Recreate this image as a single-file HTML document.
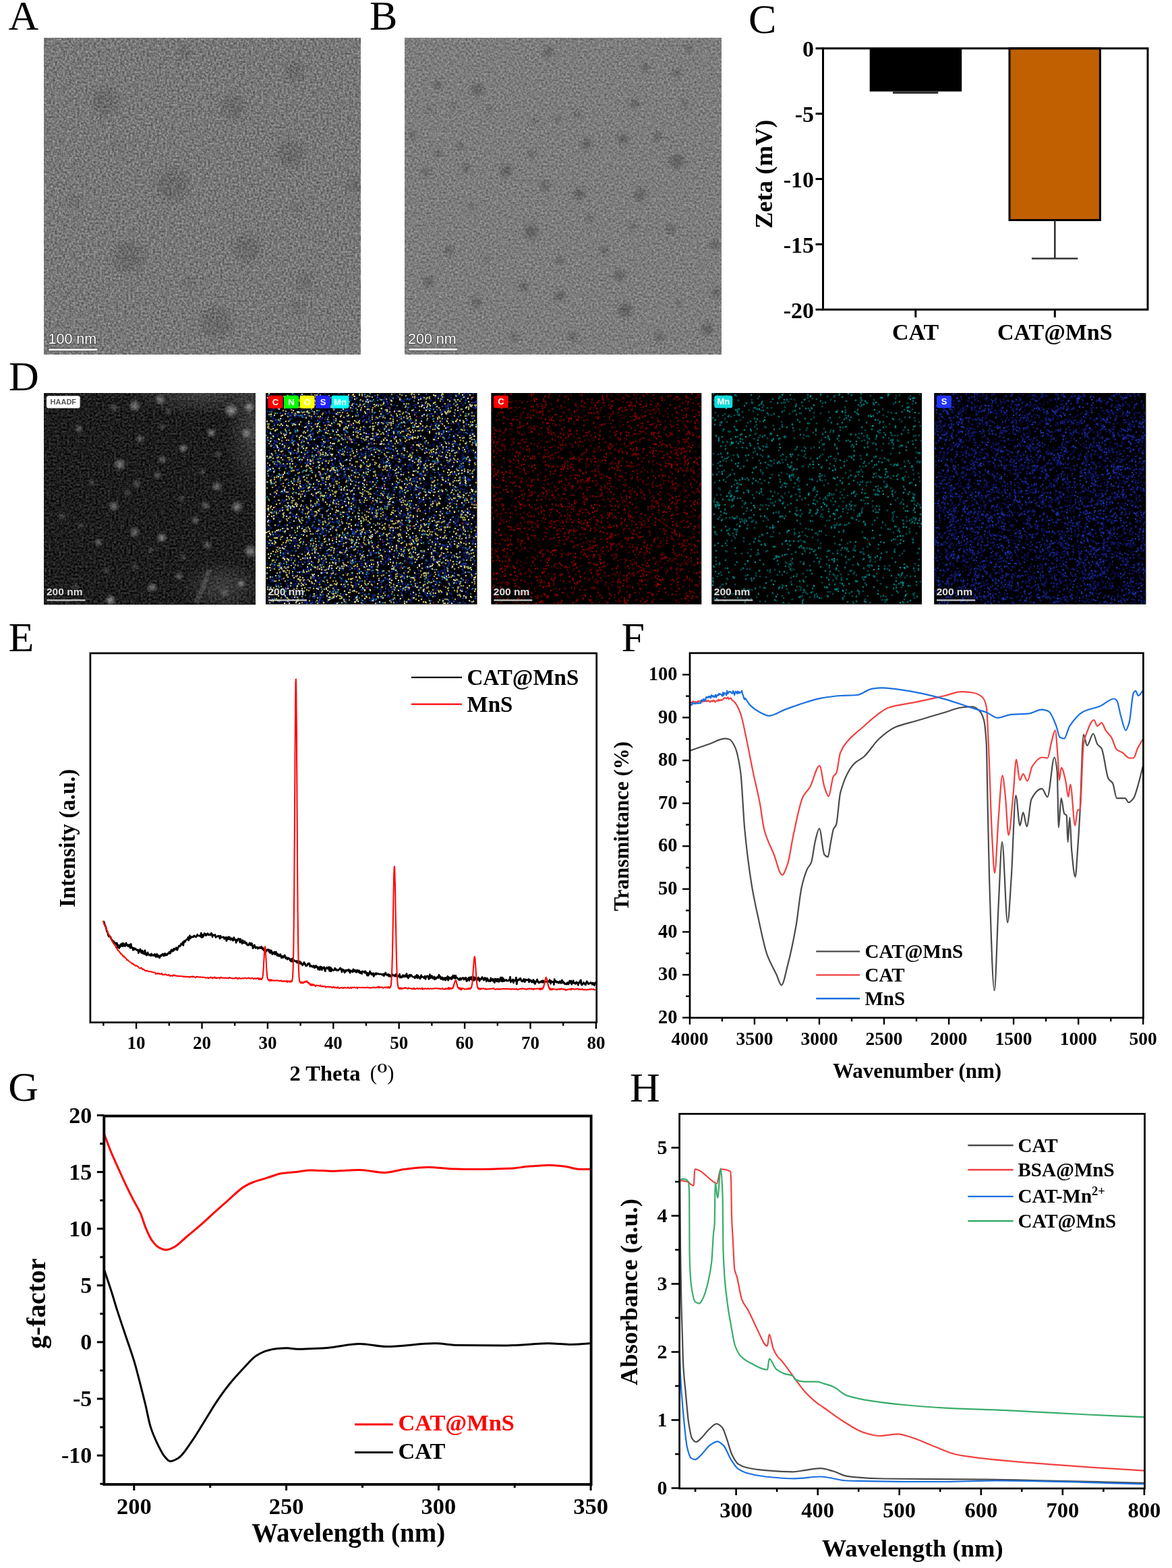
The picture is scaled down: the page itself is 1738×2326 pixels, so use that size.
<!DOCTYPE html>
<html><head><meta charset="utf-8"><title>Figure</title><style>html,body{margin:0;padding:0;background:#fff;overflow:hidden}svg{display:block}</style></head><body><svg width="1738" height="2326" viewBox="0 0 1738 2326"><defs><filter id="temA" x="0" y="0" width="1" height="1" color-interpolation-filters="sRGB"><feTurbulence type="fractalNoise" baseFrequency="0.33" numOctaves="2" seed="3"/><feColorMatrix type="matrix" values="0.5 0 0 0 0.22 0.5 0 0 0 0.22 0.5 0 0 0 0.22 0 0 0 0 1"/><feGaussianBlur stdDeviation="0.55"/></filter><filter id="temB" x="0" y="0" width="1" height="1" color-interpolation-filters="sRGB"><feTurbulence type="fractalNoise" baseFrequency="0.33" numOctaves="2" seed="7"/><feColorMatrix type="matrix" values="0.42 0 0 0 0.28 0.42 0 0 0 0.28 0.42 0 0 0 0.28 0 0 0 0 1"/><feGaussianBlur stdDeviation="0.6"/></filter><filter id="blob3" x="-1" y="-1" width="3" height="3"><feGaussianBlur stdDeviation="5"/></filter><filter id="blob2" x="-1" y="-1" width="3" height="3"><feGaussianBlur stdDeviation="3"/></filter><clipPath id="clipA"><rect x="65.5" y="56" width="469.5" height="470"/></clipPath><clipPath id="clipB"><rect x="600" y="56" width="470" height="470"/></clipPath><clipPath id="clipD0"><rect x="65.5" y="583" width="313.5" height="313.5"/></clipPath><clipPath id="clipD1"><rect x="394" y="583" width="313.5" height="313.5"/></clipPath><clipPath id="clipD2"><rect x="728.3" y="583" width="312" height="313.5"/></clipPath><clipPath id="clipD3"><rect x="1055.3" y="583" width="311.7" height="313.5"/></clipPath><clipPath id="clipD4"><rect x="1385.2" y="583" width="314.2" height="313.5"/></clipPath><filter id="haadf" x="0" y="0" width="1" height="1" color-interpolation-filters="sRGB"><feTurbulence type="fractalNoise" baseFrequency="0.33" numOctaves="2" seed="11"/><feColorMatrix type="matrix" values="0.42 0 0 0 -0.095 0.42 0 0 0 -0.095 0.42 0 0 0 -0.095 0 0 0 0 1"/><feGaussianBlur stdDeviation="0.5"/></filter><radialGradient id="spot"><stop offset="0" stop-color="#fff" stop-opacity="0.6"/><stop offset="0.45" stop-color="#fff" stop-opacity="0.36"/><stop offset="1" stop-color="#fff" stop-opacity="0"/></radialGradient><radialGradient id="glow"><stop offset="0" stop-color="#fff" stop-opacity="0.16"/><stop offset="1" stop-color="#fff" stop-opacity="0"/></radialGradient><filter id="dblur" x="-0.05" y="-0.05" width="1.1" height="1.1"><feGaussianBlur stdDeviation="0.55"/></filter></defs><rect x="0" y="0" width="1738" height="2326" fill="#fff"/><text x="12.5" y="44" font-size="62" font-family="'Liberation Serif','Times New Roman',serif" fill="#000">A</text>
<text x="548" y="44" font-size="62" font-family="'Liberation Serif','Times New Roman',serif" fill="#000">B</text>
<text x="1110" y="48.5" font-size="62" font-family="'Liberation Serif','Times New Roman',serif" fill="#000">C</text>
<text x="13" y="579" font-size="62" font-family="'Liberation Serif','Times New Roman',serif" fill="#000">D</text>
<text x="12.5" y="966.3" font-size="62" font-family="'Liberation Serif','Times New Roman',serif" fill="#000">E</text>
<text x="921.5" y="966.3" font-size="62" font-family="'Liberation Serif','Times New Roman',serif" fill="#000">F</text>
<text x="12.3" y="1633.4" font-size="62" font-family="'Liberation Serif','Times New Roman',serif" fill="#000">G</text>
<text x="934" y="1633.6" font-size="62" font-family="'Liberation Serif','Times New Roman',serif" fill="#000">H</text>
<rect x="65.5" y="56" width="469.5" height="470" fill="none" stroke="none" stroke-width="0" filter="url(#temA)"/>
<g clip-path="url(#clipA)" fill="#000" filter="url(#blob3)"><circle cx="156" cy="151" r="20" fill-opacity="0.11"/><circle cx="345.6" cy="158" r="17.6" fill-opacity="0.11"/><circle cx="436.8" cy="105" r="14.4" fill-opacity="0.11"/><circle cx="273.7" cy="77" r="9.6" fill-opacity="0.11"/><circle cx="172" cy="214" r="6.4" fill-opacity="0.11"/><circle cx="256" cy="274" r="24" fill-opacity="0.11"/><circle cx="431.6" cy="228" r="20" fill-opacity="0.11"/><circle cx="526" cy="274" r="12" fill-opacity="0.11"/><circle cx="108.8" cy="298" r="8" fill-opacity="0.11"/><circle cx="442" cy="309" r="8" fill-opacity="0.11"/><circle cx="191" cy="380.7" r="24" fill-opacity="0.11"/><circle cx="366.7" cy="368.4" r="20" fill-opacity="0.11"/><circle cx="452.6" cy="417.5" r="12" fill-opacity="0.11"/><circle cx="321" cy="479" r="24" fill-opacity="0.11"/><circle cx="442" cy="456" r="9.6" fill-opacity="0.11"/><circle cx="280.7" cy="421" r="8" fill-opacity="0.11"/></g>
<rect x="600" y="56" width="470" height="470" fill="none" stroke="none" stroke-width="0" filter="url(#temB)"/>
<g clip-path="url(#clipB)" fill="#000" filter="url(#blob2)"><circle cx="708" cy="132.8" r="9" fill-opacity="0.2"/><circle cx="649.8" cy="125.7" r="6.3" fill-opacity="0.2"/><circle cx="813.2" cy="77.3" r="7.2" fill-opacity="0.2"/><circle cx="956.8" cy="100" r="6.3" fill-opacity="0.2"/><circle cx="1003.8" cy="108.6" r="6.3" fill-opacity="0.2"/><circle cx="1020.8" cy="71.6" r="5.4" fill-opacity="0.2"/><circle cx="941.2" cy="154" r="7.2" fill-opacity="0.2"/><circle cx="1015" cy="154" r="5.4" fill-opacity="0.2"/><circle cx="855.9" cy="169.7" r="5.4" fill-opacity="0.2"/><circle cx="827.5" cy="176.8" r="4.5" fill-opacity="0.2"/><circle cx="793.3" cy="179.7" r="4.5" fill-opacity="0.2"/><circle cx="725.1" cy="162.6" r="4.5" fill-opacity="0.2"/><circle cx="672.5" cy="157" r="4.5" fill-opacity="0.2"/><circle cx="637" cy="162.6" r="4.5" fill-opacity="0.2"/><circle cx="924.1" cy="206.7" r="8.1" fill-opacity="0.2"/><circle cx="975.3" cy="202.4" r="6.3" fill-opacity="0.2"/><circle cx="870.1" cy="213.8" r="8.1" fill-opacity="0.2"/><circle cx="611.4" cy="201" r="5.4" fill-opacity="0.2"/><circle cx="649.8" cy="226.6" r="5.4" fill-opacity="0.2"/><circle cx="682.5" cy="216.6" r="5.4" fill-opacity="0.2"/><circle cx="789.1" cy="228" r="5.4" fill-opacity="0.2"/><circle cx="1003.8" cy="239.4" r="10.8" fill-opacity="0.2"/><circle cx="631.3" cy="255" r="6.3" fill-opacity="0.2"/><circle cx="691" cy="249.3" r="6.3" fill-opacity="0.2"/><circle cx="750.7" cy="253.6" r="9" fill-opacity="0.2"/><circle cx="807.6" cy="276.4" r="7.2" fill-opacity="0.2"/><circle cx="858.7" cy="287.7" r="9" fill-opacity="0.2"/><circle cx="949.7" cy="289.2" r="9" fill-opacity="0.2"/><circle cx="874.4" cy="323.3" r="5.4" fill-opacity="0.2"/><circle cx="938.4" cy="336.1" r="5.4" fill-opacity="0.2"/><circle cx="995.2" cy="340.3" r="7.2" fill-opacity="0.2"/><circle cx="787.7" cy="343.2" r="10.8" fill-opacity="0.2"/><circle cx="699.5" cy="306.2" r="4.5" fill-opacity="0.2"/><circle cx="665.4" cy="371.6" r="7.2" fill-opacity="0.2"/><circle cx="895.7" cy="370.2" r="6.3" fill-opacity="0.2"/><circle cx="1060.6" cy="363.1" r="7.2" fill-opacity="0.2"/><circle cx="830.3" cy="385.8" r="6.3" fill-opacity="0.2"/><circle cx="720.8" cy="385.8" r="4.5" fill-opacity="0.2"/><circle cx="918.5" cy="408.6" r="8.1" fill-opacity="0.2"/><circle cx="635.5" cy="417.1" r="8.1" fill-opacity="0.2"/><circle cx="776.3" cy="425.6" r="7.2" fill-opacity="0.2"/><circle cx="830.3" cy="438.4" r="8.1" fill-opacity="0.2"/><circle cx="706.6" cy="448.4" r="8.1" fill-opacity="0.2"/><circle cx="927" cy="459.8" r="10.8" fill-opacity="0.2"/><circle cx="1062" cy="434.2" r="7.2" fill-opacity="0.2"/><circle cx="1049.2" cy="488.2" r="9" fill-opacity="0.2"/><circle cx="762" cy="499.6" r="6.3" fill-opacity="0.2"/><circle cx="850.2" cy="499.6" r="7.2" fill-opacity="0.2"/><circle cx="978.2" cy="499.6" r="7.2" fill-opacity="0.2"/><circle cx="1006.6" cy="449.8" r="4.5" fill-opacity="0.2"/></g>
<text x="71.5" y="510" font-size="21.5" font-family="'Liberation Sans',Arial,sans-serif" fill="#fff" stroke="#222" stroke-width="1.6" paint-order="stroke" stroke-opacity="0.7">100 nm</text>
<line x1="73.5" y1="518.7" x2="143.5" y2="518.7" stroke="#333" stroke-opacity="0.6" stroke-width="5" stroke-linecap="round"/>
<line x1="73.5" y1="518.7" x2="143.5" y2="518.7" stroke="#eee" stroke-width="3" stroke-linecap="round"/>
<text x="605" y="510.2" font-size="21.5" font-family="'Liberation Sans',Arial,sans-serif" fill="#fff" stroke="#222" stroke-width="1.6" paint-order="stroke" stroke-opacity="0.7">200 nm</text>
<line x1="607.5" y1="518.3" x2="677" y2="518.3" stroke="#333" stroke-opacity="0.6" stroke-width="5" stroke-linecap="round"/>
<line x1="607.5" y1="518.3" x2="677" y2="518.3" stroke="#eee" stroke-width="3" stroke-linecap="round"/>
<rect x="65.5" y="583" width="313.5" height="313.5" fill="none" stroke="none" stroke-width="0" filter="url(#haadf)"/>
<g clip-path="url(#clipD0)"><ellipse cx="300" cy="583" rx="110" ry="35" fill="url(#glow)"/><ellipse cx="375" cy="640" rx="40" ry="90" fill="url(#glow)"/><ellipse cx="330" cy="870" rx="60" ry="40" fill="url(#glow)"/><path d="M310 845 C305 862 300 878 290 895" stroke="#fff" stroke-opacity="0.12" stroke-width="7" fill="none"/><circle cx="342.5" cy="609" r="11.2" fill="url(#spot)" fill-opacity="0.8"/><circle cx="369.4" cy="604" r="8.8" fill="url(#spot)" fill-opacity="0.7"/><circle cx="199.7" cy="602" r="10" fill="url(#spot)" fill-opacity="0.7"/><circle cx="237.7" cy="593" r="8.8" fill="url(#spot)" fill-opacity="0.6"/><circle cx="168.8" cy="605" r="7.5" fill="url(#spot)" fill-opacity="0.4"/><circle cx="116.9" cy="636" r="7.5" fill="url(#spot)" fill-opacity="0.5"/><circle cx="207.7" cy="651" r="7.5" fill="url(#spot)" fill-opacity="0.5"/><circle cx="313.5" cy="641.9" r="7.5" fill="url(#spot)" fill-opacity="0.7"/><circle cx="365.5" cy="642.9" r="8.8" fill="url(#spot)" fill-opacity="0.6"/><circle cx="271.6" cy="664.8" r="7.5" fill="url(#spot)" fill-opacity="0.7"/><circle cx="240.7" cy="632.9" r="6.2" fill="url(#spot)" fill-opacity="0.3"/><circle cx="177.8" cy="688.8" r="10" fill="url(#spot)" fill-opacity="0.7"/><circle cx="240.7" cy="681.8" r="7.5" fill="url(#spot)" fill-opacity="0.5"/><circle cx="233.7" cy="704.8" r="7.5" fill="url(#spot)" fill-opacity="0.4"/><circle cx="202.7" cy="717.8" r="7.5" fill="url(#spot)" fill-opacity="0.4"/><circle cx="321.5" cy="721.7" r="8.8" fill="url(#spot)" fill-opacity="0.6"/><circle cx="135.9" cy="715.8" r="6.2" fill="url(#spot)" fill-opacity="0.3"/><circle cx="168.8" cy="750.7" r="8.8" fill="url(#spot)" fill-opacity="0.6"/><circle cx="304.6" cy="749.7" r="7.5" fill="url(#spot)" fill-opacity="0.5"/><circle cx="351.5" cy="751.7" r="10" fill="url(#spot)" fill-opacity="0.7"/><circle cx="289.6" cy="771.7" r="7.5" fill="url(#spot)" fill-opacity="0.5"/><circle cx="92" cy="765.7" r="7.5" fill="url(#spot)" fill-opacity="0.3"/><circle cx="199.7" cy="789.6" r="8.8" fill="url(#spot)" fill-opacity="0.6"/><circle cx="239.7" cy="797.6" r="8.8" fill="url(#spot)" fill-opacity="0.7"/><circle cx="145.8" cy="804.6" r="7.5" fill="url(#spot)" fill-opacity="0.5"/><circle cx="307.6" cy="808.6" r="7.5" fill="url(#spot)" fill-opacity="0.5"/><circle cx="371.4" cy="817.6" r="11.2" fill="url(#spot)" fill-opacity="0.7"/><circle cx="265.6" cy="854.5" r="7.5" fill="url(#spot)" fill-opacity="0.5"/><circle cx="225.7" cy="871.5" r="8.8" fill="url(#spot)" fill-opacity="0.6"/><circle cx="357.5" cy="865.5" r="7.5" fill="url(#spot)" fill-opacity="0.6"/><circle cx="163.8" cy="890.4" r="8.8" fill="url(#spot)" fill-opacity="0.8"/><circle cx="271.6" cy="825.6" r="6.2" fill="url(#spot)" fill-opacity="0.3"/><circle cx="111.9" cy="869.5" r="6.2" fill="url(#spot)" fill-opacity="0.3"/><circle cx="333.5" cy="879.5" r="7.5" fill="url(#spot)" fill-opacity="0.3"/><circle cx="189.8" cy="731.7" r="6.2" fill="url(#spot)" fill-opacity="0.3"/><circle cx="323.5" cy="673.8" r="6.2" fill="url(#spot)" fill-opacity="0.3"/><circle cx="269.6" cy="739.7" r="6.2" fill="url(#spot)" fill-opacity="0.3"/><circle cx="223.7" cy="815.6" r="6.2" fill="url(#spot)" fill-opacity="0.3"/><circle cx="157.8" cy="845.5" r="6.2" fill="url(#spot)" fill-opacity="0.3"/><circle cx="250" cy="610" r="6.2" fill="url(#spot)" fill-opacity="0.3"/><circle cx="300" cy="700" r="6.2" fill="url(#spot)" fill-opacity="0.3"/><circle cx="120" cy="780" r="6.2" fill="url(#spot)" fill-opacity="0.3"/><circle cx="200" cy="840" r="6.2" fill="url(#spot)" fill-opacity="0.3"/></g>
<rect x="394" y="583" width="313.5" height="313.5" fill="#000" stroke="none" stroke-width="0"/>
<g clip-path="url(#clipD1)" filter="url(#dblur)"><path d="M466 723h0M510 668h0M500 818h0M682 868h0M589 705h0M485 893h0M684 800h0M672 616h0M626 875h0M395 784h0M500 766h0M428 791h0M460 740h0M649 840h0M578 595h0M585 764h0M419 754h0M481 825h0M550 755h0M447 721h0M463 760h0M423 639h0M691 816h0M562 860h0M685 679h0M702 893h0M434 844h0M406 888h0M578 666h0M478 587h0M613 834h0M595 704h0M599 739h0M521 708h0M502 795h0M591 695h0M564 742h0M585 601h0M651 673h0M576 874h0M612 631h0M485 790h0M608 866h0M682 588h0M483 696h0M594 633h0M496 871h0M478 717h0M675 769h0M572 611h0M705 606h0M425 873h0M583 647h0M436 854h0M583 728h0M571 752h0M626 701h0M398 868h0M439 635h0M550 696h0M480 832h0M652 788h0M541 604h0M414 670h0M666 593h0M586 606h0M424 764h0M601 867h0M548 644h0M550 861h0M565 686h0M458 851h0M678 852h0M473 864h0M515 792h0M462 856h0M514 893h0M543 675h0M462 591h0M471 749h0M445 710h0M518 722h0M504 817h0M458 713h0M654 825h0M614 726h0M409 778h0M594 669h0M626 876h0M500 826h0M497 638h0M415 685h0M658 700h0M452 723h0M661 823h0M699 839h0M432 835h0M549 603h0M672 735h0M496 804h0M604 725h0M542 696h0M460 872h0M398 822h0M609 738h0M675 658h0M619 763h0M547 790h0M635 766h0M555 670h0M595 811h0M625 795h0M423 791h0M695 589h0M535 715h0M594 846h0M667 886h0M431 781h0M452 735h0M450 793h0M406 862h0M601 628h0M641 822h0M440 630h0M571 716h0M549 750h0M609 768h0M602 865h0M706 779h0M501 829h0M400 757h0M564 668h0M673 784h0M562 639h0M697 613h0M648 820h0M631 608h0M599 893h0M642 805h0M642 883h0M462 751h0M698 613h0M674 601h0M408 810h0M512 749h0M437 591h0M613 827h0M673 669h0M700 746h0M600 751h0M611 660h0M604 695h0M466 807h0M606 766h0M513 690h0M593 723h0M682 716h0M635 660h0M579 802h0M692 774h0M599 585h0M445 661h0M626 696h0M604 860h0M399 870h0M623 643h0M602 718h0M457 628h0M643 882h0M616 769h0M587 791h0M614 728h0M464 688h0M455 893h0M586 816h0M633 702h0M670 837h0M453 846h0M418 692h0M578 820h0M469 878h0M455 629h0M588 591h0M499 868h0M679 836h0M613 749h0M468 869h0M398 593h0M630 779h0M405 595h0M576 717h0M666 738h0M516 763h0M706 711h0M695 873h0M665 607h0M625 706h0M649 653h0M601 611h0M447 841h0M529 610h0M519 598h0M688 768h0M611 774h0M470 722h0M512 743h0M580 861h0M473 803h0M576 604h0M694 829h0M546 872h0M458 726h0M543 788h0M580 805h0M664 841h0M459 661h0M499 613h0M473 678h0M506 680h0M665 734h0M594 659h0M524 824h0M647 681h0M652 707h0M685 686h0M610 800h0M515 714h0M515 675h0M568 616h0M584 865h0M701 738h0M641 882h0M686 646h0M610 623h0M670 670h0M415 851h0M476 657h0M702 869h0M617 783h0M693 860h0M612 710h0M604 640h0M460 684h0M496 887h0M641 752h0M706 696h0M501 759h0M536 833h0M564 636h0M628 722h0M629 820h0M686 677h0M674 741h0M572 745h0M589 875h0M552 664h0M543 839h0M423 657h0M657 709h0M448 772h0M466 751h0M566 721h0M609 802h0M694 639h0M700 711h0M651 643h0M475 895h0M605 868h0M582 661h0M419 748h0M511 611h0M528 677h0M595 750h0M654 847h0M694 758h0M591 694h0M654 709h0M642 708h0M619 727h0M408 662h0M497 686h0M429 762h0M637 794h0M514 625h0M472 782h0M637 617h0M606 693h0M609 755h0M519 774h0M451 730h0M593 871h0M500 610h0M705 781h0M648 613h0M605 652h0M437 892h0M450 757h0M569 749h0M400 785h0M513 892h0M592 694h0M629 890h0M455 588h0M477 622h0M684 764h0M454 766h0M473 872h0M424 827h0M628 750h0M522 893h0M529 590h0M411 597h0M439 831h0M543 617h0M586 681h0M551 682h0M605 828h0M496 876h0M507 777h0M644 614h0M623 612h0M639 844h0M624 743h0M521 587h0M614 847h0M684 646h0M419 840h0M669 881h0M612 695h0M706 725h0M496 774h0M634 871h0M456 843h0M581 777h0M452 611h0M438 868h0M500 700h0M526 874h0M555 651h0M436 637h0M666 608h0M699 667h0M646 741h0M612 877h0M569 821h0M415 592h0M662 846h0M698 855h0M462 834h0M595 767h0M479 663h0M405 795h0M530 855h0M657 608h0M624 778h0M601 855h0M644 756h0M613 869h0M560 769h0M411 623h0M545 612h0M427 606h0M527 728h0M395 837h0M615 712h0M635 860h0M592 851h0M553 886h0M659 672h0M532 865h0M483 675h0M451 607h0M630 711h0M642 757h0M671 716h0M599 858h0M585 693h0M563 882h0M549 819h0M469 868h0M641 844h0M551 864h0M552 753h0M522 766h0M575 679h0M647 641h0M550 892h0M430 621h0M696 605h0M459 806h0M476 833h0M617 832h0M491 770h0M511 702h0M434 751h0M485 635h0M611 830h0M654 657h0M506 776h0M522 844h0M404 705h0M595 771h0M528 749h0M598 715h0M508 861h0M540 841h0M401 895h0M604 695h0M530 623h0M472 612h0M467 820h0M606 798h0M579 698h0M631 866h0M455 786h0M523 853h0M472 668h0M455 808h0M682 733h0M574 771h0M670 683h0M604 892h0M624 837h0M450 616h0M655 618h0M419 827h0M613 816h0M574 799h0M605 591h0M676 650h0M399 695h0M525 718h0M685 598h0M461 865h0M472 623h0M555 882h0M519 831h0M592 647h0M649 616h0M606 696h0M480 753h0M634 701h0M486 850h0M421 832h0M434 866h0M632 691h0M436 780h0M643 659h0M428 776h0M597 624h0M449 881h0M410 654h0M674 851h0M610 591h0M406 710h0M444 718h0M434 807h0M486 719h0M628 636h0M696 714h0M437 585h0M596 853h0M641 686h0M541 713h0M421 660h0M620 696h0M480 713h0M485 700h0M611 692h0M550 824h0M493 613h0M552 654h0M618 682h0M455 616h0M402 699h0M652 704h0M429 658h0M629 614h0M524 786h0M547 587h0M406 840h0M693 864h0M559 766h0M545 650h0M675 585h0M469 703h0M693 721h0M433 650h0M566 722h0M652 685h0M596 651h0M692 662h0M618 819h0M662 780h0M557 709h0M475 827h0M449 706h0M401 822h0M547 600h0M415 627h0M474 587h0M398 588h0M504 742h0M558 648h0M452 680h0M466 860h0M644 875h0M430 812h0M700 614h0M638 695h0M397 850h0M596 856h0M491 785h0M438 803h0M682 685h0M623 732h0M590 702h0M602 842h0M584 662h0M464 814h0M608 828h0M453 732h0M678 585h0M455 893h0M519 665h0M655 622h0M474 885h0M448 849h0M557 642h0M506 660h0M499 851h0M574 627h0M607 657h0M421 769h0M705 748h0M544 837h0M428 624h0M438 818h0M396 768h0M599 739h0M435 797h0M625 740h0M627 633h0M429 612h0M489 605h0M586 717h0M692 798h0M602 841h0M528 866h0M488 653h0M561 846h0M659 600h0M649 608h0M545 827h0M478 596h0M686 697h0M495 588h0M402 860h0M511 649h0M469 619h0M435 793h0M426 892h0M517 746h0M668 639h0M660 744h0M555 769h0M543 627h0M691 799h0M441 588h0M539 651h0M688 639h0M561 734h0M638 636h0M484 722h0M583 723h0M486 837h0M644 832h0M432 752h0M685 761h0M483 812h0M448 876h0M652 764h0M651 586h0M665 613h0M526 653h0M665 604h0M511 591h0M653 756h0M659 589h0M528 599h0M563 674h0M581 642h0M525 868h0M691 836h0M504 737h0M642 773h0M650 641h0M649 643h0M618 736h0M664 657h0M476 754h0M477 814h0M557 647h0M442 671h0M446 589h0M665 824h0M602 588h0M491 744h0M621 743h0M578 637h0M582 802h0M509 832h0M440 802h0M632 781h0M457 813h0M436 734h0M500 652h0M539 594h0M462 847h0M613 644h0M484 765h0M589 742h0M607 720h0M695 776h0M420 621h0M405 678h0M682 661h0M629 593h0M693 728h0M431 694h0M529 806h0M566 618h0M503 652h0M608 768h0M700 820h0M444 646h0M511 828h0M489 769h0M664 614h0M590 826h0M500 742h0M623 812h0M617 802h0M633 696h0M519 634h0M402 590h0M648 681h0M487 675h0M551 843h0M472 692h0M558 622h0M429 633h0M638 866h0M484 763h0M486 656h0M419 640h0M564 664h0M469 861h0M614 589h0M559 855h0M622 685h0M459 686h0M585 746h0M494 606h0M695 861h0M705 675h0M430 819h0M433 868h0M459 659h0M633 633h0M691 628h0M522 593h0M649 823h0M443 683h0M588 820h0M679 599h0M596 773h0M521 860h0M475 730h0M704 694h0M459 676h0M464 758h0M516 779h0M667 633h0M544 725h0M479 886h0M672 801h0M582 795h0M655 758h0M606 690h0M596 802h0M503 779h0M679 606h0M688 634h0M626 783h0M535 677h0M652 772h0M453 601h0M563 659h0M418 893h0M705 802h0M636 778h0M494 872h0M396 626h0M702 633h0M459 594h0M624 701h0M579 611h0M577 590h0M686 588h0M455 850h0M696 821h0M407 624h0M673 722h0M583 846h0M662 634h0M615 676h0M462 711h0M638 661h0M395 803h0M590 644h0M534 812h0M609 878h0M424 879h0M650 806h0M514 712h0M687 892h0M507 697h0M473 648h0M506 785h0M590 826h0M446 686h0M416 781h0M467 625h0M557 790h0M635 655h0M657 664h0M520 738h0M672 690h0M478 851h0M694 743h0M653 640h0M670 700h0M596 791h0M511 627h0M598 691h0M433 586h0M614 855h0M458 644h0M494 814h0M534 649h0M410 829h0M507 803h0M581 648h0M578 848h0M667 692h0M647 833h0M591 840h0M690 782h0M423 888h0M701 647h0M519 675h0M672 592h0M483 654h0M446 601h0M487 799h0M499 758h0M462 866h0M573 648h0M628 843h0M433 708h0M521 839h0M443 586h0M636 841h0M660 827h0M489 603h0M633 718h0M629 619h0M438 754h0M503 723h0M621 655h0M396 844h0M610 828h0M477 791h0M478 754h0M484 686h0M424 892h0M473 795h0M514 890h0M509 840h0M566 863h0M605 626h0M590 610h0M513 740h0M415 714h0M691 871h0M595 838h0M440 798h0M525 835h0M505 844h0M575 858h0M705 729h0M521 589h0M432 650h0M504 850h0M518 609h0M464 759h0M418 796h0M421 809h0M605 604h0M652 592h0M458 843h0M604 591h0M583 892h0M670 895h0M529 712h0M672 741h0M406 680h0M468 731h0M596 639h0M406 722h0M441 626h0M510 840h0M654 714h0M407 603h0M437 840h0M566 854h0M671 863h0M592 623h0M412 734h0M642 807h0M585 811h0M573 596h0M522 767h0M485 842h0M409 692h0M503 710h0M422 822h0M586 730h0M640 669h0M618 759h0M543 799h0M641 818h0M657 676h0M475 807h0M437 812h0M659 663h0M409 754h0M527 870h0M453 628h0M581 602h0M676 609h0M565 692h0M664 871h0M544 801h0M606 769h0M659 785h0M640 631h0M509 837h0M395 689h0M613 883h0M571 589h0M589 893h0M600 661h0M701 796h0M688 895h0M461 602h0M405 863h0M432 810h0M670 772h0M457 756h0M623 805h0M439 812h0M705 753h0M654 865h0M460 793h0M598 620h0M524 714h0M423 611h0M563 850h0M493 788h0M493 630h0M437 854h0M658 644h0M501 807h0M562 626h0M504 682h0M611 886h0M516 716h0M664 711h0M492 643h0M606 774h0M619 702h0M616 779h0M540 830h0M640 594h0M485 849h0M506 818h0M509 868h0M634 682h0M576 725h0M618 711h0M517 794h0M530 765h0M557 712h0M419 707h0M640 852h0M617 633h0M475 857h0M575 744h0M686 726h0M537 673h0M404 760h0M638 820h0M429 702h0M470 661h0M508 743h0M628 807h0M629 720h0M620 845h0M641 698h0M661 853h0M506 860h0M508 625h0M698 617h0M476 792h0M643 819h0M459 842h0M435 870h0M665 686h0M410 857h0M627 844h0M463 750h0M452 754h0M695 757h0M644 870h0M515 666h0M627 626h0M499 667h0M435 628h0M650 772h0M402 804h0M519 833h0M569 779h0M695 715h0M656 647h0M657 758h0M489 682h0M631 728h0M490 868h0M468 847h0M535 817h0M575 625h0M552 696h0M444 695h0M685 625h0M613 797h0M696 649h0M409 676h0M427 831h0M434 684h0M697 767h0M503 820h0M566 742h0M611 814h0M594 794h0M455 850h0M666 746h0M668 617h0M430 822h0M640 711h0M417 848h0M453 673h0M550 671h0M415 890h0M506 652h0M686 863h0M682 871h0M640 745h0M649 683h0M412 884h0M459 650h0M438 627h0M451 861h0M591 756h0M617 625h0M634 601h0M672 678h0M624 713h0M610 734h0M403 735h0M413 774h0M419 591h0M447 609h0M575 645h0M703 722h0M457 638h0M516 839h0M702 705h0M408 689h0M423 728h0M614 839h0M626 698h0M602 878h0M527 770h0M441 837h0M666 847h0M591 853h0M609 819h0M437 672h0M399 776h0M523 698h0M583 892h0M648 754h0M521 886h0M562 791h0M703 673h0M596 595h0M512 643h0M704 873h0M580 662h0M462 843h0M682 880h0M455 692h0M602 621h0M526 793h0M572 832h0M569 735h0M628 825h0M612 662h0M600 730h0M704 633h0M460 619h0M549 862h0M492 736h0M456 669h0M401 658h0M577 692h0M523 757h0M528 734h0M682 689h0M436 803h0M656 733h0M559 643h0M592 852h0M420 823h0M682 637h0M498 847h0M650 847h0M510 820h0M695 672h0M687 696h0M433 649h0M537 656h0M543 850h0M665 835h0M499 872h0M541 766h0M670 848h0M680 701h0M520 675h0M631 833h0M542 883h0M633 849h0M559 652h0M418 841h0M436 628h0M441 865h0M601 831h0M410 889h0M666 682h0M650 870h0M662 738h0M679 893h0M496 716h0M663 769h0M431 788h0M598 857h0M653 879h0M591 805h0M668 724h0M577 781h0M570 885h0M407 605h0M495 679h0M433 617h0M634 803h0M558 814h0M495 602h0M505 678h0M587 789h0M552 618h0M426 665h0M620 649h0M623 819h0M515 682h0M617 680h0M706 787h0M685 851h0M627 760h0M427 816h0M435 673h0M557 733h0M421 820h0M555 766h0M594 631h0M667 745h0M681 671h0M496 880h0M424 676h0M626 696h0M459 612h0M605 782h0M638 796h0M448 706h0M404 809h0M551 762h0M511 597h0M426 736h0M430 728h0M445 814h0M508 737h0M426 772h0M468 631h0M631 836h0M545 756h0M670 761h0M492 604h0M694 831h0M474 748h0M465 783h0M645 651h0M548 823h0M634 679h0M666 600h0M608 891h0M424 613h0M500 824h0M588 718h0M530 843h0M493 785h0M584 584h0M664 633h0M704 696h0M484 620h0M532 752h0M601 847h0M415 651h0M457 804h0M671 648h0M457 590h0M570 608h0M647 807h0M655 795h0M637 592h0M583 626h0M535 695h0M499 615h0M473 690h0M666 823h0M664 861h0M582 601h0M700 734h0M557 827h0M652 732h0M686 763h0M528 701h0M662 814h0M606 722h0M536 654h0M399 815h0M568 683h0M419 879h0M448 812h0M397 604h0M397 892h0M574 712h0M676 890h0M588 609h0M675 593h0M617 585h0M468 737h0M593 884h0M649 804h0M538 732h0M695 798h0M656 611h0M673 628h0M509 734h0M420 655h0M634 864h0M439 881h0M591 667h0M584 887h0M477 710h0M438 847h0M622 585h0M460 826h0M623 704h0M442 779h0M583 685h0M433 828h0M454 851h0M487 624h0M415 682h0M583 745h0M693 819h0M614 611h0M657 888h0M601 790h0M407 713h0M427 819h0M611 747h0M596 750h0M687 847h0M666 688h0M477 811h0M702 760h0M426 702h0M483 737h0M546 658h0M572 870h0M549 723h0M408 600h0M466 784h0M401 796h0M685 664h0M546 602h0M514 662h0M574 816h0M652 626h0M445 591h0M568 586h0M446 664h0M544 738h0M413 755h0M656 625h0M594 732h0M676 736h0M608 689h0M586 875h0M406 895h0M591 812h0M636 855h0M554 794h0M693 585h0M705 612h0M631 668h0M466 666h0M499 767h0M454 814h0M498 745h0M645 862h0M554 611h0M690 824h0M688 701h0M527 792h0M630 597h0M577 824h0M437 712h0M702 826h0M396 660h0M578 598h0M557 821h0M603 741h0M520 784h0M676 858h0M601 724h0M417 757h0M448 725h0M485 696h0M585 857h0M435 584h0M670 676h0M470 649h0M519 802h0M564 821h0M544 882h0M456 860h0M501 794h0M665 761h0M478 891h0M478 836h0M660 850h0M671 622h0M644 695h0M430 863h0M497 836h0M588 832h0M593 673h0M416 705h0M508 603h0M702 658h0M579 587h0M425 658h0M460 871h0M480 661h0M557 596h0M672 733h0M535 807h0M663 605h0M594 612h0M411 793h0M687 585h0M434 879h0M503 591h0M702 847h0M645 885h0M537 743h0M451 661h0M508 747h0M484 677h0M585 888h0M523 610h0M446 882h0M423 603h0M453 778h0M690 590h0M688 777h0M459 830h0M694 677h0M586 676h0M396 894h0M475 817h0M494 691h0M469 788h0M539 675h0M661 670h0M483 629h0M684 607h0M401 678h0M469 619h0M423 799h0M562 834h0M519 853h0M540 802h0M595 647h0M566 660h0M577 680h0M650 820h0M701 783h0M417 765h0M410 627h0M542 739h0M487 718h0M636 767h0M552 634h0M697 825h0M403 608h0M553 863h0M638 893h0M674 796h0M688 700h0M475 668h0M484 855h0M588 893h0M598 893h0M445 895h0M531 691h0M632 840h0M448 867h0M495 689h0M506 695h0M553 763h0M632 789h0M561 837h0M581 875h0M574 662h0M405 746h0M429 851h0M404 676h0M627 792h0M599 762h0M453 641h0M666 836h0M436 891h0M606 758h0M697 780h0M705 743h0M600 819h0M408 629h0M397 588h0M570 803h0M562 620h0M635 607h0M696 692h0M472 673h0M444 750h0M448 876h0M512 880h0M563 585h0M689 883h0M463 749h0M449 837h0M598 744h0M705 733h0M679 837h0M680 642h0M664 744h0M486 654h0M598 733h0M439 641h0M521 718h0M600 713h0M522 699h0M601 679h0M532 793h0M409 759h0M687 712h0M430 643h0M419 762h0M641 802h0M625 687h0M647 627h0M416 837h0M641 603h0M601 726h0M604 679h0M580 784h0M639 719h0M698 850h0M573 832h0M554 764h0M649 604h0M437 687h0M396 836h0M544 661h0M580 856h0M662 812h0M619 646h0M550 628h0M624 800h0M428 684h0M597 604h0M581 733h0M701 604h0M399 668h0M424 820h0M424 693h0M408 841h0M656 846h0M586 876h0M680 767h0M403 626h0M427 710h0M638 694h0M450 828h0M703 690h0M463 775h0M546 592h0M615 601h0M637 614h0M593 892h0M627 712h0M478 716h0M661 611h0M616 871h0M643 782h0M693 881h0M554 637h0M583 786h0M473 838h0M476 870h0M465 658h0M690 683h0M610 806h0M418 642h0M622 718h0M530 797h0M401 661h0M693 783h0M409 790h0M491 753h0M655 764h0M504 784h0M596 852h0M611 722h0M617 826h0M665 659h0M546 639h0M594 773h0M430 867h0M665 832h0M530 709h0M480 742h0M605 827h0M453 766h0M408 810h0M544 622h0M535 747h0M486 654h0M478 659h0M589 757h0M698 735h0M603 772h0M611 755h0M518 620h0M539 662h0M684 786h0M581 769h0M410 645h0M517 841h0M409 714h0M431 859h0M634 842h0M618 777h0M519 693h0M678 627h0M463 764h0M645 649h0M512 599h0M648 739h0M529 833h0M534 622h0M450 744h0M521 634h0M653 762h0M502 834h0M502 613h0M445 840h0M615 855h0M518 589h0M466 809h0M477 789h0M462 859h0M579 810h0M424 820h0M597 625h0M409 602h0M679 635h0M454 691h0M539 852h0M595 622h0M425 818h0M594 676h0M567 612h0M472 770h0M588 639h0M503 703h0M700 682h0M689 789h0M636 847h0M414 778h0M553 600h0M687 692h0M652 730h0M697 780h0M693 805h0M664 667h0M576 706h0M459 828h0M706 672h0M573 614h0M508 870h0M648 798h0M632 819h0M689 726h0M504 669h0M704 874h0M520 862h0M586 783h0M568 721h0M452 619h0M443 665h0M684 684h0M637 850h0M549 589h0M466 824h0M438 751h0M595 622h0M706 848h0M568 732h0M427 603h0M645 587h0M486 661h0M626 871h0M508 884h0M615 884h0M463 762h0M573 594h0M458 717h0M446 624h0M542 706h0M661 709h0M470 604h0M694 799h0M645 686h0M660 773h0M555 875h0M626 778h0M412 767h0M675 844h0M457 657h0M646 628h0M532 891h0M552 636h0M429 647h0M703 619h0M630 716h0M474 685h0M640 714h0M612 681h0M438 829h0M403 886h0M647 875h0M607 602h0M451 740h0M665 753h0M646 868h0M684 733h0M425 684h0M700 777h0M682 812h0M691 808h0M605 690h0M432 771h0M672 712h0M641 794h0M615 592h0M702 864h0M409 734h0M483 681h0M524 714h0M463 779h0M425 781h0M399 764h0M458 834h0M401 586h0M444 791h0M603 833h0M550 598h0M424 842h0M596 752h0M700 641h0M438 749h0M504 763h0M459 592h0M626 788h0M435 824h0M527 700h0M428 742h0M450 801h0M513 850h0M689 759h0M450 650h0M480 790h0M483 718h0M606 760h0M510 820h0M423 893h0M695 584h0M461 802h0M476 780h0M600 852h0M683 763h0M675 592h0M414 860h0M597 679h0M540 586h0M482 867h0M610 860h0M460 836h0M581 873h0M458 759h0M472 892h0M538 811h0M532 785h0M534 728h0M524 600h0M680 888h0M537 595h0M417 665h0M455 856h0M590 820h0M554 710h0M578 706h0M685 607h0M434 648h0M454 650h0M408 590h0M402 873h0M647 585h0M619 611h0M539 772h0M431 828h0M468 883h0M456 676h0M559 841h0M434 655h0M686 780h0M416 651h0M413 771h0M427 749h0M528 650h0M444 795h0M657 679h0M523 803h0M652 717h0M672 640h0M591 809h0M475 623h0M460 653h0M639 608h0M403 694h0M655 703h0M402 863h0M426 595h0M669 586h0M644 779h0M657 834h0M561 704h0M436 861h0M610 893h0M694 820h0M644 756h0M611 889h0M634 666h0M585 728h0M395 668h0M586 677h0M449 613h0M555 749h0M677 670h0M569 792h0M657 847h0M694 830h0M573 607h0M560 691h0M553 813h0M560 745h0M397 678h0M693 886h0M559 764h0M622 800h0M668 893h0M502 669h0M459 640h0M598 813h0M522 752h0M676 772h0M489 710h0M564 820h0M442 587h0M547 670h0M401 674h0M432 614h0M618 757h0M421 743h0M484 596h0M409 837h0M643 676h0M601 847h0M536 676h0M518 680h0M490 888h0M591 732h0M695 700h0M436 646h0M477 733h0M631 882h0M691 775h0M591 629h0M670 624h0M443 712h0M579 783h0M456 829h0M674 650h0M552 689h0M654 734h0M519 648h0M428 639h0M408 634h0M502 771h0M703 745h0M593 813h0M578 809h0M449 641h0M694 822h0M403 837h0M691 590h0M526 860h0M397 610h0M440 595h0M520 729h0M431 655h0M482 585h0M656 810h0M673 866h0M436 713h0M517 608h0M494 689h0M523 830h0M639 882h0M622 871h0M677 775h0M498 614h0M529 657h0M419 588h0M476 775h0M531 671h0M593 822h0M483 793h0M679 660h0M550 866h0M701 771h0M602 588h0M473 750h0M490 730h0M536 828h0M470 599h0M639 833h0M687 753h0M442 875h0M507 807h0M607 762h0M672 680h0M527 864h0M666 804h0M490 683h0M625 590h0M511 608h0M554 768h0M685 726h0M525 889h0M534 597h0M685 837h0M576 860h0M524 651h0M449 755h0M548 612h0M623 620h0M681 820h0M473 864h0M446 725h0M683 610h0M690 588h0M485 632h0M701 736h0M682 622h0M613 601h0M615 717h0M433 695h0M456 615h0M667 585h0M666 648h0M630 730h0M525 698h0M584 669h0M413 674h0M581 720h0M567 861h0M397 599h0M684 753h0M470 895h0M531 846h0M412 726h0M695 712h0M463 588h0M615 639h0M430 606h0M582 878h0M419 682h0M554 752h0M523 690h0M483 691h0M579 788h0M644 767h0M520 682h0M499 663h0M651 675h0M517 766h0M460 771h0M577 730h0M664 651h0M491 878h0M396 640h0M449 640h0M653 848h0M620 590h0M404 893h0M556 755h0M662 878h0M683 607h0M508 858h0M510 620h0M459 844h0M460 720h0M631 703h0M574 859h0M406 860h0M559 734h0M608 604h0M434 652h0M444 757h0M668 849h0M552 595h0M636 727h0M563 745h0M526 652h0M446 723h0M466 595h0M651 705h0M673 649h0M653 789h0M480 836h0M504 676h0M485 634h0M669 728h0M487 778h0M639 705h0M677 765h0M397 885h0M587 721h0M608 687h0M513 763h0M614 859h0M453 813h0M568 634h0M542 666h0M481 603h0M593 867h0M648 678h0M565 681h0M546 872h0M610 752h0M689 824h0M520 747h0M435 763h0M521 669h0M604 674h0M399 615h0M656 643h0M500 771h0M684 638h0M672 691h0M622 730h0M471 610h0M563 742h0M537 786h0M580 818h0M455 774h0M419 610h0M543 882h0M500 603h0M547 697h0M633 654h0M556 807h0M427 661h0M439 616h0M440 732h0M657 596h0M412 822h0M515 722h0M574 604h0M608 747h0M667 848h0M509 639h0M444 617h0M456 653h0M653 720h0M524 629h0M565 878h0M639 789h0M552 868h0M678 735h0M447 743h0M508 661h0M524 726h0M686 675h0M594 656h0M567 729h0M618 590h0M506 862h0M473 678h0M655 802h0M626 684h0M528 746h0M703 802h0M489 763h0M667 745h0M554 767h0M495 586h0M672 721h0M536 697h0M650 678h0M530 627h0M492 782h0M397 751h0M664 873h0M638 667h0M484 868h0M410 767h0M617 605h0M439 726h0M470 821h0M479 883h0M444 665h0M594 706h0M701 765h0M565 875h0M613 750h0M640 727h0M660 794h0M595 742h0M429 882h0M689 761h0M604 873h0M662 726h0M694 839h0M588 766h0M585 638h0M395 786h0M614 732h0M477 734h0M666 740h0M634 633h0M668 772h0M635 840h0M395 615h0M687 842h0M664 890h0M639 745h0M471 686h0M610 664h0M548 784h0M532 702h0M570 814h0M489 888h0M465 766h0M602 778h0M665 710h0M653 587h0M690 594h0M698 803h0M526 808h0M521 619h0M528 605h0M460 606h0M633 624h0M668 809h0M476 870h0M519 657h0M457 591h0M680 741h0M645 722h0M661 645h0M638 594h0M588 895h0M550 890h0M419 726h0M622 728h0M449 759h0M429 703h0M597 743h0M545 600h0M491 822h0M672 724h0M667 774h0M427 668h0M605 745h0M629 855h0M416 772h0M654 760h0M677 660h0M467 885h0M405 618h0M438 714h0M617 851h0M426 816h0M574 679h0M543 735h0M483 690h0M510 657h0M597 666h0M434 697h0M650 588h0M420 756h0M561 804h0M643 661h0M616 715h0M466 816h0M628 689h0M464 677h0M703 863h0M415 773h0M704 652h0M691 848h0M479 845h0M472 842h0M420 732h0M550 762h0M625 731h0M411 626h0M551 717h0M547 677h0M409 728h0M477 648h0M624 741h0M467 634h0M662 781h0M544 628h0M553 883h0M427 784h0M466 716h0M460 794h0M624 664h0M579 663h0M577 671h0M408 645h0M690 664h0M463 891h0M398 805h0M580 841h0M434 756h0M517 758h0M405 837h0M658 704h0M646 594h0M619 671h0M651 747h0M412 623h0M412 709h0M397 596h0M631 703h0M574 748h0M444 800h0M686 681h0M531 720h0M410 883h0M491 683h0M515 874h0M411 679h0M654 776h0M511 863h0M514 815h0M587 718h0M628 827h0M572 635h0M574 796h0M459 633h0M636 837h0M586 636h0M440 773h0M412 675h0M479 811h0M667 868h0M406 860h0M558 730h0M631 634h0M659 684h0M599 596h0M528 856h0M478 596h0M519 756h0M471 829h0M493 661h0M687 719h0M590 841h0M617 698h0M458 772h0M703 835h0M605 828h0M551 716h0M630 824h0M545 856h0M642 689h0M684 840h0M574 586h0M482 821h0M573 808h0M585 640h0M577 816h0M555 833h0M689 886h0M550 651h0M450 666h0M673 705h0M656 639h0M408 779h0M462 643h0M477 634h0M406 859h0M671 797h0M466 701h0M517 818h0M666 588h0M693 823h0M519 753h0M587 667h0M588 675h0M583 891h0M693 793h0M427 816h0M550 759h0M631 759h0M516 869h0M476 841h0M644 873h0M592 609h0M410 726h0" stroke="#0c1652" stroke-width="3.2" stroke-linecap="round" stroke-opacity="1" fill="none"/><path d="M431 745h0M411 682h0M435 889h0M638 814h0M487 823h0M692 813h0M556 622h0M620 822h0M538 879h0M594 874h0M582 590h0M461 746h0M645 713h0M633 842h0M657 771h0M576 697h0M556 871h0M637 759h0M526 844h0M511 707h0M417 621h0M638 770h0M481 647h0M691 777h0M703 740h0M573 684h0M516 840h0M435 802h0M639 830h0M456 635h0M430 686h0M666 736h0M548 594h0M699 857h0M556 664h0M634 640h0M693 637h0M683 874h0M687 812h0M500 792h0M503 667h0M577 877h0M659 841h0M568 853h0M468 770h0M646 773h0M583 823h0M657 588h0M615 625h0M466 630h0M537 665h0M468 828h0M593 777h0M474 878h0M455 673h0M599 735h0M433 621h0M693 822h0M419 844h0M566 887h0M417 836h0M554 884h0M470 681h0M611 834h0M541 835h0M608 592h0M623 690h0M458 598h0M642 829h0M548 740h0M458 760h0M396 652h0M648 800h0M434 648h0M688 670h0M402 793h0M699 816h0M698 762h0M489 871h0M473 774h0M578 655h0M563 648h0M503 781h0M461 627h0M598 647h0M509 835h0M621 851h0M545 603h0M568 769h0M549 841h0M657 728h0M641 807h0M596 727h0M648 865h0M440 862h0M512 694h0M440 870h0M576 643h0M452 671h0M520 684h0M544 592h0M526 843h0M513 889h0M701 702h0M706 793h0M420 731h0M656 808h0M642 746h0M690 742h0M552 589h0M625 802h0M625 744h0M423 779h0M548 808h0M449 655h0M616 709h0M536 672h0M523 789h0M671 744h0M650 589h0M519 675h0M510 585h0M573 627h0M503 697h0M670 881h0M438 618h0M698 719h0M559 871h0M611 647h0M448 733h0M482 671h0M432 827h0M682 613h0M637 756h0M490 700h0M398 889h0M577 666h0M575 734h0M556 883h0M496 836h0M536 781h0M479 849h0M500 703h0M580 704h0M527 885h0M432 679h0M547 618h0M585 764h0M591 824h0M560 628h0M576 612h0M476 838h0M682 633h0M490 818h0M402 843h0M535 810h0M587 690h0M626 886h0M611 671h0M448 700h0M649 663h0M404 651h0M425 786h0M424 753h0M415 698h0M462 598h0M482 611h0M589 670h0M564 894h0M666 837h0M686 719h0M405 604h0M665 864h0M687 601h0M533 846h0M577 701h0M496 797h0M698 652h0M478 791h0M469 808h0M610 672h0M560 894h0M449 860h0M590 685h0M500 636h0M503 670h0M702 816h0M409 792h0M621 869h0M452 819h0M662 607h0M613 608h0M504 749h0M401 772h0M510 705h0M490 744h0M549 797h0M423 742h0M464 682h0M404 661h0M414 893h0M535 741h0M494 639h0M465 763h0M519 756h0M649 666h0M576 831h0M631 669h0M491 754h0M461 718h0M473 858h0M555 664h0M503 705h0M493 710h0M650 683h0M621 677h0M590 691h0M660 809h0M600 668h0M511 798h0M571 659h0M682 720h0M638 854h0M417 841h0M415 689h0M401 733h0M526 599h0M691 827h0M571 664h0M565 654h0M680 628h0M433 817h0M593 765h0M617 612h0M677 696h0M436 713h0M407 700h0M627 826h0M506 807h0M524 645h0M413 796h0M581 848h0M662 794h0M572 678h0M679 735h0M520 841h0M690 684h0M510 609h0M510 822h0M547 815h0M625 772h0M632 590h0M588 846h0M617 681h0M458 837h0M550 804h0M472 681h0M434 731h0M472 826h0M472 717h0M528 869h0M648 688h0M580 798h0M526 788h0M446 848h0M566 702h0M678 779h0M578 858h0M632 882h0M693 763h0M706 792h0M433 762h0M425 866h0M528 796h0M663 759h0M517 709h0M624 872h0M413 644h0M527 593h0M705 839h0M621 869h0M603 639h0M552 888h0M671 655h0M417 772h0M422 644h0M623 679h0M511 699h0M632 771h0M636 589h0M665 709h0M613 667h0M611 649h0M680 586h0M622 659h0M697 602h0M556 760h0M645 635h0M570 668h0M482 831h0M545 664h0M548 609h0M640 630h0M462 686h0M670 768h0M650 849h0M595 860h0M519 628h0M627 705h0M608 723h0M581 735h0M533 833h0M414 622h0M522 745h0M662 695h0M688 709h0M478 892h0M426 634h0M582 617h0M459 609h0M536 786h0M669 812h0M652 662h0M553 794h0M629 877h0M632 735h0M577 629h0M568 757h0M576 818h0M554 695h0M683 784h0M665 811h0M568 667h0M590 866h0M463 698h0M542 893h0M628 666h0M459 682h0M618 650h0M695 684h0M460 827h0M537 707h0M628 589h0M705 817h0M472 809h0M425 810h0M432 628h0M571 601h0M653 669h0M545 779h0M596 657h0M485 860h0M495 782h0M480 712h0M526 889h0M578 707h0M457 678h0M668 693h0M593 728h0M546 844h0M601 639h0M520 728h0M682 807h0M538 619h0M421 744h0M395 693h0M534 824h0M686 813h0M471 666h0M497 598h0M405 595h0M598 765h0M456 812h0M430 687h0M516 641h0M673 854h0M587 631h0M598 872h0M575 642h0M500 879h0M542 647h0M584 874h0M673 788h0M499 748h0M482 794h0M698 643h0M588 634h0M488 773h0M476 807h0M530 841h0M574 867h0M478 677h0M647 645h0M518 652h0M537 674h0M459 652h0M570 636h0M678 723h0M662 668h0M685 688h0M690 839h0M557 667h0M681 683h0M569 706h0M458 769h0M685 831h0M611 684h0M704 658h0M630 601h0M434 681h0M466 857h0M553 808h0M690 720h0M508 709h0M619 810h0M512 868h0M676 865h0M424 689h0M652 671h0M517 778h0M443 757h0M418 884h0M484 882h0M662 635h0M500 589h0M531 602h0M688 650h0M693 709h0M454 861h0M636 727h0M604 761h0M500 741h0M506 595h0M536 747h0M530 800h0M575 801h0M686 692h0M569 628h0M444 727h0M595 779h0M654 720h0M551 822h0M457 717h0M610 691h0M680 861h0M546 832h0M604 717h0M527 640h0M690 895h0M537 769h0M659 835h0M616 856h0M516 872h0M600 894h0M406 607h0M662 674h0M605 875h0M622 791h0M576 657h0M536 836h0M437 813h0M532 848h0M597 882h0M435 836h0M571 827h0M628 648h0M636 882h0M617 798h0M705 735h0M613 684h0M653 643h0M679 895h0M548 666h0M468 820h0M638 743h0M577 885h0M432 669h0M690 679h0M634 861h0M401 698h0M634 615h0M404 694h0M636 888h0M577 827h0M577 863h0M445 719h0M671 887h0M479 828h0M455 611h0M706 653h0M512 741h0M450 863h0M693 699h0M490 743h0M419 706h0M663 844h0M414 723h0M605 829h0M699 645h0M402 783h0M544 689h0M505 687h0M466 887h0M492 769h0M417 813h0M538 874h0M612 870h0M529 866h0M421 689h0M665 839h0M569 815h0M426 718h0M481 874h0M657 642h0M428 832h0M702 670h0M615 880h0M468 783h0M609 624h0M400 672h0M599 701h0M474 799h0M608 783h0M507 727h0M532 775h0M629 745h0M415 794h0M489 868h0M499 884h0M648 625h0M569 685h0M692 593h0M525 829h0M575 748h0M516 694h0M628 694h0M441 647h0M445 821h0M583 790h0M548 874h0M649 724h0M649 633h0M639 740h0M453 718h0M691 594h0M686 790h0M649 804h0M636 803h0M520 693h0M531 725h0M470 639h0M679 669h0M568 707h0M702 830h0M604 635h0M643 608h0M632 851h0M597 691h0M457 616h0M649 742h0M468 660h0M546 731h0M511 820h0M479 788h0M438 875h0M400 774h0M399 773h0M485 700h0M547 618h0M440 671h0M475 774h0M561 796h0M621 735h0M592 764h0M549 675h0M652 657h0M562 600h0M423 815h0M502 584h0M660 716h0M657 827h0M535 795h0M697 782h0M417 690h0M442 886h0M662 623h0M579 593h0M466 724h0M443 639h0M601 717h0M514 750h0M469 604h0M490 774h0M402 707h0M672 663h0M440 732h0M569 837h0M432 829h0M596 800h0M476 704h0M525 815h0M491 853h0M480 845h0M534 698h0M574 767h0M421 627h0M497 682h0M695 753h0M570 598h0M688 677h0M449 672h0M512 650h0M591 759h0M653 661h0M688 706h0M554 740h0M441 807h0M465 870h0M514 800h0M446 799h0M667 834h0M485 625h0M687 829h0M430 605h0M578 697h0M448 853h0M509 685h0M528 698h0M586 765h0M531 844h0M562 629h0M553 646h0M703 643h0M604 612h0M404 588h0M688 642h0M635 865h0M494 700h0M593 657h0M516 695h0M628 699h0M516 759h0M438 876h0M670 871h0M482 641h0M465 666h0M581 807h0M546 644h0M488 611h0M683 725h0M624 828h0M491 680h0M646 604h0M489 843h0M476 785h0M663 808h0M645 804h0M609 760h0M543 791h0M458 686h0M684 695h0M535 777h0M404 843h0M552 714h0M475 684h0M618 714h0M650 831h0M660 621h0M446 868h0M622 746h0M624 635h0M485 758h0M611 769h0M676 803h0M408 655h0M433 628h0M405 768h0M434 671h0M569 808h0M497 895h0M410 757h0M632 683h0M634 734h0M530 779h0M429 733h0M458 669h0M535 668h0M549 824h0M469 723h0M637 752h0M427 766h0M459 704h0M552 842h0M624 591h0M565 705h0M457 637h0M548 707h0M430 720h0M542 846h0M636 837h0M517 739h0M408 743h0M682 739h0M525 713h0M411 850h0M489 738h0M499 783h0M578 653h0M544 666h0M487 654h0M598 690h0M396 651h0M537 839h0M582 874h0M468 612h0M687 750h0M693 864h0M673 774h0M475 888h0M428 700h0M417 745h0M629 689h0M403 588h0M449 762h0M512 598h0M702 745h0M699 668h0M645 685h0M508 802h0M678 743h0M500 813h0M495 763h0M679 770h0M438 866h0M509 594h0M470 863h0M559 590h0M654 613h0M683 719h0M525 793h0M432 697h0M543 670h0M627 770h0M635 855h0M703 597h0M395 851h0M414 735h0M619 758h0M638 727h0M695 669h0M630 879h0M661 753h0M522 745h0M452 893h0M616 815h0M659 692h0M538 625h0M683 819h0M432 665h0M425 786h0M474 704h0M688 850h0M507 763h0M400 858h0M609 626h0M668 819h0M673 758h0M459 659h0M504 841h0M503 840h0M579 688h0M598 639h0M589 587h0M516 592h0M649 848h0M567 611h0M446 713h0M577 751h0M671 754h0M498 731h0M440 802h0M687 861h0M674 827h0M428 712h0M594 594h0M631 879h0M619 754h0M461 758h0M650 696h0M462 617h0M705 851h0M428 614h0M668 798h0M533 863h0M597 885h0M440 690h0M488 823h0M406 591h0M493 774h0M638 841h0M622 857h0M464 751h0M461 644h0M583 870h0M704 679h0M601 847h0M515 804h0M439 714h0M578 607h0M417 634h0M462 763h0M642 673h0M438 807h0M528 615h0M568 765h0M426 617h0M516 732h0M520 833h0M492 632h0M421 842h0M553 884h0M622 687h0M551 595h0M490 855h0M443 878h0M524 744h0M525 598h0M604 647h0M447 683h0M678 751h0M474 886h0M593 736h0M396 809h0M606 700h0M645 628h0M564 878h0M634 832h0M486 889h0M455 656h0M510 593h0M563 626h0M572 859h0M677 860h0M449 758h0M526 739h0M607 690h0M422 691h0M561 804h0M641 601h0M437 617h0M704 673h0M485 725h0M634 797h0M546 660h0M537 791h0M576 737h0M474 677h0M605 648h0M612 688h0M518 752h0M564 667h0M592 714h0M580 647h0M682 798h0M459 597h0M646 590h0M497 834h0M608 649h0M661 603h0M515 795h0M433 794h0M565 867h0M676 644h0M409 623h0M585 705h0M602 789h0M410 638h0M576 860h0M580 672h0M401 593h0M608 803h0M702 643h0M565 791h0M513 600h0M476 861h0M426 586h0M471 714h0M653 815h0M416 755h0M516 696h0M701 802h0M668 680h0M397 804h0M581 749h0M597 874h0M578 622h0M618 738h0M496 652h0M468 651h0M677 597h0M461 593h0M570 592h0M594 659h0M578 660h0M496 829h0M518 665h0M447 724h0M645 809h0M563 628h0M526 679h0M646 674h0M474 677h0M505 703h0M635 859h0M478 788h0M434 646h0M647 833h0M704 605h0M673 824h0M448 632h0M457 631h0M502 808h0M407 697h0M584 822h0M681 786h0M508 747h0M601 764h0M456 679h0M525 739h0M489 876h0M472 839h0M644 788h0M696 596h0M571 763h0M457 833h0M401 591h0M652 863h0M675 657h0M645 862h0M584 676h0M672 823h0M568 593h0M677 683h0M564 874h0M634 679h0M484 613h0M412 780h0M618 735h0M472 726h0M661 850h0M624 679h0M590 674h0M665 599h0M652 826h0M464 734h0M423 666h0M621 846h0M411 686h0M704 774h0M600 593h0M521 631h0M626 742h0M411 647h0M584 784h0M595 727h0M638 618h0M528 720h0M616 753h0M667 761h0M470 883h0M543 699h0M510 668h0M648 873h0M437 630h0M674 668h0M525 631h0M562 814h0M673 690h0M422 876h0M404 633h0M398 695h0M683 763h0M622 722h0M660 849h0M706 597h0M597 690h0M478 620h0M683 623h0M440 657h0M568 816h0M686 747h0M463 813h0M566 775h0M521 801h0M458 832h0M685 858h0M599 812h0M689 584h0M406 628h0M659 845h0M616 656h0M462 648h0M574 796h0M515 608h0M561 848h0M412 788h0M572 769h0M397 692h0M555 820h0M474 758h0M401 855h0M497 708h0M514 624h0M645 588h0M528 742h0M545 788h0M688 697h0M478 808h0M535 610h0M545 848h0M479 657h0M547 676h0M654 610h0M553 667h0M523 699h0M489 613h0M669 628h0M681 716h0M434 657h0M691 630h0M571 620h0M537 820h0M415 851h0M624 589h0M621 597h0M578 849h0M487 650h0M439 885h0M519 813h0M631 658h0M692 796h0M611 586h0M510 893h0M668 601h0M427 873h0M493 714h0M534 880h0M600 827h0M447 658h0M667 684h0M482 622h0M582 798h0M694 815h0M575 599h0M577 829h0M686 874h0M486 824h0M617 765h0M650 701h0M517 602h0M487 787h0M542 888h0M494 651h0M468 885h0M455 827h0M565 757h0M581 657h0M450 720h0M515 784h0M471 631h0M524 652h0M548 626h0M667 880h0M660 826h0M551 834h0M588 680h0M424 833h0M486 892h0M583 873h0M657 729h0M568 712h0M638 812h0M447 834h0M419 675h0M439 766h0M641 710h0M678 672h0M632 740h0M520 877h0M596 862h0M567 849h0M586 828h0M544 835h0M693 701h0M541 882h0M695 826h0M537 685h0M449 781h0M426 882h0M574 645h0M680 603h0M450 677h0M631 841h0M578 591h0M570 625h0M468 735h0M488 808h0M497 895h0M599 788h0M545 855h0M530 640h0M428 669h0M548 714h0M564 784h0M586 840h0M438 829h0M620 775h0M495 775h0M473 648h0M705 686h0M619 830h0M544 859h0M435 800h0M510 871h0M483 589h0M460 631h0M553 840h0M509 816h0M487 630h0M451 792h0M686 682h0M569 680h0M456 627h0M571 589h0M514 733h0M527 657h0M670 825h0M499 699h0M476 604h0M515 682h0M512 866h0M508 652h0M673 661h0M476 886h0M555 888h0M515 618h0M543 676h0M593 843h0M459 887h0M411 690h0M625 597h0M508 800h0M593 763h0M489 721h0M690 819h0M706 595h0M547 851h0M634 843h0M678 645h0M586 702h0M688 821h0M645 833h0M501 640h0M526 753h0M551 759h0M677 780h0M486 732h0M419 742h0M514 696h0M690 764h0M594 685h0M532 722h0M492 845h0M698 796h0M453 734h0M423 872h0M524 693h0M576 792h0M511 642h0M405 686h0M533 792h0M495 712h0M436 659h0M578 627h0M695 776h0M552 659h0M627 651h0M504 668h0M689 719h0M625 704h0M661 821h0M595 853h0M617 600h0M407 697h0M642 879h0M629 691h0M630 695h0M417 650h0M561 761h0M669 590h0M664 740h0M657 839h0M474 773h0M646 792h0M681 796h0M562 692h0M646 765h0M639 827h0M683 809h0M551 819h0M405 718h0M514 709h0M405 621h0M527 792h0M408 779h0M534 848h0M607 767h0M513 760h0M583 619h0M657 594h0M609 726h0M443 881h0M561 693h0M703 851h0M553 849h0M593 889h0M462 651h0M680 630h0M475 772h0M612 738h0M596 676h0M541 757h0M573 824h0M484 639h0M682 641h0M595 879h0M551 822h0M572 834h0M618 680h0M537 585h0M410 664h0M673 600h0M597 595h0M594 782h0M536 839h0M559 840h0M523 734h0M592 644h0M433 628h0M522 787h0M674 702h0M575 772h0M488 595h0M435 672h0M511 876h0M598 666h0M464 645h0M483 692h0M561 723h0M610 830h0M509 882h0M681 821h0M675 808h0M682 827h0M449 653h0M616 638h0M691 803h0M461 726h0M687 793h0M429 892h0M647 653h0M646 819h0M410 867h0M428 838h0M478 684h0M586 889h0M544 614h0M577 636h0M686 737h0M512 706h0M497 613h0M640 722h0M608 834h0M458 819h0M605 891h0M615 727h0M492 703h0M520 594h0M536 674h0M564 724h0M582 769h0M683 839h0M474 844h0M480 744h0M528 806h0M452 677h0M473 886h0M421 682h0M512 863h0M515 667h0" stroke="#16247a" stroke-width="3" stroke-linecap="round" stroke-opacity="1" fill="none"/><path d="M549 715h0M483 794h0M668 746h0M608 890h0M623 712h0M702 764h0M547 795h0M604 768h0M463 894h0M543 694h0M686 845h0M450 751h0M579 787h0M473 871h0M664 780h0M557 788h0M558 642h0M507 595h0M480 627h0M449 888h0M645 884h0M466 881h0M435 766h0M421 826h0M623 864h0M633 777h0M445 805h0M583 833h0M439 747h0M412 676h0M585 840h0M471 624h0M492 727h0M430 775h0M529 785h0M600 821h0M572 873h0M462 800h0M480 682h0M541 588h0M699 592h0M540 710h0M456 687h0M666 649h0M584 649h0M549 753h0M611 808h0M633 884h0M412 679h0M527 833h0M518 602h0M440 673h0M591 754h0M523 812h0M400 828h0M531 817h0M464 857h0M691 746h0M679 773h0M664 716h0M474 890h0M674 850h0M686 709h0M613 796h0M522 669h0M681 863h0M518 727h0M519 754h0M538 726h0M597 854h0M635 637h0M642 825h0M525 758h0M624 884h0M485 821h0M499 675h0M588 838h0M658 809h0M468 791h0M561 649h0M580 890h0M664 857h0M536 875h0M677 753h0M655 781h0M688 635h0M693 731h0M501 703h0M521 823h0M631 730h0M691 680h0M401 650h0M670 666h0M607 593h0M507 800h0M413 761h0M583 640h0M471 686h0M664 686h0M575 665h0M616 725h0M516 633h0M480 717h0M418 882h0M563 592h0M601 872h0M484 591h0M415 693h0M461 689h0M597 876h0M644 764h0M513 629h0M416 866h0M533 640h0M404 889h0M515 763h0M453 827h0M477 639h0M640 674h0M686 668h0M406 731h0M611 714h0M664 634h0M452 865h0M426 841h0M442 616h0M680 618h0M630 757h0M473 786h0M598 874h0M590 640h0M516 791h0M530 820h0M414 892h0M538 895h0M533 715h0M479 882h0M656 592h0M538 647h0M506 731h0M521 654h0M579 771h0M415 841h0M700 874h0M478 601h0M651 811h0M556 587h0M489 749h0M620 781h0M591 700h0M495 806h0M692 629h0M568 710h0M435 837h0M611 648h0M702 805h0M566 887h0M461 640h0M556 647h0M458 817h0M554 889h0M454 611h0M515 799h0M415 674h0M457 820h0M514 815h0M513 744h0M550 657h0M464 664h0M640 878h0M565 864h0M600 600h0M541 856h0M522 590h0M464 643h0M595 618h0M552 756h0M486 739h0M551 891h0M497 743h0M601 627h0M402 683h0M528 696h0M513 744h0M566 836h0M607 821h0M513 609h0M659 854h0M645 785h0M468 750h0M515 600h0M593 628h0M678 829h0M666 893h0M627 828h0M484 735h0M401 624h0M547 778h0M618 772h0M694 712h0M555 767h0M597 778h0M473 893h0M418 859h0M422 591h0M520 719h0M597 866h0M524 603h0M471 598h0M677 695h0M594 704h0M453 687h0M479 704h0M500 875h0M497 764h0M646 648h0M659 609h0M560 778h0M437 844h0M671 692h0M474 864h0M635 872h0M555 613h0M618 708h0M470 747h0M466 855h0M583 618h0M444 783h0M400 696h0M599 815h0M655 677h0M488 597h0M628 792h0M503 684h0M546 654h0M542 842h0M606 682h0M412 592h0M689 785h0M472 584h0M519 845h0M557 890h0M595 695h0M551 847h0M479 835h0M524 738h0M664 640h0M495 623h0M682 708h0M443 834h0M468 731h0M504 673h0M648 629h0M692 624h0M484 638h0M683 794h0M418 660h0M575 638h0M642 815h0M471 792h0M623 635h0M651 854h0M468 817h0M656 603h0M674 747h0M486 626h0M503 692h0M687 839h0M575 614h0M431 616h0M434 851h0M564 735h0M508 831h0M560 589h0M622 724h0M655 855h0M648 608h0M604 608h0M406 761h0M537 602h0M608 760h0M579 690h0M620 751h0M692 777h0M564 658h0M705 888h0M454 749h0M679 794h0M544 608h0M698 892h0M641 836h0M666 664h0M449 619h0M647 863h0M589 719h0M624 684h0M591 589h0M576 704h0M450 845h0M640 794h0M603 620h0M508 670h0M463 781h0M459 892h0M509 807h0M404 791h0M643 828h0M470 614h0M538 625h0M693 665h0M699 745h0M543 594h0M494 806h0M456 815h0M574 725h0M463 671h0M555 732h0M411 656h0M475 763h0M450 724h0M555 748h0M427 861h0M690 758h0M491 692h0M423 730h0M687 836h0M397 653h0M400 594h0M642 869h0M675 614h0M457 845h0M406 658h0M648 686h0M503 726h0M452 834h0M443 707h0M568 629h0M417 718h0M500 774h0M542 681h0M694 849h0M502 894h0M437 654h0M461 895h0M472 719h0M470 739h0M472 670h0M595 818h0M461 651h0M471 785h0M675 776h0M566 794h0M477 662h0M509 735h0M409 623h0M592 803h0M677 752h0M502 808h0M448 616h0M470 760h0M473 748h0M552 616h0M421 849h0M549 820h0M406 664h0M696 686h0M404 861h0M429 597h0M642 622h0M576 664h0M525 811h0M662 889h0M427 869h0M648 748h0M488 610h0M496 607h0M688 772h0M576 829h0M589 848h0M549 790h0M468 618h0M678 713h0M616 723h0M401 753h0M482 725h0M481 650h0M570 739h0M695 711h0M659 649h0M670 804h0M664 762h0M665 776h0M430 725h0M638 776h0M524 740h0M421 664h0M569 861h0M524 790h0M539 617h0M599 856h0M467 767h0M579 655h0M691 878h0M477 754h0M701 621h0M456 684h0M436 614h0M407 654h0M473 784h0M457 755h0M640 614h0M663 612h0M524 705h0M426 597h0M544 852h0M515 771h0M693 815h0M417 704h0M656 859h0M616 604h0M704 656h0M516 650h0M602 637h0M462 628h0M691 836h0M512 732h0M592 772h0M575 750h0M609 881h0M427 703h0M460 884h0M609 649h0M496 711h0M488 668h0M415 788h0M427 752h0M470 820h0M628 601h0M403 644h0M569 596h0M414 842h0M550 803h0M472 787h0M444 676h0M438 765h0M400 780h0M468 893h0M568 830h0M607 771h0M677 637h0M661 753h0M507 725h0M517 713h0M495 626h0M499 622h0M549 624h0M676 683h0M498 831h0M463 753h0M484 780h0M519 710h0M646 799h0M687 691h0M528 778h0M416 835h0M437 876h0M535 777h0M671 703h0M432 657h0M527 829h0M420 827h0M574 596h0M607 874h0M654 628h0M513 662h0M547 621h0M614 804h0M540 623h0M645 701h0M494 887h0M702 584h0M523 727h0M554 650h0M666 640h0M417 601h0M696 759h0M539 638h0M624 724h0M480 658h0M396 590h0M455 721h0M527 637h0M621 733h0M595 593h0M653 647h0M500 593h0M705 859h0M593 682h0M425 643h0M686 877h0M502 752h0M442 697h0M697 712h0M623 638h0M525 742h0M430 617h0M512 638h0M471 661h0M579 853h0M471 671h0M400 611h0M469 587h0M534 640h0M665 656h0M561 674h0M508 798h0M534 862h0M573 652h0M655 879h0M687 887h0M554 721h0M483 784h0M642 730h0M434 658h0M418 878h0M413 874h0M706 604h0M706 792h0M503 711h0M527 692h0M442 767h0M420 788h0M599 678h0M565 617h0M428 752h0M469 873h0M489 672h0M693 643h0M656 694h0M571 710h0M553 754h0M688 730h0M575 884h0M614 863h0M595 634h0M503 720h0M699 629h0M595 699h0M489 736h0M481 702h0M677 865h0M482 849h0M496 747h0M481 784h0M607 649h0M642 859h0M662 825h0M622 703h0M705 795h0M421 784h0M684 858h0M550 668h0M664 602h0M659 775h0M605 745h0M663 830h0M684 761h0M494 830h0M490 661h0M654 612h0M684 693h0M597 742h0M414 857h0M490 666h0M513 639h0M419 812h0M673 658h0M645 779h0M639 891h0M576 883h0M500 741h0M414 666h0M464 835h0M581 793h0M640 767h0M700 597h0M543 750h0M462 621h0M700 738h0M655 589h0M665 641h0M403 598h0M440 697h0M493 682h0M444 617h0M457 872h0M509 845h0M571 878h0M663 668h0M592 795h0M473 893h0M491 720h0M577 829h0M526 791h0M632 585h0M448 602h0M506 742h0M453 829h0M433 886h0M420 728h0M669 700h0M674 855h0M542 635h0M675 777h0M412 606h0M472 663h0M555 863h0M567 801h0M659 799h0M623 688h0M419 603h0M613 805h0M480 832h0M613 710h0M578 710h0M619 865h0M494 878h0M592 619h0M603 869h0M410 689h0M514 617h0M594 683h0M569 687h0M648 672h0M540 738h0M542 652h0M690 836h0M493 824h0M476 707h0M459 769h0M409 868h0M562 778h0M631 685h0M427 613h0M669 809h0M515 826h0M481 769h0M416 613h0M627 616h0M466 676h0M580 666h0M438 604h0M504 856h0M455 895h0M561 757h0M621 659h0M401 809h0M582 811h0M443 708h0M590 801h0M427 752h0M704 832h0M608 712h0M416 730h0M593 743h0M692 662h0M493 688h0M676 703h0M434 743h0M523 606h0M448 653h0M530 884h0M670 842h0M473 786h0M531 615h0M687 590h0M427 871h0M542 792h0M588 738h0M621 838h0M634 607h0M560 600h0M491 851h0M521 666h0M693 623h0M573 689h0M651 852h0M455 775h0M626 819h0M536 890h0M673 892h0M536 793h0M622 875h0M501 615h0M540 827h0M484 759h0M519 671h0M543 595h0M570 732h0M534 682h0" stroke="#2040b8" stroke-width="2.6" stroke-linecap="round" stroke-opacity="1" fill="none"/><path d="M463 599h0M607 855h0M497 852h0M583 667h0M513 894h0M526 809h0M603 599h0M537 705h0M528 606h0M433 653h0M475 792h0M398 772h0M692 617h0M439 817h0M498 852h0M531 811h0M467 816h0M547 881h0M443 669h0M431 760h0M701 873h0M514 722h0M692 656h0M636 667h0M531 617h0M554 890h0M518 766h0M474 729h0M429 638h0M479 776h0M506 609h0M705 678h0M514 640h0M407 759h0M585 883h0M703 733h0M539 773h0M507 692h0M645 684h0M459 722h0M559 745h0M706 630h0M645 743h0M446 880h0M612 648h0M479 646h0M600 816h0M426 702h0M416 641h0M496 597h0M552 632h0M663 728h0M638 606h0M444 732h0M576 671h0M684 688h0M488 751h0M400 677h0M646 723h0M539 823h0M498 878h0M533 762h0M425 837h0M617 698h0M605 815h0M516 634h0M437 787h0M472 692h0M634 798h0M423 676h0M509 853h0M415 705h0M524 803h0M437 587h0M569 729h0M397 703h0M495 697h0M488 626h0M536 848h0M443 867h0M543 703h0M658 856h0M473 803h0M647 633h0M668 739h0M398 680h0M554 777h0M448 618h0M464 809h0M438 705h0M549 797h0M407 631h0M650 694h0M632 608h0M672 872h0M530 885h0M485 817h0M515 738h0M487 756h0M699 785h0M527 752h0M501 655h0M684 592h0M481 676h0M635 851h0M704 740h0M462 652h0M583 697h0M496 693h0M549 584h0M590 773h0M495 814h0M521 832h0M571 751h0M672 767h0M573 653h0M668 800h0M568 793h0M688 771h0M409 672h0M461 719h0M452 592h0M523 850h0M698 881h0M494 877h0M638 864h0M447 611h0M600 675h0M460 810h0M450 804h0M453 883h0M638 769h0M560 728h0M464 681h0M675 594h0M667 752h0M463 610h0M540 688h0M465 881h0M677 833h0M640 728h0M604 592h0M694 788h0M503 773h0M543 808h0M403 836h0M636 683h0M620 723h0M636 777h0M597 823h0M492 880h0M398 632h0M631 792h0M683 865h0M589 602h0M449 700h0M678 743h0M402 618h0M563 740h0M572 686h0M509 594h0M544 868h0M430 691h0M630 859h0M537 862h0M642 696h0M626 817h0M560 713h0M396 851h0M478 712h0M577 691h0M600 872h0M481 737h0M515 863h0M551 802h0M487 619h0M614 595h0M530 612h0M512 683h0M543 626h0M565 658h0M658 641h0M544 849h0M506 858h0M494 885h0M679 727h0M542 673h0M457 647h0M452 649h0M454 783h0M510 635h0M550 804h0M566 593h0M492 888h0M560 872h0M527 768h0M681 738h0M606 772h0M397 715h0M548 634h0M698 631h0M446 681h0M605 764h0M428 803h0M496 875h0M603 729h0M598 665h0M466 842h0M415 624h0M434 629h0M481 863h0M451 587h0M652 704h0M473 743h0M681 694h0M629 793h0M424 874h0M459 612h0M449 807h0M681 854h0M490 868h0M664 734h0M671 625h0M605 613h0M496 645h0M567 847h0M455 729h0M614 714h0M606 708h0M600 648h0M706 680h0M687 767h0M402 718h0M578 786h0M528 715h0M476 731h0M513 861h0M474 824h0M570 714h0M550 823h0M535 790h0M452 828h0M415 686h0M408 685h0M645 830h0M478 764h0M659 651h0M489 699h0M694 820h0M623 682h0M610 867h0M541 599h0M462 585h0M556 612h0M595 627h0M615 806h0M585 726h0M492 600h0M560 850h0M413 869h0M616 816h0M633 623h0M630 656h0M575 736h0M399 697h0M599 647h0M603 750h0M541 882h0M695 841h0M687 860h0M407 802h0M503 723h0M466 774h0M528 702h0M541 585h0M591 630h0M413 854h0M689 741h0M485 664h0M681 709h0M653 830h0M424 886h0M436 712h0M615 632h0M558 889h0M695 606h0M603 767h0M521 806h0M539 874h0M472 603h0M479 696h0M597 836h0M558 716h0M610 822h0M406 648h0M677 821h0M597 729h0M688 831h0M529 591h0M690 707h0M533 678h0M512 796h0M502 589h0M430 751h0M434 584h0M681 702h0M450 698h0M464 802h0M404 717h0M594 775h0M600 675h0M663 842h0M507 645h0M612 633h0M429 671h0M667 645h0M523 792h0M505 668h0M650 685h0M455 605h0M460 699h0M501 782h0M533 584h0M674 864h0M494 638h0M672 854h0M473 772h0M552 675h0M600 803h0M496 857h0M624 703h0M491 830h0M435 655h0M644 845h0M683 715h0M633 590h0M425 641h0M697 703h0M436 730h0M504 687h0M486 778h0M574 627h0M696 681h0M637 841h0M589 817h0M489 644h0M473 593h0M559 789h0M674 672h0M643 607h0M622 787h0M617 734h0M540 702h0M608 749h0M474 626h0M409 660h0M430 806h0M415 835h0M539 722h0M636 683h0M609 857h0M680 758h0M653 807h0M447 771h0M641 716h0M486 816h0M657 666h0M630 693h0M478 674h0M476 883h0M415 855h0M463 610h0M416 712h0M622 880h0M501 878h0M432 831h0M643 621h0M508 666h0M396 737h0M662 761h0M634 615h0M524 834h0M522 610h0M402 654h0M576 733h0M567 884h0M609 682h0M410 831h0M616 784h0M682 894h0M502 776h0M432 695h0M628 870h0M569 617h0M578 798h0M701 807h0M692 679h0M456 671h0M662 858h0M503 832h0M438 639h0M604 713h0M517 767h0M584 870h0M549 698h0M676 723h0M468 749h0M415 838h0M472 681h0M463 816h0M440 794h0M599 841h0M506 767h0M532 754h0M591 864h0M662 754h0M658 639h0M411 706h0M568 642h0M613 826h0M556 701h0M428 716h0M498 650h0M522 666h0M640 724h0M436 714h0M490 706h0M448 760h0M697 843h0M481 857h0M522 836h0M457 837h0M475 737h0M696 813h0M558 820h0M589 616h0M454 619h0M589 701h0M536 796h0M600 627h0M439 615h0M683 738h0M447 793h0M533 887h0M530 674h0M400 615h0M538 891h0M601 604h0M395 646h0M463 675h0M571 857h0M578 738h0M665 606h0M463 799h0M678 833h0M573 850h0M632 831h0M407 888h0M501 823h0M561 756h0M505 803h0M590 633h0M630 726h0M512 740h0M402 871h0M611 836h0M478 806h0M565 732h0M420 821h0M517 755h0M605 779h0M523 833h0M433 716h0M636 806h0M504 779h0M561 887h0M691 642h0M421 836h0M594 762h0M553 846h0M700 638h0M484 829h0M401 641h0M403 806h0M507 843h0M581 881h0M691 720h0M592 640h0M561 819h0M571 635h0M545 696h0M576 659h0M565 606h0M667 789h0M571 754h0M657 893h0M429 739h0M553 722h0M446 587h0M639 882h0M639 709h0M567 642h0M466 678h0M537 761h0M590 642h0M413 815h0M554 593h0M652 727h0M452 698h0M560 594h0M705 655h0M617 681h0M457 768h0M516 791h0M677 588h0M655 690h0M661 678h0M407 823h0M538 730h0M663 778h0M529 600h0M490 768h0M501 699h0M566 885h0M698 828h0M598 664h0M696 849h0M630 855h0M650 853h0M516 790h0M512 652h0M582 745h0M467 668h0M493 638h0M596 798h0M602 602h0M600 858h0M482 856h0M557 761h0M494 847h0M529 804h0M540 633h0M636 779h0M608 747h0M629 695h0M688 680h0M705 885h0M631 705h0M416 824h0M690 598h0M698 817h0M418 878h0M484 787h0M577 687h0M611 675h0M508 792h0M568 894h0M627 786h0M667 868h0M690 813h0M591 824h0M581 861h0M515 641h0M547 730h0M440 748h0M640 748h0M424 695h0M427 755h0M505 881h0M674 612h0M500 793h0M403 611h0M703 646h0M608 796h0M469 694h0M456 822h0M488 776h0M493 827h0M414 871h0M478 838h0M586 723h0M474 797h0M546 588h0M549 688h0M682 691h0M657 834h0M673 789h0M626 818h0M478 661h0M543 852h0M527 814h0M621 876h0M450 661h0M563 770h0M412 839h0M482 825h0M491 662h0M398 653h0M565 753h0M649 718h0M454 705h0M491 780h0M446 616h0M681 882h0M416 687h0M566 671h0M691 739h0M518 710h0M540 831h0M677 753h0M621 693h0M438 641h0M398 586h0M700 768h0M511 700h0M511 793h0M623 665h0M404 856h0M650 632h0M652 864h0M600 832h0M464 885h0M510 794h0M496 627h0M407 698h0M592 836h0M628 805h0M407 838h0M423 599h0M539 818h0M691 614h0M517 596h0M441 640h0M642 684h0M455 721h0M477 874h0M562 826h0M612 634h0M398 758h0M405 793h0M660 655h0M552 595h0M629 729h0M398 740h0M568 862h0M694 701h0M688 749h0M577 806h0M550 665h0M512 704h0M607 623h0M520 795h0M593 730h0M464 779h0M505 760h0M530 639h0M464 840h0M665 890h0M531 701h0M441 849h0M488 802h0M515 816h0M698 741h0M534 594h0M583 591h0M463 683h0M449 849h0M425 751h0M670 827h0M652 782h0M424 877h0M497 731h0M630 863h0M605 605h0M484 673h0M551 841h0M473 609h0M515 671h0M585 845h0M660 858h0M605 867h0M430 623h0M476 841h0M674 726h0M455 697h0M685 638h0M411 613h0M602 772h0M475 639h0M422 593h0M673 599h0M434 743h0M592 716h0M531 779h0M499 694h0M462 638h0M559 666h0M443 678h0M646 600h0M528 892h0" stroke="#1a8090" stroke-width="2.6" stroke-linecap="round" stroke-opacity="1" fill="none"/><path d="M653 625h0M494 605h0M679 698h0M666 866h0M606 793h0M451 655h0M403 760h0M569 853h0M647 845h0M423 862h0M467 600h0M524 634h0M583 628h0M459 596h0M629 818h0M491 816h0M633 671h0M677 798h0M637 792h0M578 678h0M504 591h0M664 844h0M546 773h0M666 611h0M581 739h0M682 866h0M527 692h0M618 722h0M699 603h0M703 765h0M652 890h0M598 818h0M424 610h0M604 670h0M490 590h0M576 646h0M512 645h0M557 706h0M616 834h0M437 832h0M470 761h0M444 701h0M544 742h0M563 783h0M425 854h0M462 833h0M607 717h0M423 723h0M545 824h0M521 705h0M596 855h0M682 595h0M413 623h0M593 781h0M510 889h0M443 740h0M651 786h0M685 799h0M704 866h0M487 770h0M491 649h0M622 710h0M544 759h0M523 877h0M427 801h0M420 721h0M650 747h0M402 662h0M577 779h0M552 805h0M521 652h0M511 786h0M651 774h0M402 712h0M576 683h0M432 681h0M533 624h0M522 843h0M620 827h0M605 849h0M455 788h0M421 761h0M558 619h0M490 665h0M675 655h0M498 731h0M468 842h0M479 740h0M571 620h0M458 728h0M460 682h0M491 603h0M609 863h0M571 883h0M658 828h0M515 602h0M417 797h0M426 756h0M681 584h0M405 685h0M556 686h0M519 879h0M563 610h0M580 865h0M678 811h0M486 876h0M700 854h0M612 704h0M590 710h0M482 799h0M635 657h0M412 630h0M544 840h0M472 685h0M436 710h0M557 895h0M468 803h0M533 742h0M603 653h0M503 716h0M593 741h0M408 590h0M699 739h0M563 693h0M423 750h0M699 777h0M697 763h0M443 866h0M555 667h0M703 857h0M647 775h0M695 735h0M679 736h0M517 740h0M458 759h0M573 633h0M701 699h0M411 728h0M685 607h0M547 760h0M504 779h0M683 767h0M430 693h0M608 676h0M585 777h0M543 589h0M493 799h0M592 821h0M483 684h0M498 752h0M507 774h0M412 826h0M630 705h0M578 605h0M704 687h0M507 753h0M433 743h0M608 780h0M668 610h0M411 850h0M467 594h0M588 714h0M663 625h0M581 679h0M421 644h0M602 710h0M631 688h0M602 603h0M656 589h0M503 629h0M450 861h0M548 787h0M532 660h0M464 735h0M583 757h0M482 774h0M546 696h0M635 850h0M510 727h0M510 725h0M561 668h0M583 783h0M477 735h0M656 728h0M443 826h0M566 627h0M419 753h0M539 786h0M595 861h0M578 868h0M678 876h0M692 831h0M418 808h0M645 687h0M422 841h0M605 620h0M699 852h0M468 589h0M594 786h0M449 837h0M409 638h0M509 760h0M667 775h0M442 702h0M637 891h0M518 707h0M415 747h0M415 891h0M492 697h0M677 624h0M563 777h0M684 869h0M467 747h0M625 853h0M562 679h0M637 672h0M706 729h0M513 817h0M546 845h0M539 769h0M467 765h0M687 654h0M633 697h0M450 804h0M536 605h0M481 663h0M474 633h0M640 671h0M455 709h0M475 725h0M559 766h0M693 841h0M544 685h0M571 650h0M459 891h0M698 753h0M418 844h0M447 646h0M496 866h0M632 654h0M446 751h0M614 634h0M500 601h0M447 729h0M483 703h0M645 587h0M662 658h0M660 599h0M592 773h0M480 841h0M603 754h0M585 817h0M622 609h0M512 870h0M450 648h0M540 679h0M478 696h0M412 812h0M512 819h0M607 652h0M700 864h0M478 652h0M672 715h0M589 709h0M703 617h0M407 807h0M580 600h0M529 667h0M453 668h0M665 712h0M489 631h0M509 810h0M620 684h0M500 718h0M507 894h0M527 707h0M539 633h0M436 824h0M509 673h0M699 821h0M486 864h0M678 812h0M646 867h0M610 650h0M422 663h0M439 855h0M502 744h0M549 776h0M604 719h0M478 735h0M617 726h0M479 785h0M509 843h0M479 671h0M518 625h0M677 837h0M420 609h0M691 807h0M503 829h0M639 693h0M536 780h0M691 808h0M408 779h0M562 692h0M558 757h0M500 714h0M667 704h0M431 865h0M667 747h0M537 767h0M615 812h0M477 879h0M527 708h0M537 786h0M435 835h0M439 731h0M589 851h0M488 727h0M424 843h0M445 717h0M552 810h0M670 700h0M511 892h0M695 604h0M553 633h0M654 592h0M516 867h0M457 715h0M626 793h0M664 750h0M501 841h0M673 865h0M448 733h0M515 613h0M593 761h0M639 749h0M432 737h0M490 886h0M593 615h0M573 677h0M657 774h0M617 889h0M602 749h0M654 823h0M584 894h0M473 830h0M631 634h0M484 684h0M502 748h0M668 831h0M469 808h0M621 884h0M702 820h0M547 607h0M593 712h0M536 894h0M475 680h0M704 863h0M541 796h0M558 845h0M606 768h0M409 819h0M677 713h0M513 882h0M656 614h0M645 849h0M426 853h0M478 615h0M543 771h0M650 893h0M631 730h0M683 653h0M397 755h0M695 615h0M446 860h0M642 637h0M455 875h0M614 585h0M567 710h0M454 699h0M557 742h0M556 699h0M656 708h0M557 765h0M421 765h0M587 776h0M527 676h0M674 844h0M665 705h0M596 640h0M677 791h0M472 834h0M615 590h0M571 785h0M417 887h0M447 869h0M656 629h0M544 719h0M587 665h0M444 755h0M407 711h0M506 726h0M543 767h0M600 727h0M564 745h0M463 821h0M693 755h0M425 852h0M524 796h0M407 717h0M554 854h0M590 716h0M612 705h0M583 662h0M484 872h0M651 605h0M567 871h0M441 782h0M402 650h0M593 792h0M704 601h0M565 644h0M674 825h0M552 619h0M508 776h0M682 819h0M464 792h0M487 765h0M696 797h0M572 691h0M472 618h0M441 602h0M509 652h0M479 774h0M510 675h0M530 837h0M428 831h0M606 701h0M655 814h0M677 822h0M501 629h0M504 647h0M703 798h0M461 750h0M690 849h0M591 693h0M431 674h0M677 671h0M658 895h0M408 789h0M402 678h0M553 628h0M493 887h0M438 613h0M568 600h0M706 658h0M569 659h0M463 701h0M452 712h0M690 658h0M540 713h0M706 753h0M401 753h0M516 617h0M650 876h0M490 721h0M407 737h0M581 782h0M420 805h0M569 693h0M396 858h0M568 764h0M434 698h0M479 695h0M425 741h0M535 773h0M618 738h0M425 730h0M576 792h0M663 815h0M401 846h0M557 791h0M425 803h0M638 840h0M429 877h0M461 756h0M532 867h0M493 812h0M612 812h0M623 864h0M679 786h0M568 760h0M565 766h0M620 695h0M516 625h0M461 856h0M493 694h0M632 778h0M516 834h0M674 654h0M592 681h0M611 825h0M437 616h0M703 697h0M424 639h0M578 859h0M607 775h0M680 698h0M619 774h0M687 734h0M644 713h0M622 603h0M644 697h0M445 774h0M560 854h0M549 595h0M621 826h0M575 681h0M483 675h0M637 754h0M457 760h0M544 663h0M427 842h0M471 841h0M660 787h0M648 750h0M412 684h0M430 794h0M498 624h0M529 811h0M532 725h0M543 768h0M651 837h0M597 843h0M635 871h0M441 788h0M619 758h0M473 640h0M437 668h0M436 842h0M662 675h0M534 787h0M651 745h0M530 861h0M569 853h0M623 731h0M509 853h0M629 874h0M404 625h0M399 658h0M472 821h0M673 680h0M587 649h0M644 772h0M620 689h0M671 659h0M444 652h0M626 827h0M480 696h0M700 612h0M499 747h0M399 886h0M615 861h0M664 819h0M662 860h0M672 720h0M467 759h0M571 696h0M653 608h0M414 839h0M548 887h0M555 786h0M427 730h0M427 632h0M544 626h0M476 674h0M658 767h0M680 842h0M607 821h0M446 734h0M588 653h0M530 685h0M686 768h0M434 732h0M411 679h0M633 872h0M594 696h0M649 622h0M667 782h0M499 786h0M495 720h0M584 798h0M569 644h0M565 885h0M598 612h0M477 809h0M480 894h0M632 852h0M539 665h0M679 883h0M531 708h0M669 637h0M501 590h0M575 806h0M540 826h0M542 677h0M500 865h0M454 767h0M415 774h0M591 610h0M667 611h0M400 801h0M414 703h0M560 586h0M646 791h0M416 843h0M539 651h0M549 732h0M573 592h0M556 719h0M660 783h0M429 596h0M626 667h0M529 648h0M528 887h0M620 598h0M414 695h0M476 719h0M704 624h0M427 821h0M646 792h0M482 826h0M409 862h0M587 852h0M402 714h0M541 862h0M599 599h0M684 764h0M670 741h0M399 806h0M548 863h0M492 676h0M673 686h0M524 749h0M414 742h0M599 675h0M665 609h0M470 891h0M645 813h0M675 739h0M623 784h0M603 809h0M700 590h0M410 888h0M632 596h0M619 715h0M625 781h0M483 715h0M590 657h0M398 779h0M462 709h0M446 799h0M574 800h0M664 895h0M642 744h0M492 868h0M468 799h0M629 854h0M493 728h0M647 793h0M697 731h0M556 689h0M594 835h0M704 787h0M438 692h0M639 668h0M400 679h0M638 895h0M451 860h0M693 819h0M587 702h0M700 748h0M659 773h0M430 801h0M474 755h0M568 697h0M558 723h0M485 808h0M426 772h0M699 649h0M468 707h0M649 665h0M628 851h0M504 612h0M396 813h0M544 886h0M695 614h0M682 712h0M678 878h0M443 593h0M449 772h0M647 671h0M405 875h0M632 850h0M633 691h0M628 787h0M506 885h0M670 730h0M615 588h0M683 804h0M444 629h0M687 781h0M431 752h0M659 790h0M663 683h0M426 887h0M687 869h0M433 694h0M441 886h0M674 759h0M619 650h0M584 843h0M663 880h0M605 636h0M642 885h0M574 737h0M514 598h0M428 653h0M609 621h0M690 670h0M407 882h0M622 639h0M601 875h0M436 719h0M402 614h0M481 637h0M426 784h0M527 839h0M675 608h0M481 804h0M447 776h0M491 794h0M649 712h0M682 659h0M491 602h0M683 885h0M476 850h0M554 855h0M508 790h0M447 749h0M468 596h0M520 835h0M568 642h0M456 762h0M479 613h0M592 685h0M596 673h0M463 677h0M498 862h0M668 751h0M549 876h0M434 890h0M569 880h0M521 802h0M434 743h0M473 670h0M615 630h0M425 802h0M408 669h0M563 618h0M656 711h0M643 817h0M566 655h0M644 855h0M449 743h0M646 807h0M630 867h0M558 767h0M447 692h0M566 854h0M519 651h0M662 753h0M563 669h0M468 705h0M690 764h0M580 893h0M591 795h0M589 855h0M596 714h0M599 817h0M407 798h0M663 612h0M399 742h0M608 645h0M521 680h0M565 762h0M576 745h0M439 746h0M671 753h0M632 592h0M618 803h0M408 730h0M488 663h0M512 645h0M539 805h0M621 822h0M624 659h0M613 608h0M424 849h0M654 877h0M602 587h0M693 742h0M683 876h0M455 752h0M448 682h0M565 659h0M560 630h0M483 829h0M425 603h0M396 724h0M495 697h0M554 813h0M462 863h0M554 837h0M436 742h0M580 616h0M476 735h0M481 874h0M535 593h0M429 664h0M552 643h0M474 604h0M684 637h0M427 679h0M457 754h0M640 671h0M620 639h0M648 662h0M420 717h0M505 591h0M560 752h0M499 717h0M673 774h0M679 605h0M518 596h0M483 803h0M664 621h0M471 844h0M438 838h0M596 883h0M431 869h0M560 788h0M432 714h0M523 669h0M462 590h0M430 642h0M541 790h0M535 667h0M652 833h0M637 600h0M457 612h0M494 733h0M464 723h0M430 761h0M455 714h0M478 764h0M585 651h0M550 733h0M521 630h0M600 748h0M517 706h0M516 738h0M643 689h0M616 649h0M583 777h0M619 690h0M448 768h0M664 593h0M561 886h0M676 596h0M410 816h0M440 750h0M496 828h0M638 880h0M624 782h0M652 764h0M569 692h0M701 707h0M493 783h0M432 608h0M428 720h0M682 709h0M605 728h0M530 851h0M429 850h0M601 689h0M437 679h0M692 681h0M608 845h0M495 618h0M548 691h0M659 797h0M477 709h0M430 643h0M401 760h0M488 824h0M674 682h0M537 812h0M560 739h0M455 664h0M503 794h0M619 798h0M614 780h0M582 840h0M596 772h0M696 794h0M561 644h0M621 755h0M578 748h0M464 636h0M655 719h0M678 622h0M529 635h0M553 647h0M533 628h0M619 700h0M434 750h0M571 675h0M471 595h0M510 837h0M516 851h0M557 779h0M478 767h0M531 649h0M426 846h0M461 858h0M566 871h0M678 600h0M474 867h0M704 743h0M660 795h0M409 715h0M598 704h0M421 858h0M645 708h0M470 744h0M695 630h0M471 642h0M645 637h0M470 746h0M609 764h0M413 742h0M617 799h0M555 653h0M407 708h0M486 596h0M459 784h0M434 724h0M627 725h0M638 633h0M580 629h0M415 658h0M430 767h0M425 834h0M697 811h0M616 814h0M452 674h0M664 832h0M520 675h0M414 606h0M459 617h0M615 860h0M445 805h0M661 726h0M609 710h0M691 885h0M634 691h0M500 697h0M435 726h0M667 673h0M682 708h0M631 762h0M523 586h0M588 706h0M482 631h0M468 629h0M641 789h0M578 791h0M696 843h0M404 756h0M512 664h0M399 629h0M503 796h0M517 859h0M475 882h0M505 763h0M532 724h0M640 720h0M506 694h0M493 658h0M416 817h0M700 652h0M703 749h0M607 751h0M624 779h0M483 775h0M569 652h0M688 806h0M628 738h0M687 624h0M649 682h0M453 824h0M643 880h0M568 619h0M651 736h0M608 785h0M617 624h0M442 889h0M475 838h0M640 864h0M534 858h0M662 614h0M582 839h0M675 709h0M664 671h0M444 612h0M564 824h0M415 631h0M547 817h0M492 851h0M552 589h0M469 764h0M641 715h0M448 885h0M521 864h0M477 667h0M680 853h0M610 628h0M652 839h0M507 820h0M629 590h0M706 601h0M593 722h0M706 782h0M398 796h0M559 761h0M450 679h0M518 885h0M404 831h0M414 836h0M652 739h0M502 671h0M510 867h0M590 802h0M466 814h0M522 714h0M664 873h0M508 612h0M684 858h0M651 642h0M674 803h0M621 585h0M682 730h0M687 738h0M572 608h0M652 890h0M616 866h0M457 860h0M623 679h0M419 649h0M527 766h0M560 812h0M475 732h0M405 892h0M634 621h0M469 811h0M541 728h0M603 768h0M512 838h0M561 602h0M552 622h0M693 766h0M484 845h0M517 777h0M433 612h0M534 644h0M411 661h0M428 625h0M467 586h0M410 762h0M669 731h0M551 867h0M637 770h0M498 714h0M531 761h0M549 595h0M459 785h0M703 652h0M534 692h0M658 699h0M566 745h0M702 668h0M588 811h0M581 635h0M665 872h0M657 649h0M536 650h0M616 639h0M608 618h0M537 585h0M596 822h0M545 587h0M673 837h0M643 829h0M522 802h0M536 691h0M679 646h0M501 883h0M639 688h0M687 792h0M434 657h0M605 871h0M661 871h0M465 687h0M678 809h0M632 894h0M630 788h0M637 589h0M593 652h0M548 588h0M541 653h0M469 665h0M612 589h0M600 632h0M407 844h0M682 826h0M411 595h0M674 876h0M397 649h0M410 760h0M667 719h0M499 729h0M564 800h0M528 685h0M420 688h0M674 593h0M686 638h0M476 871h0M482 846h0M563 689h0M694 697h0M661 836h0M628 700h0M656 762h0M675 889h0M572 770h0M656 621h0M697 720h0M683 840h0M548 775h0M694 778h0M482 773h0M525 677h0M407 688h0M530 627h0M567 785h0M574 795h0M645 817h0M404 675h0M545 704h0M449 612h0M454 692h0M408 834h0M402 802h0M696 689h0M612 801h0M441 854h0M459 646h0M489 878h0M540 771h0M643 715h0M523 599h0M451 849h0M495 820h0M673 789h0M419 682h0M471 887h0M511 670h0M626 602h0M410 870h0M691 732h0M699 886h0M466 866h0M432 824h0M595 621h0M610 585h0M484 710h0M679 873h0M518 759h0M691 605h0M654 689h0M615 829h0M429 682h0M466 884h0M598 640h0M484 834h0M496 730h0M653 876h0M590 673h0M682 834h0M620 801h0M416 800h0M483 731h0M635 794h0M509 835h0M414 861h0M572 665h0M611 678h0M487 871h0M501 612h0M691 621h0M608 765h0M497 701h0M493 755h0M667 676h0M586 658h0M655 775h0M655 727h0M552 811h0M486 622h0M399 635h0M696 683h0M692 742h0M632 854h0M512 605h0M402 624h0M475 702h0M517 747h0M573 592h0M534 822h0M447 656h0M695 745h0M615 699h0M467 813h0M485 758h0M525 840h0M688 786h0M460 872h0M475 672h0M487 711h0M536 773h0M425 711h0M590 793h0M634 865h0M451 728h0M655 644h0M537 884h0M621 875h0M697 633h0M696 822h0M591 701h0M556 603h0M597 805h0M446 804h0M416 786h0M441 748h0M454 620h0M448 663h0M453 762h0M617 801h0M505 888h0M453 786h0M533 844h0M684 607h0M491 824h0M462 607h0M677 860h0M609 676h0M526 808h0M426 688h0M423 637h0M577 847h0M457 691h0M607 743h0M700 660h0M444 604h0M520 826h0M555 658h0M675 672h0M449 756h0M552 805h0M641 751h0M599 619h0M643 625h0M485 850h0M488 708h0M542 867h0M536 732h0M636 786h0M568 628h0M541 865h0M485 861h0M701 630h0M473 758h0M664 610h0M553 643h0M532 806h0M657 850h0M605 762h0M486 643h0M608 674h0M610 734h0M611 807h0M578 678h0M683 616h0M698 831h0M704 753h0M688 649h0M604 621h0M601 812h0M544 685h0M530 646h0M498 729h0M664 611h0M689 768h0M656 584h0M540 801h0M486 864h0M554 700h0M398 632h0M500 645h0M583 753h0M550 831h0M440 719h0M525 588h0M642 617h0M553 638h0M475 675h0M519 688h0M535 829h0M498 867h0M688 589h0M585 875h0M432 839h0M582 679h0M499 797h0M609 827h0M575 630h0M667 807h0M494 873h0M458 876h0M643 831h0M606 599h0M506 616h0M594 724h0M559 644h0M444 810h0M652 807h0M665 804h0M624 872h0M609 753h0M661 782h0M549 690h0M397 634h0M649 794h0M606 889h0M674 713h0M540 745h0M494 862h0M604 784h0M594 856h0M538 595h0M438 790h0M426 779h0M557 704h0M689 743h0M642 837h0M612 672h0M552 868h0M632 857h0M552 611h0M486 696h0M442 813h0M680 871h0M567 779h0M397 687h0M448 894h0M593 591h0M402 637h0M522 850h0M534 731h0M564 755h0M427 618h0M483 590h0M659 782h0M628 699h0M456 639h0M590 773h0M641 667h0M622 662h0M443 661h0M561 809h0M607 826h0M419 707h0M607 807h0M450 597h0M502 653h0M442 825h0M515 853h0M570 637h0M652 620h0M570 673h0M515 656h0M398 706h0M601 743h0M550 770h0M649 774h0M454 867h0M642 692h0M565 601h0M553 682h0M611 827h0M677 826h0M706 716h0M441 679h0M601 650h0M503 604h0M596 739h0M415 849h0M607 815h0M533 770h0M687 771h0M442 712h0M603 617h0M462 633h0M651 868h0M562 821h0M633 793h0M461 807h0M441 638h0M397 789h0M436 874h0M574 671h0M517 696h0M706 851h0M636 773h0M543 701h0M655 878h0M684 767h0M489 835h0M639 669h0M624 772h0M477 602h0M651 618h0M650 833h0M504 632h0M587 855h0M624 856h0M450 729h0M596 586h0M447 865h0M403 604h0M410 708h0M539 600h0M636 863h0M400 894h0M420 767h0M521 868h0M404 723h0M561 881h0M609 808h0M559 845h0M539 686h0M506 722h0M580 871h0M431 642h0M699 789h0M669 820h0M535 690h0M623 710h0M666 856h0M643 768h0M478 877h0M428 889h0M626 788h0M602 611h0M559 811h0M690 771h0M679 681h0M442 839h0M679 853h0M651 786h0M407 862h0M459 823h0M464 594h0M526 877h0M601 655h0M620 700h0M415 758h0M682 796h0M518 800h0M636 877h0M559 761h0M546 801h0M642 875h0M643 826h0M495 817h0M701 729h0M590 775h0M405 680h0M581 585h0M475 704h0M425 599h0M484 711h0M472 787h0M560 620h0M680 664h0M690 713h0M612 627h0M418 844h0M629 817h0M634 599h0M401 733h0M559 789h0M537 587h0M442 670h0M548 755h0M455 697h0M467 813h0M412 787h0M404 832h0M634 602h0M590 883h0M406 872h0M473 832h0M461 749h0M690 793h0M607 635h0M559 763h0M665 628h0M433 746h0M689 638h0M498 786h0M533 757h0M665 876h0M703 753h0M672 668h0M547 733h0M597 614h0M484 635h0M420 762h0M706 661h0M567 829h0M529 878h0M690 864h0M397 629h0M614 754h0M576 748h0M432 699h0M485 748h0M692 841h0M675 722h0M574 752h0M513 595h0M477 842h0M510 890h0M618 668h0M492 683h0M532 880h0M498 837h0M569 847h0M669 856h0M607 842h0M397 842h0M419 796h0M419 873h0M668 682h0M405 647h0M502 758h0M458 613h0M584 842h0M548 845h0M527 720h0M510 840h0M567 755h0M451 611h0M673 733h0M429 740h0M679 871h0M408 613h0M435 660h0M586 758h0M661 657h0M512 635h0M412 818h0M434 631h0M503 654h0M419 669h0M470 588h0M579 621h0M608 820h0M610 857h0M487 724h0M518 890h0M533 800h0M534 601h0M593 585h0M633 632h0M606 872h0M523 801h0M588 614h0M446 830h0M660 889h0M611 719h0M429 679h0M585 887h0M578 611h0M479 742h0M475 680h0M425 770h0M557 627h0M498 880h0M462 618h0M428 737h0M594 794h0M663 889h0M590 828h0M610 717h0M449 772h0M549 633h0M492 695h0M530 608h0M406 770h0M704 647h0M656 856h0M655 835h0M494 781h0M700 702h0M587 783h0M454 808h0M518 648h0M554 706h0M605 755h0M526 807h0M470 609h0M570 782h0M527 815h0M457 782h0M654 677h0M519 777h0M690 617h0M607 639h0M466 614h0M452 872h0M533 704h0M677 748h0M651 676h0M546 682h0M681 799h0M626 843h0M676 587h0M442 667h0M624 817h0M426 597h0M417 870h0M450 594h0M465 873h0M527 825h0M428 604h0M455 753h0M444 860h0M534 871h0M487 630h0M423 712h0M448 822h0M627 632h0M426 752h0M493 593h0M507 840h0M544 729h0M624 847h0M468 862h0M572 693h0M467 818h0M419 708h0M469 815h0M678 743h0M442 809h0M700 728h0M397 699h0M563 640h0M488 684h0M666 658h0M507 627h0M423 811h0M654 785h0M411 596h0M546 730h0M666 741h0M465 806h0M671 841h0M553 743h0M700 827h0M647 643h0M646 852h0M627 662h0M570 719h0M598 873h0M442 877h0M611 584h0M639 811h0M676 602h0M567 826h0M535 634h0M700 893h0M440 647h0M706 749h0M624 717h0M421 588h0M521 747h0M685 763h0M644 730h0M521 800h0M471 632h0M429 847h0M604 856h0M588 813h0M401 838h0M502 875h0M471 895h0M689 696h0M523 761h0M546 648h0M412 839h0M460 684h0M668 719h0M493 834h0M505 820h0M621 685h0M657 585h0M488 789h0M661 814h0M545 845h0M603 599h0M646 631h0M537 826h0M462 698h0M650 591h0M532 716h0M411 637h0M623 758h0M640 822h0M584 734h0M418 654h0M520 729h0M649 683h0M643 862h0M523 858h0M553 605h0M691 764h0M565 732h0M701 657h0M688 632h0M528 617h0M509 607h0M687 664h0M534 600h0M599 850h0M463 852h0M615 784h0M539 708h0M443 710h0M442 715h0M619 842h0M417 643h0M510 806h0M598 825h0M633 617h0M694 843h0M499 787h0M547 658h0M562 858h0M640 793h0M526 808h0M459 694h0M445 862h0M437 883h0M582 878h0M461 792h0M397 871h0M584 738h0M525 816h0M443 770h0M569 791h0M588 835h0M579 834h0M440 873h0M530 840h0M698 626h0M530 787h0M619 807h0M436 698h0M580 631h0M479 862h0M675 676h0M455 611h0M544 691h0M645 730h0M567 733h0M498 621h0M634 590h0M615 649h0M615 686h0M495 608h0M686 650h0M600 892h0M606 848h0M605 843h0M589 624h0M637 739h0M577 627h0M594 870h0M504 888h0M592 803h0M452 615h0M611 814h0M479 593h0M491 812h0M596 627h0M547 666h0M528 626h0M444 595h0M687 687h0M448 662h0M487 639h0M678 860h0M490 857h0M528 789h0M514 733h0M424 805h0M649 778h0M571 818h0M510 619h0M409 720h0M473 604h0M498 760h0M638 677h0M555 677h0M667 758h0M541 807h0M625 806h0M683 737h0M451 640h0M592 792h0M535 828h0M692 820h0M484 642h0M572 632h0M446 626h0M422 847h0M543 652h0M508 760h0M413 678h0M486 697h0M428 841h0M427 755h0M653 595h0M631 598h0M554 636h0M501 705h0M553 831h0M427 892h0M617 623h0M555 632h0M655 820h0M427 618h0M398 750h0M422 789h0M406 831h0M558 687h0M458 847h0M682 833h0M480 795h0M638 789h0M519 875h0M482 656h0M562 691h0M596 714h0M515 791h0M541 764h0M574 698h0M450 708h0M396 850h0M488 776h0M617 882h0M560 776h0M434 854h0M416 876h0M574 794h0M548 726h0M541 742h0M604 757h0M646 672h0M427 757h0M428 769h0M583 622h0M513 715h0M404 789h0M464 810h0M632 853h0M494 747h0M676 728h0M459 718h0M594 654h0M436 798h0M621 632h0M514 721h0M596 749h0M514 713h0M580 773h0M523 871h0M574 755h0M666 684h0M571 894h0M603 807h0M522 698h0M586 872h0M677 705h0M399 615h0M705 730h0M705 602h0M580 763h0M697 698h0M457 705h0M638 801h0M430 642h0M598 742h0M445 714h0M532 603h0M470 731h0M475 586h0M475 813h0M700 740h0M530 889h0M414 845h0M442 665h0M534 745h0M496 884h0M687 627h0M450 642h0M518 741h0M613 660h0M441 870h0M653 759h0M514 776h0M683 863h0M403 761h0M402 661h0M613 765h0M558 758h0M656 621h0M598 745h0M635 599h0M578 891h0M565 593h0M669 605h0M603 711h0M414 591h0M596 725h0M398 698h0M601 604h0M637 591h0M543 649h0M705 689h0M455 651h0M680 810h0M595 797h0M588 814h0M422 700h0M682 795h0M663 860h0M626 639h0M700 617h0M626 836h0M584 867h0M592 793h0M627 638h0M561 638h0M614 858h0M644 721h0M478 783h0M678 697h0M417 887h0M422 661h0M583 889h0M414 685h0M560 841h0M603 782h0M528 641h0M460 645h0" stroke="#a8a050" stroke-width="2.6" stroke-linecap="round" stroke-opacity="1" fill="none"/><path d="M557 671h0M470 873h0M461 802h0M489 807h0M610 679h0M642 747h0M583 835h0M615 649h0M436 629h0M620 598h0M682 649h0M480 894h0M515 727h0M425 736h0M569 783h0M489 718h0M412 595h0M506 659h0M456 822h0M619 871h0M415 813h0M591 861h0M417 679h0M617 795h0M405 636h0M450 794h0M427 856h0M612 651h0M684 840h0M514 813h0M624 685h0M524 585h0M553 636h0M665 697h0M608 618h0M541 723h0M488 841h0M676 625h0M687 611h0M409 805h0M442 592h0M643 735h0M503 803h0M547 804h0M513 798h0M640 826h0M449 597h0M641 678h0M408 804h0M511 723h0M469 759h0M672 833h0M510 637h0M689 667h0M599 626h0M663 882h0M496 658h0M521 811h0M527 893h0M431 876h0M629 690h0M689 842h0M595 824h0M583 844h0M664 755h0M591 773h0M483 745h0M634 788h0M566 606h0M490 649h0M454 650h0M535 773h0M626 617h0M637 640h0M417 842h0M485 708h0M603 893h0M457 657h0M673 739h0M426 887h0M622 787h0M648 858h0M551 837h0M706 660h0M422 726h0M445 856h0M663 815h0M608 773h0M612 638h0M648 748h0M440 751h0M410 748h0M437 810h0M604 855h0M495 742h0M582 676h0M693 760h0M402 716h0M421 814h0M400 791h0M541 888h0M504 630h0M700 631h0M531 892h0M657 712h0M672 626h0M434 688h0M699 845h0M447 671h0M396 842h0M578 691h0M690 788h0M524 672h0M579 783h0M524 628h0M574 608h0M494 640h0M537 736h0M449 594h0M450 847h0M625 797h0M701 815h0M499 885h0M541 875h0M688 884h0M487 881h0M578 859h0M655 615h0M406 753h0M699 726h0M558 601h0M514 863h0M561 838h0M397 874h0M490 868h0M539 701h0M542 679h0M420 763h0M546 692h0M694 700h0M472 741h0M621 682h0M585 797h0M552 793h0M638 731h0M608 712h0M513 805h0M701 626h0M631 735h0M701 644h0M526 592h0M428 665h0M541 611h0M493 770h0M687 783h0M657 891h0M603 796h0M660 611h0M408 639h0M488 706h0M470 586h0M491 604h0M635 782h0M520 712h0M432 802h0M691 605h0M428 830h0M507 887h0M474 637h0M577 638h0M443 733h0M460 688h0M643 670h0M637 642h0M537 789h0M680 806h0M439 768h0M632 609h0M551 674h0M396 715h0M679 827h0M595 806h0M560 885h0M691 798h0M595 815h0M457 820h0M653 769h0M660 895h0M465 718h0M411 798h0M640 820h0M630 650h0M420 847h0M547 806h0M501 638h0M399 584h0M648 680h0M706 633h0M603 791h0M705 856h0M542 837h0M453 642h0M401 825h0M575 739h0M404 890h0M455 848h0M628 893h0M479 736h0M398 754h0M664 847h0M583 761h0M505 618h0M625 889h0M499 614h0M526 893h0M535 792h0M591 876h0M540 798h0M564 659h0M479 778h0M705 671h0M427 785h0M405 647h0M475 590h0M646 808h0M684 805h0M478 687h0M613 803h0M581 861h0M686 586h0M691 714h0M405 593h0M396 625h0M617 749h0M416 709h0M399 788h0M532 626h0M645 611h0M399 763h0M641 773h0M594 642h0M657 798h0M569 598h0M612 649h0M703 825h0M659 632h0M425 631h0M616 820h0M630 779h0M512 797h0M650 650h0M441 869h0M648 784h0M467 841h0M495 881h0M517 879h0M409 798h0M472 854h0M538 726h0M543 885h0M444 630h0M554 817h0M573 793h0M487 890h0M650 729h0M629 850h0M485 850h0M440 763h0M622 838h0M578 812h0M549 737h0M429 880h0M527 779h0M587 846h0M664 701h0M546 700h0M693 872h0M442 604h0M615 850h0M632 665h0M687 760h0M682 624h0M403 876h0M410 732h0M509 766h0M574 653h0M451 877h0M702 892h0M704 857h0M536 776h0M538 733h0M600 895h0M629 711h0M493 674h0M517 782h0M568 887h0M483 719h0M454 665h0M666 668h0M690 712h0M549 875h0M455 690h0M679 593h0M472 757h0M459 723h0M685 698h0M510 760h0M628 877h0M436 773h0M410 787h0M423 788h0M613 705h0M533 586h0M523 618h0M652 747h0M674 760h0M481 800h0M506 727h0M679 609h0M422 646h0M621 661h0M400 690h0M397 590h0M402 891h0M651 838h0M634 841h0M685 758h0M502 645h0M561 627h0M692 604h0M644 652h0M563 795h0M613 641h0M618 633h0M653 740h0M467 820h0M621 733h0M592 799h0M612 791h0M648 603h0M531 642h0M417 670h0M637 609h0M466 652h0M553 715h0M565 614h0M628 824h0M496 814h0M655 586h0M700 816h0M479 603h0M528 856h0M485 884h0M504 631h0M648 779h0M574 610h0M459 862h0M474 690h0M628 875h0M511 877h0M578 741h0M671 841h0M671 854h0M703 647h0M470 633h0M608 798h0M589 869h0M535 608h0M697 586h0M698 842h0M689 699h0M605 644h0M657 754h0M436 857h0M602 723h0M569 653h0M450 868h0M583 625h0M515 635h0M466 881h0M500 769h0M541 603h0M507 840h0M695 596h0M643 598h0M424 625h0M434 751h0M546 766h0M522 601h0M649 620h0M628 709h0M550 795h0M617 778h0M461 845h0M432 865h0M671 692h0M621 694h0M631 694h0M495 886h0M643 666h0M697 683h0M438 748h0M460 828h0M517 745h0M494 835h0M565 833h0M490 734h0M487 687h0M443 859h0M412 881h0M481 735h0M653 765h0M607 614h0M490 631h0M618 660h0M550 789h0M666 697h0M545 607h0M657 663h0M685 702h0M661 635h0M499 843h0M678 685h0M471 629h0M521 751h0M681 736h0M521 859h0M413 651h0M651 636h0M507 650h0M493 802h0M581 815h0M420 828h0M426 829h0M620 660h0M539 784h0M509 691h0M588 809h0M473 694h0M704 877h0M546 866h0M461 695h0M400 842h0M399 828h0M442 659h0M619 808h0M705 874h0M621 891h0M467 827h0M449 857h0M614 887h0M401 678h0M440 892h0M455 795h0M656 671h0M420 704h0M688 735h0M406 769h0M536 869h0M505 688h0M413 668h0M517 586h0M449 867h0M417 617h0M697 646h0M679 733h0M490 762h0M552 608h0M589 617h0M515 733h0M647 759h0M458 628h0M448 873h0M469 675h0M506 867h0M673 860h0M694 678h0M603 646h0M582 773h0M488 587h0M492 628h0M513 633h0M691 658h0M685 877h0M680 703h0M551 782h0M691 854h0M472 730h0M593 593h0M571 725h0M422 829h0M675 861h0M663 625h0M472 628h0M406 765h0M456 828h0M682 717h0M526 624h0M655 812h0M681 666h0M696 869h0M427 746h0M675 784h0M413 707h0M462 733h0M531 797h0M606 817h0M504 794h0M540 841h0M584 641h0M477 829h0M685 746h0M546 597h0M522 728h0M514 839h0M617 720h0M674 700h0M405 695h0M580 594h0M552 651h0M705 811h0M645 597h0M524 641h0M580 654h0M576 837h0M647 667h0M661 831h0M456 841h0M594 888h0M473 686h0M402 821h0M517 631h0M593 610h0M564 816h0M488 708h0M522 656h0M550 725h0M620 633h0M588 723h0M674 617h0M571 777h0M541 712h0M441 784h0M643 586h0M523 831h0M532 770h0M457 724h0M534 637h0M618 830h0M638 602h0M701 837h0M579 694h0M555 600h0M706 796h0M552 761h0M700 601h0M520 605h0M433 684h0M401 856h0M590 783h0M422 702h0M468 861h0M423 614h0M401 713h0M422 830h0M695 607h0M676 792h0M525 724h0M671 727h0M490 698h0M624 647h0M635 815h0M521 780h0M701 708h0M609 641h0M489 839h0M432 797h0M402 751h0M613 879h0M601 731h0M412 891h0M464 854h0M489 889h0M483 672h0M423 649h0M438 798h0M500 895h0M499 867h0M442 600h0M499 757h0M526 701h0M671 840h0M458 723h0M559 743h0M667 595h0M396 677h0M395 790h0M493 666h0M450 788h0M499 804h0M691 887h0M533 856h0M508 752h0M630 850h0M595 723h0M682 779h0M617 628h0M581 760h0M401 793h0M668 701h0M542 739h0M419 813h0M449 828h0M445 721h0M697 650h0M522 690h0M403 673h0M403 766h0M438 630h0M682 883h0M404 806h0M464 665h0M532 766h0M459 836h0M503 846h0M656 729h0M529 890h0M662 855h0M566 824h0M444 801h0M504 884h0M695 771h0M641 804h0M620 648h0M469 732h0M535 644h0M451 786h0M475 618h0M613 887h0M458 625h0M652 825h0M548 797h0M535 693h0M470 788h0M628 868h0M538 850h0M658 821h0M419 757h0M520 718h0M600 668h0M623 628h0M492 839h0M641 844h0M662 798h0M422 605h0M461 743h0M422 895h0M579 740h0M604 748h0M696 806h0M406 700h0M471 662h0M489 749h0M541 876h0M618 871h0M701 768h0M500 704h0M620 807h0M651 878h0M397 766h0M674 807h0M651 644h0M693 741h0M497 736h0M645 720h0M506 625h0M664 782h0M662 640h0M442 612h0M416 621h0M460 827h0M494 881h0M462 838h0M654 786h0M504 625h0M605 787h0M414 652h0M584 826h0M419 784h0M523 740h0M573 808h0M586 698h0M473 714h0M613 857h0M442 891h0M405 818h0M613 767h0M703 860h0M434 717h0M521 771h0M470 712h0M646 587h0M474 844h0M578 864h0M464 751h0M688 626h0M580 763h0M418 729h0M680 713h0M690 709h0M446 737h0M477 845h0M456 682h0M698 885h0M694 591h0M631 749h0M446 722h0M398 822h0M397 774h0M697 655h0M588 869h0M690 716h0M452 634h0M466 611h0M427 587h0M501 758h0M526 588h0M402 615h0M495 696h0M631 893h0M624 629h0M413 884h0M639 693h0M495 723h0M696 891h0M444 781h0M691 717h0M646 880h0M456 610h0M649 835h0M444 649h0M584 643h0M568 735h0M442 859h0M473 778h0M401 655h0M522 805h0M523 869h0M581 595h0M643 652h0M417 629h0M610 743h0M494 745h0M479 824h0M588 766h0M519 683h0M607 872h0M512 784h0M689 840h0M520 859h0M517 616h0M461 684h0M607 682h0M588 655h0M542 836h0M486 675h0M619 766h0M610 806h0M490 657h0M697 600h0M641 839h0M651 631h0M696 806h0M479 674h0M582 811h0M457 821h0M433 783h0M542 613h0M588 696h0M550 798h0M671 796h0M650 696h0M654 814h0M559 645h0M589 669h0M439 894h0M621 593h0M398 756h0M430 688h0M463 865h0M632 734h0M522 601h0M606 677h0M494 694h0M413 605h0M434 848h0M483 642h0M443 724h0M560 866h0M653 797h0" stroke="#d8d080" stroke-width="2.4" stroke-linecap="round" stroke-opacity="1" fill="none"/><path d="M424 645h0M460 788h0M602 871h0M499 800h0M649 635h0M628 741h0M543 596h0M524 645h0M548 839h0M616 869h0M580 627h0M461 648h0M497 698h0M583 745h0M492 843h0M546 596h0M494 658h0M573 640h0M615 615h0M419 659h0M579 830h0M661 714h0M444 895h0M574 691h0M629 605h0M497 680h0M472 874h0M476 668h0M663 679h0M498 835h0M467 726h0M480 655h0M444 682h0M510 696h0M521 785h0M488 815h0M473 700h0M574 685h0M644 726h0M672 662h0M540 719h0M409 854h0M425 766h0M613 699h0M529 670h0M511 744h0M578 744h0M538 872h0M448 585h0M560 846h0M662 663h0M514 882h0M435 609h0M562 861h0M458 766h0M496 588h0M446 647h0M624 592h0M553 891h0M477 850h0M622 739h0M600 737h0M629 615h0M612 857h0M577 854h0M543 643h0M504 819h0M629 777h0M587 648h0M515 823h0M412 664h0M638 689h0M544 648h0M407 616h0M444 772h0M401 643h0M582 718h0M595 745h0M487 844h0M491 674h0M452 736h0M567 724h0M434 739h0M596 863h0M441 611h0M681 835h0M464 853h0M448 784h0M560 835h0M424 589h0M507 797h0M581 844h0M612 684h0M532 766h0M454 633h0M436 752h0M649 799h0M613 819h0M698 602h0M595 758h0M705 807h0M414 607h0M647 780h0M450 665h0M528 805h0M419 631h0M525 733h0M563 893h0M595 704h0M540 642h0M655 660h0M488 886h0M630 672h0M694 761h0M529 801h0M411 662h0M634 880h0M536 683h0M452 789h0M428 750h0M670 895h0M443 611h0M668 771h0M619 823h0M419 616h0M422 882h0M416 820h0M611 609h0M559 709h0M665 853h0M667 717h0M673 647h0M401 696h0M587 858h0M401 872h0M560 834h0M516 768h0M648 834h0M566 658h0M661 613h0M583 787h0M413 786h0M529 886h0M585 610h0M552 796h0M625 625h0M661 678h0M507 674h0M499 641h0M425 653h0M622 840h0M701 727h0M437 886h0M422 728h0M431 672h0M466 852h0M600 665h0M550 651h0M509 607h0M525 876h0M633 604h0M429 895h0M533 850h0M513 750h0M664 811h0M487 599h0M600 718h0M431 754h0M553 739h0M626 601h0M437 602h0M451 707h0M490 785h0M545 593h0M398 772h0M625 603h0M432 597h0M484 874h0M444 849h0M670 669h0M504 843h0M431 597h0M636 730h0M488 800h0M506 690h0M521 755h0M514 682h0M479 709h0M426 798h0M423 884h0M659 857h0M537 824h0M700 729h0M494 850h0M639 840h0M538 717h0M628 770h0M578 818h0M427 873h0M572 709h0" stroke="#c0c8e0" stroke-width="2.4" stroke-linecap="round" stroke-opacity="1" fill="none"/><path d="M665 754h0M474 620h0M658 870h0M420 674h0M448 591h0M486 631h0M436 877h0M568 804h0M493 799h0M520 654h0M473 671h0M498 851h0M544 872h0M578 605h0M693 740h0M665 778h0M588 772h0M526 678h0M610 664h0M612 781h0M570 722h0M464 692h0M576 706h0M424 872h0M600 833h0M577 782h0M536 810h0M691 861h0M544 715h0M426 652h0M506 771h0M647 745h0M673 628h0M520 630h0M551 746h0M518 813h0M558 658h0M470 844h0M705 748h0M515 648h0M410 812h0M686 776h0M408 752h0M660 691h0M615 614h0M595 841h0M451 829h0M464 684h0M619 756h0M585 612h0M507 598h0M411 890h0M447 733h0M675 613h0M643 894h0M596 776h0M475 700h0M520 834h0M618 618h0M702 589h0" stroke="#902050" stroke-width="2.4" stroke-linecap="round" stroke-opacity="1" fill="none"/></g>
<rect x="728.3" y="583" width="312" height="313.5" fill="#000" stroke="none" stroke-width="0"/>
<g clip-path="url(#clipD2)" filter="url(#dblur)"><path d="M753 823h0M803 883h0M933 843h0M1006 873h0M904 783h0M1005 667h0M840 840h0M788 813h0M912 634h0M821 868h0M905 649h0M896 618h0M917 695h0M1009 730h0M848 674h0M967 755h0M953 694h0M933 758h0M904 600h0M1014 845h0M991 682h0M811 730h0M740 623h0M754 596h0M958 848h0M939 808h0M1018 588h0M766 706h0M818 663h0M913 592h0M1016 736h0M897 855h0M1021 626h0M888 645h0M800 864h0M794 591h0M809 648h0M834 825h0M877 752h0M735 790h0M919 625h0M983 809h0M1024 743h0M766 834h0M892 704h0M741 637h0M899 715h0M970 889h0M774 815h0M1002 696h0M821 875h0M861 807h0M921 616h0M1037 588h0M936 624h0M802 750h0M775 652h0M834 638h0M974 602h0M755 606h0M1011 823h0M830 631h0M901 774h0M814 671h0M932 820h0M886 755h0M968 673h0M778 774h0M839 724h0M808 822h0M748 686h0M731 720h0M898 868h0M811 673h0M1031 679h0M821 691h0M856 717h0M867 653h0M1010 694h0M900 585h0M796 888h0M743 877h0M799 778h0M796 592h0M807 664h0M932 596h0M963 782h0M905 796h0M888 650h0M1021 767h0M1006 863h0M807 725h0M953 671h0M810 829h0M941 586h0M790 795h0M761 666h0M875 817h0M990 606h0M863 777h0M756 636h0M1007 806h0M767 670h0M1027 643h0M754 755h0M906 797h0M997 791h0M971 867h0M958 816h0M948 775h0M918 858h0M840 771h0M889 704h0M983 765h0M951 728h0M883 859h0M1018 616h0M939 692h0M891 608h0M756 702h0M832 787h0M810 736h0M1021 658h0M937 597h0M1014 818h0M911 806h0M733 699h0M1015 677h0M737 659h0M911 740h0M957 777h0M958 719h0M818 693h0M750 793h0M974 881h0M750 865h0M996 670h0M964 732h0M799 657h0M734 801h0M951 770h0M926 650h0M931 890h0M959 836h0M746 864h0M937 778h0M804 736h0M851 794h0M948 689h0M978 811h0M888 683h0M1034 726h0M985 750h0M954 717h0M840 619h0M793 635h0M838 604h0M851 648h0M886 717h0M777 760h0M979 669h0M968 716h0M757 768h0M960 636h0M1014 625h0M813 640h0M752 729h0M743 881h0M908 796h0M968 685h0M971 648h0M868 816h0M749 832h0M764 782h0M804 731h0M988 850h0M767 778h0M952 632h0M850 689h0M971 635h0M956 697h0M966 697h0M927 829h0M777 631h0M905 713h0M788 839h0M1030 765h0M1014 637h0M920 633h0M922 803h0M965 631h0M935 704h0M1035 803h0M1005 696h0M888 691h0M866 716h0M873 830h0M750 853h0M787 609h0M819 716h0M877 769h0M834 660h0M986 713h0M827 893h0M747 660h0M904 717h0M785 709h0M994 861h0M800 733h0M840 587h0M794 885h0M976 674h0M1001 747h0M873 781h0M997 615h0M1007 808h0M986 872h0M857 725h0M783 818h0M765 618h0M809 739h0M1022 830h0M863 870h0M883 603h0M919 892h0M906 628h0M1018 885h0M901 718h0M790 754h0M913 852h0M772 620h0M941 834h0M1003 756h0M828 797h0M910 614h0M809 833h0M912 853h0M1022 884h0M817 599h0M1039 849h0M806 757h0M755 829h0M926 750h0M761 654h0M875 811h0M974 811h0M999 790h0M755 866h0M981 842h0M819 674h0M823 884h0M1008 656h0M756 826h0M877 597h0M803 885h0M891 883h0M797 883h0M857 715h0M783 662h0M877 613h0M817 675h0M987 828h0M748 596h0M943 676h0M740 787h0M802 832h0M788 804h0M749 851h0M1012 836h0M927 784h0M1017 810h0M788 595h0M842 801h0M1033 648h0M938 606h0M902 614h0M802 664h0M914 659h0M866 784h0M882 804h0M901 837h0M1029 879h0M906 614h0M782 596h0M776 801h0M788 794h0M742 593h0M939 603h0M1029 731h0M798 883h0M975 620h0M906 717h0M810 839h0M981 680h0M784 844h0M1017 645h0M804 612h0M772 808h0M766 763h0M876 604h0M987 705h0M805 894h0M773 768h0M874 775h0M774 780h0M948 879h0M953 819h0M995 691h0M1020 698h0M978 735h0M783 700h0M961 861h0M738 665h0M954 855h0M888 846h0M1032 615h0M917 881h0M738 865h0M751 714h0M926 761h0M882 642h0M959 782h0M963 729h0M847 879h0M838 684h0M1036 748h0M1037 703h0M851 837h0M770 887h0M837 691h0M1018 774h0M894 593h0M959 599h0M983 829h0M983 799h0M771 673h0M801 810h0M966 881h0M932 761h0M919 875h0M955 781h0M913 756h0M978 613h0M884 863h0M935 618h0M915 725h0M761 703h0M991 619h0M916 870h0M993 642h0M882 873h0M866 792h0M979 811h0M984 717h0M821 852h0M866 851h0M1005 752h0M969 659h0M909 765h0M992 783h0M879 857h0M993 688h0M863 620h0M905 749h0M928 662h0M944 827h0M1028 755h0M939 791h0M790 733h0M912 883h0M887 667h0M743 843h0M990 732h0M834 690h0M946 723h0M747 771h0M1030 850h0M842 846h0M999 632h0M772 809h0M822 721h0M918 707h0M954 668h0M873 712h0M887 736h0M983 858h0M756 875h0M741 775h0M1022 712h0M887 614h0M778 749h0M867 617h0M799 620h0M738 877h0M954 895h0M928 670h0M954 680h0M788 658h0M1039 866h0M910 830h0M779 863h0M995 735h0M793 838h0M886 854h0M831 843h0M986 691h0M946 808h0M828 785h0M781 651h0M917 612h0M754 755h0M744 594h0M825 615h0M771 817h0M951 617h0M1004 674h0M830 624h0M756 698h0M973 650h0M950 842h0M793 873h0M881 598h0M818 663h0M920 849h0M892 723h0M970 665h0M813 678h0M967 699h0M807 766h0M759 750h0M871 740h0M997 664h0M857 659h0M851 627h0M854 728h0M974 853h0M802 702h0M758 806h0M767 707h0M1019 683h0M807 595h0M1006 854h0M845 842h0M852 875h0M815 776h0M918 852h0M801 855h0M735 662h0M943 618h0M904 741h0M871 742h0M832 700h0M973 611h0M890 647h0M776 665h0M938 676h0M926 893h0M950 651h0M749 639h0M1021 848h0M829 805h0M960 700h0M930 597h0M778 656h0M875 681h0M886 748h0M914 644h0M839 710h0M922 812h0M761 860h0M949 655h0M764 715h0M1020 590h0M847 760h0M1037 696h0M798 886h0M851 772h0M870 724h0M869 766h0M976 606h0M1001 688h0M1004 721h0M762 876h0M734 806h0M861 861h0M730 822h0M743 701h0M866 608h0M771 695h0M831 743h0M1005 680h0M742 720h0M995 799h0M849 693h0M900 591h0M858 678h0M893 629h0M819 735h0M752 820h0M842 800h0M854 787h0M995 645h0M1014 616h0M927 834h0M1013 845h0M849 752h0M831 775h0M870 805h0M966 595h0M813 830h0M825 748h0M927 799h0M1000 673h0M770 845h0M910 863h0M872 622h0M803 654h0M1031 867h0M747 749h0M816 681h0M754 837h0M939 666h0M768 780h0M975 745h0M928 691h0M921 683h0M938 646h0M750 636h0M809 883h0M968 893h0M1015 744h0M906 596h0M863 725h0M869 688h0M968 894h0M937 657h0M1002 748h0M933 723h0M874 824h0M803 620h0M1039 879h0M862 799h0M846 710h0M976 837h0M909 859h0M1027 766h0M927 842h0M924 630h0M1008 894h0M974 687h0M748 619h0M1002 741h0M996 784h0M872 592h0M942 813h0M949 767h0M939 843h0M837 719h0M864 755h0M901 740h0M781 630h0M767 893h0M745 658h0M833 781h0M985 675h0M934 868h0M913 708h0M980 626h0M891 735h0M837 780h0M889 893h0M827 809h0M980 774h0M805 891h0M911 642h0M1028 693h0M945 585h0M742 794h0M858 620h0M793 877h0M780 783h0M971 827h0M808 775h0M938 725h0M916 815h0M1035 589h0M794 794h0M817 777h0M734 883h0M886 743h0M928 861h0M741 676h0M772 777h0M874 890h0M810 711h0M951 608h0M801 818h0M768 744h0M809 854h0M1019 837h0M889 883h0M769 693h0M848 615h0M854 893h0M952 650h0M1017 698h0M943 836h0M1005 635h0M1024 695h0M871 779h0M862 839h0M913 687h0M784 766h0M933 858h0M815 730h0M943 740h0M991 772h0M865 662h0M955 824h0M927 728h0M758 611h0M794 777h0M865 805h0M975 598h0M897 784h0M961 718h0M874 736h0M942 823h0M820 675h0M737 766h0M937 727h0M798 801h0M775 750h0M1007 796h0M952 635h0M1004 719h0M816 678h0M854 868h0M1019 833h0M767 855h0M966 850h0M865 731h0M1004 892h0M971 613h0M730 761h0M793 749h0M914 592h0M887 865h0M857 787h0M765 679h0M922 659h0M928 856h0M938 851h0M867 736h0M1004 668h0M937 767h0M891 816h0M978 740h0M870 781h0M857 604h0M1038 766h0M944 732h0M768 640h0M982 748h0M858 781h0M1002 890h0M923 672h0M976 721h0M831 665h0M940 792h0M979 873h0M788 865h0M760 762h0M858 650h0M838 720h0M741 887h0M888 651h0M812 828h0M889 823h0M979 784h0M909 823h0M918 749h0M768 804h0M815 782h0M777 770h0M783 777h0M779 806h0M793 815h0M1011 668h0M1021 734h0M936 836h0M772 614h0M836 802h0M1015 756h0M1034 811h0M924 596h0M922 780h0M947 714h0M964 794h0M814 642h0M776 886h0M913 640h0M922 886h0M950 711h0M1016 729h0M955 828h0M743 865h0M962 609h0M917 753h0M793 609h0M939 591h0M775 843h0M925 866h0M944 839h0M733 668h0M746 654h0M807 790h0M951 640h0M1039 747h0M884 809h0M803 599h0M1019 652h0M765 672h0M907 587h0M912 822h0M842 764h0M984 775h0M890 783h0M875 892h0M807 763h0M1014 726h0M831 623h0M850 826h0M1017 595h0M756 840h0M837 724h0M996 789h0M884 864h0M770 635h0M983 617h0M779 751h0M748 702h0M1030 732h0M958 643h0M799 709h0M763 870h0M1019 699h0M738 705h0M772 833h0M998 832h0M742 873h0M862 699h0M842 761h0M813 817h0M888 846h0M764 604h0M925 790h0M1008 681h0M1029 619h0M980 867h0M1039 746h0M903 592h0M907 868h0M883 845h0M769 687h0M851 752h0M882 863h0M1027 729h0M957 741h0M810 857h0M971 677h0M777 696h0M1003 829h0M793 730h0M735 886h0M828 671h0M817 643h0M889 657h0M981 691h0M891 721h0M738 814h0M885 837h0M817 621h0M851 755h0M882 697h0M1006 649h0M730 608h0M1007 720h0M887 611h0M740 669h0M868 671h0M823 723h0M968 846h0M1021 885h0M764 752h0M907 823h0M869 740h0M786 731h0M824 646h0M989 663h0M931 751h0M920 733h0M856 656h0M754 859h0M878 650h0M743 605h0M994 646h0M967 777h0M780 835h0M958 617h0M880 626h0M976 745h0M762 716h0M953 838h0M958 820h0M746 642h0M995 693h0M758 597h0M927 891h0M819 729h0M736 831h0M872 716h0M784 586h0M986 873h0M995 724h0M864 673h0M778 644h0M886 847h0M752 868h0M781 880h0M967 719h0M896 833h0M985 788h0M908 601h0M791 635h0M973 863h0M1003 680h0M963 686h0M739 667h0M732 644h0M952 684h0M1010 666h0M1018 596h0M951 595h0M1030 868h0M1004 837h0M818 799h0M894 736h0M889 882h0M928 617h0M949 653h0M771 786h0M870 670h0M942 622h0M756 700h0M772 763h0M884 619h0M869 693h0M1000 668h0M787 617h0M853 789h0M909 661h0M792 659h0M762 687h0M953 730h0M820 652h0M979 833h0M982 710h0M904 622h0M756 667h0M874 808h0M930 800h0M878 682h0M979 806h0M737 672h0M736 748h0M948 619h0M813 852h0M893 861h0M947 822h0M1032 670h0M758 785h0M738 825h0M1034 803h0M1031 635h0M862 756h0M854 867h0M828 679h0M850 858h0M948 599h0M792 591h0M798 856h0M1033 730h0M909 792h0M784 691h0M860 586h0M1016 716h0M817 639h0M906 616h0M863 885h0M825 727h0M746 757h0M1005 836h0M749 664h0M865 638h0M744 772h0M904 640h0M1002 589h0M1035 586h0M742 731h0M967 748h0M825 741h0M1019 895h0M761 892h0M824 873h0M929 805h0M743 864h0M982 654h0M997 691h0M1006 857h0M996 874h0M857 808h0M955 679h0M996 833h0M950 726h0M737 617h0M1034 725h0M969 683h0M873 889h0M783 866h0M951 604h0M806 680h0M914 809h0M829 713h0M917 792h0M884 703h0M1016 652h0M785 873h0M977 662h0M792 632h0M1014 679h0M1026 707h0M852 872h0M979 720h0M763 609h0M1025 716h0M817 760h0M900 811h0M811 627h0M1027 657h0M929 652h0M850 881h0M944 850h0M1003 793h0M867 821h0M860 685h0M1008 881h0M850 846h0M826 603h0M942 754h0M957 832h0M940 767h0M1001 728h0M1005 858h0M986 593h0M965 610h0M915 863h0M742 838h0M807 676h0M1005 594h0M977 748h0M771 594h0M780 882h0M899 672h0M951 776h0M829 715h0M884 696h0M970 607h0M1023 641h0M776 728h0M969 714h0M949 591h0M893 764h0M809 783h0M755 772h0M840 823h0M835 774h0M903 601h0M834 772h0M1023 668h0M978 601h0M897 823h0M1036 769h0M740 778h0M982 659h0M1006 742h0M985 836h0M777 852h0M901 760h0M801 611h0M936 789h0M906 864h0M999 862h0M922 666h0M887 823h0M1039 763h0M927 894h0M947 848h0M896 602h0M733 850h0M961 886h0M871 814h0M840 699h0M862 773h0M910 722h0M763 787h0M994 700h0M923 745h0M860 854h0M1032 885h0M838 752h0M876 847h0M851 832h0M957 860h0M817 642h0M982 768h0M930 748h0M752 809h0M752 841h0M778 862h0M736 683h0M881 605h0M935 807h0M814 726h0M1036 741h0M1026 723h0M760 731h0M1035 707h0M881 788h0M849 724h0M987 633h0M787 766h0M1025 759h0M1006 658h0M962 726h0M813 711h0M734 735h0M1003 851h0M885 778h0M897 751h0M797 633h0M936 852h0M822 865h0M1025 625h0M894 598h0M777 890h0M1022 861h0M842 786h0M805 815h0M890 737h0M980 824h0M916 832h0M921 830h0M843 850h0M1005 843h0M1022 735h0M855 644h0M1011 888h0M752 863h0M984 676h0M772 775h0M848 780h0M898 724h0M928 702h0M800 859h0M1032 608h0M803 891h0M866 672h0M1028 644h0M909 768h0M1018 751h0M784 586h0M974 630h0M893 821h0M882 666h0M786 760h0M1015 831h0M919 807h0M964 879h0M834 656h0M936 693h0M941 729h0M887 696h0M969 666h0M880 653h0M842 742h0M841 882h0M935 732h0M1018 888h0M750 833h0M881 690h0M1003 859h0M957 854h0M994 759h0M843 820h0M794 730h0M830 706h0M747 889h0M920 878h0M923 743h0M759 596h0M889 619h0M829 792h0M758 651h0M770 604h0M903 713h0M845 658h0M996 716h0M766 605h0M854 852h0M748 662h0M845 671h0M808 587h0M781 620h0M940 616h0M832 826h0M915 816h0M813 869h0M950 628h0M918 888h0M909 851h0M867 850h0M858 863h0M1037 862h0M819 755h0M852 630h0M902 871h0M783 667h0M786 720h0M864 816h0M990 613h0M917 879h0M959 608h0M872 780h0M1015 824h0M772 851h0M841 751h0M1017 805h0M731 652h0M759 637h0M848 775h0M874 713h0M973 604h0M758 698h0M936 733h0M864 703h0M928 816h0M1028 710h0M919 871h0M773 839h0M984 822h0M925 620h0M802 865h0M986 684h0M864 675h0M833 816h0M1034 624h0M774 789h0M879 856h0M898 687h0M743 769h0M739 851h0M932 661h0M984 785h0M786 642h0M1036 627h0M938 708h0M818 841h0M757 806h0M987 752h0M946 711h0M1011 825h0M965 751h0M845 769h0M841 768h0M807 719h0M1032 615h0M802 610h0M730 696h0M787 657h0M1029 792h0M911 828h0M828 772h0M907 791h0M989 846h0M772 664h0M788 720h0M1026 837h0M838 726h0M757 628h0M843 886h0M850 879h0M993 733h0M969 690h0M1003 882h0M987 787h0M815 655h0M887 874h0M972 856h0M841 756h0M914 769h0M888 773h0M932 764h0M989 797h0M847 586h0M923 709h0M1019 663h0M996 797h0M997 632h0M735 806h0M867 604h0M980 889h0M934 812h0M900 730h0M804 773h0M842 643h0M1028 697h0M736 876h0M947 644h0M866 786h0M858 662h0M1036 722h0M831 861h0M847 693h0M977 761h0M940 585h0M768 831h0M1012 671h0M770 709h0M851 844h0M767 835h0M796 612h0M940 774h0M908 757h0M743 855h0M833 605h0M1001 685h0M772 850h0M1025 809h0M929 894h0M950 643h0M1030 749h0M888 827h0M765 894h0M939 819h0M861 720h0M771 700h0M820 629h0M816 704h0M1030 626h0M876 661h0M903 874h0M943 591h0M945 698h0M904 605h0M933 811h0M857 866h0M914 826h0M873 690h0M1004 673h0M832 679h0M779 812h0M738 750h0M745 589h0M977 626h0M953 850h0M804 723h0M1032 780h0M907 660h0M748 818h0M780 714h0M984 713h0M1031 782h0M964 790h0M813 865h0M756 708h0M974 833h0M883 873h0M831 861h0M1036 783h0M817 860h0M805 685h0M918 877h0M744 794h0M991 882h0M759 736h0M905 806h0M779 702h0M853 836h0M838 733h0M841 842h0M900 724h0M765 595h0M977 607h0M734 883h0M861 755h0M748 642h0M1024 821h0M934 746h0M1022 869h0M870 756h0M861 712h0M834 722h0M797 825h0M804 644h0M747 825h0M862 674h0M879 752h0M921 620h0M920 667h0M982 704h0M1018 609h0M977 609h0M866 882h0M812 635h0M914 827h0M891 764h0M923 589h0M806 871h0M791 775h0M998 724h0M824 780h0M1004 757h0M939 830h0M1016 632h0M734 821h0M757 644h0M848 660h0M901 740h0M810 697h0M1017 814h0M947 867h0M896 707h0M788 584h0M924 742h0M1001 667h0M886 692h0M944 616h0M951 685h0M740 743h0M814 619h0M753 798h0M988 693h0M755 707h0M966 858h0M872 780h0M1020 600h0M740 655h0M822 662h0M842 720h0M957 778h0M985 778h0M980 830h0M1006 800h0M988 788h0M830 587h0M930 855h0M870 700h0M971 745h0M981 697h0M886 809h0M1009 688h0M750 843h0M917 585h0M1017 655h0M791 832h0M1015 690h0M952 738h0M751 867h0M949 774h0M803 621h0M916 668h0M782 764h0M821 862h0M987 660h0M1024 880h0M1024 815h0M939 674h0M830 768h0M824 824h0M953 632h0M872 802h0M824 653h0M754 832h0M896 667h0M986 625h0M787 633h0M856 763h0M947 796h0M829 656h0M891 685h0M830 785h0M999 801h0M925 811h0M749 832h0M748 702h0M826 843h0M911 886h0M745 661h0M940 643h0M791 650h0M916 744h0M859 764h0M953 868h0M852 609h0M945 690h0M880 669h0M1010 811h0M823 645h0M995 795h0M815 774h0M893 887h0M968 762h0M822 866h0M894 704h0M1037 662h0M851 757h0M789 778h0M773 617h0M994 630h0M920 605h0M1020 599h0M854 710h0M783 761h0M753 781h0M957 822h0M870 684h0M892 861h0M822 895h0M959 634h0M898 892h0M918 593h0M742 646h0M985 659h0M734 759h0M791 720h0M837 596h0M1002 664h0M913 891h0M740 723h0M907 672h0M798 754h0M975 770h0M832 625h0M888 635h0M873 862h0M960 886h0M1004 849h0M853 618h0M987 610h0M788 734h0M855 745h0M998 720h0M957 611h0M828 750h0M1019 738h0M820 777h0M981 828h0M950 634h0M772 634h0M793 798h0M775 633h0M772 882h0M747 775h0M1008 741h0M956 802h0M1021 891h0M1038 730h0M885 885h0M1018 883h0M1014 722h0M796 609h0M938 768h0M986 706h0M782 828h0M934 758h0M736 624h0M784 634h0M824 630h0M934 655h0M730 822h0M1018 880h0M900 792h0M946 865h0M930 878h0M904 672h0M1033 715h0M892 765h0M803 613h0M812 667h0" stroke="#480000" stroke-width="3" stroke-linecap="round" stroke-opacity="1" fill="none"/><path d="M747 628h0M1016 888h0M907 751h0M747 816h0M838 791h0M762 657h0M812 636h0M995 867h0M1020 782h0M1017 762h0M773 690h0M964 664h0M774 645h0M746 712h0M774 803h0M888 700h0M1014 772h0M788 766h0M891 788h0M956 805h0M925 728h0M1019 802h0M831 854h0M872 760h0M803 892h0M770 871h0M944 835h0M842 691h0M1017 619h0M973 870h0M944 596h0M1006 654h0M1018 590h0M927 744h0M738 763h0M742 871h0M859 758h0M901 894h0M900 588h0M977 757h0M1031 628h0M762 786h0M880 803h0M806 800h0M820 692h0M903 696h0M968 883h0M998 774h0M825 817h0M804 603h0M820 734h0M1013 620h0M816 664h0M848 755h0M959 853h0M806 724h0M746 750h0M769 684h0M807 864h0M972 709h0M742 640h0M998 815h0M784 876h0M1003 611h0M1003 746h0M934 884h0M922 706h0M980 696h0M922 775h0M920 651h0M819 748h0M773 806h0M930 673h0M788 587h0M1038 679h0M742 794h0M885 758h0M773 728h0M757 767h0M933 850h0M792 593h0M906 793h0M854 599h0M1022 662h0M1028 598h0M840 800h0M783 615h0M901 791h0M927 770h0M872 642h0M938 748h0M844 622h0M991 754h0M811 785h0M729 662h0M1024 719h0M878 818h0M824 615h0M824 631h0M834 852h0M809 690h0M732 882h0M954 666h0M754 606h0M1003 671h0M979 730h0M775 895h0M797 886h0M899 800h0M1016 677h0M783 797h0M773 716h0M766 670h0M897 721h0M778 677h0M934 729h0M969 646h0M855 842h0M753 881h0M893 768h0M778 698h0M1002 725h0M789 715h0M915 743h0M892 734h0M843 625h0M994 601h0M894 592h0M731 872h0M998 860h0M903 665h0M945 665h0M835 776h0M768 800h0M779 683h0M806 769h0M963 849h0M912 646h0M823 852h0M1021 640h0M786 855h0M815 756h0M916 840h0M823 857h0M756 830h0M929 736h0M831 643h0M883 699h0M955 805h0M1033 681h0M737 639h0M1018 634h0M739 828h0M985 828h0M899 864h0M890 826h0M810 601h0M816 799h0M892 605h0M788 603h0M784 727h0M926 888h0M745 750h0M805 627h0M865 603h0M766 813h0M830 802h0M858 618h0M923 670h0M1005 743h0M953 796h0M977 810h0M770 722h0M932 646h0M815 623h0M980 741h0M1030 712h0M762 651h0M851 678h0M882 783h0M814 870h0M988 827h0M899 679h0M893 590h0M1014 666h0M994 625h0M765 752h0M904 797h0M876 646h0M1031 743h0M908 634h0M824 837h0M886 838h0M882 758h0M941 730h0M774 597h0M797 843h0M904 881h0M828 734h0M871 713h0M880 677h0M906 807h0M951 700h0M887 879h0M1029 748h0M732 670h0M1001 788h0M1009 846h0M1005 675h0M863 586h0M815 828h0M868 756h0M744 661h0M1026 887h0M854 681h0M744 843h0M833 839h0M763 842h0M971 642h0M989 806h0M905 658h0M733 643h0M905 688h0M935 832h0M1017 588h0M794 844h0M791 712h0M914 843h0M902 764h0M1025 833h0M986 826h0M1030 838h0M991 648h0M934 737h0M938 838h0M1019 884h0M812 886h0M799 762h0M1003 877h0M867 598h0M953 619h0M737 723h0M919 872h0M853 710h0M896 597h0M914 779h0M736 596h0M847 787h0M927 894h0M980 648h0M1038 719h0M904 726h0M933 632h0M961 709h0M814 692h0M1031 810h0M871 778h0M782 662h0M1000 786h0M843 823h0M852 746h0M874 712h0M917 607h0M891 845h0M838 873h0M1007 823h0M810 870h0M732 736h0M944 667h0M761 717h0M811 656h0M1003 777h0M950 797h0M1007 736h0M854 836h0M949 873h0M853 747h0M1008 592h0M829 797h0M783 774h0M736 790h0M944 890h0M1007 665h0M973 743h0M1012 795h0M809 770h0M828 678h0M871 727h0M809 678h0M837 796h0M888 595h0M733 869h0M884 720h0M799 644h0M878 593h0M917 861h0M873 814h0M881 871h0M973 721h0M1020 682h0M755 683h0M810 844h0M808 589h0M902 662h0M935 659h0M806 595h0M940 854h0M931 891h0M982 670h0M824 672h0M1007 873h0M791 603h0M913 750h0M952 863h0M909 611h0M828 664h0M859 650h0M743 669h0M788 886h0M748 814h0M962 684h0M818 756h0M1001 606h0M771 633h0M1002 710h0M771 672h0M793 637h0M916 693h0M929 646h0M789 775h0M993 742h0M1013 810h0M832 618h0M858 770h0M996 633h0M760 623h0M995 671h0M905 666h0M893 587h0M815 765h0M841 842h0M1004 825h0M847 620h0M824 615h0M849 775h0M904 888h0M773 714h0M981 589h0M864 712h0M806 592h0M997 644h0M776 740h0M854 602h0M953 628h0M830 716h0M774 710h0M759 631h0M924 869h0M917 684h0M874 723h0M821 680h0M964 614h0M902 854h0M830 761h0M879 714h0M843 797h0M821 624h0M758 795h0M778 814h0M805 850h0M734 742h0M955 773h0M915 640h0M936 686h0M1011 774h0M863 596h0M741 807h0M747 597h0M845 787h0M884 838h0M761 840h0M789 693h0M990 847h0M932 798h0M1034 886h0M807 881h0M976 798h0M776 612h0M874 653h0M874 710h0M836 645h0M996 769h0M906 815h0M887 619h0M970 753h0M771 723h0M900 811h0M968 736h0M936 601h0M806 678h0M1013 652h0M756 786h0M862 602h0M777 880h0M836 612h0M831 852h0M966 642h0M891 800h0M932 801h0M783 800h0M763 861h0M765 757h0M933 886h0M868 772h0M805 610h0M937 687h0M917 688h0M985 771h0M894 818h0M843 648h0M873 613h0M911 695h0M915 691h0M918 686h0M874 640h0M884 786h0M1027 884h0M1029 702h0M822 840h0M762 622h0M937 773h0M1015 680h0M837 634h0M964 671h0M904 761h0M880 827h0M823 699h0M992 708h0M1015 861h0M1015 705h0M844 791h0M1016 631h0M824 698h0M816 700h0M857 713h0M972 856h0M852 865h0M931 840h0M905 744h0M874 709h0M1008 795h0M1005 589h0M742 777h0M771 784h0M954 844h0M858 848h0M785 736h0M803 817h0M933 642h0M805 615h0M928 720h0M859 683h0M730 815h0M972 775h0M1020 606h0M944 664h0M961 752h0M957 764h0M896 678h0M783 677h0M818 858h0M863 594h0M1018 615h0M954 714h0M931 691h0M836 644h0M869 701h0M980 696h0M803 760h0M996 747h0M810 600h0M889 842h0M976 845h0M958 636h0M889 750h0M832 705h0M798 603h0M1036 599h0M859 697h0M918 712h0M827 725h0M848 834h0M904 666h0M793 677h0M1002 605h0M773 802h0M921 777h0M945 734h0M812 690h0M750 761h0M978 860h0M734 595h0M997 799h0M822 798h0M1026 816h0M1021 596h0M731 689h0M906 710h0M1035 834h0M798 705h0M805 606h0M805 822h0M944 621h0M730 753h0M949 640h0M918 807h0M803 753h0M778 784h0M838 765h0M737 850h0M736 757h0M848 734h0M871 681h0M1004 620h0M1026 862h0M745 748h0M833 822h0M991 714h0M988 760h0M895 790h0M869 798h0M1025 698h0M997 714h0M881 628h0M984 785h0M808 668h0M844 789h0M783 895h0M893 683h0M849 724h0M821 703h0M907 663h0M794 829h0M791 609h0M1005 613h0M1001 791h0M875 835h0M753 814h0M839 650h0M752 588h0M812 817h0M972 799h0M730 827h0M906 606h0M884 778h0M836 623h0M877 685h0M902 817h0M1004 690h0M757 716h0M883 634h0M783 878h0M999 819h0M979 656h0M845 638h0M803 861h0M810 791h0M839 660h0M977 877h0M993 660h0M813 718h0M755 873h0M904 619h0M745 816h0M807 758h0M955 811h0M847 771h0M738 701h0M986 873h0M906 812h0M894 841h0M822 738h0M729 649h0M807 848h0M847 644h0M1037 790h0M970 739h0M992 752h0M963 653h0M1014 803h0M860 759h0M744 693h0M828 593h0M1030 781h0M757 816h0M788 712h0M877 850h0M881 767h0M745 833h0M923 610h0M732 635h0M748 652h0M822 816h0M995 663h0M988 645h0M997 703h0M1036 729h0M1015 670h0M938 871h0M782 879h0M906 883h0M892 727h0M855 623h0M791 827h0M875 607h0M732 852h0M907 795h0M744 893h0M972 836h0M875 803h0M871 680h0M942 644h0M747 755h0M795 755h0M955 734h0M934 601h0M1038 585h0M840 712h0M746 612h0M865 702h0M898 656h0M812 835h0M981 724h0M729 690h0M849 663h0M1010 666h0M882 670h0M1016 606h0M834 660h0M847 803h0M757 801h0M926 658h0M1035 869h0M870 739h0M803 758h0M975 868h0M981 660h0M1033 623h0M994 829h0M891 709h0M843 592h0M938 872h0M797 662h0M789 691h0M1036 780h0M797 861h0M922 810h0M937 710h0M749 846h0M959 584h0M755 808h0M832 894h0M989 661h0M975 859h0M743 762h0M766 693h0M1008 792h0M901 804h0M751 774h0M926 773h0M736 732h0M844 608h0M928 798h0M806 732h0M880 810h0M1017 728h0M959 813h0M977 751h0M761 821h0M844 639h0M917 650h0M945 783h0M929 740h0M879 813h0M762 682h0M860 776h0M890 834h0M869 823h0M793 680h0M822 859h0M977 641h0M798 782h0M955 847h0M995 643h0M743 793h0M817 781h0M910 733h0M946 703h0M743 612h0M969 828h0M867 858h0M809 685h0M976 599h0M955 587h0M997 882h0M922 769h0M883 601h0M807 713h0M1004 689h0M1030 684h0M814 831h0M982 828h0M973 669h0M939 817h0M785 666h0M770 737h0M1014 809h0M850 804h0M771 657h0M753 888h0M891 857h0M974 651h0M982 591h0M757 852h0M906 782h0M1012 698h0M950 783h0M753 622h0M940 623h0M1032 590h0M1015 656h0M882 685h0M745 800h0M953 838h0M1026 888h0M749 802h0M932 766h0M819 735h0M769 658h0M876 613h0M881 837h0M770 672h0M851 788h0M852 743h0M798 736h0M811 750h0M1017 888h0M788 735h0M840 774h0M808 604h0M1003 753h0M833 667h0M814 870h0M954 852h0M1003 793h0M937 608h0M842 685h0M860 681h0M972 769h0M1026 878h0M944 674h0M976 624h0M744 740h0M897 840h0M962 773h0M860 862h0M742 845h0M862 715h0M886 773h0M853 827h0M805 825h0M921 691h0M912 767h0M810 728h0M768 635h0M758 782h0M921 642h0M850 697h0M1011 844h0M1023 670h0M1037 766h0M811 628h0M925 854h0M856 609h0M934 691h0M1039 850h0M988 692h0M846 706h0M927 712h0M758 585h0M1037 616h0M805 731h0M750 637h0M967 743h0M1022 807h0M856 889h0M1023 644h0M815 633h0M867 748h0M967 892h0M811 733h0M853 709h0M994 587h0M850 861h0M837 792h0M857 809h0M1036 802h0M914 823h0M759 728h0M833 740h0M882 706h0M947 848h0M944 752h0M1027 661h0M785 785h0M750 826h0M851 697h0M734 703h0M944 816h0M783 619h0M777 695h0M929 685h0M849 680h0M1020 689h0M835 653h0M865 733h0M772 852h0M791 616h0M1035 726h0M996 689h0M959 840h0M1039 718h0M876 885h0M850 812h0M978 772h0M1030 808h0M908 686h0M1021 642h0M987 634h0M989 802h0M739 613h0M1036 611h0M1017 836h0M797 780h0M734 638h0M824 728h0M733 723h0M755 781h0M930 863h0M737 825h0M844 717h0M789 880h0M955 650h0M885 851h0M988 687h0M1008 603h0M863 656h0M814 589h0M774 653h0M800 894h0M1015 815h0M751 721h0M920 707h0M960 818h0M757 761h0M866 776h0M930 859h0M977 647h0M844 747h0M961 756h0M939 668h0M959 891h0M990 674h0M1009 839h0M833 636h0M859 848h0M1006 699h0M825 773h0M860 655h0M1003 589h0M773 748h0M1025 751h0M769 676h0M1019 643h0M764 677h0M1015 782h0M1000 592h0M850 722h0M820 861h0M833 891h0M733 695h0M1005 700h0M983 760h0M782 793h0M1017 687h0M886 774h0M1024 592h0M929 895h0M888 852h0M907 762h0M753 801h0M856 705h0M912 667h0M1035 689h0M969 706h0M764 708h0M793 795h0M1032 636h0M901 799h0M801 869h0M1015 801h0M996 690h0M884 685h0M1037 766h0M884 706h0M813 677h0M883 810h0M832 765h0M1016 816h0M854 827h0M891 668h0M799 673h0M935 597h0M791 585h0M904 763h0M915 849h0M749 585h0M831 837h0M771 629h0M960 835h0M1019 858h0M980 861h0M1029 700h0M920 698h0M785 846h0M875 787h0M797 773h0M789 730h0M1010 673h0M941 618h0M827 595h0M1023 859h0M733 655h0M1002 717h0M863 681h0M741 832h0M873 780h0M875 771h0M864 761h0M853 705h0M818 644h0M968 882h0M934 745h0M861 828h0M770 746h0M739 698h0M1025 798h0M1030 820h0M756 692h0M833 750h0M788 849h0M998 739h0M838 589h0M955 666h0M765 854h0M897 629h0M1034 746h0M954 587h0M866 624h0M845 765h0M970 591h0M854 798h0M1018 669h0M842 695h0M987 879h0M808 882h0M929 641h0M1021 650h0M980 720h0M977 855h0M966 644h0M929 586h0M1031 757h0M1005 864h0M850 894h0M834 680h0M846 639h0M954 604h0M976 733h0M949 790h0M905 659h0M925 861h0M788 640h0M732 657h0M899 674h0M767 859h0M842 696h0M895 741h0M745 701h0M950 855h0M1010 672h0M819 734h0M960 809h0M741 740h0M943 655h0M954 640h0M851 735h0M1024 777h0M948 621h0M1003 845h0M768 683h0M897 850h0M939 792h0M747 727h0M747 597h0M819 607h0M918 761h0M919 653h0M792 766h0M796 600h0M915 743h0M821 642h0M858 763h0M815 585h0M859 706h0M788 752h0M804 602h0M908 740h0M982 594h0M995 844h0M1038 848h0M831 660h0M933 770h0M962 839h0M913 794h0M868 741h0M908 844h0M865 738h0M882 749h0M778 733h0M916 698h0M961 626h0M1013 598h0M930 672h0M886 847h0M930 853h0M983 860h0M997 764h0M993 678h0M922 605h0M775 768h0M731 832h0M1005 630h0M925 591h0M836 862h0M1005 868h0M922 738h0M819 823h0M927 605h0M874 859h0M963 831h0M753 809h0M1029 745h0M942 673h0M890 631h0M884 818h0M1034 819h0M756 832h0M879 736h0M860 793h0M780 850h0M747 704h0M809 596h0M825 750h0M933 785h0M876 784h0M1000 829h0M901 769h0M765 721h0M895 593h0M910 781h0M1019 695h0M876 845h0M942 617h0M749 840h0M869 642h0M968 629h0M970 804h0M981 823h0M749 667h0M815 868h0M740 785h0M961 770h0M759 660h0M848 872h0M966 809h0M904 779h0M1020 774h0M985 637h0M890 726h0M885 606h0M942 879h0M789 680h0M753 865h0M944 793h0M950 874h0M869 714h0M991 832h0M1001 724h0M826 787h0M894 782h0M803 863h0M862 819h0M787 722h0M771 881h0M940 850h0M930 608h0M920 864h0M885 611h0M1035 636h0M893 731h0M967 620h0M926 755h0M977 706h0M819 619h0M912 680h0M830 835h0M844 752h0M873 835h0M838 841h0M839 650h0M890 646h0M1033 868h0M813 642h0M870 646h0M839 727h0M757 702h0M790 698h0M963 814h0M771 626h0M839 740h0M956 739h0M785 670h0M1001 822h0M865 815h0M860 875h0M888 652h0M878 699h0M979 689h0M740 594h0M893 887h0M886 621h0M830 874h0M790 677h0M958 868h0M794 695h0M917 864h0M1037 612h0M765 739h0M786 774h0M909 624h0M819 651h0M947 674h0M917 752h0M764 866h0M995 842h0M884 737h0M860 723h0M888 663h0M963 788h0M1024 680h0M813 637h0M925 719h0M791 827h0M881 613h0M845 863h0M882 799h0M828 895h0M1009 695h0M1018 655h0M947 797h0M877 750h0M997 745h0M818 773h0M779 882h0M732 859h0M844 645h0M900 707h0M976 643h0M851 785h0M932 588h0M847 689h0M1011 609h0M1039 835h0M906 798h0M876 813h0M927 609h0M944 618h0M774 875h0M779 656h0M736 742h0M834 693h0M835 696h0M890 639h0M953 888h0M1013 665h0M1019 625h0M997 738h0M813 839h0M913 704h0M902 782h0M1025 828h0M759 808h0M866 647h0M738 886h0M852 810h0M942 638h0M968 722h0M848 749h0M945 813h0M906 722h0M963 820h0M964 767h0M767 623h0M788 636h0M865 823h0M986 792h0M969 608h0M884 714h0M815 741h0M827 883h0M991 588h0M809 796h0M828 648h0M907 809h0M926 891h0M850 839h0M918 892h0M951 731h0M878 894h0M771 878h0M1037 648h0M995 679h0M827 692h0M1031 633h0M737 818h0M925 786h0M938 811h0M780 703h0M950 892h0M807 844h0M873 711h0M936 635h0M975 848h0M969 677h0M737 656h0M734 648h0M944 760h0M736 704h0M740 651h0M814 610h0M784 800h0M980 803h0M736 598h0M778 606h0M909 807h0M886 862h0M1027 609h0M1013 870h0M895 835h0M863 783h0M781 667h0M999 810h0M952 778h0M903 766h0M908 694h0M961 879h0M770 643h0M885 771h0M809 707h0M923 680h0M783 720h0M890 789h0M929 831h0M772 754h0M968 763h0M789 782h0M846 694h0M930 870h0M853 821h0M959 676h0M952 779h0M838 688h0M894 651h0M1011 807h0M969 586h0M920 644h0M735 817h0M1034 687h0M871 710h0" stroke="#780000" stroke-width="2.8" stroke-linecap="round" stroke-opacity="1" fill="none"/><path d="M848 721h0M996 689h0M1025 664h0M870 667h0M747 708h0M942 602h0M787 620h0M825 882h0M879 760h0M747 680h0M736 851h0M772 749h0M1023 877h0M736 859h0M1004 780h0M818 623h0M846 681h0M1038 603h0M853 656h0M814 865h0M935 666h0M998 718h0M943 778h0M832 696h0M1029 686h0M758 628h0M747 713h0M853 838h0M892 775h0M1029 797h0M1033 850h0M951 762h0M751 726h0M834 879h0M822 783h0M998 779h0M774 734h0M970 801h0M785 749h0M732 706h0M886 597h0M800 611h0M890 830h0M935 766h0M832 602h0M834 752h0M866 631h0M939 699h0M968 672h0M836 733h0M942 613h0M973 633h0M737 711h0M957 893h0M803 741h0M973 659h0M844 621h0M846 821h0M996 693h0M798 712h0M951 846h0M1021 781h0M1035 836h0M929 780h0M983 706h0M745 848h0M850 680h0M787 680h0M768 784h0M795 856h0M946 680h0M883 648h0M871 826h0M805 871h0M1005 763h0M891 836h0M858 774h0M744 606h0M1019 762h0M861 856h0M826 758h0M989 780h0M765 869h0M837 807h0M1016 684h0M992 751h0M951 814h0M1029 785h0M1015 760h0M949 861h0M994 755h0M950 600h0M736 895h0M958 602h0M835 784h0M868 884h0M849 858h0M801 820h0M1018 826h0M822 774h0M906 730h0M860 698h0M881 823h0M817 819h0M878 872h0M1003 737h0M868 785h0M918 607h0M866 745h0M969 669h0M882 680h0M863 811h0M918 670h0M776 681h0M937 798h0M856 864h0M823 816h0M992 688h0M946 631h0M857 623h0M985 759h0M804 849h0M749 855h0M968 882h0M936 657h0M975 866h0M803 635h0M852 611h0M777 689h0M826 793h0M757 685h0M833 714h0M904 709h0M931 626h0M796 592h0M758 853h0M1019 855h0M1006 624h0M813 628h0M865 888h0M820 817h0M939 656h0M782 628h0M753 730h0M894 812h0M926 756h0M789 641h0M1030 618h0M975 746h0M1026 584h0M845 855h0M876 890h0M956 617h0M933 602h0M971 779h0M947 840h0M971 659h0M758 605h0M802 893h0M1037 648h0M752 840h0M847 621h0M979 630h0M856 891h0M971 846h0M898 683h0M1035 829h0M763 849h0M880 754h0M791 787h0M983 679h0M965 600h0M783 742h0M732 769h0M747 619h0M856 639h0M940 787h0M908 595h0M764 843h0M768 888h0M1038 856h0M871 775h0M965 630h0M817 876h0M977 867h0M832 649h0M793 690h0M837 693h0M934 882h0M811 886h0M945 708h0M1016 743h0M907 603h0M751 700h0M795 895h0M934 738h0M1028 646h0M1021 687h0M952 861h0M968 751h0M832 748h0M874 762h0M813 884h0M1007 639h0M868 875h0M790 834h0M940 674h0M969 643h0M733 678h0M881 825h0M796 742h0M996 765h0M793 595h0M893 630h0M915 781h0M740 786h0M939 798h0M949 819h0M773 861h0M809 622h0" stroke="#a80404" stroke-width="2.6" stroke-linecap="round" stroke-opacity="1" fill="none"/></g>
<rect x="1055.3" y="583" width="311.7" height="313.5" fill="#000" stroke="none" stroke-width="0"/>
<g clip-path="url(#clipD3)" filter="url(#dblur)"><path d="M1064 695h0M1090 786h0M1201 756h0M1237 680h0M1132 773h0M1159 701h0M1229 678h0M1231 641h0M1329 587h0M1349 788h0M1331 653h0M1325 691h0M1116 598h0M1174 735h0M1357 624h0M1256 813h0M1129 609h0M1178 790h0M1181 753h0M1229 611h0M1127 646h0M1154 837h0M1308 668h0M1230 852h0M1265 893h0M1329 781h0M1299 702h0M1100 770h0M1226 772h0M1303 706h0M1194 674h0M1354 637h0M1244 586h0M1311 715h0M1093 778h0M1328 800h0M1116 679h0M1191 803h0M1364 769h0M1179 667h0M1227 588h0M1207 612h0M1088 675h0M1258 756h0M1287 715h0M1167 822h0M1246 808h0M1179 791h0M1365 863h0M1255 835h0M1250 709h0M1354 799h0M1354 801h0M1184 675h0M1159 736h0M1189 762h0M1301 613h0M1102 619h0M1323 771h0M1237 589h0M1227 735h0M1145 704h0M1134 713h0M1173 832h0M1262 645h0M1249 734h0M1160 747h0M1187 833h0M1124 615h0M1278 654h0M1324 652h0M1101 773h0M1088 881h0M1118 651h0M1104 748h0M1190 813h0M1345 881h0M1092 713h0M1286 853h0M1296 593h0M1143 746h0M1059 599h0M1244 847h0M1059 887h0M1134 765h0M1344 792h0M1266 757h0M1162 597h0M1322 645h0M1126 683h0M1250 759h0M1068 870h0M1229 650h0M1190 692h0M1225 794h0M1191 650h0M1337 625h0M1100 821h0M1092 587h0M1148 782h0M1331 646h0M1066 649h0M1128 697h0M1291 715h0M1071 867h0M1260 830h0M1360 686h0M1234 734h0M1143 740h0M1229 755h0M1124 820h0M1242 830h0M1276 715h0M1203 665h0M1228 735h0M1139 678h0M1325 660h0M1273 700h0M1254 616h0M1291 827h0M1219 705h0M1144 605h0M1300 667h0M1250 744h0M1279 700h0M1077 684h0M1106 854h0M1331 739h0M1279 857h0M1337 745h0M1279 714h0M1237 834h0M1149 730h0M1220 659h0M1294 743h0M1178 650h0M1201 711h0M1299 651h0M1353 607h0M1213 801h0M1306 885h0M1200 628h0M1259 707h0M1154 732h0M1141 690h0M1167 874h0M1320 785h0M1209 816h0M1270 863h0M1312 890h0M1276 603h0M1218 653h0M1081 616h0M1366 654h0M1197 813h0M1157 743h0M1073 683h0M1296 657h0M1219 713h0M1255 875h0M1155 759h0M1151 891h0M1340 894h0M1277 681h0M1237 733h0M1169 692h0M1232 743h0M1203 605h0M1220 660h0M1208 886h0M1290 833h0M1101 743h0M1259 677h0M1180 602h0M1334 586h0M1342 707h0M1180 876h0M1215 656h0M1134 619h0M1237 589h0M1321 673h0M1217 706h0M1300 667h0M1199 647h0M1075 588h0M1108 665h0M1274 643h0M1170 730h0M1060 716h0M1146 796h0M1325 790h0M1325 765h0M1188 613h0M1063 793h0M1262 744h0M1150 825h0M1246 730h0M1299 707h0M1232 638h0M1087 791h0M1064 855h0M1334 824h0M1117 610h0M1121 850h0M1115 875h0M1206 725h0M1178 785h0M1355 703h0M1093 729h0M1124 591h0M1302 721h0M1253 604h0M1083 728h0M1220 767h0M1096 614h0M1229 831h0M1148 687h0M1151 760h0M1209 791h0M1274 773h0M1201 839h0M1273 763h0M1078 802h0M1192 834h0M1222 636h0M1082 784h0M1130 598h0M1277 697h0M1279 715h0M1363 626h0M1291 826h0M1330 767h0M1343 877h0M1287 847h0M1164 597h0M1281 742h0M1175 629h0M1195 784h0M1280 814h0M1350 869h0M1095 594h0M1354 697h0M1165 834h0M1117 772h0M1161 585h0M1257 761h0M1109 820h0M1167 703h0M1283 865h0M1252 884h0M1291 616h0M1166 678h0M1273 704h0M1109 833h0M1195 679h0M1086 743h0M1325 599h0M1298 833h0M1064 880h0M1268 708h0M1109 627h0M1165 682h0M1258 852h0M1364 781h0M1341 608h0M1117 671h0M1252 738h0M1186 637h0M1332 879h0M1221 741h0M1094 728h0M1194 818h0M1361 684h0M1235 881h0M1217 829h0M1223 706h0M1142 849h0M1127 755h0M1076 817h0M1193 663h0M1148 682h0M1144 616h0M1318 682h0M1186 870h0M1321 724h0M1079 656h0M1228 878h0M1224 780h0M1131 750h0M1224 739h0M1298 678h0M1359 791h0M1125 649h0M1147 789h0M1310 857h0M1237 796h0M1186 730h0M1313 779h0M1206 642h0M1108 709h0M1349 784h0M1074 698h0M1149 845h0M1303 734h0M1076 661h0M1129 727h0M1126 796h0M1105 894h0M1304 628h0M1217 813h0M1132 601h0M1328 591h0M1218 887h0M1252 726h0M1142 683h0M1265 838h0M1296 678h0M1279 754h0M1314 885h0M1062 751h0M1339 741h0M1353 654h0M1219 864h0M1114 815h0M1285 716h0M1338 602h0M1075 614h0M1290 838h0M1136 856h0M1358 719h0M1338 611h0M1364 749h0M1356 620h0M1295 632h0M1198 590h0M1359 868h0M1200 732h0M1063 734h0M1119 783h0M1114 888h0M1173 863h0M1111 608h0M1314 885h0M1306 724h0M1342 619h0M1312 722h0M1244 779h0M1354 732h0M1170 880h0M1324 727h0M1222 667h0M1260 880h0M1171 694h0M1204 765h0M1180 733h0M1135 872h0M1068 627h0M1160 884h0M1072 867h0M1162 745h0M1337 611h0M1269 750h0M1284 596h0M1194 804h0M1227 872h0M1177 723h0M1156 636h0M1362 702h0M1291 827h0M1254 701h0M1341 817h0M1174 822h0M1138 650h0M1173 691h0M1358 664h0M1317 611h0M1355 711h0M1247 852h0M1307 783h0M1131 677h0M1271 700h0M1190 602h0M1341 685h0M1170 837h0M1308 890h0M1239 695h0M1126 846h0M1338 863h0M1139 689h0M1189 741h0M1108 727h0M1090 838h0M1206 694h0M1348 590h0M1120 644h0M1161 738h0M1313 893h0M1334 663h0M1310 658h0M1078 708h0M1294 751h0M1072 616h0M1309 728h0M1287 884h0M1336 695h0M1060 740h0M1092 655h0M1093 789h0M1078 708h0M1338 821h0M1258 653h0M1134 633h0M1365 632h0M1127 803h0M1328 742h0M1230 772h0M1201 846h0M1201 886h0M1163 609h0M1195 665h0M1156 588h0M1082 640h0M1205 878h0M1158 589h0M1069 764h0M1149 862h0M1181 855h0M1342 885h0M1101 752h0M1101 652h0M1353 800h0M1171 614h0M1248 823h0M1058 839h0M1197 869h0M1240 779h0M1355 882h0M1168 749h0M1241 859h0M1331 688h0M1356 880h0M1279 789h0M1076 715h0M1090 712h0M1308 590h0M1216 739h0M1083 732h0M1058 673h0M1060 623h0M1315 708h0M1309 607h0M1237 779h0M1274 623h0M1102 877h0M1324 768h0M1267 750h0M1240 681h0M1202 587h0M1302 876h0M1236 641h0M1327 815h0M1283 638h0M1238 661h0M1086 767h0M1358 679h0M1207 818h0M1265 816h0M1122 730h0M1191 851h0M1351 776h0M1206 728h0M1064 586h0M1213 793h0M1316 700h0M1314 633h0M1076 843h0M1066 700h0M1099 887h0M1122 630h0M1127 855h0M1310 616h0M1078 626h0M1217 766h0M1255 834h0M1238 806h0M1356 748h0M1357 772h0M1301 861h0M1247 816h0M1092 664h0M1155 761h0M1307 708h0M1289 841h0M1362 846h0M1131 794h0M1061 612h0M1359 671h0M1080 640h0M1357 836h0M1353 743h0M1125 663h0M1323 828h0M1167 790h0M1212 714h0M1361 820h0M1167 850h0M1327 689h0M1193 816h0M1318 658h0M1094 881h0M1067 835h0M1316 889h0M1094 648h0M1350 716h0M1258 830h0M1138 605h0M1248 857h0M1286 658h0M1195 856h0M1266 851h0M1105 892h0M1121 774h0M1306 866h0M1224 712h0M1217 586h0M1328 730h0M1078 655h0M1165 765h0M1173 592h0M1301 768h0M1202 680h0M1305 680h0M1263 846h0M1268 811h0M1061 792h0M1165 717h0M1196 638h0M1164 732h0M1249 612h0M1175 889h0M1338 710h0M1137 659h0M1211 791h0M1094 607h0M1140 615h0M1063 750h0M1342 857h0M1066 724h0M1270 853h0M1178 696h0M1191 691h0M1090 867h0M1119 633h0M1150 744h0M1084 618h0M1073 600h0M1173 857h0M1177 707h0M1302 623h0M1196 647h0M1169 879h0M1139 676h0M1318 684h0M1088 795h0M1191 879h0M1066 653h0M1175 835h0M1091 729h0M1244 779h0M1138 663h0M1116 734h0M1237 587h0M1078 809h0M1114 768h0M1304 751h0M1091 636h0M1062 750h0M1156 791h0M1232 593h0M1364 714h0M1238 781h0M1231 688h0M1143 796h0M1230 817h0M1203 622h0M1173 839h0M1092 789h0M1178 793h0M1201 820h0M1311 642h0M1065 687h0M1345 773h0M1118 605h0M1246 739h0M1335 856h0M1311 714h0M1350 855h0M1315 718h0M1355 647h0M1093 768h0M1062 832h0M1199 749h0M1177 639h0M1265 769h0M1235 861h0M1280 692h0M1139 740h0M1218 763h0M1281 797h0M1277 592h0M1344 767h0M1155 741h0M1226 741h0M1207 869h0M1089 719h0M1109 779h0M1345 605h0M1251 789h0M1205 773h0M1093 609h0M1081 793h0M1068 726h0M1217 806h0M1338 851h0M1197 796h0M1289 806h0M1147 631h0M1183 764h0M1280 830h0M1103 803h0M1174 691h0M1120 669h0M1363 613h0M1250 634h0M1094 722h0M1065 617h0M1104 773h0M1326 817h0M1255 753h0M1257 735h0M1176 610h0M1160 853h0M1207 833h0M1192 645h0M1107 632h0M1299 732h0M1243 873h0M1093 766h0M1305 830h0M1195 879h0M1294 658h0M1107 664h0M1352 693h0M1175 698h0M1106 746h0M1170 841h0M1181 666h0M1321 709h0M1121 643h0M1144 691h0M1332 690h0M1347 610h0M1220 756h0M1361 821h0M1211 592h0M1216 710h0M1264 884h0M1219 692h0M1138 817h0M1261 698h0M1079 859h0M1312 840h0M1267 849h0M1312 709h0M1329 868h0M1191 836h0M1081 741h0M1112 844h0M1302 725h0M1146 746h0M1122 886h0M1276 590h0M1344 840h0M1137 694h0M1192 677h0M1185 790h0M1241 664h0M1303 600h0M1332 704h0M1121 854h0M1327 646h0M1331 808h0M1255 633h0M1341 889h0M1125 822h0M1239 684h0M1321 689h0M1112 807h0M1058 864h0M1280 877h0M1279 819h0M1165 647h0M1167 718h0M1142 741h0M1278 757h0M1205 591h0M1182 852h0M1244 654h0M1185 714h0M1169 596h0M1183 710h0M1205 797h0M1194 592h0M1075 680h0M1160 630h0M1266 895h0M1199 692h0M1211 881h0M1122 823h0M1340 754h0M1217 613h0M1281 647h0M1190 884h0M1246 865h0M1325 773h0M1084 596h0M1157 687h0M1065 674h0M1155 668h0M1364 686h0M1319 629h0M1128 749h0M1279 856h0M1197 635h0M1159 626h0M1062 837h0M1105 770h0M1267 676h0M1296 856h0M1148 750h0M1347 708h0M1186 613h0M1291 587h0M1160 682h0M1131 604h0M1326 759h0M1159 598h0M1143 596h0M1363 830h0M1316 844h0M1361 747h0M1103 798h0M1333 784h0M1316 682h0M1063 879h0M1069 734h0M1240 727h0M1158 676h0M1059 743h0M1322 612h0M1125 664h0M1092 638h0M1231 878h0M1334 622h0M1138 884h0M1137 768h0M1275 692h0M1220 674h0M1135 892h0M1108 844h0M1236 749h0M1363 646h0M1256 778h0M1101 611h0M1210 645h0M1171 709h0M1085 802h0M1212 744h0M1327 646h0M1081 786h0M1233 733h0M1090 798h0M1266 814h0M1286 649h0M1136 818h0M1349 687h0M1295 854h0M1276 676h0M1337 871h0M1240 857h0M1126 588h0M1131 701h0M1070 627h0M1286 811h0M1354 881h0M1075 621h0M1153 853h0M1272 716h0M1262 662h0M1127 625h0M1344 700h0M1262 677h0M1296 855h0M1082 794h0M1335 747h0M1157 711h0M1238 854h0M1115 593h0M1250 889h0M1318 650h0M1242 609h0M1285 720h0M1315 721h0M1207 619h0M1241 719h0M1184 721h0M1187 777h0M1123 636h0M1187 875h0M1363 708h0M1205 712h0M1182 757h0M1323 883h0M1274 650h0M1215 835h0M1228 648h0M1161 686h0M1099 845h0M1161 869h0M1122 776h0M1340 864h0M1108 876h0M1293 798h0M1228 624h0M1061 790h0M1177 845h0M1353 599h0M1128 699h0M1244 768h0M1277 590h0M1337 625h0M1057 689h0M1114 746h0M1272 649h0M1250 877h0M1355 591h0M1070 853h0M1131 703h0M1332 654h0M1131 734h0M1170 895h0M1187 766h0M1085 751h0M1207 663h0M1193 877h0M1364 585h0M1300 851h0M1059 745h0M1071 691h0M1199 606h0M1356 847h0M1062 646h0M1077 768h0M1072 602h0M1347 642h0M1098 695h0M1226 837h0M1082 768h0M1097 770h0M1187 811h0M1289 687h0M1178 593h0M1298 755h0M1081 706h0M1091 821h0M1356 743h0M1107 758h0M1230 842h0M1349 790h0M1270 733h0M1211 628h0M1129 717h0M1189 669h0M1086 697h0M1189 668h0M1268 810h0M1239 757h0M1295 693h0M1329 857h0M1350 587h0M1315 618h0M1230 735h0M1222 720h0M1217 676h0M1139 771h0M1356 887h0M1182 681h0M1136 634h0M1160 720h0M1355 883h0M1187 765h0M1190 789h0M1300 666h0M1305 642h0M1188 872h0M1162 887h0M1181 758h0M1294 778h0M1157 650h0M1187 801h0M1274 881h0M1078 858h0M1235 821h0M1238 587h0M1104 874h0M1153 882h0M1137 781h0M1235 739h0M1340 638h0M1254 608h0M1290 894h0M1332 852h0M1215 678h0M1220 598h0M1291 831h0M1200 595h0M1160 868h0M1197 881h0M1105 711h0M1346 598h0M1080 678h0M1146 783h0M1345 854h0M1323 646h0M1219 603h0M1136 749h0M1352 716h0M1127 892h0M1094 615h0M1352 691h0M1072 639h0M1283 747h0M1089 616h0M1242 854h0M1069 876h0M1067 599h0M1283 889h0M1209 737h0M1304 642h0M1142 644h0M1072 683h0M1244 751h0M1096 718h0M1083 640h0M1098 623h0M1067 600h0M1302 814h0M1227 818h0M1352 770h0M1325 658h0M1127 871h0M1245 619h0M1138 846h0M1282 653h0M1140 750h0M1164 604h0M1199 785h0M1194 794h0M1128 675h0M1358 646h0M1319 839h0M1241 777h0M1173 846h0M1242 817h0M1261 751h0M1168 807h0M1067 767h0M1160 766h0M1286 800h0M1085 881h0M1177 695h0M1061 881h0M1200 761h0M1228 717h0M1069 849h0M1182 870h0M1078 818h0M1257 806h0M1258 709h0M1124 715h0M1074 593h0M1083 660h0M1316 757h0M1246 638h0M1068 871h0M1197 846h0M1256 683h0M1065 891h0M1085 752h0M1166 835h0" stroke="#004a4a" stroke-width="3" stroke-linecap="round" stroke-opacity="1" fill="none"/><path d="M1279 707h0M1143 643h0M1079 843h0M1089 857h0M1103 692h0M1105 837h0M1181 600h0M1194 621h0M1202 846h0M1363 772h0M1127 666h0M1350 891h0M1186 736h0M1110 712h0M1279 726h0M1146 592h0M1084 651h0M1340 782h0M1075 756h0M1172 844h0M1212 756h0M1365 763h0M1347 638h0M1113 625h0M1315 819h0M1302 640h0M1304 756h0M1067 837h0M1288 617h0M1340 803h0M1337 853h0M1236 709h0M1282 664h0M1191 890h0M1238 874h0M1253 842h0M1155 685h0M1269 645h0M1082 742h0M1355 757h0M1285 627h0M1155 873h0M1299 677h0M1263 732h0M1339 772h0M1212 885h0M1230 867h0M1255 595h0M1349 717h0M1108 784h0M1263 878h0M1261 847h0M1349 619h0M1243 673h0M1313 704h0M1071 700h0M1328 597h0M1160 766h0M1158 723h0M1306 804h0M1340 712h0M1079 672h0M1140 677h0M1210 823h0M1270 885h0M1162 894h0M1246 713h0M1172 809h0M1276 597h0M1127 711h0M1132 662h0M1173 712h0M1346 893h0M1262 619h0M1192 813h0M1096 616h0M1057 858h0M1066 754h0M1342 726h0M1209 748h0M1263 679h0M1328 632h0M1190 895h0M1177 696h0M1337 644h0M1231 848h0M1075 891h0M1359 863h0M1184 803h0M1272 608h0M1060 630h0M1272 836h0M1115 774h0M1144 684h0M1262 644h0M1324 665h0M1193 804h0M1175 829h0M1266 682h0M1295 617h0M1312 680h0M1198 628h0M1124 653h0M1283 595h0M1091 608h0M1102 843h0M1250 887h0M1119 753h0M1198 586h0M1264 660h0M1106 859h0M1126 732h0M1296 703h0M1300 689h0M1165 803h0M1181 615h0M1070 626h0M1316 721h0M1270 892h0M1179 717h0M1277 742h0M1228 885h0M1175 829h0M1344 663h0M1192 863h0M1281 600h0M1305 794h0M1354 659h0M1323 733h0M1289 853h0M1258 617h0M1192 875h0M1270 659h0M1253 779h0M1126 847h0M1095 687h0M1334 596h0M1145 654h0M1095 678h0M1364 672h0M1113 637h0M1132 625h0M1067 749h0M1249 589h0M1347 684h0M1132 837h0M1124 816h0M1080 791h0M1357 855h0M1144 861h0M1233 627h0M1302 760h0M1241 756h0M1278 594h0M1172 837h0M1354 805h0M1224 597h0M1238 867h0M1247 694h0M1173 737h0M1092 793h0M1330 877h0M1120 799h0M1340 748h0M1323 656h0M1284 738h0M1251 787h0M1174 867h0M1085 722h0M1325 622h0M1252 691h0M1099 719h0M1347 869h0M1305 626h0M1130 596h0M1336 801h0M1169 815h0M1281 829h0M1218 856h0M1303 840h0M1332 787h0M1065 770h0M1224 649h0M1084 737h0M1310 626h0M1168 788h0M1062 817h0M1182 696h0M1115 597h0M1298 734h0M1301 734h0M1242 839h0M1254 826h0M1321 653h0M1156 848h0M1201 609h0M1362 844h0M1271 613h0M1078 680h0M1325 706h0M1268 736h0M1192 837h0M1345 751h0M1163 717h0M1300 648h0M1071 648h0M1322 802h0M1346 604h0M1324 736h0M1230 732h0M1338 850h0M1233 783h0M1123 622h0M1190 822h0M1262 755h0M1314 700h0M1072 656h0M1255 750h0M1298 827h0M1068 631h0M1059 763h0M1071 678h0M1215 887h0M1075 886h0M1201 814h0M1335 806h0M1068 685h0M1260 623h0M1142 783h0M1230 839h0M1281 687h0M1238 763h0M1098 739h0M1218 788h0M1098 774h0M1255 654h0M1249 813h0M1157 767h0M1254 633h0M1267 669h0M1228 647h0M1305 638h0M1127 831h0M1187 757h0M1078 787h0M1293 839h0M1130 793h0M1297 690h0M1275 719h0M1163 593h0M1253 813h0M1238 783h0M1088 740h0M1333 853h0M1215 833h0M1120 605h0M1270 655h0M1325 800h0M1173 677h0M1182 712h0M1340 777h0M1167 593h0M1282 892h0M1263 750h0M1321 642h0M1312 844h0M1105 746h0M1242 708h0M1329 613h0M1334 672h0M1311 805h0M1184 726h0M1160 824h0M1090 586h0M1315 890h0M1186 795h0M1160 807h0M1286 646h0M1163 648h0M1266 676h0M1211 734h0M1190 892h0M1128 766h0M1296 798h0M1102 657h0M1233 782h0M1193 593h0M1256 815h0M1240 875h0M1189 597h0M1064 890h0M1344 668h0M1341 837h0M1220 644h0M1275 765h0M1212 760h0M1063 704h0M1238 595h0M1356 776h0M1246 778h0M1306 827h0M1183 623h0M1212 828h0M1266 713h0M1348 604h0M1328 834h0M1071 771h0M1256 859h0M1358 653h0M1202 588h0M1334 789h0M1263 586h0M1079 673h0M1057 620h0M1273 601h0M1212 729h0M1226 750h0M1094 675h0M1062 647h0M1129 808h0M1148 829h0M1207 818h0M1077 589h0M1177 803h0M1153 832h0M1123 674h0M1297 608h0M1247 766h0M1305 708h0M1179 609h0M1164 753h0M1110 730h0M1281 822h0M1362 839h0M1241 666h0M1115 861h0M1295 598h0M1324 621h0M1359 750h0M1066 651h0M1064 749h0M1313 645h0M1118 695h0M1242 821h0M1124 658h0M1060 809h0M1110 883h0M1366 777h0M1244 646h0M1293 637h0M1094 887h0M1185 812h0M1103 731h0M1074 761h0M1283 732h0M1329 862h0M1365 753h0M1142 846h0M1355 843h0M1271 862h0M1214 813h0M1157 766h0M1216 703h0M1116 701h0M1272 876h0M1353 774h0M1081 731h0M1100 644h0M1194 739h0M1347 656h0M1279 707h0M1299 760h0M1306 590h0M1215 788h0M1354 595h0M1314 723h0M1112 658h0M1127 756h0M1331 711h0M1330 706h0M1268 817h0M1236 852h0M1112 646h0M1203 879h0M1107 876h0M1071 810h0M1076 831h0M1094 691h0M1116 717h0M1075 749h0M1069 759h0M1114 757h0M1272 766h0M1070 787h0M1097 712h0M1186 626h0M1249 717h0M1230 695h0M1092 625h0M1195 606h0M1167 634h0M1111 875h0M1363 814h0M1098 655h0M1135 686h0M1226 751h0M1357 760h0M1155 651h0M1318 585h0M1104 776h0M1160 611h0M1107 773h0M1136 663h0M1101 711h0M1089 737h0M1331 796h0M1184 796h0M1282 685h0M1244 789h0M1114 586h0M1317 737h0M1355 738h0M1119 665h0M1184 709h0M1252 685h0M1061 623h0M1317 707h0M1101 709h0M1308 686h0M1106 676h0M1081 849h0M1197 719h0M1269 706h0M1282 856h0M1273 615h0M1147 761h0M1148 614h0M1267 729h0M1129 725h0M1284 691h0M1217 841h0M1176 635h0M1207 742h0M1186 606h0M1358 598h0M1284 893h0M1258 818h0M1155 705h0M1340 722h0M1108 889h0M1091 688h0M1296 871h0M1248 860h0M1230 652h0M1276 819h0M1094 611h0M1313 696h0M1302 728h0M1163 769h0M1077 587h0M1101 664h0M1226 683h0M1160 872h0M1090 769h0M1165 722h0M1328 634h0M1327 781h0M1259 776h0M1103 762h0M1185 886h0M1186 726h0M1118 739h0M1057 704h0M1217 595h0M1097 780h0M1307 821h0M1138 791h0M1355 740h0M1132 609h0M1277 584h0M1172 586h0M1286 598h0M1182 742h0M1349 730h0M1077 762h0M1061 752h0M1221 746h0M1300 646h0M1121 713h0M1204 606h0M1073 712h0M1286 674h0M1362 672h0M1131 668h0M1147 811h0M1245 585h0M1204 786h0M1290 808h0M1173 747h0M1281 860h0M1237 691h0M1240 843h0M1201 760h0M1299 659h0M1260 748h0M1108 754h0M1111 882h0M1293 839h0M1151 827h0M1114 639h0M1204 711h0M1248 801h0M1216 712h0M1336 864h0M1217 585h0M1296 600h0M1131 648h0M1095 658h0M1266 826h0M1093 717h0M1065 806h0M1304 697h0M1215 707h0M1278 760h0M1165 840h0M1323 729h0M1069 662h0M1148 637h0M1288 824h0M1094 739h0M1146 780h0M1250 755h0M1344 782h0M1057 862h0M1310 884h0M1231 766h0M1327 819h0M1103 874h0M1303 685h0M1289 651h0M1358 770h0M1261 655h0M1093 786h0M1283 779h0M1133 872h0M1126 601h0M1342 634h0M1204 851h0M1238 659h0M1274 878h0M1186 862h0M1300 751h0M1283 777h0M1087 856h0M1164 649h0M1123 607h0M1338 661h0M1077 866h0M1093 834h0M1270 771h0M1088 857h0M1104 602h0M1155 618h0M1110 675h0M1325 873h0M1231 620h0M1273 838h0M1339 893h0M1229 860h0M1171 803h0M1120 873h0M1234 830h0M1161 674h0M1083 736h0M1297 772h0M1090 813h0M1118 804h0M1258 584h0M1259 718h0M1353 692h0M1065 746h0M1188 810h0M1226 826h0M1259 866h0M1227 884h0M1201 689h0M1113 825h0M1218 694h0M1155 591h0M1245 808h0M1304 729h0M1243 877h0M1129 730h0M1059 782h0M1059 594h0M1324 761h0M1232 677h0M1249 716h0M1246 634h0M1278 601h0M1275 762h0M1083 704h0M1095 687h0M1093 728h0M1153 687h0M1182 772h0M1146 880h0M1319 846h0M1326 867h0M1215 664h0M1089 785h0M1208 723h0M1297 855h0M1098 645h0M1063 745h0M1080 618h0M1067 713h0M1240 845h0M1106 882h0M1336 661h0M1269 594h0M1261 804h0M1086 742h0M1314 696h0M1119 621h0M1164 717h0M1094 692h0M1289 852h0M1136 865h0M1303 808h0M1148 750h0M1140 716h0M1239 744h0M1066 654h0M1161 747h0M1298 623h0M1069 673h0M1174 686h0M1088 769h0M1118 858h0M1110 728h0M1156 871h0M1191 861h0M1121 626h0M1224 738h0M1180 819h0M1327 689h0M1315 871h0M1296 727h0M1061 848h0M1208 726h0M1268 611h0M1089 633h0M1280 871h0M1242 651h0M1144 644h0M1156 659h0M1085 735h0M1343 758h0M1171 759h0M1193 669h0M1134 766h0M1317 785h0M1117 710h0M1356 590h0M1262 705h0M1278 731h0M1285 675h0M1339 795h0M1109 853h0M1089 703h0M1161 747h0M1199 732h0M1317 585h0M1299 722h0M1157 742h0M1143 729h0M1072 741h0M1107 598h0M1246 683h0M1360 885h0M1249 627h0M1134 807h0M1329 872h0M1135 809h0M1180 603h0M1304 611h0M1269 862h0M1238 770h0M1355 633h0M1160 586h0M1113 661h0M1310 634h0M1347 733h0M1254 880h0M1204 815h0M1266 663h0M1244 647h0M1287 663h0M1274 700h0M1254 612h0M1146 736h0M1222 659h0M1149 811h0M1175 630h0M1357 632h0M1210 637h0M1088 750h0M1104 638h0M1285 868h0M1076 806h0M1210 639h0M1333 866h0M1349 772h0M1160 633h0M1134 646h0M1070 772h0M1187 645h0M1240 611h0M1284 856h0M1073 637h0M1349 611h0M1060 789h0M1236 639h0M1062 827h0M1157 715h0M1317 587h0M1177 855h0M1309 775h0M1358 769h0M1180 876h0M1229 817h0M1287 747h0M1153 598h0M1059 841h0M1149 890h0M1310 649h0M1287 839h0M1096 607h0M1138 613h0M1213 757h0M1355 768h0M1202 773h0M1289 827h0M1239 697h0M1118 764h0M1281 843h0M1066 851h0M1278 634h0M1224 641h0M1226 857h0M1171 705h0M1175 674h0M1295 708h0M1086 741h0M1168 689h0M1242 757h0M1085 683h0M1182 663h0M1176 704h0M1068 691h0M1187 885h0M1342 843h0M1229 759h0M1111 768h0M1076 781h0M1208 883h0M1138 755h0M1263 768h0M1205 873h0M1224 847h0M1125 802h0M1251 869h0M1098 651h0M1324 653h0M1129 599h0M1295 758h0M1255 620h0M1322 854h0M1242 629h0M1364 685h0M1352 743h0M1084 590h0M1257 893h0M1278 643h0M1287 656h0M1108 683h0M1206 685h0M1076 666h0M1202 757h0M1058 584h0M1128 687h0M1125 881h0M1114 858h0M1346 841h0M1356 734h0M1252 622h0M1179 762h0M1223 871h0M1174 705h0" stroke="#007070" stroke-width="2.8" stroke-linecap="round" stroke-opacity="1" fill="none"/><path d="M1357 612h0M1335 795h0M1296 845h0M1301 825h0M1097 781h0M1134 623h0M1241 874h0M1218 752h0M1171 707h0M1321 748h0M1152 825h0M1087 657h0M1330 690h0M1109 832h0M1293 684h0M1206 747h0M1339 709h0M1342 692h0M1283 798h0M1120 834h0M1236 762h0M1294 632h0M1151 885h0M1126 607h0M1361 776h0M1235 698h0M1241 611h0M1341 842h0M1237 829h0M1166 869h0M1299 597h0M1214 689h0M1294 787h0M1339 865h0M1164 823h0M1207 869h0M1061 749h0M1354 738h0M1358 720h0M1212 680h0M1071 703h0M1153 646h0M1269 804h0M1093 724h0M1147 651h0M1166 802h0M1250 876h0M1199 734h0M1281 774h0M1142 709h0M1147 867h0M1335 894h0M1339 868h0M1155 826h0M1238 710h0M1163 848h0M1350 592h0M1223 748h0M1249 610h0M1266 731h0M1206 689h0M1170 787h0M1302 881h0M1308 590h0M1057 868h0M1085 658h0M1077 606h0M1121 693h0M1346 609h0M1172 674h0M1181 764h0M1078 736h0M1249 866h0M1226 871h0M1354 591h0M1207 601h0M1145 653h0M1303 844h0M1091 648h0M1287 738h0M1292 618h0M1335 842h0M1093 638h0M1085 656h0M1210 762h0M1172 693h0M1310 733h0M1202 588h0M1063 888h0M1106 648h0M1346 758h0M1118 750h0M1343 883h0M1157 664h0M1154 774h0M1356 754h0M1237 832h0M1146 783h0M1340 731h0M1066 750h0" stroke="#009c9c" stroke-width="2.6" stroke-linecap="round" stroke-opacity="1" fill="none"/></g>
<rect x="1385.2" y="583" width="314.2" height="313.5" fill="#000" stroke="none" stroke-width="0"/>
<g clip-path="url(#clipD4)" filter="url(#dblur)"><path d="M1500 726h0M1621 729h0M1496 668h0M1540 779h0M1387 821h0M1602 673h0M1501 824h0M1601 627h0M1514 789h0M1405 878h0M1533 816h0M1410 594h0M1642 619h0M1428 826h0M1518 715h0M1415 799h0M1689 872h0M1592 882h0M1461 751h0M1465 746h0M1401 630h0M1557 627h0M1424 677h0M1640 654h0M1601 817h0M1413 585h0M1392 589h0M1491 778h0M1412 686h0M1636 864h0M1538 827h0M1671 822h0M1614 616h0M1450 821h0M1614 708h0M1507 871h0M1655 624h0M1447 775h0M1602 830h0M1620 872h0M1414 839h0M1415 877h0M1401 717h0M1402 724h0M1525 631h0M1432 768h0M1603 860h0M1507 809h0M1666 682h0M1669 696h0M1544 892h0M1577 664h0M1387 788h0M1668 858h0M1631 874h0M1628 847h0M1562 649h0M1580 709h0M1441 828h0M1500 653h0M1590 619h0M1679 681h0M1445 849h0M1559 807h0M1660 609h0M1393 712h0M1388 667h0M1488 610h0M1657 875h0M1499 735h0M1571 803h0M1529 884h0M1638 711h0M1414 876h0M1673 628h0M1561 824h0M1612 852h0M1561 622h0M1426 873h0M1500 600h0M1484 684h0M1472 705h0M1625 689h0M1623 685h0M1658 885h0M1582 590h0M1491 763h0M1567 596h0M1579 742h0M1610 868h0M1479 763h0M1631 873h0M1460 865h0M1401 704h0M1488 864h0M1574 730h0M1504 747h0M1622 889h0M1663 795h0M1698 718h0M1528 674h0M1599 818h0M1390 586h0M1426 592h0M1475 807h0M1566 713h0M1576 647h0M1483 593h0M1626 855h0M1688 712h0M1505 730h0M1644 703h0M1697 613h0M1411 772h0M1543 744h0M1508 696h0M1693 597h0M1432 711h0M1673 650h0M1445 608h0M1515 682h0M1491 627h0M1623 623h0M1573 645h0M1609 787h0M1552 643h0M1686 726h0M1630 836h0M1533 859h0M1650 865h0M1640 866h0M1461 833h0M1521 777h0M1661 768h0M1466 703h0M1506 711h0M1443 623h0M1567 685h0M1544 747h0M1592 669h0M1488 740h0M1507 702h0M1569 820h0M1680 807h0M1611 620h0M1454 597h0M1591 663h0M1669 623h0M1590 645h0M1413 839h0M1659 723h0M1505 623h0M1398 887h0M1535 600h0M1401 630h0M1667 834h0M1673 712h0M1432 685h0M1468 805h0M1479 612h0M1526 624h0M1626 808h0M1408 731h0M1445 866h0M1397 698h0M1510 658h0M1421 612h0M1628 713h0M1590 706h0M1652 651h0M1432 730h0M1680 790h0M1520 652h0M1433 693h0M1479 793h0M1618 675h0M1570 793h0M1617 622h0M1422 709h0M1627 867h0M1639 683h0M1622 853h0M1475 763h0M1688 873h0M1603 742h0M1466 764h0M1478 615h0M1653 665h0M1468 608h0M1668 682h0M1540 804h0M1632 648h0M1396 597h0M1604 781h0M1691 651h0M1459 585h0M1600 788h0M1689 630h0M1627 709h0M1400 756h0M1417 753h0M1664 603h0M1470 611h0M1417 737h0M1676 783h0M1529 769h0M1421 717h0M1406 760h0M1641 787h0M1428 648h0M1404 682h0M1514 879h0M1442 881h0M1410 770h0M1444 656h0M1424 889h0M1650 847h0M1443 778h0M1605 587h0M1482 752h0M1394 797h0M1604 613h0M1633 674h0M1428 866h0M1500 778h0M1642 771h0M1636 809h0M1423 735h0M1451 882h0M1412 733h0M1633 677h0M1387 666h0M1392 692h0M1437 720h0M1642 863h0M1584 719h0M1508 796h0M1665 868h0M1469 607h0M1522 747h0M1459 641h0M1673 806h0M1526 646h0M1617 859h0M1627 706h0M1518 776h0M1509 634h0M1459 685h0M1562 680h0M1478 708h0M1583 723h0M1507 645h0M1688 759h0M1627 881h0M1392 889h0M1455 670h0M1660 825h0M1398 707h0M1397 639h0M1414 793h0M1534 720h0M1637 800h0M1476 652h0M1609 679h0M1590 854h0M1610 704h0M1592 589h0M1678 819h0M1468 876h0M1676 793h0M1586 656h0M1530 727h0M1459 868h0M1611 798h0M1584 656h0M1480 849h0M1541 710h0M1574 852h0M1546 773h0M1562 682h0M1414 826h0M1520 743h0M1672 634h0M1548 877h0M1619 707h0M1598 754h0M1428 757h0M1454 702h0M1534 792h0M1586 724h0M1391 839h0M1671 798h0M1431 685h0M1459 751h0M1573 724h0M1576 678h0M1488 695h0M1600 813h0M1397 879h0M1490 598h0M1538 602h0M1681 880h0M1412 711h0M1516 586h0M1448 744h0M1546 798h0M1669 759h0M1633 827h0M1587 624h0M1465 678h0M1684 808h0M1593 749h0M1611 888h0M1497 843h0M1685 742h0M1692 628h0M1534 589h0M1511 601h0M1410 621h0M1552 639h0M1572 744h0M1619 854h0M1595 743h0M1411 706h0M1677 868h0M1550 620h0M1636 838h0M1576 856h0M1569 737h0M1393 765h0M1552 588h0M1443 816h0M1395 629h0M1639 692h0M1610 789h0M1645 618h0M1482 715h0M1539 609h0M1489 591h0M1698 663h0M1438 619h0M1398 794h0M1661 617h0M1482 833h0M1655 733h0M1484 795h0M1472 611h0M1505 760h0M1592 811h0M1444 804h0M1583 738h0M1410 683h0M1648 871h0M1682 620h0M1538 648h0M1472 844h0M1556 720h0M1410 632h0M1611 706h0M1680 801h0M1402 815h0M1556 818h0M1475 724h0M1490 766h0M1682 823h0M1634 609h0M1536 819h0M1695 829h0M1500 801h0M1465 879h0M1675 846h0M1409 607h0M1477 590h0M1416 759h0M1392 679h0M1420 676h0M1532 603h0M1465 661h0M1512 694h0M1595 747h0M1415 852h0M1620 637h0M1422 722h0M1647 852h0M1451 850h0M1549 691h0M1609 687h0M1447 685h0M1448 611h0M1548 702h0M1587 866h0M1653 634h0M1522 795h0M1442 621h0M1387 684h0M1571 681h0M1505 688h0M1636 696h0M1624 663h0M1565 722h0M1698 821h0M1461 656h0M1421 750h0M1416 694h0M1463 722h0M1408 711h0M1527 753h0M1414 630h0M1527 865h0M1688 744h0M1411 805h0M1568 684h0M1440 694h0M1617 794h0M1389 789h0M1477 724h0M1510 675h0M1537 784h0M1407 732h0M1437 672h0M1404 821h0M1524 589h0M1455 722h0M1694 867h0M1417 774h0M1544 842h0M1579 709h0M1396 625h0M1603 675h0M1696 707h0M1600 809h0M1625 824h0M1501 821h0M1643 608h0M1526 662h0M1483 809h0M1398 679h0M1480 727h0M1399 610h0M1494 697h0M1668 790h0M1643 798h0M1439 820h0M1472 657h0M1650 745h0M1392 791h0M1485 833h0M1649 794h0M1624 625h0M1438 734h0M1501 687h0M1490 795h0M1525 820h0M1620 862h0M1641 846h0M1529 810h0M1629 762h0M1419 852h0M1467 893h0M1598 837h0M1590 888h0M1609 724h0M1629 867h0M1452 675h0M1590 588h0M1581 650h0M1441 743h0M1611 599h0M1546 698h0M1551 705h0M1493 732h0M1526 785h0M1584 727h0M1639 869h0M1460 710h0M1598 616h0M1576 646h0M1437 841h0M1475 808h0M1449 770h0M1683 881h0M1465 590h0M1477 613h0M1398 584h0M1414 836h0M1518 863h0M1637 625h0M1529 601h0M1669 714h0M1565 679h0M1572 685h0M1485 763h0M1529 681h0M1629 869h0M1645 826h0M1452 729h0M1506 792h0M1528 758h0M1461 621h0M1642 627h0M1564 792h0M1559 858h0M1622 731h0M1585 878h0M1455 742h0M1567 690h0M1458 769h0M1477 863h0M1566 739h0M1404 806h0M1575 852h0M1436 887h0M1642 728h0M1400 739h0M1457 679h0M1504 792h0M1534 856h0M1395 632h0M1614 650h0M1575 895h0M1633 879h0M1459 640h0M1552 688h0M1645 614h0M1492 851h0M1423 784h0M1550 884h0M1424 596h0M1691 760h0M1599 732h0M1634 737h0M1437 828h0M1536 831h0M1573 599h0M1647 668h0M1409 836h0M1423 790h0M1680 894h0M1661 740h0M1567 853h0M1537 828h0M1664 717h0M1499 795h0M1611 714h0M1494 825h0M1460 722h0M1561 623h0M1675 600h0M1596 594h0M1426 857h0M1680 729h0M1636 733h0M1681 749h0M1629 704h0M1664 877h0M1394 772h0M1661 751h0M1503 692h0M1465 797h0M1496 822h0M1488 691h0M1660 871h0M1476 758h0M1691 785h0M1397 730h0M1610 635h0M1454 628h0M1495 801h0M1451 761h0M1657 692h0M1460 719h0M1420 658h0M1558 767h0M1432 759h0M1692 714h0M1530 815h0M1632 747h0M1512 750h0M1613 828h0M1518 763h0M1440 838h0M1639 665h0M1556 841h0M1413 612h0M1692 660h0M1695 828h0M1510 639h0M1447 851h0M1399 835h0M1473 752h0M1541 741h0M1461 755h0M1480 829h0M1569 704h0M1392 647h0M1421 862h0M1436 596h0M1607 686h0M1458 679h0M1557 717h0M1514 620h0M1550 881h0M1670 880h0M1672 584h0M1501 681h0M1451 806h0M1636 824h0M1596 720h0M1473 882h0M1507 791h0M1627 736h0M1670 874h0M1633 704h0M1438 648h0M1614 893h0M1687 586h0M1676 776h0M1507 785h0M1545 788h0M1474 671h0M1626 834h0M1416 594h0M1528 886h0M1448 609h0M1592 671h0M1487 895h0M1657 886h0M1459 723h0M1528 781h0M1441 805h0M1474 730h0M1681 857h0M1671 832h0M1604 811h0M1404 789h0M1595 618h0M1591 734h0M1642 767h0M1467 814h0M1608 640h0M1695 867h0M1426 616h0M1579 812h0M1608 587h0M1607 838h0M1647 637h0M1567 868h0M1464 590h0M1658 708h0M1605 834h0M1404 759h0M1567 729h0M1596 775h0M1446 812h0M1463 768h0M1665 730h0M1683 682h0M1578 733h0M1680 857h0M1487 827h0M1421 614h0M1695 649h0M1474 730h0M1605 769h0M1684 894h0M1416 606h0M1515 627h0M1432 707h0M1638 717h0M1414 770h0M1493 828h0M1599 872h0M1516 870h0M1560 790h0M1520 793h0M1418 850h0M1616 690h0M1406 639h0M1642 831h0M1432 820h0M1579 825h0M1470 813h0M1429 693h0M1437 760h0M1406 593h0M1623 651h0M1646 748h0M1445 778h0M1691 634h0M1613 630h0M1558 820h0M1563 870h0M1658 595h0M1672 651h0M1638 847h0M1552 610h0M1522 648h0M1603 620h0M1437 593h0M1637 832h0M1395 874h0M1620 793h0M1447 660h0M1468 703h0M1497 698h0M1698 854h0M1665 618h0M1628 837h0M1696 816h0M1416 761h0M1469 732h0M1523 831h0M1496 755h0M1503 690h0M1441 774h0M1693 885h0M1675 775h0M1503 634h0M1413 782h0M1529 841h0M1412 745h0M1660 811h0M1662 885h0M1463 631h0M1410 734h0M1544 624h0M1435 853h0M1579 659h0M1410 645h0M1626 629h0M1681 715h0M1445 690h0M1613 612h0M1694 669h0M1529 600h0M1577 853h0M1432 885h0M1425 611h0M1429 890h0M1527 880h0M1669 738h0M1663 782h0M1697 814h0M1475 846h0M1527 695h0M1415 786h0M1639 756h0M1410 622h0M1605 744h0M1628 742h0M1562 664h0M1544 700h0M1461 735h0M1509 761h0M1435 823h0M1655 594h0M1507 677h0M1388 629h0M1461 753h0M1537 873h0M1455 751h0M1437 841h0M1404 671h0M1412 592h0M1635 778h0M1577 607h0M1657 842h0M1397 822h0M1604 627h0M1610 779h0M1657 843h0M1677 895h0M1395 596h0M1660 757h0M1636 792h0M1441 703h0M1534 760h0M1569 628h0M1513 797h0M1388 727h0M1523 643h0M1622 689h0M1528 860h0M1465 866h0M1598 794h0M1573 796h0M1656 601h0M1510 791h0M1677 707h0M1600 589h0M1667 869h0M1403 730h0M1421 695h0M1630 733h0M1415 854h0M1400 760h0M1523 732h0M1690 612h0M1453 692h0M1647 784h0M1634 795h0M1430 808h0M1558 748h0M1599 818h0M1634 651h0M1552 707h0M1450 615h0M1550 730h0M1396 714h0M1437 771h0M1398 758h0M1633 785h0M1693 814h0M1519 825h0M1601 876h0M1600 768h0M1648 806h0M1576 794h0M1650 613h0M1404 828h0M1622 721h0M1650 670h0M1462 840h0M1442 674h0M1435 605h0M1594 861h0M1537 779h0M1651 850h0M1463 718h0M1615 750h0M1661 756h0M1639 756h0M1627 876h0M1410 603h0M1408 787h0M1598 754h0M1588 629h0M1517 611h0M1437 654h0M1417 848h0M1651 689h0M1528 643h0M1451 748h0M1670 737h0M1657 671h0M1506 636h0M1693 702h0M1634 852h0M1553 708h0M1579 630h0M1523 676h0M1455 756h0M1555 629h0M1695 648h0M1619 587h0M1567 838h0M1643 679h0M1551 838h0M1568 682h0M1677 620h0M1389 640h0M1403 848h0M1627 857h0M1537 783h0M1457 688h0M1567 802h0M1582 870h0M1578 855h0M1458 886h0M1411 721h0M1587 794h0M1613 874h0M1679 793h0M1654 740h0M1540 680h0M1411 612h0M1588 886h0M1494 707h0M1396 891h0M1468 761h0M1525 621h0M1393 685h0M1658 814h0M1692 842h0M1448 799h0M1391 626h0M1528 613h0M1603 858h0M1612 891h0M1431 895h0M1555 606h0M1589 650h0M1457 738h0M1431 872h0M1532 755h0M1479 666h0M1694 660h0M1503 631h0M1452 852h0M1652 785h0M1398 724h0M1486 754h0M1528 625h0M1491 820h0M1542 815h0M1393 631h0M1490 831h0M1399 723h0M1549 788h0M1411 629h0M1467 881h0M1577 813h0M1412 820h0M1668 806h0M1670 867h0M1581 821h0M1540 870h0M1604 799h0M1514 891h0M1456 648h0M1669 801h0M1502 781h0M1468 689h0M1659 681h0M1424 789h0M1563 682h0M1525 746h0M1425 717h0M1609 619h0M1408 801h0M1429 833h0M1485 666h0M1698 624h0M1400 746h0M1392 808h0M1488 664h0M1389 755h0M1657 663h0M1649 798h0M1549 795h0M1557 716h0M1536 628h0M1456 739h0M1596 623h0M1610 711h0M1404 863h0M1691 877h0M1464 868h0M1545 656h0M1622 822h0M1395 681h0M1592 759h0M1541 709h0M1637 728h0M1573 807h0M1507 681h0M1490 883h0M1495 871h0M1663 722h0M1682 632h0M1634 621h0M1643 703h0M1527 722h0M1646 642h0M1606 628h0M1643 803h0M1489 726h0M1649 731h0M1421 661h0M1412 662h0M1606 857h0M1524 765h0M1437 829h0M1596 637h0M1415 864h0M1669 873h0M1625 840h0M1577 876h0M1636 704h0M1621 876h0M1456 825h0M1639 658h0M1658 680h0M1549 587h0M1647 794h0M1497 659h0M1501 865h0M1609 851h0M1688 687h0M1514 677h0M1577 765h0M1438 782h0M1563 682h0M1569 762h0M1644 883h0M1568 812h0M1645 616h0M1570 677h0M1518 642h0M1498 671h0M1604 799h0M1410 822h0M1479 850h0M1477 801h0M1515 819h0M1451 871h0M1662 682h0M1666 646h0M1391 588h0M1455 833h0M1404 874h0M1462 619h0M1532 696h0M1541 844h0M1399 711h0M1408 820h0M1693 688h0M1429 723h0M1548 760h0M1464 772h0M1696 893h0M1427 863h0M1577 809h0M1563 719h0M1521 693h0M1553 879h0M1505 600h0M1442 645h0M1682 604h0M1495 760h0M1560 806h0M1654 762h0M1669 616h0M1588 742h0M1675 656h0M1527 811h0M1545 730h0M1391 779h0M1432 608h0M1608 817h0M1688 793h0M1633 642h0M1615 635h0M1630 842h0M1567 740h0M1578 674h0M1530 609h0M1590 643h0M1440 797h0M1425 889h0M1480 668h0M1692 817h0M1485 622h0M1662 755h0M1441 789h0M1454 588h0M1577 862h0M1421 617h0M1664 638h0M1442 599h0M1645 792h0M1654 819h0M1567 871h0M1552 773h0M1685 783h0M1528 653h0M1407 831h0M1413 736h0M1477 851h0M1606 891h0M1671 827h0M1552 821h0M1461 831h0M1659 853h0M1412 699h0M1437 640h0M1576 882h0M1638 665h0M1480 770h0M1537 676h0M1589 698h0M1427 890h0M1447 701h0M1475 730h0M1473 626h0M1466 839h0M1406 672h0M1583 751h0M1677 669h0M1599 596h0M1539 874h0M1467 835h0M1454 828h0M1446 696h0M1567 628h0M1412 806h0M1432 830h0M1454 876h0M1626 620h0M1426 670h0M1562 886h0M1508 603h0M1475 644h0M1542 889h0M1661 647h0M1571 860h0M1568 627h0M1528 848h0M1471 606h0M1685 720h0M1400 880h0M1582 622h0M1573 608h0M1642 712h0M1386 830h0M1446 835h0M1510 749h0M1593 862h0M1594 807h0M1422 881h0M1633 749h0M1597 630h0M1644 626h0M1682 632h0M1697 707h0M1486 853h0M1629 614h0M1430 827h0M1678 842h0M1617 867h0M1513 590h0M1471 764h0M1669 868h0M1698 728h0M1458 727h0M1671 827h0M1650 587h0M1563 836h0M1537 605h0M1474 829h0M1431 705h0M1417 796h0M1570 806h0M1426 809h0M1461 696h0M1418 775h0M1638 833h0M1637 612h0M1490 862h0M1391 876h0M1494 799h0M1478 614h0M1679 870h0M1428 758h0M1453 604h0M1577 655h0M1438 652h0M1681 882h0M1656 785h0M1669 586h0M1552 619h0M1416 791h0M1453 737h0M1535 738h0M1668 765h0M1543 676h0M1470 742h0M1493 871h0M1449 680h0M1549 747h0M1636 774h0M1600 756h0M1412 635h0M1672 647h0M1526 659h0M1429 743h0M1643 703h0M1565 640h0M1445 642h0M1482 850h0M1521 865h0M1524 821h0M1533 722h0M1695 698h0M1526 881h0M1468 885h0M1478 632h0M1671 828h0M1400 674h0M1682 712h0M1614 833h0M1658 850h0M1536 694h0M1624 813h0M1526 793h0M1526 667h0M1516 616h0M1526 601h0M1695 684h0M1587 861h0M1663 768h0M1485 866h0M1388 713h0M1552 769h0M1423 777h0M1561 679h0M1466 722h0M1484 600h0M1421 880h0M1408 829h0M1575 669h0M1546 844h0M1618 638h0M1649 838h0M1635 669h0M1613 677h0M1451 857h0M1596 834h0M1494 818h0M1468 772h0M1634 842h0M1393 756h0M1654 687h0M1602 614h0M1487 789h0M1548 830h0M1685 734h0M1621 718h0M1417 767h0M1620 593h0M1625 703h0M1437 774h0M1546 762h0M1675 634h0M1403 718h0M1455 889h0M1562 669h0M1678 743h0M1402 628h0M1397 870h0M1489 641h0M1621 661h0M1647 870h0M1658 733h0M1458 863h0M1419 791h0M1422 610h0M1552 877h0M1424 788h0M1405 748h0M1484 716h0M1619 703h0M1502 893h0M1521 733h0M1694 845h0M1395 598h0M1626 657h0M1601 787h0M1585 714h0M1643 665h0M1632 629h0M1692 761h0M1469 738h0M1474 638h0M1586 655h0M1627 706h0M1600 819h0M1418 786h0M1484 638h0M1544 753h0M1690 699h0M1689 884h0M1482 710h0M1483 755h0M1435 770h0M1561 877h0M1583 625h0M1464 790h0M1630 864h0M1434 794h0M1572 663h0M1693 727h0M1569 847h0M1666 707h0M1446 593h0M1410 619h0M1466 782h0M1424 721h0M1645 761h0M1438 739h0M1610 757h0M1415 723h0M1673 637h0M1419 861h0M1520 716h0M1403 819h0M1636 609h0M1395 717h0M1554 837h0M1485 689h0M1395 702h0M1611 817h0M1428 848h0M1447 737h0M1603 781h0M1677 777h0M1387 853h0M1504 876h0M1472 795h0M1627 660h0M1470 753h0M1448 744h0M1676 754h0M1624 779h0M1615 805h0M1496 852h0M1439 650h0M1649 895h0M1683 677h0M1543 857h0M1593 770h0M1391 802h0M1390 745h0M1611 687h0M1558 852h0M1657 628h0M1410 724h0M1575 775h0M1535 797h0M1449 771h0M1674 585h0M1402 753h0M1686 836h0M1677 725h0M1429 789h0M1425 618h0M1500 874h0M1478 768h0M1569 845h0M1679 874h0M1537 824h0M1692 834h0M1487 869h0M1393 775h0M1497 767h0M1696 605h0M1665 808h0M1445 667h0M1569 631h0M1582 830h0M1553 808h0M1634 717h0M1397 609h0M1409 668h0M1504 677h0M1410 771h0M1615 651h0M1552 624h0M1623 819h0M1659 720h0M1646 860h0M1659 730h0M1500 686h0M1687 599h0M1583 715h0M1561 617h0M1565 861h0M1683 612h0M1550 695h0M1461 765h0M1693 649h0M1683 618h0M1545 837h0M1537 724h0M1647 816h0M1541 616h0M1436 711h0M1611 882h0M1546 856h0M1568 789h0M1696 668h0M1400 679h0M1469 684h0M1658 854h0M1522 663h0M1462 626h0M1628 745h0M1506 732h0M1481 884h0M1572 866h0M1477 620h0M1663 794h0M1588 674h0M1592 677h0M1394 650h0M1486 760h0M1566 755h0M1434 636h0M1487 615h0M1666 837h0M1476 861h0M1474 875h0M1552 628h0M1572 836h0M1485 687h0M1483 834h0M1656 705h0M1649 636h0M1525 852h0M1402 687h0M1573 805h0M1547 868h0M1615 699h0M1545 753h0M1670 626h0M1510 682h0M1468 782h0M1485 612h0M1400 851h0M1677 667h0M1516 624h0M1534 849h0M1679 697h0M1688 846h0M1401 640h0M1568 589h0M1455 672h0M1453 671h0M1500 766h0M1389 676h0M1655 754h0M1458 869h0M1498 670h0M1399 741h0M1670 774h0M1471 668h0M1579 674h0M1532 870h0M1685 750h0M1423 714h0M1429 746h0M1615 792h0M1574 626h0M1617 811h0M1536 876h0M1545 734h0M1428 876h0M1393 726h0M1515 761h0M1697 877h0M1671 726h0M1421 848h0M1494 633h0M1511 833h0M1479 701h0M1523 790h0M1622 865h0M1523 886h0M1539 660h0M1437 714h0M1390 601h0M1676 631h0M1489 785h0M1610 762h0M1457 891h0M1482 666h0M1464 780h0M1653 887h0M1484 732h0M1628 747h0M1437 675h0M1452 714h0M1530 652h0M1549 824h0M1434 868h0M1566 654h0M1586 642h0M1552 613h0M1671 843h0M1513 594h0M1682 840h0M1481 795h0M1547 588h0M1415 795h0M1666 658h0M1525 634h0M1675 587h0M1521 732h0M1433 816h0M1640 598h0M1497 823h0M1548 752h0M1610 683h0M1587 875h0M1418 584h0M1672 786h0M1517 585h0M1392 868h0M1438 818h0M1635 797h0M1582 609h0M1682 647h0M1551 627h0M1588 785h0M1689 627h0M1386 663h0M1412 645h0M1624 813h0M1531 663h0M1634 743h0M1660 685h0M1632 619h0M1664 838h0M1621 786h0M1632 880h0M1571 590h0M1428 604h0M1393 671h0M1413 726h0M1672 830h0M1633 599h0M1441 891h0M1619 731h0M1591 823h0M1395 869h0M1481 893h0M1675 726h0M1676 668h0M1423 628h0M1479 681h0M1638 669h0M1682 848h0M1411 848h0M1471 604h0M1456 785h0M1551 835h0M1453 755h0M1482 783h0M1409 728h0M1555 721h0M1513 729h0M1560 688h0M1449 587h0M1645 865h0M1509 856h0M1525 658h0M1570 640h0M1426 885h0M1397 707h0M1545 605h0M1544 642h0M1518 643h0M1582 604h0M1412 887h0M1400 718h0M1643 812h0M1479 602h0M1444 717h0M1553 804h0M1587 591h0M1564 615h0M1566 820h0M1564 854h0M1542 817h0M1510 721h0M1464 616h0M1640 730h0M1387 808h0M1676 632h0M1644 670h0M1490 612h0M1433 638h0M1598 718h0M1388 591h0M1485 638h0M1626 596h0M1608 663h0M1446 830h0M1586 622h0M1547 700h0M1483 806h0M1664 754h0M1538 589h0M1449 798h0M1578 590h0M1404 674h0M1543 590h0M1637 779h0M1619 889h0M1417 758h0M1458 587h0M1558 674h0M1590 647h0M1656 679h0M1433 673h0M1663 733h0M1526 857h0M1604 669h0M1438 793h0M1517 672h0M1478 873h0M1579 624h0M1583 868h0M1571 678h0M1626 749h0M1577 812h0M1462 889h0M1603 843h0M1684 625h0M1672 835h0M1508 886h0M1675 603h0M1525 824h0M1475 585h0M1454 606h0M1550 820h0M1564 605h0M1673 809h0M1652 824h0M1498 684h0M1584 807h0M1676 864h0M1535 731h0M1476 690h0M1632 738h0M1467 775h0M1442 863h0M1430 712h0M1639 846h0M1449 857h0M1591 876h0M1647 873h0M1500 872h0M1698 881h0M1669 707h0M1663 701h0M1640 782h0M1697 768h0M1401 888h0M1503 696h0M1550 743h0M1661 818h0M1676 811h0M1427 662h0M1545 825h0M1504 802h0M1566 602h0M1563 825h0M1657 767h0M1676 637h0M1542 826h0M1580 884h0M1690 722h0M1401 704h0M1503 779h0M1594 854h0M1653 855h0M1571 690h0M1447 782h0M1429 793h0M1446 585h0M1606 885h0M1691 589h0M1492 739h0M1611 752h0M1519 655h0M1541 679h0M1463 765h0M1626 876h0M1544 843h0M1452 585h0M1635 850h0M1450 873h0M1469 889h0M1572 859h0M1611 644h0M1575 730h0M1393 820h0M1558 646h0M1640 680h0M1492 824h0M1427 696h0M1476 752h0M1411 762h0M1504 753h0M1395 635h0M1447 758h0M1499 698h0M1490 678h0M1449 766h0M1411 731h0M1539 594h0M1487 887h0M1431 750h0M1633 859h0M1531 699h0M1622 765h0M1588 694h0M1389 634h0M1435 691h0M1478 825h0M1395 595h0M1622 764h0M1666 775h0M1406 672h0M1453 738h0M1524 636h0M1522 637h0M1576 594h0M1438 667h0M1471 730h0M1666 707h0M1486 887h0M1462 593h0M1658 698h0M1485 859h0M1477 712h0M1619 769h0M1642 620h0M1401 604h0M1465 769h0M1589 863h0M1407 633h0M1558 768h0M1495 722h0M1635 831h0M1587 783h0M1606 881h0M1432 744h0M1391 731h0M1689 671h0M1406 884h0M1411 770h0M1498 871h0M1522 749h0M1428 874h0M1641 765h0M1680 623h0M1612 750h0M1538 686h0M1457 765h0M1412 765h0M1681 810h0M1466 605h0M1680 789h0M1490 683h0M1554 669h0M1583 728h0M1421 594h0M1435 753h0M1638 614h0M1463 763h0M1415 750h0M1633 892h0M1539 843h0M1675 630h0M1394 883h0M1468 644h0M1523 623h0M1617 751h0M1564 780h0M1610 660h0M1628 631h0M1501 608h0M1468 742h0M1583 743h0M1511 766h0M1509 856h0M1535 759h0M1508 612h0M1390 591h0M1621 858h0M1416 851h0M1519 759h0M1516 604h0M1568 759h0M1519 708h0M1516 763h0M1618 588h0M1398 682h0M1413 822h0M1448 844h0M1513 592h0M1471 640h0M1573 892h0M1449 681h0M1629 743h0M1504 634h0M1494 825h0M1639 720h0M1603 761h0M1462 778h0M1673 709h0M1698 883h0M1540 875h0M1681 614h0M1651 850h0M1662 781h0M1433 821h0M1683 649h0M1611 637h0M1483 617h0M1488 596h0M1492 753h0M1487 650h0M1607 751h0M1403 781h0M1694 739h0M1569 706h0M1667 750h0M1644 873h0M1575 661h0M1398 597h0M1412 626h0M1631 852h0M1518 691h0M1685 717h0M1484 809h0M1410 834h0M1392 636h0M1534 855h0M1667 783h0M1484 670h0M1646 662h0M1401 770h0M1638 810h0M1610 726h0M1532 654h0M1425 706h0M1490 726h0M1572 738h0M1678 647h0M1401 749h0M1419 719h0M1454 759h0M1535 668h0M1696 801h0M1492 749h0M1451 714h0M1466 716h0M1484 882h0M1566 631h0M1615 661h0M1510 728h0M1626 705h0M1595 887h0M1573 595h0M1693 616h0M1581 811h0M1438 802h0M1473 661h0M1656 703h0M1517 737h0M1461 841h0M1635 596h0M1568 886h0M1560 616h0M1468 624h0M1416 783h0M1397 636h0M1588 735h0M1675 691h0M1445 647h0M1503 745h0M1410 707h0M1618 892h0M1696 872h0M1554 885h0M1504 716h0M1582 803h0M1429 671h0M1529 592h0M1403 755h0M1580 834h0M1428 866h0M1567 616h0M1451 801h0M1542 824h0M1499 832h0M1571 765h0M1395 862h0M1487 654h0M1449 704h0M1470 800h0M1620 663h0M1421 626h0M1486 607h0M1683 708h0M1497 874h0M1552 879h0M1437 647h0M1432 613h0M1511 873h0M1394 846h0M1681 725h0M1424 743h0M1510 731h0M1635 632h0M1675 677h0M1444 867h0M1629 594h0M1422 600h0M1562 893h0M1643 771h0M1649 893h0M1657 674h0M1410 659h0M1640 753h0M1607 663h0M1498 828h0M1479 834h0M1543 837h0M1677 810h0M1587 798h0M1690 797h0M1496 632h0M1563 866h0M1617 636h0M1657 808h0M1521 756h0M1555 817h0M1670 837h0M1554 597h0M1393 836h0M1415 778h0M1388 803h0M1487 746h0M1577 886h0M1437 729h0M1522 847h0M1531 760h0M1614 728h0M1410 887h0M1425 607h0M1448 641h0M1464 832h0M1660 661h0M1513 857h0M1533 851h0M1414 691h0M1600 841h0M1463 684h0M1440 635h0M1430 802h0M1555 686h0M1658 881h0M1470 854h0M1546 840h0M1503 642h0M1509 831h0M1653 742h0M1694 799h0M1681 880h0M1479 821h0M1470 754h0M1596 843h0M1490 615h0M1602 660h0M1404 701h0M1631 783h0M1390 765h0M1577 646h0M1518 718h0M1673 881h0M1534 893h0M1529 630h0M1520 875h0M1664 696h0M1449 822h0M1596 892h0M1518 695h0M1612 771h0M1491 741h0M1610 599h0M1401 622h0M1690 848h0M1422 875h0M1516 691h0M1388 677h0M1583 736h0M1475 665h0M1573 612h0M1687 792h0M1694 634h0M1507 629h0M1555 713h0M1416 880h0M1506 692h0M1657 613h0M1618 745h0M1698 890h0M1546 840h0M1418 891h0M1661 713h0M1693 859h0M1612 685h0M1505 664h0M1629 774h0M1433 767h0M1416 876h0M1547 696h0M1648 822h0M1511 615h0M1468 791h0M1618 709h0M1428 656h0M1593 606h0M1680 851h0M1393 625h0M1573 849h0M1534 725h0M1405 648h0M1454 604h0M1391 718h0M1646 836h0M1698 815h0M1529 817h0M1606 835h0M1410 684h0M1482 790h0M1554 666h0M1564 851h0M1456 818h0M1651 642h0M1469 825h0M1679 757h0M1595 623h0M1584 844h0M1524 728h0M1645 837h0M1400 735h0M1478 801h0M1453 770h0M1488 604h0M1445 660h0M1534 869h0M1511 668h0M1613 683h0M1605 892h0M1394 615h0M1494 619h0M1499 895h0M1654 589h0M1565 734h0M1679 607h0M1487 763h0M1563 693h0M1660 796h0M1446 758h0M1635 671h0M1684 672h0M1510 702h0M1501 749h0M1409 809h0M1475 628h0M1624 662h0M1650 733h0M1669 730h0M1423 610h0M1640 842h0M1682 615h0M1481 609h0M1533 634h0M1510 641h0M1421 638h0M1611 816h0M1562 722h0M1469 781h0M1568 776h0M1619 705h0M1671 680h0M1435 594h0M1388 858h0M1420 670h0M1582 821h0M1411 848h0M1443 880h0M1523 710h0M1647 798h0M1625 765h0M1553 765h0M1454 661h0M1442 644h0M1486 814h0M1506 806h0M1636 736h0M1469 853h0M1552 884h0M1617 634h0M1637 758h0M1581 669h0M1488 890h0M1461 796h0M1398 845h0M1486 846h0M1394 852h0M1457 737h0M1470 825h0M1440 604h0M1432 711h0M1634 815h0M1529 794h0M1514 592h0M1559 594h0M1648 588h0M1485 607h0M1415 681h0M1651 648h0M1478 714h0M1522 885h0M1613 666h0M1556 751h0M1571 664h0M1673 838h0M1646 765h0M1637 733h0M1465 595h0M1605 887h0M1682 818h0M1660 830h0M1637 682h0M1522 892h0M1417 749h0M1434 719h0M1558 847h0M1576 600h0M1394 791h0M1422 729h0M1600 643h0M1547 713h0M1614 769h0M1417 718h0M1459 630h0M1548 741h0M1513 594h0M1569 593h0M1575 599h0M1527 815h0M1537 874h0M1557 892h0M1418 809h0M1654 703h0M1410 754h0M1573 861h0M1691 619h0M1498 702h0M1601 677h0M1667 709h0M1689 841h0M1593 644h0M1440 782h0M1503 653h0M1573 809h0M1584 813h0M1414 809h0M1565 715h0M1508 619h0M1609 784h0M1582 725h0M1474 721h0M1668 740h0M1569 607h0M1658 820h0M1501 585h0M1439 777h0M1679 630h0M1624 804h0M1529 829h0M1680 624h0M1432 603h0M1462 713h0M1538 697h0M1696 674h0M1575 818h0M1544 585h0M1622 654h0M1573 736h0M1553 797h0M1540 630h0M1581 661h0M1681 878h0M1573 731h0M1539 604h0M1655 805h0M1595 697h0M1429 814h0M1653 586h0M1568 609h0M1622 771h0M1444 854h0M1676 841h0M1389 635h0M1519 690h0M1689 844h0M1444 760h0M1690 795h0M1595 710h0M1390 826h0M1468 734h0M1479 670h0M1483 704h0M1476 633h0M1395 758h0M1641 694h0M1662 761h0M1443 685h0M1543 609h0M1472 805h0M1588 654h0M1437 758h0M1681 649h0M1417 698h0M1446 855h0M1392 816h0M1647 745h0M1547 830h0M1443 630h0M1518 680h0M1421 890h0M1518 661h0M1532 758h0M1636 637h0M1388 604h0M1638 594h0M1635 872h0M1669 763h0M1636 683h0M1548 785h0M1560 796h0M1675 790h0M1615 894h0M1536 717h0M1457 858h0M1624 649h0M1652 739h0M1578 790h0M1641 821h0M1659 709h0M1553 674h0M1439 875h0M1681 633h0M1409 854h0M1477 678h0M1458 818h0M1475 659h0M1513 741h0M1386 604h0M1540 786h0M1535 706h0M1638 800h0M1631 650h0M1444 679h0M1650 772h0M1691 627h0M1594 786h0M1453 835h0M1399 806h0M1445 794h0M1680 646h0M1696 708h0M1577 832h0M1409 873h0M1440 721h0M1659 605h0M1527 841h0M1536 587h0M1689 647h0M1442 687h0M1480 668h0M1624 787h0M1547 608h0M1489 669h0M1543 838h0M1606 597h0M1550 869h0M1441 696h0M1533 665h0M1638 870h0M1567 866h0M1575 821h0M1441 629h0M1556 593h0M1584 762h0M1395 809h0M1395 706h0M1402 807h0M1542 627h0M1506 637h0M1420 833h0M1696 684h0M1685 625h0M1580 854h0M1469 598h0M1589 697h0M1580 669h0M1654 612h0M1479 668h0M1510 670h0M1642 844h0M1553 790h0M1435 763h0M1538 731h0M1399 676h0M1610 751h0M1466 685h0M1660 844h0M1408 844h0M1612 792h0M1578 671h0M1545 656h0M1569 805h0M1482 769h0M1408 708h0M1518 652h0M1694 720h0M1674 869h0M1521 853h0M1410 800h0M1504 787h0M1472 657h0M1619 749h0M1436 594h0M1585 731h0M1608 804h0M1696 618h0M1445 801h0M1419 828h0M1598 665h0M1657 883h0M1626 772h0M1495 653h0M1683 629h0M1403 594h0M1622 641h0M1502 620h0M1505 796h0M1679 852h0M1391 707h0M1645 814h0M1658 809h0M1580 817h0M1516 749h0M1388 627h0M1659 855h0M1421 641h0M1662 775h0M1537 675h0M1525 783h0M1412 667h0M1550 624h0M1619 662h0M1443 668h0M1691 883h0M1664 747h0M1622 836h0M1438 764h0M1625 622h0M1498 678h0M1410 788h0M1624 689h0M1564 683h0M1482 846h0M1670 882h0M1688 726h0M1400 730h0M1508 606h0M1548 869h0M1520 776h0M1565 683h0M1503 731h0M1658 595h0M1499 723h0M1510 875h0M1507 707h0M1392 653h0M1694 603h0M1590 818h0M1478 633h0M1672 611h0M1551 814h0M1570 804h0M1652 681h0M1690 788h0M1424 613h0M1546 625h0M1544 746h0M1415 769h0M1527 765h0M1579 838h0M1513 807h0M1580 751h0M1509 825h0M1653 644h0M1477 811h0M1452 728h0M1617 697h0M1512 718h0M1552 864h0M1449 591h0M1646 671h0M1410 808h0M1510 595h0M1674 817h0M1612 727h0M1697 805h0M1405 705h0M1697 636h0M1477 841h0M1448 760h0M1453 841h0M1587 737h0M1502 859h0M1510 814h0M1510 884h0M1469 892h0M1646 612h0M1541 828h0M1425 744h0M1672 742h0M1511 753h0M1433 653h0M1528 779h0M1653 644h0M1504 853h0M1455 611h0M1421 604h0M1508 801h0M1575 807h0M1637 893h0M1423 734h0M1620 813h0M1386 653h0M1451 796h0M1606 740h0M1477 656h0M1438 646h0M1460 873h0M1533 679h0M1654 734h0M1458 648h0M1493 615h0M1414 693h0M1573 688h0M1616 760h0M1396 829h0M1475 680h0M1423 810h0M1551 705h0M1531 666h0M1632 761h0M1406 787h0M1697 734h0M1470 632h0M1484 653h0M1623 707h0M1637 631h0M1480 812h0M1406 871h0M1440 874h0M1513 623h0M1457 800h0M1474 706h0M1490 747h0M1577 827h0M1631 727h0M1555 731h0M1671 648h0M1415 707h0M1465 764h0M1415 595h0M1546 780h0M1598 880h0M1504 632h0M1447 725h0M1578 822h0M1533 667h0M1390 658h0M1463 717h0M1666 828h0M1573 640h0M1538 745h0M1488 644h0M1478 696h0M1550 585h0M1503 626h0M1552 674h0M1525 663h0M1510 723h0M1529 746h0M1474 659h0M1407 711h0M1422 881h0M1445 651h0M1587 779h0M1615 760h0M1417 670h0M1537 805h0M1397 636h0M1508 678h0M1583 694h0M1490 880h0M1402 632h0M1434 783h0M1623 868h0M1440 816h0M1557 670h0M1595 795h0M1387 850h0M1650 688h0M1618 815h0M1615 751h0M1641 726h0M1526 862h0M1689 850h0M1527 639h0M1609 737h0M1455 730h0M1445 600h0M1642 804h0M1390 751h0M1564 612h0M1416 723h0M1593 720h0M1571 663h0M1430 838h0M1512 730h0M1536 665h0M1503 703h0M1564 758h0M1618 846h0M1464 866h0M1663 874h0M1614 792h0M1513 691h0M1417 701h0M1691 857h0M1491 597h0M1400 888h0M1625 772h0M1664 593h0M1555 783h0M1544 765h0M1543 694h0M1568 818h0M1657 826h0M1683 746h0M1630 686h0M1560 607h0M1682 872h0M1689 775h0M1583 608h0M1666 800h0M1535 620h0M1419 737h0M1650 613h0M1434 643h0M1431 661h0M1476 830h0M1679 693h0M1411 890h0M1611 620h0M1616 774h0M1629 735h0M1652 878h0M1388 855h0M1449 797h0M1628 674h0M1483 724h0M1654 852h0M1668 706h0M1581 788h0M1648 677h0M1526 740h0M1491 748h0M1451 612h0M1543 891h0M1534 697h0M1530 799h0M1583 657h0M1615 874h0M1641 843h0M1456 816h0M1428 600h0M1560 744h0M1615 745h0M1568 717h0M1697 653h0M1641 852h0M1628 833h0M1588 663h0M1400 651h0M1510 789h0M1414 599h0M1676 696h0M1674 585h0M1605 588h0M1689 889h0M1510 697h0M1473 665h0M1528 779h0M1457 627h0M1473 792h0M1538 744h0M1674 886h0M1457 584h0M1692 750h0M1608 835h0M1525 856h0M1587 890h0M1656 607h0M1479 669h0M1467 653h0M1663 772h0M1475 720h0M1432 731h0M1440 722h0M1421 823h0M1684 653h0M1434 754h0M1572 858h0M1444 763h0M1508 709h0M1682 681h0M1672 646h0M1494 835h0M1511 870h0M1538 635h0M1693 694h0M1587 590h0M1441 843h0M1591 584h0M1624 820h0M1396 617h0M1586 859h0M1531 697h0M1659 639h0M1434 697h0M1492 802h0M1637 835h0M1586 687h0M1678 812h0M1444 651h0M1559 853h0M1615 870h0M1453 799h0M1443 731h0M1649 865h0M1631 813h0M1592 756h0M1658 783h0M1474 719h0M1564 593h0M1495 690h0M1641 640h0M1635 863h0M1470 857h0M1446 884h0M1555 661h0M1498 817h0M1596 855h0M1521 862h0M1648 804h0M1429 754h0M1692 781h0M1433 830h0M1481 887h0M1418 671h0M1559 744h0M1560 608h0M1594 786h0M1605 638h0M1400 791h0M1544 588h0M1601 850h0M1677 587h0M1686 861h0M1512 669h0M1504 854h0M1550 810h0M1640 805h0M1570 638h0M1394 641h0M1496 624h0M1462 712h0M1482 679h0M1394 663h0M1697 688h0M1496 774h0M1693 891h0M1425 610h0M1637 707h0M1672 600h0M1552 861h0M1555 745h0M1411 759h0M1570 823h0M1491 856h0M1533 686h0M1641 809h0M1483 663h0M1520 822h0M1486 846h0M1523 778h0M1652 641h0M1677 747h0M1390 806h0M1650 613h0M1494 813h0M1575 889h0M1393 753h0M1422 748h0M1387 736h0M1575 805h0M1605 592h0M1449 627h0M1442 789h0M1547 600h0M1529 837h0M1519 829h0M1630 643h0M1600 657h0M1462 590h0M1639 695h0M1419 884h0M1435 817h0M1587 695h0M1655 850h0M1575 676h0M1472 859h0M1501 587h0M1657 604h0M1631 617h0M1654 619h0M1676 759h0M1404 609h0M1461 868h0M1448 621h0M1667 648h0M1681 877h0M1627 823h0M1572 737h0M1509 716h0M1609 823h0M1617 640h0M1556 788h0M1643 800h0M1443 788h0M1666 787h0M1516 617h0M1536 782h0M1513 763h0M1507 663h0M1688 873h0M1421 629h0M1454 865h0M1457 740h0M1594 792h0M1512 793h0M1607 658h0M1578 868h0M1661 686h0M1435 874h0M1628 864h0M1392 654h0M1672 616h0M1652 807h0M1453 843h0M1405 590h0M1404 647h0M1660 669h0M1392 740h0M1545 865h0M1652 633h0M1619 716h0M1679 596h0M1577 791h0M1566 710h0M1484 840h0M1593 663h0M1533 720h0M1506 850h0M1632 767h0M1686 612h0M1388 843h0M1698 643h0M1500 619h0M1396 796h0M1586 646h0M1635 855h0M1542 696h0M1421 643h0M1680 804h0M1514 889h0M1511 814h0M1497 810h0M1436 884h0M1625 880h0M1511 744h0M1564 841h0M1650 884h0M1691 757h0M1617 766h0M1523 796h0M1547 738h0M1662 859h0M1617 706h0M1587 745h0M1496 622h0M1568 755h0M1693 877h0M1554 688h0M1468 738h0M1657 773h0M1453 713h0M1589 852h0M1486 730h0M1491 727h0M1541 592h0M1547 877h0M1671 755h0M1447 854h0M1638 636h0M1624 622h0M1678 620h0M1664 656h0M1403 653h0M1531 692h0M1553 637h0M1530 623h0M1533 615h0M1407 781h0M1622 764h0M1511 846h0M1611 691h0M1421 853h0M1667 627h0M1693 728h0M1682 847h0M1493 611h0M1551 853h0M1405 643h0M1611 760h0M1574 789h0M1510 736h0M1649 743h0M1524 863h0M1672 614h0M1578 724h0M1474 756h0M1566 638h0M1490 697h0M1447 712h0M1471 767h0M1608 690h0M1534 725h0M1406 671h0M1613 676h0M1641 748h0M1444 685h0M1613 738h0M1506 742h0M1484 609h0M1639 733h0M1669 665h0M1493 823h0M1428 629h0M1432 840h0M1458 705h0M1629 687h0M1486 661h0M1600 822h0M1419 628h0M1619 681h0M1449 603h0M1542 599h0M1645 796h0M1591 855h0M1502 780h0M1527 743h0M1474 858h0M1547 692h0M1482 727h0M1515 656h0M1615 750h0M1674 627h0M1590 730h0M1413 855h0M1498 736h0M1611 637h0M1506 600h0M1601 635h0M1673 694h0M1655 671h0M1621 696h0M1422 712h0M1498 739h0M1537 884h0M1501 598h0M1434 679h0M1588 769h0M1551 801h0M1474 613h0M1437 627h0M1447 864h0M1412 763h0M1513 796h0M1521 717h0M1686 625h0M1462 649h0M1400 895h0M1410 785h0M1485 605h0M1489 680h0M1473 700h0M1640 694h0M1668 697h0M1600 777h0M1619 762h0M1465 773h0M1652 826h0M1646 868h0M1614 760h0M1416 600h0M1604 738h0M1676 629h0M1475 863h0M1653 805h0M1549 761h0M1668 706h0M1413 694h0M1627 796h0M1447 842h0M1677 870h0M1407 882h0M1510 682h0M1414 836h0M1499 861h0M1580 694h0M1682 699h0M1585 715h0M1437 751h0M1495 862h0M1527 666h0M1593 727h0M1623 847h0M1625 634h0M1486 784h0M1641 627h0M1602 857h0M1614 788h0M1614 696h0M1484 671h0M1452 765h0M1675 685h0M1510 590h0M1410 635h0M1584 669h0M1682 645h0M1658 711h0M1595 860h0M1568 667h0M1641 652h0M1477 858h0M1534 601h0M1592 750h0M1585 809h0M1501 812h0M1525 732h0M1411 728h0M1389 847h0M1630 824h0M1549 863h0M1434 635h0M1555 646h0M1425 613h0M1609 853h0M1412 683h0M1412 795h0M1493 594h0M1399 644h0M1544 704h0M1583 625h0M1452 815h0M1520 830h0M1551 611h0M1603 833h0M1410 813h0M1521 806h0M1446 637h0M1413 798h0M1618 606h0M1650 871h0M1556 825h0M1690 854h0M1407 614h0M1610 823h0M1689 696h0M1566 686h0M1440 730h0M1521 727h0M1679 706h0M1543 670h0M1539 780h0M1600 675h0M1488 592h0M1542 708h0M1569 871h0M1529 704h0M1613 701h0M1421 658h0M1566 674h0M1406 724h0M1658 601h0M1387 719h0M1518 596h0M1650 692h0M1405 667h0M1555 731h0M1496 637h0M1472 825h0M1671 587h0M1653 789h0M1520 608h0M1513 641h0M1426 833h0M1389 824h0M1577 827h0M1588 608h0M1649 808h0M1694 743h0M1412 737h0M1388 685h0M1674 655h0M1495 842h0M1528 855h0M1554 845h0M1584 602h0M1423 649h0M1526 625h0M1408 882h0M1646 894h0M1552 615h0M1620 850h0M1624 736h0M1456 623h0M1583 704h0M1449 877h0M1461 659h0M1531 726h0M1437 884h0M1415 662h0M1475 891h0M1388 694h0M1689 737h0M1555 818h0M1499 715h0M1424 640h0M1579 759h0M1597 811h0M1433 811h0M1645 840h0M1677 634h0M1440 761h0M1392 614h0M1402 644h0M1694 803h0M1440 675h0M1639 770h0M1429 818h0M1547 769h0M1561 695h0M1542 667h0M1631 838h0M1572 831h0M1605 799h0M1460 704h0M1476 683h0M1548 752h0M1474 710h0M1534 797h0M1524 799h0M1644 740h0M1407 738h0M1492 634h0M1610 761h0M1593 638h0M1514 732h0M1692 653h0M1392 731h0M1437 622h0M1510 735h0M1449 612h0M1432 846h0M1621 717h0M1608 827h0M1693 770h0M1448 886h0M1528 702h0M1579 797h0M1412 747h0M1394 675h0M1559 593h0M1400 676h0M1519 714h0M1650 889h0M1446 605h0M1601 681h0M1685 713h0M1462 656h0M1481 746h0M1610 844h0M1442 824h0M1388 847h0M1396 639h0M1391 706h0M1624 749h0M1491 587h0M1429 832h0M1527 683h0M1442 861h0M1688 826h0M1388 608h0M1619 811h0M1441 751h0M1427 693h0M1691 828h0M1529 663h0M1459 610h0M1608 728h0M1567 699h0M1523 800h0M1680 667h0M1412 778h0M1433 775h0M1545 754h0M1597 691h0M1470 805h0M1453 820h0M1420 759h0M1621 872h0M1425 861h0M1583 806h0M1453 692h0M1695 606h0M1541 773h0M1670 613h0M1473 880h0M1634 727h0M1682 837h0M1575 599h0M1581 670h0M1569 618h0M1489 634h0M1434 891h0M1400 876h0M1472 719h0M1430 804h0M1439 816h0M1600 630h0M1417 774h0M1545 856h0M1690 768h0M1485 757h0M1444 811h0M1477 719h0M1549 596h0M1586 595h0M1437 585h0M1609 739h0M1442 732h0M1398 632h0M1659 884h0M1600 766h0M1484 772h0M1675 777h0M1490 655h0M1570 704h0M1571 734h0M1444 685h0M1653 790h0M1638 676h0M1485 629h0M1496 624h0M1527 586h0M1647 656h0M1698 856h0M1561 820h0M1574 601h0M1395 796h0M1532 708h0M1698 659h0M1521 824h0M1668 775h0M1387 801h0M1406 805h0M1548 857h0M1405 830h0M1568 688h0M1617 878h0M1419 861h0M1567 876h0M1460 665h0M1626 747h0M1407 694h0M1525 723h0M1697 716h0M1555 831h0M1664 732h0M1669 893h0M1576 712h0M1440 642h0M1596 592h0M1634 657h0M1535 696h0M1431 885h0M1460 591h0M1523 699h0M1676 665h0M1603 835h0M1592 719h0M1630 740h0M1586 828h0M1644 665h0M1561 817h0M1497 643h0M1590 780h0M1561 826h0M1462 618h0M1622 866h0M1696 729h0M1471 705h0M1396 634h0M1674 614h0M1409 876h0M1512 835h0M1394 769h0M1495 602h0M1617 850h0M1525 719h0M1679 846h0M1660 717h0M1396 652h0M1389 847h0M1640 674h0M1392 782h0M1438 715h0M1438 686h0M1465 591h0M1541 876h0M1510 708h0M1420 860h0M1563 885h0M1597 885h0M1616 879h0M1429 747h0M1390 746h0M1692 639h0M1472 793h0M1463 715h0M1627 736h0M1571 862h0M1614 889h0M1662 734h0M1437 778h0M1645 683h0M1536 826h0M1636 758h0M1568 621h0M1454 890h0M1662 640h0M1566 743h0M1501 750h0M1468 786h0M1639 831h0M1622 623h0M1579 623h0M1565 887h0M1480 820h0M1407 869h0M1602 755h0M1443 636h0M1685 764h0M1524 628h0M1495 744h0M1532 702h0M1636 781h0M1693 709h0M1460 672h0M1447 667h0M1569 759h0M1504 644h0M1568 689h0M1683 658h0M1648 690h0M1685 781h0M1591 607h0M1577 650h0M1624 812h0M1598 609h0M1482 664h0M1608 845h0M1530 658h0M1645 789h0M1544 850h0M1531 795h0M1447 774h0M1653 721h0M1606 806h0M1523 615h0M1468 792h0M1637 852h0M1509 704h0M1531 656h0M1671 834h0M1413 665h0M1575 694h0M1505 770h0M1548 607h0M1505 841h0M1689 613h0M1562 847h0M1624 770h0M1420 597h0M1547 695h0M1560 616h0M1553 587h0M1417 685h0M1451 854h0M1674 710h0M1576 753h0M1617 870h0M1622 589h0M1547 791h0M1565 830h0M1602 731h0M1467 759h0M1585 714h0M1423 660h0M1387 629h0M1692 619h0M1428 792h0M1621 668h0M1497 774h0M1580 614h0M1432 841h0M1657 607h0M1513 638h0M1414 724h0M1402 814h0M1652 737h0M1579 890h0M1523 827h0M1434 772h0M1432 671h0M1423 594h0M1634 850h0M1563 720h0M1427 778h0M1581 655h0M1543 647h0M1404 699h0M1650 872h0M1493 620h0M1681 650h0M1502 640h0M1625 837h0M1485 838h0M1506 697h0M1455 872h0M1570 761h0M1473 810h0M1638 747h0M1680 878h0M1470 765h0M1656 812h0M1590 587h0M1690 784h0M1420 664h0M1613 647h0M1412 723h0M1492 864h0M1413 648h0M1560 645h0M1446 891h0M1421 586h0M1486 756h0M1425 722h0M1455 839h0M1684 592h0M1645 651h0M1673 623h0M1408 756h0M1654 697h0M1552 859h0M1589 844h0M1406 823h0M1561 756h0M1616 639h0M1677 808h0M1578 614h0M1600 586h0M1451 660h0M1457 634h0M1636 862h0M1415 814h0M1659 844h0M1618 873h0M1555 776h0M1567 823h0M1468 827h0M1697 881h0M1510 705h0M1429 605h0M1498 786h0M1641 600h0M1488 796h0M1594 788h0M1622 699h0M1688 764h0M1575 660h0M1637 817h0M1494 885h0M1438 887h0M1600 875h0M1479 724h0M1455 798h0M1462 838h0M1423 848h0M1594 667h0M1576 834h0M1455 823h0M1541 655h0M1423 655h0M1536 682h0M1522 678h0M1503 806h0M1411 733h0M1508 823h0M1644 842h0M1579 738h0M1694 653h0M1481 887h0M1493 813h0M1526 602h0M1682 870h0M1427 621h0M1657 670h0M1682 601h0M1653 708h0M1577 605h0M1651 633h0M1487 847h0M1600 680h0M1469 685h0M1554 816h0M1651 698h0M1452 682h0M1417 788h0M1516 696h0M1516 624h0M1410 741h0M1454 871h0M1663 828h0M1564 742h0M1633 689h0M1419 872h0M1553 627h0M1619 862h0M1552 674h0M1462 666h0M1635 621h0M1469 851h0M1666 736h0M1586 878h0M1580 782h0M1642 754h0M1580 687h0M1556 639h0M1434 601h0M1401 594h0M1565 667h0M1410 750h0M1529 885h0M1518 894h0M1535 663h0M1444 726h0M1544 605h0M1544 739h0M1633 845h0M1484 595h0M1618 801h0M1664 609h0M1696 678h0M1480 601h0M1561 758h0M1598 865h0M1441 731h0M1587 758h0M1570 664h0M1504 855h0" stroke="#081044" stroke-width="3.2" stroke-linecap="round" stroke-opacity="1" fill="none"/><path d="M1698 893h0M1667 785h0M1524 760h0M1656 824h0M1534 758h0M1489 870h0M1642 809h0M1643 847h0M1587 830h0M1535 594h0M1676 806h0M1652 807h0M1611 610h0M1685 702h0M1693 595h0M1685 677h0M1448 672h0M1394 624h0M1662 838h0M1581 599h0M1692 724h0M1632 668h0M1422 641h0M1634 847h0M1546 885h0M1644 668h0M1683 601h0M1545 699h0M1502 841h0M1590 703h0M1694 628h0M1671 890h0M1416 782h0M1477 778h0M1632 638h0M1520 635h0M1445 584h0M1587 638h0M1418 659h0M1642 691h0M1619 750h0M1690 685h0M1690 735h0M1538 664h0M1614 819h0M1551 699h0M1594 830h0M1625 870h0M1526 758h0M1654 658h0M1479 673h0M1647 640h0M1573 685h0M1633 794h0M1416 695h0M1504 727h0M1549 634h0M1628 629h0M1437 675h0M1628 886h0M1563 759h0M1689 706h0M1405 859h0M1546 734h0M1600 592h0M1553 731h0M1433 807h0M1590 681h0M1499 827h0M1618 822h0M1494 718h0M1515 795h0M1434 884h0M1398 745h0M1637 763h0M1615 699h0M1643 611h0M1397 645h0M1515 854h0M1451 691h0M1691 742h0M1677 647h0M1651 637h0M1524 695h0M1487 721h0M1464 849h0M1638 842h0M1695 672h0M1473 686h0M1492 588h0M1662 673h0M1624 816h0M1607 585h0M1437 853h0M1505 703h0M1616 791h0M1591 662h0M1418 853h0M1499 604h0M1623 760h0M1403 610h0M1589 882h0M1513 837h0M1404 613h0M1409 776h0M1464 626h0M1450 633h0M1466 883h0M1433 771h0M1659 728h0M1508 601h0M1573 637h0M1394 649h0M1661 606h0M1424 654h0M1589 884h0M1619 785h0M1583 892h0M1656 694h0M1693 891h0M1436 625h0M1547 748h0M1680 707h0M1624 853h0M1452 610h0M1551 709h0M1526 844h0M1588 775h0M1668 849h0M1485 810h0M1455 796h0M1651 648h0M1656 701h0M1685 691h0M1693 809h0M1485 828h0M1423 871h0M1637 809h0M1433 704h0M1512 684h0M1625 791h0M1463 783h0M1389 721h0M1498 732h0M1569 741h0M1656 765h0M1619 717h0M1569 592h0M1658 643h0M1491 695h0M1422 737h0M1637 887h0M1450 763h0M1675 762h0M1445 887h0M1453 885h0M1426 702h0M1525 723h0M1624 847h0M1469 887h0M1524 759h0M1513 662h0M1625 695h0M1689 586h0M1610 758h0M1461 885h0M1621 743h0M1643 885h0M1398 863h0M1509 672h0M1404 799h0M1626 748h0M1451 839h0M1567 609h0M1657 736h0M1481 738h0M1613 631h0M1408 653h0M1505 817h0M1678 707h0M1678 784h0M1665 876h0M1641 651h0M1559 820h0M1657 659h0M1450 808h0M1618 818h0M1449 789h0M1482 801h0M1489 692h0M1399 725h0M1402 609h0M1407 716h0M1580 794h0M1582 842h0M1538 616h0M1613 648h0M1695 767h0M1696 727h0M1522 624h0M1416 861h0M1451 759h0M1573 807h0M1431 796h0M1539 659h0M1443 642h0M1430 801h0M1612 826h0M1520 877h0M1408 812h0M1527 793h0M1608 866h0M1524 724h0M1557 808h0M1472 598h0M1633 748h0M1446 736h0M1540 828h0M1676 647h0M1395 586h0M1413 650h0M1485 844h0M1682 729h0M1437 620h0M1542 766h0M1446 882h0M1419 702h0M1593 696h0M1495 818h0M1527 772h0M1544 808h0M1626 834h0M1670 590h0M1651 755h0M1487 857h0M1601 749h0M1472 884h0M1531 701h0M1606 794h0M1698 624h0M1512 803h0M1459 689h0M1622 657h0M1645 817h0M1409 712h0M1609 893h0M1621 704h0M1507 607h0M1573 605h0M1638 805h0M1525 740h0M1592 867h0M1642 704h0M1696 843h0M1623 674h0M1597 839h0M1527 769h0M1667 852h0M1445 677h0M1672 645h0M1413 768h0M1557 772h0M1602 589h0M1452 785h0M1615 851h0M1517 854h0M1570 747h0M1539 867h0M1480 776h0M1416 756h0M1633 624h0M1650 805h0M1603 830h0M1554 644h0M1473 781h0M1522 683h0M1485 610h0M1593 679h0M1557 697h0M1466 774h0M1695 686h0M1585 634h0M1680 823h0M1427 795h0M1622 589h0M1487 785h0M1446 872h0M1637 822h0M1512 855h0M1624 728h0M1678 734h0M1673 823h0M1441 666h0M1452 629h0M1463 885h0M1567 764h0M1491 721h0M1663 894h0M1411 681h0M1489 714h0M1450 844h0M1525 648h0M1628 768h0M1689 823h0M1535 778h0M1503 895h0M1457 855h0M1637 751h0M1469 744h0M1580 694h0M1663 662h0M1551 751h0M1410 742h0M1441 608h0M1544 819h0M1466 602h0M1470 593h0M1643 787h0M1448 682h0M1415 585h0M1642 623h0M1394 866h0M1523 870h0M1400 607h0M1603 869h0M1624 669h0M1390 832h0M1483 825h0M1499 690h0M1475 706h0M1642 895h0M1562 775h0M1595 745h0M1648 721h0M1689 866h0M1666 736h0M1412 643h0M1677 638h0M1407 886h0M1666 845h0M1532 758h0M1399 745h0M1430 758h0M1696 851h0M1630 657h0M1624 863h0M1588 784h0M1515 872h0M1625 715h0M1405 692h0M1469 814h0M1630 881h0M1578 711h0M1601 891h0M1602 694h0M1641 749h0M1682 838h0M1574 586h0M1402 741h0M1392 654h0M1535 731h0M1571 730h0M1634 790h0M1569 883h0M1632 854h0M1394 826h0M1665 723h0M1450 854h0M1496 802h0M1601 825h0M1411 867h0M1500 587h0M1479 749h0M1656 585h0M1538 750h0M1398 854h0M1555 621h0M1660 692h0M1425 771h0M1407 764h0M1551 886h0M1551 741h0M1431 686h0M1421 772h0M1595 859h0M1671 715h0M1646 709h0M1580 669h0M1557 641h0M1416 856h0M1465 878h0M1485 864h0M1580 669h0M1564 791h0M1681 806h0M1584 823h0M1457 841h0M1448 623h0M1515 762h0M1444 690h0M1475 693h0M1534 742h0M1477 795h0M1559 722h0M1487 761h0M1543 819h0M1485 762h0M1557 842h0M1676 864h0M1664 590h0M1679 889h0M1395 625h0M1472 726h0M1583 756h0M1526 777h0M1637 791h0M1590 681h0M1402 866h0M1501 584h0M1417 660h0M1675 695h0M1631 595h0M1666 637h0M1402 708h0M1440 803h0M1696 696h0M1604 818h0M1650 776h0M1619 686h0M1432 743h0M1584 822h0M1470 663h0M1515 648h0M1564 805h0M1656 754h0M1612 799h0M1640 626h0M1598 803h0M1558 632h0M1688 796h0M1623 854h0M1512 743h0M1456 667h0M1387 718h0M1665 854h0M1567 832h0M1477 779h0M1654 604h0M1386 799h0M1682 890h0M1667 755h0M1646 813h0M1563 893h0M1688 846h0M1445 821h0M1463 849h0M1684 792h0M1618 869h0M1611 680h0M1486 775h0M1576 606h0M1474 585h0M1674 630h0M1685 866h0M1448 746h0M1516 749h0M1606 789h0M1460 601h0M1666 601h0M1573 626h0M1621 816h0M1465 893h0M1683 731h0M1604 723h0M1670 736h0M1638 814h0M1391 645h0M1621 718h0M1412 604h0M1657 734h0M1413 737h0M1588 599h0M1665 831h0M1674 743h0M1508 773h0M1459 640h0M1698 809h0M1441 828h0M1424 890h0M1648 757h0M1483 710h0M1542 804h0M1684 716h0M1577 681h0M1662 892h0M1673 833h0M1505 735h0M1388 828h0M1520 788h0M1435 860h0M1685 691h0M1465 651h0M1672 857h0M1477 840h0M1495 787h0M1400 632h0M1609 648h0M1608 841h0M1524 808h0M1476 850h0M1672 865h0M1428 675h0M1442 818h0M1644 885h0M1514 755h0M1611 673h0M1682 584h0M1429 702h0M1501 857h0M1557 752h0M1428 700h0M1505 662h0M1670 873h0M1662 891h0M1680 723h0M1555 811h0M1667 623h0M1626 605h0M1632 852h0M1685 600h0M1668 821h0M1535 817h0M1569 684h0M1441 606h0M1487 735h0M1636 631h0M1543 722h0M1641 826h0M1666 612h0M1582 886h0M1559 648h0M1388 774h0M1578 886h0M1434 799h0M1425 861h0M1479 703h0M1623 718h0M1460 713h0M1403 595h0M1638 623h0M1448 865h0M1602 625h0M1546 801h0M1468 624h0M1631 895h0M1628 721h0M1398 598h0M1477 645h0M1668 756h0M1431 760h0M1395 753h0M1431 728h0M1624 872h0M1401 659h0M1484 857h0M1557 811h0M1583 708h0M1474 887h0M1508 633h0M1655 621h0M1620 851h0M1397 746h0M1632 664h0M1646 745h0M1523 771h0M1427 626h0M1621 803h0M1513 745h0M1639 684h0M1611 768h0M1492 876h0M1697 775h0M1499 587h0M1650 833h0M1599 775h0M1593 715h0M1646 771h0M1519 645h0M1463 852h0M1391 640h0M1568 893h0M1617 793h0M1442 767h0M1436 643h0M1506 820h0M1689 891h0M1681 667h0M1691 702h0M1477 821h0M1477 881h0M1607 835h0M1460 809h0M1428 824h0M1407 858h0M1672 612h0M1695 794h0M1406 893h0M1586 750h0M1590 810h0M1667 638h0M1681 863h0M1652 629h0M1536 727h0M1483 643h0M1409 837h0M1411 629h0M1490 728h0M1601 774h0M1458 844h0M1446 859h0M1632 830h0M1514 676h0M1617 769h0M1481 862h0M1567 828h0M1642 728h0M1591 780h0M1408 757h0M1449 888h0M1492 833h0M1448 832h0M1425 622h0M1519 759h0M1395 671h0M1451 621h0M1456 777h0M1553 789h0M1689 585h0M1490 694h0M1688 716h0M1486 642h0M1622 854h0M1640 892h0M1481 691h0M1414 824h0M1619 742h0M1685 774h0M1473 805h0M1543 853h0M1560 835h0M1426 628h0M1442 605h0M1582 807h0M1588 643h0M1598 594h0M1464 729h0M1564 823h0M1677 862h0M1543 736h0M1574 840h0M1414 630h0M1550 691h0M1663 704h0M1460 847h0M1419 832h0M1696 798h0M1579 627h0M1549 660h0M1472 704h0M1464 799h0M1446 604h0M1412 609h0M1664 823h0M1570 676h0M1409 721h0M1453 606h0M1426 788h0M1506 698h0M1512 624h0M1538 674h0M1671 807h0M1616 664h0M1581 637h0M1574 753h0M1446 704h0M1696 763h0M1525 768h0M1393 793h0M1648 603h0M1602 821h0M1658 747h0M1651 671h0M1560 857h0M1468 779h0M1647 895h0M1589 785h0M1593 624h0M1499 718h0M1591 628h0M1409 826h0M1600 837h0M1679 744h0M1560 652h0M1611 664h0M1636 634h0M1438 697h0M1616 842h0M1490 786h0M1434 815h0M1470 795h0M1496 810h0M1570 607h0M1669 830h0M1507 624h0M1389 612h0M1598 627h0M1432 620h0M1392 620h0M1406 747h0M1531 684h0M1528 669h0M1441 784h0M1582 718h0M1474 708h0M1507 692h0M1670 650h0M1433 672h0M1454 846h0M1572 771h0M1416 758h0M1697 808h0M1637 814h0M1587 715h0M1460 842h0M1664 682h0M1457 833h0M1687 656h0M1618 674h0M1435 696h0M1541 738h0M1662 856h0M1651 858h0M1599 588h0M1449 782h0M1577 710h0M1499 759h0M1418 700h0M1609 588h0M1672 889h0M1459 759h0M1491 889h0M1530 618h0M1401 747h0M1516 863h0M1546 867h0M1390 805h0M1408 607h0M1497 868h0M1483 829h0M1487 854h0M1441 683h0M1537 719h0M1558 888h0M1627 594h0M1449 584h0M1607 797h0M1579 768h0M1556 750h0M1536 868h0M1655 772h0M1674 707h0M1559 696h0M1682 633h0M1498 836h0M1394 717h0M1407 810h0M1495 594h0M1672 640h0M1388 690h0M1676 828h0M1617 620h0M1510 868h0M1665 727h0M1412 792h0M1622 687h0M1661 674h0M1612 771h0M1487 817h0M1553 767h0M1411 667h0M1511 797h0M1543 861h0M1581 834h0M1453 700h0M1406 846h0M1478 865h0M1524 808h0M1548 682h0M1675 719h0M1599 784h0M1523 662h0M1631 679h0M1546 647h0M1477 860h0M1421 690h0M1677 660h0M1654 796h0M1545 785h0M1426 891h0M1659 805h0M1440 694h0M1414 771h0M1492 640h0M1552 723h0M1570 892h0M1666 714h0M1461 841h0M1532 627h0M1694 650h0M1447 875h0M1434 697h0M1568 888h0M1646 627h0M1556 683h0M1443 787h0M1505 720h0M1562 806h0M1665 646h0M1435 762h0M1549 866h0M1465 675h0M1526 870h0M1549 807h0M1649 665h0M1567 764h0M1494 727h0M1685 739h0M1445 755h0M1687 772h0M1475 739h0M1668 791h0M1614 766h0M1472 679h0M1441 868h0M1412 866h0M1652 763h0M1419 830h0M1535 863h0M1632 790h0M1410 624h0M1432 872h0M1595 852h0M1572 888h0M1435 834h0M1481 658h0M1622 726h0M1443 821h0M1512 891h0M1554 613h0M1538 693h0M1630 666h0M1395 717h0M1485 796h0M1677 587h0M1688 668h0M1626 692h0M1621 796h0M1424 781h0M1632 834h0M1620 709h0M1446 884h0M1548 732h0M1465 803h0M1482 879h0M1457 624h0M1522 892h0M1553 887h0M1618 678h0M1639 884h0M1614 642h0M1427 798h0M1536 691h0M1404 828h0M1448 865h0M1449 747h0M1695 634h0M1672 676h0M1409 780h0M1684 781h0M1429 870h0M1650 611h0M1572 676h0M1494 820h0M1396 718h0M1388 657h0M1530 857h0M1487 776h0M1461 606h0M1409 787h0M1416 860h0M1476 866h0M1541 669h0M1457 804h0M1671 689h0M1621 771h0M1679 652h0M1528 893h0M1618 659h0M1417 767h0M1602 650h0M1559 865h0M1605 729h0M1539 886h0M1604 818h0M1548 678h0M1628 645h0M1414 620h0M1471 586h0M1514 753h0M1650 645h0M1410 858h0M1531 830h0M1547 608h0M1620 668h0M1651 702h0M1501 888h0M1602 718h0M1403 827h0M1494 852h0M1495 852h0M1588 875h0M1389 732h0M1575 658h0M1634 632h0M1490 654h0M1633 769h0M1597 690h0M1450 807h0M1441 647h0M1575 788h0M1590 752h0M1534 840h0M1406 699h0M1536 811h0M1499 682h0M1555 622h0M1488 639h0M1467 643h0M1474 892h0M1610 681h0M1458 763h0M1495 674h0M1551 711h0M1689 666h0M1604 623h0M1444 868h0M1535 640h0M1593 691h0M1650 667h0M1446 760h0M1552 671h0M1675 851h0M1696 850h0M1466 609h0M1594 723h0M1463 719h0M1619 712h0M1439 846h0M1456 735h0M1676 878h0M1691 696h0M1675 664h0M1518 637h0M1568 603h0M1455 885h0M1503 685h0M1577 588h0M1517 651h0M1503 610h0M1648 774h0M1459 838h0M1452 718h0M1604 698h0M1634 636h0M1471 768h0M1397 798h0M1517 696h0M1469 871h0M1694 656h0M1567 714h0M1669 597h0M1592 819h0M1553 789h0M1422 828h0M1629 758h0M1494 737h0M1412 667h0M1562 870h0M1556 886h0M1514 620h0M1546 663h0M1694 837h0M1647 737h0M1548 679h0M1501 627h0M1453 707h0M1471 602h0M1693 895h0M1491 822h0M1524 774h0M1470 887h0M1596 753h0M1489 795h0M1390 632h0M1641 652h0M1628 776h0M1533 650h0M1515 689h0M1450 806h0M1656 617h0M1579 777h0M1577 733h0M1574 707h0M1495 802h0M1632 721h0M1690 790h0M1402 804h0M1574 667h0M1453 865h0M1444 887h0M1609 783h0M1394 867h0M1411 650h0M1461 749h0M1516 827h0M1660 585h0M1593 651h0M1618 811h0M1608 751h0M1495 751h0M1418 646h0M1665 677h0M1576 647h0M1625 670h0M1462 738h0M1621 882h0M1605 643h0M1392 701h0M1523 679h0M1440 869h0M1644 790h0M1505 741h0M1527 887h0M1603 821h0M1501 831h0M1692 865h0M1492 851h0M1446 799h0M1640 666h0M1578 818h0M1479 875h0M1536 747h0M1490 777h0M1615 884h0M1557 807h0M1598 754h0M1690 628h0M1645 591h0M1484 669h0M1410 727h0M1453 623h0M1673 869h0M1602 700h0M1567 822h0M1610 859h0M1394 877h0M1660 737h0M1420 773h0M1664 645h0M1501 863h0M1469 611h0M1442 738h0M1615 701h0M1435 664h0M1607 729h0M1576 719h0M1568 772h0M1629 806h0M1479 757h0M1691 751h0M1543 811h0M1425 876h0M1635 736h0M1497 864h0M1452 700h0M1559 752h0M1673 802h0M1696 762h0M1618 839h0M1642 651h0M1558 673h0M1572 753h0M1515 798h0M1619 740h0M1611 632h0M1425 805h0M1601 755h0M1470 726h0M1436 725h0M1633 743h0M1663 661h0M1652 708h0M1583 767h0M1465 734h0M1512 724h0M1581 814h0M1581 839h0M1609 812h0M1629 709h0M1542 875h0M1441 589h0M1698 613h0M1620 857h0M1398 619h0M1522 848h0M1597 597h0M1417 879h0M1550 709h0M1672 665h0M1560 757h0M1695 860h0M1523 703h0M1428 623h0M1612 644h0M1620 826h0M1432 834h0M1513 711h0M1567 841h0M1389 759h0M1580 890h0M1556 622h0M1574 810h0M1548 612h0M1428 755h0M1655 716h0M1656 684h0M1641 609h0M1600 834h0M1526 652h0M1592 605h0M1657 737h0M1605 723h0M1573 864h0M1622 707h0M1434 723h0M1472 644h0M1694 647h0M1468 855h0M1387 807h0M1532 609h0M1449 854h0M1610 615h0M1482 648h0M1401 791h0M1548 879h0M1414 765h0M1506 739h0M1484 800h0M1583 711h0M1548 828h0M1444 669h0M1497 734h0M1417 692h0M1436 639h0M1563 842h0M1432 677h0M1460 678h0M1649 600h0M1583 873h0M1456 803h0M1625 734h0M1415 828h0M1683 588h0M1469 833h0M1502 625h0M1448 736h0M1462 849h0M1451 768h0M1481 731h0M1484 641h0M1389 880h0M1404 690h0M1426 737h0M1444 688h0M1527 745h0M1480 632h0M1505 729h0M1508 876h0M1403 603h0M1696 785h0M1495 595h0M1446 790h0M1610 874h0M1392 654h0M1584 606h0M1640 733h0M1504 692h0M1527 613h0M1682 882h0M1539 781h0M1577 613h0M1634 822h0M1424 740h0M1427 682h0M1610 845h0M1552 724h0M1659 600h0M1589 626h0M1583 789h0M1508 607h0M1585 775h0M1665 833h0M1560 641h0M1568 739h0M1558 688h0M1545 589h0M1689 656h0M1666 727h0M1634 732h0M1621 598h0M1653 623h0M1555 706h0M1572 687h0M1428 610h0M1446 706h0M1601 603h0M1437 761h0M1444 700h0M1576 628h0M1414 754h0M1610 847h0M1642 719h0M1489 785h0M1618 744h0M1497 758h0M1399 698h0M1657 692h0M1492 854h0M1475 764h0M1425 652h0M1405 844h0M1388 877h0M1625 827h0M1594 716h0M1616 702h0M1577 689h0M1594 781h0M1435 738h0M1562 815h0M1665 707h0M1696 693h0M1405 783h0M1622 874h0M1633 595h0M1648 889h0M1569 687h0M1442 859h0M1631 692h0M1401 712h0M1390 591h0M1668 717h0M1625 701h0M1643 702h0M1661 828h0M1540 729h0M1467 742h0M1604 805h0M1642 723h0M1676 734h0M1553 705h0M1617 729h0M1528 780h0M1600 793h0M1650 869h0M1525 665h0M1388 637h0M1619 609h0M1634 667h0M1597 642h0M1609 709h0M1589 588h0M1618 856h0M1695 642h0M1670 838h0M1528 597h0M1453 772h0M1555 639h0M1506 731h0M1434 620h0M1428 607h0M1573 672h0M1477 850h0M1417 678h0M1537 793h0M1611 777h0M1670 809h0M1435 804h0M1685 848h0M1630 661h0M1433 783h0M1530 782h0M1472 643h0M1390 594h0M1606 706h0M1569 586h0M1580 806h0M1620 880h0M1391 810h0M1547 744h0M1587 754h0M1577 846h0M1613 857h0M1489 649h0M1402 654h0M1471 769h0M1574 737h0M1548 884h0M1424 814h0M1606 862h0M1631 678h0M1609 645h0M1518 784h0M1609 615h0M1495 868h0M1541 657h0M1546 848h0M1509 652h0M1578 704h0M1459 744h0M1481 893h0M1497 758h0M1666 592h0M1445 653h0M1478 729h0M1430 694h0M1493 682h0M1646 737h0M1685 625h0M1677 860h0M1559 718h0M1447 861h0M1524 718h0M1585 787h0M1694 697h0M1447 657h0M1391 843h0M1400 740h0M1570 683h0M1501 761h0M1466 639h0M1650 822h0M1641 674h0M1444 695h0M1608 638h0M1520 617h0M1612 647h0M1413 774h0M1479 738h0M1465 808h0M1678 683h0M1592 628h0M1513 701h0M1497 764h0M1403 644h0M1552 829h0M1463 828h0M1539 840h0M1557 697h0M1500 846h0M1409 774h0M1570 591h0M1462 766h0M1485 760h0M1654 738h0M1539 791h0M1468 632h0M1651 765h0M1563 865h0M1476 667h0M1632 663h0M1463 587h0M1668 891h0M1695 622h0M1589 795h0M1537 606h0M1647 791h0M1584 626h0M1466 613h0M1665 652h0M1502 764h0M1403 596h0M1563 682h0M1503 596h0M1488 832h0M1443 691h0M1429 831h0M1621 651h0M1659 693h0M1477 823h0M1399 610h0M1472 869h0M1502 632h0M1696 778h0M1481 773h0M1509 706h0M1631 786h0M1567 611h0M1569 711h0M1485 597h0M1565 592h0M1488 771h0M1430 869h0M1566 860h0M1666 734h0M1570 788h0M1406 862h0M1649 827h0M1480 869h0M1498 819h0M1529 804h0M1499 780h0M1685 641h0M1524 619h0M1613 751h0M1523 649h0M1493 840h0M1506 812h0M1539 691h0M1473 727h0M1458 764h0M1696 650h0M1626 818h0M1580 861h0M1538 653h0M1446 685h0M1685 599h0M1492 691h0M1654 652h0M1484 768h0M1393 765h0M1607 760h0M1490 841h0M1607 761h0M1647 620h0M1428 887h0M1669 791h0M1400 671h0M1407 866h0M1402 590h0M1442 816h0M1576 628h0M1690 626h0M1398 879h0M1463 673h0M1461 606h0M1519 848h0M1446 673h0M1652 697h0M1663 636h0M1552 789h0M1518 635h0M1604 628h0M1500 855h0M1639 660h0M1565 610h0M1521 710h0M1628 854h0M1455 813h0M1564 856h0M1451 735h0M1577 585h0M1590 607h0M1453 681h0M1629 664h0M1575 759h0M1562 871h0M1546 658h0M1612 758h0M1523 634h0M1451 595h0M1631 762h0M1635 656h0M1429 725h0M1422 659h0M1665 615h0M1640 637h0M1692 665h0M1494 828h0M1603 804h0M1626 692h0M1687 817h0M1512 659h0M1688 815h0M1463 861h0M1586 722h0M1598 847h0M1609 857h0M1669 648h0M1494 881h0M1557 622h0M1420 704h0M1679 880h0M1598 796h0M1580 715h0M1651 614h0M1491 624h0M1403 643h0M1663 763h0M1562 621h0M1610 703h0M1696 601h0M1531 587h0M1507 627h0M1466 607h0M1422 614h0M1508 601h0M1534 586h0M1405 598h0M1406 797h0M1635 777h0M1579 664h0M1626 806h0M1667 733h0M1687 753h0M1438 814h0M1580 889h0M1488 812h0M1526 860h0M1451 820h0M1422 652h0M1635 784h0M1434 893h0M1408 763h0M1500 627h0M1403 738h0M1442 820h0M1693 887h0M1422 852h0M1669 627h0M1488 764h0M1533 691h0M1609 831h0M1647 710h0M1480 668h0M1566 762h0M1632 776h0M1441 597h0M1633 679h0M1425 640h0M1577 852h0M1648 887h0M1578 874h0M1607 686h0M1610 696h0M1528 730h0M1558 847h0M1618 675h0M1464 629h0M1599 681h0M1613 782h0M1438 712h0M1674 646h0M1633 834h0M1595 741h0M1396 666h0M1594 587h0M1541 678h0M1404 642h0M1499 715h0M1599 780h0M1458 609h0M1440 689h0M1447 848h0M1445 761h0M1628 748h0M1490 716h0M1439 850h0M1466 772h0M1502 633h0M1430 685h0M1582 598h0M1405 830h0M1474 741h0M1637 742h0M1556 848h0M1572 792h0M1502 852h0M1617 660h0M1602 760h0M1684 690h0M1664 888h0M1578 813h0M1611 830h0M1686 725h0M1576 625h0M1436 718h0M1516 598h0M1460 646h0M1568 831h0M1532 731h0M1576 663h0M1417 855h0M1619 855h0M1597 776h0M1483 647h0M1514 606h0M1399 846h0M1521 602h0M1562 789h0M1643 596h0M1634 851h0M1493 886h0M1538 784h0M1539 683h0M1604 878h0M1468 636h0M1434 743h0M1417 733h0M1416 799h0M1479 808h0M1598 598h0M1691 773h0M1476 609h0M1606 594h0M1695 817h0M1556 738h0M1566 585h0M1644 651h0M1446 622h0M1450 718h0M1531 793h0M1486 678h0M1542 857h0M1615 773h0M1426 872h0M1694 838h0M1404 817h0M1398 713h0M1445 641h0M1450 856h0M1525 692h0M1402 838h0M1439 785h0M1453 880h0M1557 876h0M1417 617h0M1523 777h0M1605 848h0M1393 763h0M1638 850h0M1431 779h0M1525 687h0M1659 646h0M1686 761h0M1390 797h0M1485 872h0M1639 822h0M1547 726h0M1589 789h0M1642 680h0M1458 638h0M1422 826h0M1555 778h0M1439 636h0M1611 690h0M1547 854h0M1590 829h0M1393 768h0M1611 655h0M1655 695h0M1585 814h0M1684 881h0M1447 769h0M1447 773h0M1582 671h0M1498 685h0M1571 878h0M1540 849h0M1669 747h0M1433 585h0M1640 824h0M1491 639h0M1422 748h0M1526 683h0M1529 879h0M1546 743h0M1397 893h0M1518 675h0M1587 885h0M1454 623h0M1615 853h0M1569 771h0M1445 773h0M1482 683h0M1497 821h0M1608 802h0M1624 669h0M1403 736h0M1540 605h0M1602 713h0M1423 816h0M1402 765h0M1614 724h0M1529 677h0M1477 597h0M1685 662h0M1531 698h0M1419 733h0M1568 866h0M1461 698h0M1404 866h0M1667 889h0M1579 854h0M1662 588h0M1433 731h0M1608 637h0M1388 783h0M1560 771h0M1605 746h0M1543 677h0M1652 782h0M1636 770h0M1554 687h0M1425 589h0M1610 838h0M1592 815h0M1687 878h0M1497 867h0M1665 600h0M1392 857h0M1460 887h0M1448 615h0M1648 776h0M1504 683h0M1401 753h0M1625 733h0M1510 865h0M1450 792h0M1692 680h0M1534 709h0M1602 739h0M1601 749h0M1636 746h0M1595 640h0M1642 817h0M1452 782h0M1582 656h0M1474 688h0M1430 819h0M1516 842h0M1651 698h0M1498 887h0M1665 730h0M1581 666h0M1641 624h0M1566 728h0M1447 670h0M1419 626h0M1393 600h0M1618 881h0M1405 691h0M1423 626h0M1682 697h0M1437 769h0M1623 719h0M1672 617h0M1506 876h0M1582 855h0M1602 700h0M1642 597h0M1690 680h0M1531 808h0M1682 605h0M1455 602h0M1640 872h0M1571 849h0M1510 816h0M1401 893h0M1629 815h0M1450 818h0M1499 820h0M1525 615h0M1647 787h0M1591 844h0M1681 828h0M1446 694h0M1599 745h0M1530 872h0M1398 808h0M1677 858h0M1446 852h0M1690 653h0M1583 689h0M1414 758h0M1400 847h0M1573 617h0M1455 687h0M1613 762h0M1502 607h0M1545 694h0M1407 630h0M1627 641h0M1470 772h0M1472 818h0M1685 691h0M1667 776h0M1456 610h0M1507 614h0M1646 740h0M1473 750h0M1435 866h0M1446 593h0M1545 642h0M1684 885h0M1581 642h0M1590 723h0M1583 778h0M1477 837h0M1465 699h0M1669 650h0M1406 665h0M1461 680h0M1650 642h0M1449 686h0M1463 591h0M1692 760h0M1494 765h0M1686 765h0M1534 650h0M1410 885h0M1490 704h0M1481 635h0M1476 873h0M1652 648h0M1604 702h0M1460 793h0M1641 739h0M1695 789h0M1616 867h0M1561 788h0M1478 659h0M1393 784h0M1533 764h0M1396 807h0M1663 685h0M1620 605h0M1411 853h0M1572 799h0M1628 647h0M1674 880h0M1435 785h0M1414 585h0M1527 665h0M1584 681h0M1396 618h0M1522 716h0M1643 741h0M1687 813h0M1654 761h0M1419 800h0M1659 695h0M1679 863h0M1425 893h0M1520 881h0M1425 656h0M1633 843h0M1441 811h0M1689 844h0M1565 859h0M1428 656h0M1572 731h0M1416 859h0M1468 793h0M1656 799h0M1581 600h0M1563 712h0M1466 685h0M1688 838h0M1657 696h0M1531 692h0M1493 668h0M1484 685h0M1480 762h0M1516 654h0M1693 891h0M1607 858h0M1585 799h0M1427 732h0M1631 852h0M1489 888h0M1643 773h0M1455 809h0M1613 803h0M1455 870h0M1576 676h0M1393 722h0M1578 603h0M1593 845h0M1665 738h0M1573 628h0M1698 847h0M1390 861h0M1403 825h0M1430 746h0M1580 776h0M1387 643h0M1427 663h0M1490 860h0M1394 626h0M1647 685h0M1657 792h0M1488 781h0M1408 792h0M1532 592h0M1606 851h0M1467 789h0M1443 749h0M1445 823h0M1460 816h0M1566 892h0M1486 848h0M1429 863h0M1530 720h0M1644 818h0M1617 790h0M1670 762h0M1652 690h0M1397 808h0M1551 881h0M1552 724h0M1596 638h0M1667 669h0M1521 620h0M1561 843h0M1433 669h0M1537 858h0M1636 806h0M1430 817h0M1457 620h0M1593 767h0M1560 741h0M1548 794h0M1659 783h0M1585 594h0M1462 628h0M1511 854h0M1625 720h0M1509 855h0M1662 806h0M1399 738h0M1513 593h0M1588 850h0M1552 613h0M1649 594h0M1551 622h0M1456 643h0M1546 585h0M1411 633h0M1477 592h0M1555 673h0M1514 730h0M1541 619h0M1676 656h0M1566 679h0M1473 723h0M1477 675h0M1597 870h0M1637 802h0M1493 640h0M1411 794h0M1420 590h0M1475 594h0M1692 810h0M1570 745h0M1429 783h0M1486 889h0M1547 817h0M1538 636h0M1572 638h0M1679 799h0M1471 626h0M1558 655h0M1505 644h0M1420 843h0M1605 748h0M1574 797h0M1451 790h0M1505 711h0M1633 605h0M1558 697h0" stroke="#121e76" stroke-width="2.8" stroke-linecap="round" stroke-opacity="1" fill="none"/><path d="M1662 692h0M1422 595h0M1672 610h0M1578 647h0M1689 633h0M1554 629h0M1467 874h0M1456 763h0M1647 759h0M1605 688h0M1636 812h0M1645 790h0M1392 861h0M1675 612h0M1661 769h0M1596 654h0M1489 635h0M1619 593h0M1516 737h0M1661 821h0M1658 722h0M1539 848h0M1644 858h0M1571 679h0M1418 884h0M1537 595h0M1419 674h0M1396 650h0M1521 745h0M1539 670h0M1418 753h0M1528 661h0M1406 614h0M1637 849h0M1679 701h0M1623 712h0M1415 696h0M1464 763h0M1603 805h0M1399 738h0M1510 808h0M1614 792h0M1459 832h0M1657 608h0M1466 699h0M1673 637h0M1601 764h0M1414 604h0M1687 723h0M1616 810h0M1437 723h0M1697 646h0M1638 893h0M1512 787h0M1606 604h0M1429 861h0M1569 638h0M1406 760h0M1414 657h0M1635 735h0M1488 889h0M1440 734h0M1465 701h0M1614 766h0M1469 612h0M1512 846h0M1463 809h0M1420 619h0M1435 602h0M1563 651h0M1393 750h0M1469 767h0M1649 827h0M1454 713h0M1572 616h0M1627 661h0M1636 745h0M1550 837h0M1449 886h0M1459 680h0M1580 641h0M1561 610h0M1697 684h0M1685 696h0M1563 675h0M1611 715h0M1564 894h0M1491 731h0M1395 614h0M1574 618h0M1457 656h0M1405 895h0M1613 801h0M1584 679h0M1467 769h0M1616 858h0M1660 703h0M1591 871h0M1512 764h0M1689 800h0M1482 767h0M1605 795h0M1536 729h0M1630 593h0M1652 693h0M1531 797h0M1390 890h0M1651 721h0M1388 803h0M1563 820h0M1472 774h0M1547 642h0M1457 667h0M1669 695h0M1440 735h0M1631 830h0M1593 862h0M1498 749h0M1595 730h0M1471 639h0M1696 632h0M1386 747h0M1647 592h0M1681 704h0M1615 835h0M1439 816h0M1612 781h0M1546 815h0M1504 742h0M1696 788h0M1481 861h0M1632 743h0M1625 714h0M1441 784h0M1629 839h0M1540 871h0M1622 813h0M1674 721h0M1636 769h0M1542 661h0M1427 641h0M1553 802h0M1522 888h0M1437 774h0M1487 605h0M1558 731h0M1500 869h0M1391 805h0M1579 669h0M1501 595h0M1520 763h0M1391 817h0M1563 611h0M1569 763h0M1668 590h0M1430 755h0M1601 604h0M1432 645h0M1565 613h0M1398 597h0M1446 874h0M1488 887h0M1546 771h0M1653 890h0M1404 838h0M1667 651h0M1653 701h0M1622 890h0M1426 633h0M1619 847h0M1386 845h0M1508 639h0M1387 665h0M1548 763h0M1485 709h0M1450 713h0M1592 662h0M1389 608h0M1395 846h0M1685 653h0M1575 799h0M1640 767h0M1578 802h0M1684 799h0M1421 630h0M1620 786h0M1424 852h0M1695 626h0M1659 892h0M1474 799h0M1451 731h0M1458 855h0M1413 828h0M1642 697h0M1684 685h0M1466 602h0M1420 827h0M1508 743h0M1419 799h0M1577 734h0M1680 648h0M1427 640h0M1424 621h0M1641 745h0M1631 591h0M1472 779h0M1610 763h0M1515 728h0M1681 842h0M1656 842h0M1415 822h0M1559 803h0M1470 895h0M1527 702h0M1485 710h0M1461 788h0M1506 791h0M1472 595h0M1509 661h0M1669 838h0M1573 827h0M1648 609h0M1606 720h0M1425 623h0M1531 630h0M1636 790h0M1694 672h0M1626 629h0M1482 841h0M1569 709h0M1623 753h0M1653 731h0M1422 803h0M1583 769h0M1491 820h0M1445 589h0M1404 718h0M1577 837h0M1635 704h0M1622 822h0M1580 850h0M1569 673h0M1480 762h0M1677 802h0M1620 833h0M1665 734h0M1419 591h0M1396 684h0M1410 607h0M1486 809h0M1608 697h0M1421 825h0M1579 588h0M1602 743h0M1554 813h0M1543 709h0M1587 615h0M1609 677h0M1563 720h0M1392 863h0M1590 888h0M1391 747h0M1423 854h0M1485 669h0M1418 732h0M1444 831h0M1671 590h0M1567 764h0M1400 645h0M1398 665h0M1405 682h0M1526 738h0M1576 700h0M1609 875h0M1399 698h0M1544 642h0M1607 794h0M1636 622h0M1672 768h0M1519 878h0M1501 671h0M1467 729h0M1584 595h0M1685 818h0M1582 608h0M1520 656h0M1495 818h0M1624 758h0M1601 887h0M1434 785h0M1477 619h0M1421 796h0M1542 886h0M1614 670h0M1576 845h0M1512 608h0M1665 780h0M1651 699h0M1557 823h0M1552 629h0M1592 641h0M1470 820h0M1613 599h0M1534 718h0M1405 863h0M1487 670h0M1440 759h0M1558 844h0M1496 836h0M1404 886h0M1546 745h0M1485 707h0M1532 659h0M1414 818h0M1635 649h0M1647 706h0M1439 808h0M1428 888h0M1693 629h0M1661 602h0M1460 609h0M1506 737h0M1518 620h0M1608 625h0M1493 609h0M1465 656h0M1530 745h0M1447 730h0M1611 817h0M1517 784h0M1611 884h0M1616 822h0M1667 883h0M1622 769h0M1595 664h0M1454 688h0M1640 856h0M1681 667h0M1471 751h0M1470 835h0M1648 692h0M1495 752h0M1597 778h0M1547 646h0M1618 694h0M1609 701h0M1521 670h0M1643 715h0M1445 844h0M1392 868h0M1496 805h0M1664 760h0M1510 670h0M1618 721h0M1607 618h0M1589 772h0M1672 749h0M1627 767h0M1679 750h0M1526 881h0M1577 652h0M1541 751h0M1681 881h0M1427 633h0M1461 895h0M1477 723h0M1662 697h0M1414 638h0M1576 712h0M1463 736h0M1453 640h0M1569 888h0M1445 741h0M1534 691h0M1662 772h0M1522 728h0M1520 891h0M1538 812h0M1507 687h0M1489 764h0M1411 720h0M1485 781h0M1652 646h0M1410 736h0M1431 752h0M1552 737h0M1452 732h0M1642 699h0M1472 861h0M1662 851h0M1598 737h0M1507 836h0M1489 798h0M1654 768h0M1579 616h0M1625 848h0M1448 827h0M1553 610h0M1450 664h0M1666 650h0M1630 815h0M1415 725h0M1566 775h0M1650 746h0M1637 758h0M1645 702h0M1680 626h0M1516 714h0M1603 706h0M1534 606h0M1475 841h0M1616 635h0M1513 791h0M1658 692h0M1540 887h0M1389 708h0M1520 686h0M1638 633h0M1490 612h0M1393 895h0M1414 707h0M1632 757h0M1537 774h0M1516 885h0M1652 792h0M1552 703h0M1512 635h0M1411 779h0M1684 770h0M1543 639h0M1558 624h0M1671 710h0M1481 812h0M1451 866h0M1689 836h0M1690 680h0M1688 652h0M1402 690h0M1511 600h0M1427 765h0M1583 784h0M1677 658h0M1665 692h0M1676 787h0M1394 650h0M1437 590h0M1684 762h0M1475 682h0M1684 752h0M1627 621h0M1489 781h0M1696 845h0M1617 589h0M1669 639h0M1645 638h0M1556 789h0M1465 872h0M1392 683h0M1409 635h0M1649 766h0M1693 764h0M1512 616h0M1434 800h0M1574 688h0M1617 879h0M1534 698h0M1519 655h0M1658 708h0M1485 690h0M1672 694h0M1684 799h0M1679 684h0M1495 651h0M1490 663h0M1598 832h0M1519 834h0M1643 799h0M1459 884h0M1568 761h0M1652 587h0M1517 812h0M1585 809h0M1601 828h0M1619 612h0M1452 753h0M1550 697h0M1505 836h0M1691 785h0M1475 794h0M1487 626h0M1652 785h0M1693 869h0M1589 800h0M1455 691h0M1692 813h0M1636 833h0M1583 819h0M1600 591h0M1613 867h0M1638 671h0M1408 620h0M1638 654h0M1591 776h0M1561 806h0M1678 726h0M1514 681h0M1648 718h0M1428 891h0M1541 607h0M1492 797h0M1460 878h0M1429 634h0M1479 635h0M1434 755h0M1406 697h0M1556 848h0M1611 614h0M1697 760h0M1519 813h0M1674 655h0M1695 788h0M1487 763h0M1593 710h0M1627 816h0M1627 836h0M1458 776h0M1560 673h0M1555 772h0M1503 637h0M1679 714h0M1574 703h0M1422 816h0M1674 875h0M1507 593h0M1490 840h0M1420 662h0M1391 603h0M1456 782h0M1602 707h0M1696 725h0M1546 719h0M1389 602h0M1523 600h0M1615 689h0M1390 783h0M1405 611h0M1503 616h0M1636 747h0M1524 681h0M1598 591h0M1634 777h0M1402 731h0M1422 806h0M1521 714h0M1535 626h0M1594 735h0M1684 879h0M1545 735h0M1411 824h0M1558 738h0M1609 642h0M1692 877h0M1682 761h0M1453 689h0M1543 676h0M1495 819h0M1509 865h0M1533 894h0M1425 653h0M1537 773h0M1508 812h0M1616 761h0M1671 780h0M1403 652h0M1469 881h0M1645 710h0M1663 753h0M1676 670h0M1510 745h0M1641 671h0M1689 872h0M1411 647h0M1428 708h0M1406 768h0M1414 691h0M1667 863h0M1625 891h0M1483 634h0M1463 660h0M1478 752h0M1619 601h0M1582 760h0M1392 743h0M1642 622h0M1653 773h0M1462 602h0M1604 880h0M1539 882h0M1410 763h0M1491 867h0" stroke="#1e30ac" stroke-width="2.6" stroke-linecap="round" stroke-opacity="1" fill="none"/></g>
<rect x="69" y="587.2" width="49.6" height="18.2" rx="3" fill="#fff"/>
<text x="93.8" y="600.4" font-size="11" font-family="'Liberation Sans',Arial,sans-serif" font-weight="bold" fill="#555" text-anchor="middle">HAADF</text>
<rect x="397.5" y="586.8" width="22" height="19" rx="3" fill="#f00"/>
<text x="408.5" y="600.8" font-size="13" font-family="'Liberation Sans',Arial,sans-serif" font-weight="bold" fill="#fff" text-anchor="middle">C</text>
<rect x="421" y="586.8" width="22" height="19" rx="3" fill="#0f0"/>
<text x="432" y="600.8" font-size="13" font-family="'Liberation Sans',Arial,sans-serif" font-weight="bold" fill="#fff" text-anchor="middle">N</text>
<rect x="444.5" y="586.8" width="22" height="19" rx="3" fill="#ff0"/>
<text x="455.5" y="600.8" font-size="13" font-family="'Liberation Sans',Arial,sans-serif" font-weight="bold" fill="#fff" text-anchor="middle">O</text>
<rect x="468" y="586.8" width="22" height="19" rx="3" fill="#22f"/>
<text x="479" y="600.8" font-size="13" font-family="'Liberation Sans',Arial,sans-serif" font-weight="bold" fill="#fff" text-anchor="middle">S</text>
<rect x="491.5" y="586.8" width="26" height="19" rx="3" fill="#0ff"/>
<text x="504.5" y="600.8" font-size="13" font-family="'Liberation Sans',Arial,sans-serif" font-weight="bold" fill="#fff" text-anchor="middle">Mn</text>
<rect x="732" y="586.7" width="21.7" height="18.5" rx="3" fill="#f00"/>
<text x="742.9" y="600.2" font-size="13" font-family="'Liberation Sans',Arial,sans-serif" font-weight="bold" fill="#fff" text-anchor="middle">C</text>
<rect x="1059.3" y="586.7" width="27" height="18.5" rx="3" fill="#1dd"/>
<text x="1072.8" y="600.2" font-size="13" font-family="'Liberation Sans',Arial,sans-serif" font-weight="bold" fill="#fff" text-anchor="middle">Mn</text>
<rect x="1389" y="586.7" width="22" height="18.5" rx="3" fill="#23f"/>
<text x="1400" y="600.2" font-size="13" font-family="'Liberation Sans',Arial,sans-serif" font-weight="bold" fill="#fff" text-anchor="middle">S</text>
<text x="69" y="883.2" font-size="15.5" font-weight="bold" font-family="'Liberation Sans',Arial,sans-serif" fill="#ddd" stroke="#111" stroke-width="1" paint-order="stroke">200 nm</text>
<line x1="69.5" y1="890.3" x2="126.5" y2="890.3" stroke="#ccc" stroke-width="2.2"/>
<text x="397.5" y="883.2" font-size="15.5" font-weight="bold" font-family="'Liberation Sans',Arial,sans-serif" fill="#ddd" stroke="#111" stroke-width="1" paint-order="stroke">200 nm</text>
<line x1="398" y1="890.3" x2="455" y2="890.3" stroke="#ccc" stroke-width="2.2"/>
<text x="731.8" y="883.2" font-size="15.5" font-weight="bold" font-family="'Liberation Sans',Arial,sans-serif" fill="#ddd" stroke="#111" stroke-width="1" paint-order="stroke">200 nm</text>
<line x1="732.3" y1="890.3" x2="789.3" y2="890.3" stroke="#ccc" stroke-width="2.2"/>
<text x="1058.8" y="883.2" font-size="15.5" font-weight="bold" font-family="'Liberation Sans',Arial,sans-serif" fill="#ddd" stroke="#111" stroke-width="1" paint-order="stroke">200 nm</text>
<line x1="1059.3" y1="890.3" x2="1116.3" y2="890.3" stroke="#ccc" stroke-width="2.2"/>
<text x="1388.7" y="883.2" font-size="15.5" font-weight="bold" font-family="'Liberation Sans',Arial,sans-serif" fill="#ddd" stroke="#111" stroke-width="1" paint-order="stroke">200 nm</text>
<line x1="1389.2" y1="890.3" x2="1446.2" y2="890.3" stroke="#ccc" stroke-width="2.2"/>
<rect x="1289.7" y="71.8" width="136.5" height="63.9" fill="#000" stroke="none" stroke-width="0"/>
<line x1="1324" y1="137.6" x2="1391.3" y2="137.6" stroke="#333" stroke-width="3"/>
<rect x="1497" y="71.8" width="134.4" height="254.7" fill="#c06000" stroke="#000" stroke-width="3"/>
<line x1="1564.3" y1="326.5" x2="1564.3" y2="383.5" stroke="#333" stroke-width="2.6"/>
<line x1="1530" y1="383.5" x2="1598.3" y2="383.5" stroke="#333" stroke-width="2.6"/>
<rect x="1220.5" y="71.8" width="481.5" height="387.4" fill="none" stroke="#000" stroke-width="3"/>
<line x1="1209.5" y1="71.8" x2="1220.5" y2="71.8" stroke="#000" stroke-width="3"/>
<text x="1207" y="84.1" font-size="34" font-weight="bold" fill="#000" text-anchor="end" font-family="'Liberation Serif','Times New Roman',serif">0</text>
<line x1="1209.5" y1="168.7" x2="1220.5" y2="168.7" stroke="#000" stroke-width="3"/>
<text x="1207" y="181" font-size="34" font-weight="bold" fill="#000" text-anchor="end" font-family="'Liberation Serif','Times New Roman',serif">-5</text>
<line x1="1209.5" y1="265.5" x2="1220.5" y2="265.5" stroke="#000" stroke-width="3"/>
<text x="1207" y="277.8" font-size="34" font-weight="bold" fill="#000" text-anchor="end" font-family="'Liberation Serif','Times New Roman',serif">-10</text>
<line x1="1209.5" y1="362.4" x2="1220.5" y2="362.4" stroke="#000" stroke-width="3"/>
<text x="1207" y="374.7" font-size="34" font-weight="bold" fill="#000" text-anchor="end" font-family="'Liberation Serif','Times New Roman',serif">-15</text>
<line x1="1209.5" y1="459.2" x2="1220.5" y2="459.2" stroke="#000" stroke-width="3"/>
<text x="1207" y="471.5" font-size="34" font-weight="bold" fill="#000" text-anchor="end" font-family="'Liberation Serif','Times New Roman',serif">-20</text>
<line x1="1357.8" y1="459.2" x2="1357.8" y2="470.8" stroke="#000" stroke-width="3"/>
<line x1="1564.3" y1="459.2" x2="1564.3" y2="470.8" stroke="#000" stroke-width="3"/>
<text x="1357.6" y="503.7" font-size="34" font-weight="bold" fill="#000" text-anchor="middle" font-family="'Liberation Serif','Times New Roman',serif">CAT</text>
<text x="1564.3" y="503.7" font-size="34" font-weight="bold" fill="#000" text-anchor="middle" font-family="'Liberation Serif','Times New Roman',serif">CAT@MnS</text>
<text x="0" y="0" font-size="36.6" font-weight="bold" font-family="'Liberation Serif','Times New Roman',serif" text-anchor="middle" transform="translate(1144.9,258.3) rotate(-90)">Zeta (mV)</text>
<line x1="153.4" y1="1516.7" x2="153.4" y2="1521.7" stroke="#000" stroke-width="2.4"/>
<line x1="202.1" y1="1516.7" x2="202.1" y2="1526.2" stroke="#000" stroke-width="2.4"/>
<text x="202.1" y="1556" font-size="27" font-weight="bold" fill="#000" text-anchor="middle" font-family="'Liberation Serif','Times New Roman',serif">10</text>
<line x1="250.8" y1="1516.7" x2="250.8" y2="1521.7" stroke="#000" stroke-width="2.4"/>
<line x1="299.5" y1="1516.7" x2="299.5" y2="1526.2" stroke="#000" stroke-width="2.4"/>
<text x="299.5" y="1556" font-size="27" font-weight="bold" fill="#000" text-anchor="middle" font-family="'Liberation Serif','Times New Roman',serif">20</text>
<line x1="348.2" y1="1516.7" x2="348.2" y2="1521.7" stroke="#000" stroke-width="2.4"/>
<line x1="396.9" y1="1516.7" x2="396.9" y2="1526.2" stroke="#000" stroke-width="2.4"/>
<text x="396.9" y="1556" font-size="27" font-weight="bold" fill="#000" text-anchor="middle" font-family="'Liberation Serif','Times New Roman',serif">30</text>
<line x1="445.6" y1="1516.7" x2="445.6" y2="1521.7" stroke="#000" stroke-width="2.4"/>
<line x1="494.3" y1="1516.7" x2="494.3" y2="1526.2" stroke="#000" stroke-width="2.4"/>
<text x="494.3" y="1556" font-size="27" font-weight="bold" fill="#000" text-anchor="middle" font-family="'Liberation Serif','Times New Roman',serif">40</text>
<line x1="543" y1="1516.7" x2="543" y2="1521.7" stroke="#000" stroke-width="2.4"/>
<line x1="591.7" y1="1516.7" x2="591.7" y2="1526.2" stroke="#000" stroke-width="2.4"/>
<text x="591.7" y="1556" font-size="27" font-weight="bold" fill="#000" text-anchor="middle" font-family="'Liberation Serif','Times New Roman',serif">50</text>
<line x1="640.4" y1="1516.7" x2="640.4" y2="1521.7" stroke="#000" stroke-width="2.4"/>
<line x1="689.1" y1="1516.7" x2="689.1" y2="1526.2" stroke="#000" stroke-width="2.4"/>
<text x="689.1" y="1556" font-size="27" font-weight="bold" fill="#000" text-anchor="middle" font-family="'Liberation Serif','Times New Roman',serif">60</text>
<line x1="737.8" y1="1516.7" x2="737.8" y2="1521.7" stroke="#000" stroke-width="2.4"/>
<line x1="786.5" y1="1516.7" x2="786.5" y2="1526.2" stroke="#000" stroke-width="2.4"/>
<text x="786.5" y="1556" font-size="27" font-weight="bold" fill="#000" text-anchor="middle" font-family="'Liberation Serif','Times New Roman',serif">70</text>
<line x1="835.2" y1="1516.7" x2="835.2" y2="1521.7" stroke="#000" stroke-width="2.4"/>
<line x1="883.9" y1="1516.7" x2="883.9" y2="1526.2" stroke="#000" stroke-width="2.4"/>
<text x="883.9" y="1556" font-size="27" font-weight="bold" fill="#000" text-anchor="middle" font-family="'Liberation Serif','Times New Roman',serif">80</text>
<text x="429.5" y="1603.2" font-size="32.5" font-weight="bold" fill="#000" text-anchor="start" font-family="'Liberation Serif','Times New Roman',serif">2 Theta</text>
<text x="548.8" y="1601.6" font-size="30.5" font-family="'Liberation Serif','Times New Roman',serif">(</text>
<text x="559.3" y="1590.5" font-size="19.5" font-weight="bold" font-family="'Liberation Serif','Times New Roman',serif">O</text>
<text x="574.2" y="1601.6" font-size="30.5" font-family="'Liberation Serif','Times New Roman',serif">)</text>
<text x="0" y="0" font-size="32.8" font-weight="bold" font-family="'Liberation Serif','Times New Roman',serif" text-anchor="middle" transform="translate(111.2,1243.4) rotate(-90)">Intensity (a.u.)</text>
<path d="M154.2,1367.5L155,1370.3L155.8,1373.4L156.6,1374L157.4,1377.1L158.2,1381.1L159,1381.6L159.8,1384.1L160.6,1387.5L161.4,1389L162.2,1388L163,1389.8L163.8,1389.7L164.6,1391.7L165.4,1393.9L166.2,1394L167,1396.9L167.8,1396L168.6,1396.2L169.4,1398.1L170.2,1398.7L171,1398.6L171.8,1400.2L172.6,1401.2L173.4,1399L174.2,1405.5L175,1404.9L175.8,1402L176.6,1406.6L177.4,1402.8L178.2,1404.8L179,1400.7L179.8,1403.1L180.6,1403.3L181.4,1399.3L182.2,1403.9L183,1399.4L183.8,1400.4L184.6,1401.8L185.4,1403.6L186.2,1400.9L187,1398.8L187.8,1402.5L188.6,1401.1L189.4,1403.4L190.2,1402L191,1403.9L191.8,1401.5L192.6,1404.8L193.4,1406.4L194.2,1400.4L195,1404.5L195.8,1406.3L196.6,1406L197.4,1409.4L198.2,1406.2L199,1407.7L199.8,1408.4L200.6,1406.9L201.4,1408L202.2,1408.4L203,1409.5L203.8,1409.1L204.6,1409L205.4,1413.8L206.2,1410.1L207,1411.3L207.8,1408L208.6,1409.5L209.4,1413.4L210.2,1411.9L211,1410.1L211.8,1414.6L212.6,1413.5L213.4,1411.9L214.2,1415.3L215,1409.8L215.8,1415.8L216.6,1414.9L217.4,1417.1L218.2,1414L219,1412.9L219.8,1416.1L220.6,1416L221.4,1417L222.2,1415.8L223,1417L223.8,1417.8L224.6,1414.8L225.4,1416.5L226.2,1417.3L227,1417.3L227.8,1416.4L228.6,1417.6L229.4,1415.3L230.2,1415.8L231,1419.4L231.8,1418.9L232.6,1415.3L233.4,1419.4L234.2,1419.4L235,1417.2L235.8,1417.8L236.6,1421L237.4,1419L238.2,1417.6L239,1416.4L239.8,1417.8L240.6,1416.1L241.4,1414.9L242.2,1416.6L243,1418.1L243.8,1415.5L244.6,1414.4L245.4,1417.2L246.2,1416L247,1415.6L247.8,1416.7L248.6,1414.4L249.4,1414.6L250.2,1414.6L251,1412.1L251.8,1412L252.6,1414.2L253.4,1410.9L254.2,1409L255,1411.4L255.8,1409.3L256.6,1408.7L257.4,1410.5L258.2,1407.1L259,1408.7L259.8,1408L260.6,1407.5L261.4,1405.7L262.2,1408.9L263,1409.2L263.8,1406.5L264.6,1404.6L265.4,1403.1L266.2,1402.8L267,1403.8L267.8,1402.5L268.6,1400L269.4,1401.2L270.2,1401L271,1397.7L271.8,1402.3L272.6,1397.4L273.4,1395.6L274.2,1397.3L275,1396L275.8,1394.5L276.6,1393.9L277.4,1393L278.2,1393.8L279,1390.4L279.8,1395L280.6,1391.1L281.4,1387.9L282.2,1392.1L283,1391.1L283.8,1390.3L284.6,1389.4L285.4,1389.9L286.2,1390.1L287,1389.7L287.8,1387.9L288.6,1388.6L289.4,1388.8L290.2,1390L291,1389.6L291.8,1388.5L292.6,1386.4L293.4,1387.6L294.2,1388.1L295,1388.3L295.8,1387.9L296.6,1387.9L297.4,1389.3L298.2,1384.1L299,1390.7L299.8,1386.3L300.6,1390.2L301.4,1388.6L302.2,1388L303,1384.5L303.8,1386.1L304.6,1385.1L305.4,1387.9L306.2,1387L307,1385.9L307.8,1384.6L308.6,1386.4L309.4,1387.1L310.2,1386L311,1386.7L311.8,1387.2L312.6,1385.3L313.4,1384.2L314.2,1385.3L315,1389.8L315.8,1387.2L316.6,1387.2L317.4,1387L318.2,1387.7L319,1386.5L319.8,1390.6L320.6,1389.4L321.4,1389.5L322.2,1388.9L323,1388.5L323.8,1389.1L324.6,1388.2L325.4,1390.4L326.2,1392.3L327,1388.4L327.8,1390.1L328.6,1390.7L329.4,1390.4L330.2,1390.5L331,1389.9L331.8,1390.1L332.6,1392.6L333.4,1391.1L334.2,1392L335,1390.5L335.8,1395.8L336.6,1394.4L337.4,1390.5L338.2,1392.6L339,1389.8L339.8,1393.4L340.6,1390.4L341.4,1393L342.2,1394.1L343,1392.1L343.8,1391.9L344.6,1393.3L345.4,1395.3L346.2,1392.9L347,1390.7L347.8,1394.1L348.6,1394.3L349.4,1394L350.2,1398.5L351,1394.3L351.8,1395.9L352.6,1393.5L353.4,1392.4L354.2,1392.7L355,1394.3L355.8,1398L356.6,1392.9L357.4,1396.3L358.2,1396.5L359,1399.7L359.8,1394.9L360.6,1396L361.4,1398.7L362.2,1397L363,1396.4L363.8,1399.4L364.6,1399.5L365.4,1398.3L366.2,1401.4L367,1401L367.8,1402.4L368.6,1401.9L369.4,1400.3L370.2,1398.7L371,1400.2L371.8,1402.2L372.6,1399.5L373.4,1399.4L374.2,1402.1L375,1406.7L375.8,1403.5L376.6,1405.3L377.4,1401.9L378.2,1404.5L379,1406.3L379.8,1406L380.6,1404.9L381.4,1405.3L382.2,1407.3L383,1405.4L383.8,1406.4L384.6,1406.3L385.4,1405L386.2,1406.2L387,1406.6L387.8,1404.3L388.6,1406.1L389.4,1407.9L390.2,1406.4L391,1409.7L391.8,1410.1L392.6,1408.2L393.4,1410.3L394.2,1409.7L395,1411.2L395.8,1409.1L396.6,1408.6L397.4,1408.8L398.2,1408.6L399,1411.9L399.8,1409.3L400.6,1413.7L401.4,1411.9L402.2,1409.9L403,1412.1L403.8,1415.6L404.6,1412.8L405.4,1414.5L406.2,1413.5L407,1412L407.8,1415.9L408.6,1414.6L409.4,1412.1L410.2,1415.5L411,1417.4L411.8,1414.8L412.6,1417.5L413.4,1418.4L414.2,1418.2L415,1415.8L415.8,1415.7L416.6,1418.5L417.4,1420.9L418.2,1418.9L419,1418.2L419.8,1420.5L420.6,1419.9L421.4,1418.5L422.2,1417L423,1419.6L423.8,1421.9L424.6,1420.2L425.4,1420.5L426.2,1423.1L427,1422.5L427.8,1421L428.6,1421.7L429.4,1422.1L430.2,1424.7L431,1425.5L431.8,1426.1L432.6,1422.4L433.4,1426.4L434.2,1421.5L435,1423.6L435.8,1425.6L436.6,1424.8L437.4,1425.6L438.2,1426.2L439,1426.5L439.8,1425.5L440.6,1428.2L441.4,1427L442.2,1425.5L443,1427.6L443.8,1429L444.6,1426.2L445.4,1429.5L446.2,1427.7L447,1429.8L447.8,1429.8L448.6,1431.9L449.4,1430.3L450.2,1428.7L451,1427.4L451.8,1430.4L452.6,1429.6L453.4,1433L454.2,1431.8L455,1432.6L455.8,1431.3L456.6,1429.4L457.4,1430.4L458.2,1428.8L459,1429.3L459.8,1433.7L460.6,1432.2L461.4,1432.5L462.2,1433.1L463,1434.3L463.8,1434.4L464.6,1432.5L465.4,1432.5L466.2,1435.8L467,1435.3L467.8,1433.1L468.6,1432.4L469.4,1435L470.2,1435.3L471,1434.3L471.8,1438.1L472.6,1435.4L473.4,1434.8L474.2,1438.7L475,1433.9L475.8,1435.8L476.6,1434.4L477.4,1438.8L478.2,1435.2L479,1436.3L479.8,1436.5L480.6,1434.6L481.4,1437.9L482.2,1440.7L483,1437.2L483.8,1435.8L484.6,1435L485.4,1436.1L486.2,1437.1L487,1437.1L487.8,1434.5L488.6,1440.4L489.4,1437.9L490.2,1435.1L491,1440.8L491.8,1437.1L492.6,1438.8L493.4,1438.5L494.2,1439.5L495,1439.1L495.8,1438.7L496.6,1436.2L497.4,1438.8L498.2,1437.6L499,1438.3L499.8,1439.6L500.6,1438.9L501.4,1439.6L502.2,1438.4L503,1438.1L503.8,1437.1L504.6,1435.9L505.4,1436.9L506.2,1439.2L507,1442L507.8,1437.8L508.6,1439.4L509.4,1438.7L510.2,1440.3L511,1442.8L511.8,1442.1L512.6,1439.2L513.4,1439.2L514.2,1440.4L515,1439.1L515.8,1439L516.6,1438.3L517.4,1440.8L518.2,1438.7L519,1443.1L519.8,1439.8L520.6,1439.8L521.4,1441L522.2,1440.7L523,1441.8L523.8,1437.9L524.6,1440.6L525.4,1441L526.2,1438.8L527,1440L527.8,1442L528.6,1442.3L529.4,1439.1L530.2,1440.5L531,1439.8L531.8,1442.3L532.6,1439.7L533.4,1441.8L534.2,1443.7L535,1441.6L535.8,1443.5L536.6,1444.5L537.4,1440.8L538.2,1441.1L539,1441.4L539.8,1441.9L540.6,1442.9L541.4,1440.6L542.2,1443.3L543,1441.9L543.8,1444.8L544.6,1447L545.4,1443.3L546.2,1447.1L547,1445.5L547.8,1444.5L548.6,1440.8L549.4,1444.2L550.2,1442.8L551,1445.7L551.8,1445.9L552.6,1444.6L553.4,1443.6L554.2,1448.5L555,1444.9L555.8,1445.7L556.6,1444L557.4,1445.5L558.2,1443.6L559,1445.1L559.8,1444.8L560.6,1444.2L561.4,1444.5L562.2,1445.1L563,1445.1L563.8,1445L564.6,1444.9L565.4,1445L566.2,1445.9L567,1445.1L567.8,1446.5L568.6,1445L569.4,1447.7L570.2,1444.8L571,1444.1L571.8,1442.9L572.6,1445.8L573.4,1445.6L574.2,1446.9L575,1445.9L575.8,1445.1L576.6,1448.2L577.4,1446L578.2,1448.3L579,1446.9L579.8,1448.7L580.6,1446.4L581.4,1447.7L582.2,1445.6L583,1446.5L583.8,1446.7L584.6,1447.4L585.4,1448L586.2,1446L587,1448.2L587.8,1445.1L588.6,1446.5L589.4,1447.5L590.2,1448.8L591,1448.4L591.8,1447.7L592.6,1445L593.4,1450.2L594.2,1448.4L595,1449.4L595.8,1450.1L596.6,1448L597.4,1446.6L598.2,1448.7L599,1446.9L599.8,1448.9L600.6,1447.1L601.4,1448.7L602.2,1447.2L603,1444.3L603.8,1449.6L604.6,1447.4L605.4,1451.2L606.2,1448.5L607,1446.3L607.8,1448.9L608.6,1446.7L609.4,1445.9L610.2,1446.7L611,1448.4L611.8,1448.9L612.6,1449L613.4,1449.2L614.2,1449.6L615,1450.8L615.8,1448L616.6,1450.3L617.4,1449.1L618.2,1446.2L619,1450.6L619.8,1447.2L620.6,1450.1L621.4,1448.9L622.2,1450.6L623,1451.8L623.8,1450.6L624.6,1446.5L625.4,1449.5L626.2,1448.6L627,1449L627.8,1449.2L628.6,1450.9L629.4,1449.8L630.2,1448L631,1452.5L631.8,1448.9L632.6,1448.9L633.4,1447.7L634.2,1449.1L635,1448.3L635.8,1452.5L636.6,1451.8L637.4,1445.7L638.2,1451L639,1449.7L639.8,1447.7L640.6,1447.7L641.4,1451.2L642.2,1450.1L643,1451.7L643.8,1448.8L644.6,1453L645.4,1450.9L646.2,1450L647,1451.8L647.8,1450.6L648.6,1449.6L649.4,1448.7L650.2,1450.7L651,1446L651.8,1449.2L652.6,1448.3L653.4,1452L654.2,1452.4L655,1449.8L655.8,1449.9L656.6,1453.2L657.4,1451.1L658.2,1453.2L659,1450.7L659.8,1451.9L660.6,1454.1L661.4,1450.2L662.2,1452.3L663,1452.1L663.8,1448.2L664.6,1454.2L665.4,1449.6L666.2,1452.3L667,1451.1L667.8,1450.1L668.6,1450.6L669.4,1452.8L670.2,1449L671,1451.4L671.8,1447.2L672.6,1450.2L673.4,1447.1L674.2,1450.5L675,1451.6L675.8,1447.3L676.6,1451L677.4,1450.4L678.2,1450.5L679,1452.3L679.8,1452.1L680.6,1453.5L681.4,1453.5L682.2,1450.8L683,1453.3L683.8,1453.2L684.6,1451.5L685.4,1450.9L686.2,1450.5L687,1450.5L687.8,1453L688.6,1451.1L689.4,1452.2L690.2,1450.6L691,1450.3L691.8,1455.5L692.6,1455L693.4,1453.4L694.2,1451.9L695,1450.5L695.8,1454.6L696.6,1449.9L697.4,1452.1L698.2,1452.4L699,1449.4L699.8,1452L700.6,1454.2L701.4,1453.6L702.2,1449L703,1454.4L703.8,1450.1L704.6,1452.2L705.4,1452.1L706.2,1450.7L707,1454.4L707.8,1452.5L708.6,1453.1L709.4,1450.1L710.2,1450.9L711,1455.3L711.8,1452.5L712.6,1452.2L713.4,1452.8L714.2,1451.1L715,1449.5L715.8,1450.6L716.6,1452.5L717.4,1454L718.2,1453.6L719,1450.3L719.8,1451.2L720.6,1451.4L721.4,1455.8L722.2,1451.1L723,1451.8L723.8,1453.8L724.6,1455.5L725.4,1454.2L726.2,1454.4L727,1455.7L727.8,1450.9L728.6,1454.2L729.4,1452.8L730.2,1454.8L731,1452.1L731.8,1455.1L732.6,1456.4L733.4,1457.6L734.2,1451.9L735,1452.6L735.8,1454.3L736.6,1455.8L737.4,1452.2L738.2,1455.9L739,1452.3L739.8,1456.3L740.6,1453.3L741.4,1455.2L742.2,1450.1L743,1450.2L743.8,1455.3L744.6,1450L745.4,1456L746.2,1451.4L747,1453.1L747.8,1455.4L748.6,1453.9L749.4,1453.8L750.2,1454.2L751,1453.4L751.8,1455.2L752.6,1455L753.4,1454.9L754.2,1454.8L755,1453.2L755.8,1452.5L756.6,1449.1L757.4,1456.9L758.2,1454.4L759,1455L759.8,1455.1L760.6,1453L761.4,1457.9L762.2,1454.9L763,1453.9L763.8,1454.6L764.6,1453.8L765.4,1450.1L766.2,1460L767,1455.2L767.8,1454L768.6,1453L769.4,1453.9L770.2,1453.2L771,1451.7L771.8,1451.1L772.6,1453.4L773.4,1455.6L774.2,1454.3L775,1456L775.8,1455.3L776.6,1452.3L777.4,1454.9L778.2,1456.7L779,1452.9L779.8,1453.8L780.6,1453.2L781.4,1454.2L782.2,1453.8L783,1453.5L783.8,1452.5L784.6,1457L785.4,1453.2L786.2,1455.1L787,1454.8L787.8,1454.5L788.6,1457.1L789.4,1455.1L790.2,1456.6L791,1453.3L791.8,1457.9L792.6,1455.2L793.4,1459.6L794.2,1457.5L795,1455.8L795.8,1455.2L796.6,1453L797.4,1456.7L798.2,1455.9L799,1457.9L799.8,1456.9L800.6,1457.4L801.4,1456.9L802.2,1455.9L803,1456.8L803.8,1454.8L804.6,1457.4L805.4,1454.8L806.2,1455.4L807,1457.6L807.8,1456.9L808.6,1456.2L809.4,1456.2L810.2,1456L811,1456.3L811.8,1457.1L812.6,1455.6L813.4,1455.7L814.2,1456.3L815,1453.6L815.8,1455.7L816.6,1459.2L817.4,1455.1L818.2,1456.8L819,1456.5L819.8,1456.9L820.6,1456.2L821.4,1460.7L822.2,1452.7L823,1456.3L823.8,1454.6L824.6,1456.8L825.4,1456.2L826.2,1457.4L827,1456.4L827.8,1457.1L828.6,1458.4L829.4,1456.4L830.2,1455.5L831,1455.6L831.8,1458.5L832.6,1457.2L833.4,1453.9L834.2,1458L835,1456.1L835.8,1458L836.6,1457.6L837.4,1459.5L838.2,1459.2L839,1459.9L839.8,1458.9L840.6,1460.1L841.4,1457.5L842.2,1457.6L843,1460L843.8,1457.7L844.6,1455.1L845.4,1457.9L846.2,1457.8L847,1454.9L847.8,1460.2L848.6,1456.5L849.4,1458.1L850.2,1454.7L851,1458.4L851.8,1458.1L852.6,1458.7L853.4,1459.5L854.2,1457.1L855,1456.6L855.8,1458.5L856.6,1458.2L857.4,1461.4L858.2,1458.5L859,1456.9L859.8,1457.6L860.6,1454.4L861.4,1454L862.2,1460.6L863,1461L863.8,1460L864.6,1459.1L865.4,1457.3L866.2,1458.2L867,1459.7L867.8,1460.5L868.6,1460.8L869.4,1457.5L870.2,1455.7L871,1457.7L871.8,1457.5L872.6,1459.7L873.4,1459.3L874.2,1458.7L875,1458.4L875.8,1457.3L876.6,1458.4L877.4,1458.4L878.2,1460.3L879,1458L879.8,1458.3L880.6,1460.7L881.4,1461.7L882.2,1459L883,1457.4" fill="none" stroke="#000" stroke-width="2.7" stroke-linejoin="round" stroke-linecap="round"/>
<path d="M153,1366.5L154,1369.7L155,1372.4L156,1373.6L157,1375.8L158,1379.2L159,1380.7L160,1384.1L161,1385.4L162,1387.6L163,1389.1L164,1390.5L165,1393.1L166,1395.2L167,1396.8L168,1399L169,1400.8L170,1401.1L171,1403.3L172,1405.4L173,1406.8L174,1408.2L175,1410L176,1410.3L177,1411.9L178,1412.8L179,1415.2L180,1414.7L181,1416.4L182,1417.1L183,1419.5L184,1418.4L185,1420.4L186,1420.7L187,1421.7L188,1424.1L189,1423.7L190,1424.6L191,1425.8L192,1426.5L193,1427.1L194,1427.5L195,1429L196,1429.7L197,1429L198,1430.9L199,1431L200,1431.9L201,1432.9L202,1432.3L203,1432.5L204,1433.8L205,1434.2L206,1435.4L207,1436.4L208,1436.4L209,1435.6L210,1436L211,1438L212,1437.8L213,1437.7L214,1438.8L215,1439.9L216,1439.6L217,1440.4L218,1440.2L219,1440.1L220,1441.2L221,1441.2L222,1440.9L223,1441.1L224,1441.8L225,1441.6L226,1441.9L227,1442.5L228,1442.6L229,1442.5L230,1442.7L231,1444.9L232,1444.3L233,1444.5L234,1443.4L235,1444.5L236,1443.9L237,1445L238,1444.7L239,1445L240,1443.7L241,1446.1L242,1445.9L243,1446L244,1445.8L245,1444.9L246,1445.7L247,1446.2L248,1446.8L249,1446.3L250,1445.7L251,1447.5L252,1446.6L253,1447.9L254,1447.4L255,1447L256,1448L257,1447.1L258,1446L259,1447.3L260,1447.5L261,1447L262,1447.8L263,1447.9L264,1447.6L265,1447.9L266,1448.1L267,1448.3L268,1448.2L269,1448L270,1448.3L271,1448.4L272,1449L273,1448.5L274,1449L275,1448.4L276,1449.3L277,1449.1L278,1448.7L279,1448.9L280,1449.1L281,1449.8L282,1448.5L283,1449.2L284,1448.8L285,1448.3L286,1449.4L287,1448.3L288,1449L289,1449.7L290,1450.4L291,1448.7L292,1448.9L293,1448.9L294,1449.1L295,1449.7L296,1449.5L297,1449.3L298,1449.7L299,1449.6L300,1449.8L301,1449.8L302,1449.6L303,1449.9L304,1449.8L305,1450.7L306,1450.8L307,1450.4L308,1449.9L309,1451.4L310,1450.6L311,1450.3L312,1449.4L313,1450.5L314,1449.8L315,1451.4L316,1450.1L317,1450.5L318,1449.2L319,1451.1L320,1450.1L321,1451.2L322,1450.8L323,1450.5L324,1450.6L325,1450.2L326,1451.6L327,1449.8L328,1449.8L329,1450.7L330,1450.4L331,1450.7L332,1450.6L333,1451.1L334,1450.4L335,1451L336,1450.8L337,1450.8L338,1450.6L339,1451.5L340,1450.1L341,1450.2L342,1450.8L343,1451L344,1451.4L345,1451.2L346,1451.4L347,1451.4L348,1451.5L349,1450.4L350,1451L351,1450.2L352,1452.1L353,1452.4L354,1450.5L355,1450.8L356,1451.2L357,1451.6L358,1451.9L359,1450.8L360,1451.3L361,1451.4L362,1450.9L363,1450.5L364,1450.8L365,1451.4L366,1451.5L367,1451.3L368,1450.4L369,1451.2L370,1451.1L371,1451.6L372,1451.6L373,1450.9L374,1450.8L375,1451.1L376,1452.3L377,1451.9L378,1450.8L379,1452.1L380,1452.2L381,1451L382,1451.2L383,1451.7L383.2,1451.1L383.5,1451.1L383.8,1452.6L384,1453.1L384.2,1451.3L384.5,1451.8L384.8,1452.3L385,1452.3L385.2,1452.8L385.5,1452.4L385.8,1452L386,1451.5L386.2,1452.4L386.5,1451.6L386.8,1452.5L387,1451.7L387.2,1452.8L387.5,1453.1L387.8,1452.1L388,1452.7L388.2,1451.8L388.5,1451.9L388.8,1451.6L389,1450.9L389.2,1450.8L389.5,1448.8L389.8,1447.8L390,1445.6L390.2,1442.2L390.5,1439.4L390.8,1436.8L391,1431.7L391.2,1426.9L391.5,1422.9L391.8,1416.2L392,1413.1L392.2,1410L392.5,1406.8L392.8,1405.2L393,1404.3L393.2,1404.3L393.5,1406.5L393.8,1410.1L394,1415L394.2,1416.8L394.5,1422.3L394.8,1427.7L395,1431.8L395.2,1437.1L395.5,1440.2L395.8,1443L396,1446.3L396.2,1448.3L396.5,1450.2L396.8,1450L397,1452.4L397.2,1452.3L397.5,1453.1L397.8,1453.3L398,1453.7L398.2,1453.1L398.5,1453.9L398.8,1454.2L399,1454.8L399.2,1454.6L399.5,1453.3L399.8,1454.2L400,1454.1L400.2,1454.6L400.5,1453.9L400.8,1455.3L401,1454.6L401.2,1453.4L401.5,1453.2L401.8,1453.7L402,1454.5L402.2,1454.4L402.5,1454.8L402.8,1453.5L403,1453.9L404,1454.7L405,1454.3L406,1454.4L407,1454.8L408,1454.4L409,1454.7L410,1454.3L411,1454.1L412,1455L413,1455L414,1455.3L415,1455L416,1455.1L417,1454.4L418,1456L419,1455.4L420,1455.9L421,1454.9L422,1455.9L423,1455.5L424,1455.7L425,1454.9L426,1457.1L427,1455.3L428,1455.6L428.8,1455.7L429,1456.8L429,1456.4L429.3,1456.6L429.5,1455.8L429.8,1456L430,1455.5L430,1456L430.3,1456.6L430.5,1456.1L430.8,1456.1L431,1456.3L431,1455.8L431.3,1455.4L431.5,1455.4L431.8,1456.6L432,1456.4L432,1455.7L432.3,1454.8L432.5,1455.6L432.8,1455.5L433,1455.8L433,1454.6L433.3,1454.5L433.5,1452.4L433.8,1451.2L434,1449.7L434,1448.5L434.3,1444.9L434.5,1440.6L434.8,1432L435,1422.8L435,1421.5L435.3,1408.5L435.5,1390.7L435.8,1369.5L436,1347.3L436,1343.7L436.3,1313.4L436.5,1278.6L436.8,1240L437,1205.2L437,1200.8L437.3,1158.5L437.5,1119L437.8,1083.8L438,1054.8L438,1051.5L438.3,1027.5L438.5,1012.8L438.8,1007.4L439,1012.8L439,1011L439.3,1027.1L439.5,1050.7L439.8,1082.4L440,1114.2L440,1119.1L440.3,1158.6L440.5,1198.8L440.8,1240.3L441,1273.2L441,1278.9L441.3,1312L441.5,1344.3L441.8,1370L442,1389.4L442,1391.5L442.3,1409.2L442.5,1422.8L442.8,1432.8L443,1439.6L443,1440.2L443.3,1445L443.5,1450.4L443.8,1451.4L444,1453.7L444,1453.1L444.3,1455.2L444.4,1456.2L444.5,1455.6L444.6,1456.1L444.8,1456L444.9,1456.9L445,1456.7L445,1456.9L445.1,1457.5L445.3,1457.8L445.4,1457.4L445.5,1456.9L445.6,1457.5L445.8,1457.5L445.9,1457.7L446,1456.9L446,1458L446.1,1457.3L446.3,1458.1L446.4,1458L446.5,1458L446.6,1458L446.8,1458.4L446.9,1457.4L447,1457.7L447,1456.9L447.1,1457.8L447.3,1457.6L447.4,1458.1L447.5,1456.7L447.6,1457.2L447.8,1457.3L447.9,1456.5L448,1457.6L448,1458.4L448.1,1458.2L448.3,1458.3L448.4,1457.9L448.5,1458.5L448.6,1457.6L448.8,1457.2L448.9,1458.1L449,1458.2L449.1,1457.6L449.4,1457.8L449.6,1457.2L449.9,1457.3L450,1456.9L450.1,1457.9L450.4,1457.2L450.6,1456.8L450.9,1457.6L451,1457L451.1,1456.8L451.4,1456.3L451.6,1457L451.9,1456.3L452,1456.5L452.1,1456.6L452.4,1456.4L452.6,1456.6L452.9,1456.1L453,1456.5L453.1,1455.9L453.4,1455.7L453.6,1455.9L453.9,1456.5L454,1455.9L454.1,1455.7L454.4,1455.5L454.6,1455.7L454.9,1455.9L455,1455.1L455.1,1456.3L455.4,1456.5L455.6,1457L455.9,1457L456,1456.5L456.1,1456.8L456.4,1456.8L456.6,1457.1L456.9,1458.4L457,1457.9L457.1,1457.4L457.4,1457.5L457.6,1458.4L457.9,1458.6L458,1459L458.1,1459L458.4,1458.2L458.6,1459.4L458.9,1458.6L459,1459L459.1,1458.8L459.4,1459.7L459.6,1460.4L459.9,1459.7L460,1460.3L460.1,1459.5L460.4,1461.3L460.6,1461.7L460.9,1460L461,1460L461.1,1460.3L461.4,1460.2L461.6,1461L461.9,1461.7L462,1460.5L462.1,1460.9L462.4,1460.2L462.6,1460L462.9,1461L463,1461.6L463.1,1460.4L463.4,1461.7L463.6,1460.8L463.9,1461.5L464,1460.5L464.1,1460.2L464.4,1460.9L465,1460.3L466,1461.8L467,1461.5L468,1463.2L469,1461.8L470,1461.6L471,1461.9L472,1461.8L473,1462.6L474,1462.7L475,1461.4L476,1463.3L477,1462.9L478,1463.7L479,1462.8L480,1463.3L481,1463.2L482,1463L483,1464.6L484,1464L485,1463.8L486,1463.7L487,1463.5L488,1464.2L489,1463.9L490,1463.9L491,1464.4L492,1464.3L493,1465.2L494,1464.2L495,1463.9L496,1465.4L497,1464.8L498,1464.4L499,1465.6L500,1465.4L501,1464L502,1465.6L503,1465.7L504,1465.9L505,1465.3L506,1464.8L507,1465.1L508,1465.9L509,1465L510,1465.8L511,1464.6L512,1465.1L513,1465.5L514,1465.5L515,1465.5L516,1464.3L517,1465.8L518,1465.7L519,1465.7L520,1464.6L521,1465.9L522,1465L523,1464.6L524,1465.2L525,1464.4L526,1464.7L527,1465.4L528,1465.1L529,1464.5L530,1466.1L531,1464.9L532,1464.6L533,1464.9L534,1465L535,1465.1L536,1465.1L537,1465.2L538,1464.8L539,1464.7L540,1465.4L541,1464.9L542,1464.8L543,1465.3L544,1465L545,1464.5L546,1464.8L547,1465.4L548,1465.2L549,1464.9L550,1465.8L551,1464.9L552,1464.8L553,1465L554,1464.7L555,1464.4L556,1465.2L557,1465.1L558,1464.9L559,1464.8L560,1464L561,1465.2L562,1463.4L563,1465.2L564,1464.5L565,1464.4L566,1464.1L567,1464.9L568,1465.7L569,1465.4L570,1464.4L571,1464.9L572,1464.4L573,1465.1L574,1464.4L574.9,1464.6L575,1465.5L575.1,1464.4L575.4,1464.5L575.6,1465.3L575.9,1464.1L576,1463.7L576.1,1464.7L576.4,1464.4L576.6,1465.2L576.9,1465.3L577,1464.8L577.1,1465.6L577.4,1465.7L577.6,1464.6L577.9,1464.3L578,1465L578.1,1463.9L578.4,1463.9L578.6,1464.5L578.9,1464.7L579,1463.6L579.1,1464L579.4,1463.2L579.6,1461.3L579.9,1461.6L580,1458.9L580.1,1458.6L580.4,1455.8L580.6,1451.3L580.9,1448.4L581,1445.5L581.1,1442.7L581.4,1434.8L581.6,1426.5L581.9,1418.1L582,1412.2L582.1,1405.8L582.4,1393.2L582.6,1380L582.9,1364L583,1358.5L583.1,1350.8L583.4,1336L583.6,1322L583.9,1310.1L584,1305.1L584.1,1298.9L584.4,1291.4L584.6,1287.5L584.9,1285.2L585,1285.8L585.1,1286.9L585.4,1291.9L585.6,1300.4L585.9,1310.4L586,1315.6L586.1,1321.6L586.4,1336.9L586.6,1350.4L586.9,1365.4L587,1372.2L587.1,1379.9L587.4,1392.6L587.6,1405L587.9,1417.5L588,1422.7L588.1,1426.7L588.4,1435.7L588.6,1442.5L588.9,1447.4L589,1450.5L589.1,1453.2L589.4,1455.9L589.6,1458.8L589.9,1460.8L590,1461.8L590.1,1461.9L590.4,1464.3L590.6,1464.4L590.9,1465.3L591,1466.1L591.1,1465L591.4,1465.6L591.6,1466.3L591.9,1465.7L592,1466.1L592.1,1466.2L592.4,1465.9L592.6,1467.3L592.9,1466.1L593,1465.9L593.1,1465.9L593.4,1465.6L593.6,1465.2L593.9,1466.4L594,1466L594.1,1466.6L594.4,1467L594.6,1465.7L594.9,1466.6L595,1465.4L596,1467.1L597,1466L598,1466.2L599,1465.8L600,1465.9L601,1465L602,1465.5L603,1465.9L604,1466.6L605,1466.9L606,1465.4L607,1466.2L608,1465.9L609,1466.3L610,1467L611,1466.3L612,1467.2L613,1467.1L614,1465.5L615,1467.4L616,1467.3L617,1466.6L618,1466.1L619,1465.7L620,1467.1L621,1466.6L622,1466L623,1466.5L624,1467.1L625,1466.9L626,1465.4L627,1467.7L628,1466.6L629,1467.1L630,1466.4L631,1466.3L632,1466.7L633,1466.8L634,1467.1L635,1465.8L636,1466.9L637,1466.9L638,1466.5L639,1466.4L640,1466.9L641,1466.7L642,1466.7L643,1466.2L644,1466.6L645,1466.3L646,1466.1L647,1466L648,1466.4L649,1466.4L650,1466.2L651,1466.7L652,1466.4L653,1467.1L654,1467L655,1466.5L656,1465.9L657,1467.3L658,1467.5L659,1467.1L660,1467.3L661,1466.3L662,1467.2L663,1466.4L664,1467L665,1464.9L665.5,1466.1L665.7,1466.7L666,1467.5L666,1466.5L666.2,1466.2L666.5,1466.7L666.7,1466.4L667,1465.3L667,1466.1L667.2,1466.7L667.5,1466.6L667.7,1466.7L668,1467.1L668,1465.9L668.2,1466.1L668.5,1466.1L668.7,1466.9L669,1466.1L669,1466.3L669.2,1466.5L669.5,1465.9L669.7,1466.3L670,1466.2L670,1466.4L670.2,1466.4L670.5,1466.5L670.7,1465.5L671,1466.3L671,1465.4L671.2,1466.3L671.5,1464.9L671.7,1465.3L672,1464.6L672,1465L672.2,1463.9L672.5,1463.6L672.7,1461.7L673,1462L673,1461.1L673.2,1460.7L673.5,1459.1L673.7,1458.6L674,1458.1L674,1458.2L674.2,1457.6L674.5,1456.1L674.7,1455.3L675,1455.2L675,1454.9L675.2,1455.1L675.5,1455.5L675.7,1455.8L676,1454.9L676,1454.3L676.2,1454.8L676.5,1456.5L676.7,1455.6L677,1458L677,1458.4L677.2,1459.3L677.5,1459.9L677.7,1460.2L678,1460.5L678,1461.3L678.2,1462.5L678.5,1463.4L678.7,1464.6L679,1464.5L679,1464.9L679.2,1464.8L679.5,1464.7L679.7,1465.6L680,1464.9L680,1466L680.2,1466.7L680.5,1465.8L680.7,1465.3L681,1466.7L681,1466.1L681.2,1466.8L681.5,1465.9L681.7,1466.8L682,1466.8L682,1467.6L682.2,1466.6L682.5,1466.9L682.7,1466.4L683,1465.7L683,1468.1L683.2,1465.9L683.5,1468.2L683.7,1467.2L684,1467.7L684,1466.1L684.2,1467.6L684.5,1466.8L684.7,1467.2L685,1467.9L685,1466.7L685.2,1467L685.5,1466.1L686,1466.3L687,1466.2L688,1466.7L689,1467.6L690,1467.2L691,1467.5L692,1466.8L693,1467.3L693.7,1467.1L694,1466.4L694,1466.6L694.2,1466.8L694.5,1466.4L694.7,1467.2L695,1466.4L695,1466.6L695.2,1466.2L695.5,1466.7L695.7,1467L696,1466.7L696,1466.7L696.2,1466.2L696.5,1466.9L696.7,1466.7L697,1467.2L697,1465.6L697.2,1466.8L697.5,1466.8L697.7,1466.1L698,1465.8L698,1466L698.2,1466.1L698.5,1465.2L698.7,1465.9L699,1465.2L699,1465.1L699.2,1463.9L699.5,1463.3L699.7,1462.1L700,1460.3L700,1460.2L700.2,1459L700.5,1456.7L700.7,1454.1L701,1451.7L701,1450.6L701.2,1447.6L701.5,1443.6L701.7,1440.3L702,1435.8L702,1435.3L702.2,1433L702.5,1429.2L702.7,1426.3L703,1422.5L703,1423L703.2,1421.6L703.5,1419.6L703.7,1419.6L704,1419.2L704,1420.3L704.2,1420.4L704.5,1422.1L704.7,1425.5L705,1430.7L705,1429L705.2,1433.2L705.5,1436L705.7,1440.7L706,1443.8L706,1443.9L706.2,1447.9L706.5,1451.1L706.7,1453.8L707,1457.1L707,1455.8L707.2,1459.3L707.5,1460.6L707.7,1462.6L708,1463L708,1463.8L708.2,1463.8L708.5,1465.4L708.7,1466.3L709,1466.6L709,1465.4L709.2,1465.6L709.5,1466.2L709.7,1466.7L710,1466.6L710,1465.6L710.2,1467.4L710.5,1466.2L710.7,1467.2L711,1467.2L711,1466.8L711.2,1466.7L711.5,1466.7L711.7,1467.4L712,1466.9L712,1466.7L712.2,1466.8L712.5,1467.6L712.7,1467.3L713,1466.9L713,1466.8L713.2,1466.3L713.5,1466.9L713.7,1466.5L714,1466.8L715,1466.6L716,1466.2L717,1466.2L718,1467.3L719,1467.1L720,1466.4L721,1467.9L722,1467.4L723,1467.2L724,1467.2L725,1466.9L726,1467.1L727,1466.9L728,1466.4L729,1466.8L730,1466.8L731,1466.6L732,1465.9L733,1467.2L734,1467.6L735,1468L736,1467.3L737,1467.2L738,1467.1L739,1467.7L740,1466.8L741,1467.6L742,1467.5L743,1467.2L744,1467.3L745,1467L746,1466.7L747,1466.5L748,1466.9L749,1467.1L750,1467.1L751,1466.8L752,1466.9L753,1466.5L754,1467.3L755,1466.9L756,1467L757,1467.2L758,1467.8L759,1466.8L760,1466.9L761,1467.4L762,1467.5L763,1466.8L764,1467.6L765,1467.6L766,1466.5L767,1467.9L768,1468L769,1467.5L770,1467.3L771,1467L772,1466.8L773,1466.4L774,1467.2L775,1466.1L776,1466.4L777,1467.3L778,1466.7L779,1466.9L780,1467.7L781,1467.7L782,1466.7L783,1467.1L784,1467.1L785,1466.1L786,1466.7L787,1467.2L788,1466.3L789,1467.2L790,1466.9L791,1468.2L792,1466.8L793,1466.5L794,1467.1L795,1467.2L796,1466.6L797,1466.4L798,1466.8L799,1466.4L799.9,1467.7L800,1467.8L800.1,1467L800.4,1466L800.6,1467.6L800.9,1467.5L801,1467.3L801.1,1467.7L801.4,1467L801.6,1466.8L801.9,1468L802,1466.9L802.1,1466.9L802.4,1466.1L802.6,1467.3L802.9,1467.1L803,1466.5L803.1,1467.6L803.4,1467L803.6,1465.9L803.9,1467.2L804,1467.6L804.1,1467.2L804.4,1466.5L804.6,1467.1L804.9,1466.4L805,1466.1L805.1,1466L805.4,1464.9L805.6,1465.5L805.9,1463.7L806,1463.2L806.1,1463.6L806.4,1463.4L806.6,1462.2L806.9,1461L807,1460.3L807.1,1459.9L807.4,1458.9L807.6,1457.5L807.9,1456.8L808,1455.6L808.1,1456.1L808.4,1454L808.6,1453.4L808.9,1452.1L809,1451.7L809.1,1451L809.4,1450.6L809.6,1451.3L809.9,1449.7L810,1450.5L810.1,1451.9L810.4,1451.2L810.6,1451.5L810.9,1452.5L811,1451.9L811.1,1452.3L811.4,1454.5L811.6,1455.8L811.9,1456.7L812,1457.4L812.1,1457.5L812.4,1459L812.6,1461L812.9,1460.4L813,1462.1L813.1,1461.6L813.4,1462.2L813.6,1464.1L813.9,1463.9L814,1465.2L814.1,1465.7L814.4,1465.8L814.6,1465.6L814.9,1466.2L815,1466.7L815.1,1467.1L815.4,1468.2L815.6,1465.9L815.9,1466.9L816,1466.6L816.1,1466.6L816.4,1468.3L816.6,1467.2L816.9,1468.1L817,1467.3L817.1,1466.9L817.4,1467.7L817.6,1467.2L817.9,1468.2L818,1467.3L818.1,1466.7L818.4,1467.3L818.6,1468.2L818.9,1466.7L819,1467.9L819.1,1467.5L819.4,1468L819.6,1467.4L819.9,1467.3L820,1466.9L821,1467.1L822,1467.3L823,1467.6L824,1467.9L825,1467.4L826,1468.3L827,1467.5L828,1467L829,1467.7L830,1467L831,1467.9L832,1466.7L833,1466.5L834,1467.5L835,1467.6L836,1467.1L837,1467.9L838,1467.2L839,1469.1L840,1468.2L841,1468.4L842,1467.5L843,1467.6L844,1467.6L845,1467.7L846,1466.7L847,1468.3L848,1466.4L849,1466.9L850,1466.9L851,1467.2L852,1468L853,1467.3L854,1467.3L855,1467L856,1466.7L857,1466.5L858,1468L859,1467.7L860,1467.2L861,1468.1L862,1467.9L863,1467.1L864,1467.3L865,1468.1L866,1468.4L867,1467.5L868,1468.2L869,1468.4L870,1468.3L871,1467.7L872,1468.1L873,1468.1L874,1467.4L875,1467.8L876,1467.6L877,1467L878,1467.7L879,1467.6L880,1467.2L881,1468.1L882,1468.4L883,1468.1" fill="none" stroke="#ff0000" stroke-width="2" stroke-linejoin="round" stroke-linecap="round"/>
<rect x="133.9" y="969" width="750.8" height="547.7" fill="none" stroke="#000" stroke-width="2.7"/>
<line x1="610" y1="1004.8" x2="685" y2="1004.8" stroke="#000" stroke-width="2.2"/>
<line x1="610" y1="1044.7" x2="685" y2="1044.7" stroke="#ff0000" stroke-width="2.2"/>
<text x="692.5" y="1016" font-size="33" font-weight="bold" fill="#000" text-anchor="start" font-family="'Liberation Serif','Times New Roman',serif">CAT@MnS</text>
<text x="692.5" y="1055.6" font-size="33" font-weight="bold" fill="#000" text-anchor="start" font-family="'Liberation Serif','Times New Roman',serif">MnS</text>
<line x1="1012" y1="1509.6" x2="1023" y2="1509.6" stroke="#000" stroke-width="2.4"/>
<text x="1004.5" y="1517.8" font-size="28.5" font-weight="bold" fill="#000" text-anchor="end" font-family="'Liberation Serif','Times New Roman',serif">20</text>
<line x1="1017" y1="1477.8" x2="1023" y2="1477.8" stroke="#000" stroke-width="2.4"/>
<line x1="1012" y1="1446" x2="1023" y2="1446" stroke="#000" stroke-width="2.4"/>
<text x="1004.5" y="1454.2" font-size="28.5" font-weight="bold" fill="#000" text-anchor="end" font-family="'Liberation Serif','Times New Roman',serif">30</text>
<line x1="1017" y1="1414.2" x2="1023" y2="1414.2" stroke="#000" stroke-width="2.4"/>
<line x1="1012" y1="1382.4" x2="1023" y2="1382.4" stroke="#000" stroke-width="2.4"/>
<text x="1004.5" y="1390.6" font-size="28.5" font-weight="bold" fill="#000" text-anchor="end" font-family="'Liberation Serif','Times New Roman',serif">40</text>
<line x1="1017" y1="1350.6" x2="1023" y2="1350.6" stroke="#000" stroke-width="2.4"/>
<line x1="1012" y1="1318.8" x2="1023" y2="1318.8" stroke="#000" stroke-width="2.4"/>
<text x="1004.5" y="1327" font-size="28.5" font-weight="bold" fill="#000" text-anchor="end" font-family="'Liberation Serif','Times New Roman',serif">50</text>
<line x1="1017" y1="1287" x2="1023" y2="1287" stroke="#000" stroke-width="2.4"/>
<line x1="1012" y1="1255.2" x2="1023" y2="1255.2" stroke="#000" stroke-width="2.4"/>
<text x="1004.5" y="1263.4" font-size="28.5" font-weight="bold" fill="#000" text-anchor="end" font-family="'Liberation Serif','Times New Roman',serif">60</text>
<line x1="1017" y1="1223.4" x2="1023" y2="1223.4" stroke="#000" stroke-width="2.4"/>
<line x1="1012" y1="1191.6" x2="1023" y2="1191.6" stroke="#000" stroke-width="2.4"/>
<text x="1004.5" y="1199.8" font-size="28.5" font-weight="bold" fill="#000" text-anchor="end" font-family="'Liberation Serif','Times New Roman',serif">70</text>
<line x1="1017" y1="1159.8" x2="1023" y2="1159.8" stroke="#000" stroke-width="2.4"/>
<line x1="1012" y1="1128" x2="1023" y2="1128" stroke="#000" stroke-width="2.4"/>
<text x="1004.5" y="1136.2" font-size="28.5" font-weight="bold" fill="#000" text-anchor="end" font-family="'Liberation Serif','Times New Roman',serif">80</text>
<line x1="1017" y1="1096.2" x2="1023" y2="1096.2" stroke="#000" stroke-width="2.4"/>
<line x1="1012" y1="1064.4" x2="1023" y2="1064.4" stroke="#000" stroke-width="2.4"/>
<text x="1004.5" y="1072.6" font-size="28.5" font-weight="bold" fill="#000" text-anchor="end" font-family="'Liberation Serif','Times New Roman',serif">90</text>
<line x1="1017" y1="1032.6" x2="1023" y2="1032.6" stroke="#000" stroke-width="2.4"/>
<line x1="1012" y1="1000.8" x2="1023" y2="1000.8" stroke="#000" stroke-width="2.4"/>
<text x="1004.5" y="1009" font-size="28.5" font-weight="bold" fill="#000" text-anchor="end" font-family="'Liberation Serif','Times New Roman',serif">100</text>
<line x1="1695.2" y1="1509.8" x2="1695.2" y2="1519.8" stroke="#000" stroke-width="2.4"/>
<text x="1695.2" y="1550.1" font-size="27.5" font-weight="bold" fill="#000" text-anchor="middle" font-family="'Liberation Serif','Times New Roman',serif">500</text>
<line x1="1647.2" y1="1509.8" x2="1647.2" y2="1515.3" stroke="#000" stroke-width="2.4"/>
<line x1="1599.2" y1="1509.8" x2="1599.2" y2="1519.8" stroke="#000" stroke-width="2.4"/>
<text x="1599.2" y="1550.1" font-size="27.5" font-weight="bold" fill="#000" text-anchor="middle" font-family="'Liberation Serif','Times New Roman',serif">1000</text>
<line x1="1551.1" y1="1509.8" x2="1551.1" y2="1515.3" stroke="#000" stroke-width="2.4"/>
<line x1="1503.1" y1="1509.8" x2="1503.1" y2="1519.8" stroke="#000" stroke-width="2.4"/>
<text x="1503.1" y="1550.1" font-size="27.5" font-weight="bold" fill="#000" text-anchor="middle" font-family="'Liberation Serif','Times New Roman',serif">1500</text>
<line x1="1455.1" y1="1509.8" x2="1455.1" y2="1515.3" stroke="#000" stroke-width="2.4"/>
<line x1="1407.1" y1="1509.8" x2="1407.1" y2="1519.8" stroke="#000" stroke-width="2.4"/>
<text x="1407.1" y="1550.1" font-size="27.5" font-weight="bold" fill="#000" text-anchor="middle" font-family="'Liberation Serif','Times New Roman',serif">2000</text>
<line x1="1359" y1="1509.8" x2="1359" y2="1515.3" stroke="#000" stroke-width="2.4"/>
<line x1="1311" y1="1509.8" x2="1311" y2="1519.8" stroke="#000" stroke-width="2.4"/>
<text x="1311" y="1550.1" font-size="27.5" font-weight="bold" fill="#000" text-anchor="middle" font-family="'Liberation Serif','Times New Roman',serif">2500</text>
<line x1="1263" y1="1509.8" x2="1263" y2="1515.3" stroke="#000" stroke-width="2.4"/>
<line x1="1215" y1="1509.8" x2="1215" y2="1519.8" stroke="#000" stroke-width="2.4"/>
<text x="1215" y="1550.1" font-size="27.5" font-weight="bold" fill="#000" text-anchor="middle" font-family="'Liberation Serif','Times New Roman',serif">3000</text>
<line x1="1166.9" y1="1509.8" x2="1166.9" y2="1515.3" stroke="#000" stroke-width="2.4"/>
<line x1="1118.9" y1="1509.8" x2="1118.9" y2="1519.8" stroke="#000" stroke-width="2.4"/>
<text x="1118.9" y="1550.1" font-size="27.5" font-weight="bold" fill="#000" text-anchor="middle" font-family="'Liberation Serif','Times New Roman',serif">3500</text>
<line x1="1070.9" y1="1509.8" x2="1070.9" y2="1515.3" stroke="#000" stroke-width="2.4"/>
<line x1="1022.9" y1="1509.8" x2="1022.9" y2="1519.8" stroke="#000" stroke-width="2.4"/>
<text x="1022.9" y="1550.1" font-size="27.5" font-weight="bold" fill="#000" text-anchor="middle" font-family="'Liberation Serif','Times New Roman',serif">4000</text>
<text x="1360.1" y="1599" font-size="31" font-weight="bold" fill="#000" text-anchor="middle" font-family="'Liberation Serif','Times New Roman',serif">Wavenumber (nm)</text>
<text x="0" y="0" font-size="31" font-weight="bold" font-family="'Liberation Serif','Times New Roman',serif" text-anchor="middle" transform="translate(931.5,1225.7) rotate(-90)">Transmittance (%)</text>
<path d="M1024.1,1113.2C1033,1110.1 1042,1107 1050.9,1104C1059.1,1101.2 1067.3,1095.7 1075.5,1095.7C1077.6,1095.7 1079.6,1096.2 1081.7,1096.8C1084.4,1097.6 1087.2,1102.4 1089.9,1108.1C1092.7,1113.9 1095.4,1125.9 1098.2,1145.1C1100.2,1159.2 1102.3,1208.9 1104.3,1230C1107.7,1265.7 1111.2,1291.2 1114.6,1312.3C1118,1333.4 1121.5,1348 1124.9,1363.7C1129,1382.4 1133.1,1403.4 1137.2,1415.1C1142,1428.8 1146.8,1435.7 1151.6,1446C1154,1451.1 1156.4,1461.4 1158.8,1461.4C1161.9,1461.4 1165,1443.3 1168.1,1431.6C1172.2,1416.1 1176.3,1397.2 1180.4,1374C1183.2,1358.3 1185.9,1328.7 1188.7,1316.4C1191.4,1304.3 1194.2,1295.6 1196.9,1289.6C1198.9,1285.2 1201,1284.6 1203,1279.4C1205.1,1274.2 1207.1,1254.4 1209.2,1246.5C1211.1,1239.1 1213.1,1229 1215,1229C1217.5,1229 1220.1,1265.4 1222.6,1268C1224.3,1269.8 1226,1271.1 1227.7,1271.1C1229.1,1271.1 1230.4,1257.4 1231.8,1250.6C1233.2,1243.7 1234.6,1233.4 1236,1230C1237.4,1226.7 1238.7,1226.8 1240.1,1223.3C1242.1,1218 1244.2,1183.5 1246.2,1176C1253.1,1150.7 1259.9,1139.9 1266.8,1132.8C1271.6,1127.8 1276.4,1126.7 1281.2,1122.5C1288.7,1115.9 1296.3,1102.4 1303.8,1095.7C1312,1088.4 1320.3,1081.8 1328.5,1078.3C1339,1073.9 1349.5,1072.1 1360,1069C1366.9,1067 1373.7,1064.9 1380.6,1062.8C1387.4,1060.8 1394.3,1058.7 1401.1,1056.7C1409.3,1054.3 1417.6,1050.4 1425.8,1049.5C1431.3,1048.9 1436.8,1048.4 1442.3,1048.4C1445.7,1048.4 1449.2,1051.3 1452.6,1054.6C1454.6,1056.6 1456.7,1060 1458.7,1067C1460.1,1071.7 1461.4,1081 1462.8,1104C1463.3,1113 1463.9,1155.2 1464.4,1180C1465.3,1221.8 1466.2,1273.6 1467.1,1302C1469.6,1380.9 1472.1,1469.5 1474.6,1469.5C1476.6,1469.5 1478.7,1381 1480.7,1342.7C1482.5,1308.8 1484.3,1249.2 1486.1,1249.2C1488.8,1249.2 1491.5,1368.5 1494.2,1368.5C1496,1368.5 1497.9,1328.5 1499.7,1302C1501.9,1269.8 1504.2,1180 1506.4,1180C1508.4,1180 1510.5,1224.7 1512.5,1224.7C1514.1,1224.7 1515.7,1205.1 1517.3,1205.1C1519.1,1205.1 1520.9,1226.1 1522.7,1226.1C1525,1226.1 1527.2,1189.7 1529.5,1185.4C1534.7,1175.6 1539.9,1169.8 1545.1,1169.8C1547.8,1169.8 1550.6,1182.1 1553.3,1182.1C1556.7,1182.1 1560.2,1123.5 1563.6,1123.5C1565,1123.5 1566.3,1131.4 1567.7,1145.1C1568.4,1152.4 1569.2,1227.5 1569.9,1227.5C1571.1,1227.5 1572.4,1184.1 1573.6,1184.1C1575.2,1184.1 1576.7,1205 1578.3,1207.1C1579.4,1208.6 1580.6,1207.9 1581.7,1209.8C1582.3,1210.8 1582.9,1249.2 1583.5,1249.2C1584.5,1249.2 1585.4,1212.5 1586.4,1212.5C1587.3,1212.5 1588.3,1251.4 1589.2,1261.4C1591,1280.7 1592.8,1300.7 1594.6,1300.7C1595.7,1300.7 1596.9,1276.6 1598,1261.4C1599.1,1246.2 1600.3,1227.7 1601.4,1207.1C1603.2,1174.3 1605,1089.6 1606.8,1089.6C1608.5,1089.6 1610.3,1106 1612,1106C1615.1,1106 1618.1,1088.5 1621.2,1088.5C1623.3,1088.5 1625.3,1101.1 1627.4,1104C1629.4,1106.9 1631.5,1107 1633.5,1110.1C1636.9,1115.4 1640.4,1150.1 1643.8,1155.4C1645.9,1158.6 1647.9,1158.4 1650,1161.6C1652.1,1164.8 1654.1,1184.2 1656.2,1184.2C1660.3,1184.2 1664.4,1184.2 1668.5,1184.2C1670.2,1184.2 1672,1190.4 1673.7,1190.4C1676.1,1190.4 1678.5,1187.4 1680.9,1184.2C1683.6,1180.6 1686.4,1168.9 1689.1,1159.5C1691.2,1152.4 1693.2,1143 1695.3,1134.8" fill="none" stroke="#4a4a4a" stroke-width="2.2" stroke-linejoin="round" stroke-linecap="round"/>
<path d="M1023.1,1041.5L1024.3,1041.8L1025.5,1042.1L1026.7,1041.8L1027.9,1040.4L1029.1,1040.8L1030.3,1041.9L1031.5,1040.9L1032.7,1042L1033.9,1042.1L1035.1,1039.8L1036.3,1040.7L1037.5,1040L1038.7,1040.1L1039.9,1040.5L1041.1,1040.8L1042.3,1041L1043.5,1039.5L1044.7,1040.4L1045.9,1040.2L1047.1,1039.6L1048.3,1040.5L1049.5,1038.9L1050.7,1040L1051.9,1040.1L1053.1,1041.5L1054.3,1039.9L1055.5,1039.6L1056.7,1040.6L1057.9,1038.7L1059.1,1039.3L1060.3,1041.4L1061.5,1040.5L1062.7,1039.5L1063.9,1040L1065.1,1037.8L1066.3,1039.7L1067.5,1038.2L1068.7,1038.8L1069.9,1038.3L1071.1,1038.5L1072.3,1037.5L1073.5,1036L1074.7,1035.1L1075.9,1035.2L1077.1,1036.5L1078.3,1035.5L1079.5,1034.4L1080.7,1037L1081.9,1036.2L1083.1,1035.7L1084.3,1035.9L1085.5,1038.3L1085.5,1038.3C1087,1039.7 1088.4,1040.6 1089.9,1042.3C1092.7,1045.6 1095.4,1051.2 1098.2,1058.7C1100.9,1066.1 1103.7,1081.2 1106.4,1093.7C1109.8,1109.5 1113.3,1128.7 1116.7,1145.1C1120.1,1161.5 1123.6,1174.1 1127,1192.4C1129,1203.2 1131.1,1222.2 1133.1,1230C1137.9,1248.4 1142.7,1254.9 1147.5,1267C1151.6,1277.5 1155.8,1297.9 1159.9,1297.9C1162.6,1297.9 1165.4,1289.3 1168.1,1281.4C1170.8,1273.5 1173.6,1252.1 1176.3,1239.7C1181.1,1218 1185.9,1191.8 1190.7,1182.1C1194.1,1175.2 1197.6,1173.5 1201,1167.7C1205.8,1159.6 1210.6,1135.9 1215.4,1135.9C1217.8,1135.9 1220.2,1160.8 1222.6,1167.7C1224.7,1173.6 1226.7,1181.1 1228.8,1181.1C1231.2,1181.1 1233.6,1155 1236,1151.3C1237.4,1149.2 1238.7,1149.4 1240.1,1147.2C1242.1,1143.9 1244.2,1121.5 1246.2,1116.3C1249.6,1107.6 1253.1,1104.1 1256.5,1099.9C1264.7,1089.9 1273,1084.6 1281.2,1077.2C1286.7,1072.3 1292.2,1066.9 1297.7,1062.8C1304.5,1057.7 1311.4,1051.7 1318.2,1049.5C1332.1,1045 1346.1,1044.1 1360,1041.2C1373.7,1038.3 1387.4,1035.1 1401.1,1032C1409.3,1030.1 1417.6,1026.2 1425.8,1026.2C1431.3,1026.2 1436.8,1026.8 1442.3,1027.5C1447.1,1028.2 1451.9,1030 1456.7,1034C1458.7,1035.7 1460.8,1039.1 1462.8,1048.4C1463.8,1053.1 1464.9,1082.4 1465.9,1104C1467.6,1140.3 1469.4,1208.4 1471.1,1239.9C1472.4,1263.5 1473.7,1295.3 1475,1295.3C1476.9,1295.3 1478.8,1237.5 1480.7,1213.9C1482.6,1189.9 1484.6,1150.3 1486.5,1150.3C1487.9,1150.3 1489.4,1167.4 1490.8,1180C1492.4,1194.1 1494,1239 1495.6,1239C1497.9,1239 1500.1,1202.5 1502.4,1180C1504,1164.5 1505.5,1126.6 1507.1,1126.6C1508.8,1126.6 1510.5,1157.4 1512.2,1157.4C1513.9,1157.4 1515.6,1148.2 1517.3,1148.2C1519.4,1148.2 1521.4,1158.5 1523.5,1158.5C1525.9,1158.5 1528.3,1140.5 1530.7,1136.9C1535.5,1129.7 1540.3,1123.5 1545.1,1123.5C1547.8,1123.5 1550.6,1124.5 1553.3,1124.5C1555.4,1124.5 1557.4,1107.2 1559.5,1099.9C1561.2,1093.8 1563,1083.4 1564.7,1083.4C1566.1,1083.4 1567.4,1107 1568.8,1124.5C1569.5,1133 1570.1,1157.4 1570.8,1157.4C1571.8,1157.4 1572.9,1138.9 1573.9,1138.9C1576,1138.9 1578,1149 1580.1,1157.4C1581.5,1163 1582.8,1182.1 1584.2,1182.1C1585.2,1182.1 1586.3,1163.6 1587.3,1163.6C1589.6,1163.6 1592,1224.7 1594.3,1224.7C1595.5,1224.7 1596.8,1201.7 1598,1201.7C1599.1,1201.7 1600.3,1201.7 1601.4,1201.7C1603.2,1201.7 1605,1115.2 1606.8,1104C1607.8,1097.6 1608.9,1094.5 1609.9,1091.6C1614,1080.2 1618.1,1068 1622.2,1068C1623.9,1068 1625.7,1077.2 1627.4,1077.2C1629.4,1077.2 1631.5,1072.1 1633.5,1072.1C1635.6,1072.1 1637.6,1080.3 1639.7,1083.4C1642.5,1087.5 1645.2,1089.3 1648,1093.7C1650.7,1098.1 1653.5,1110 1656.2,1112.2C1658.9,1114.4 1661.7,1114.6 1664.4,1116.3C1667.8,1118.4 1671.3,1124.5 1674.7,1124.5C1676.8,1124.5 1678.8,1124.5 1680.9,1124.5C1682.9,1124.5 1685,1114.2 1687,1110.1C1689.8,1104.5 1692.5,1100.5 1695.3,1095.7" fill="none" stroke="#f14040" stroke-width="2.2" stroke-linejoin="round" stroke-linecap="round"/>
<path d="M1023.1,1045L1024.1,1044.5L1025.1,1045.8L1026.1,1045.4L1027.1,1041.9L1028.1,1043.6L1029.1,1043.6L1030.1,1043.7L1031.1,1043.8L1032.1,1043.1L1033.1,1043.3L1034.1,1042.7L1035.1,1043.7L1036.1,1042.8L1037.1,1043L1038.1,1042.9L1039.1,1043.1L1040.1,1038.3L1041.1,1040.1L1042.1,1039.4L1043.1,1037L1044.1,1037L1045.1,1039.8L1046.1,1039L1047.1,1034.2L1048.1,1034.9L1049.1,1034L1050.1,1034.7L1051.1,1032.9L1052.1,1034.6L1053.1,1032.9L1054.1,1035.4L1055.1,1031L1056.1,1032.2L1057.1,1033.6L1058.1,1032.1L1059.1,1034L1060.1,1033.3L1061.1,1030.6L1062.1,1034.4L1063.1,1031.6L1064.1,1030.8L1065.1,1031.7L1066.1,1028.9L1067.1,1030.3L1068.1,1029.3L1069.1,1030L1070.1,1031L1071.1,1032.5L1072.1,1027.1L1073.1,1031.7L1074.1,1028.1L1075.1,1028.4L1076.1,1028.5L1077.1,1031.5L1078.1,1024.8L1079.1,1028.9L1080.1,1027.9L1081.1,1026L1082.1,1026.4L1083.1,1025.9L1084.1,1027.3L1085.1,1028.3L1086.1,1028.7L1087.1,1024.9L1088.1,1026.6L1089.1,1031L1090.1,1028.2L1091.1,1025.6L1092.1,1027.6L1093.1,1028.8L1094.1,1025.3L1095.1,1028.4L1096.1,1026.5L1097.1,1027.8L1098.1,1027.1L1099.1,1026.8L1100.1,1024.6L1101.1,1029.8L1102.1,1031.6L1103.1,1035.8L1104.1,1037.5L1105.1,1035.7L1105.1,1035.7C1107.6,1039.2 1110.1,1043.9 1112.6,1046.4C1117.4,1051.1 1122.2,1054.3 1127,1056.7C1131.4,1058.9 1135.9,1061.8 1140.3,1061.8C1148.2,1061.8 1156.1,1055.5 1164,1052.6C1170.8,1050.1 1177.7,1047.6 1184.5,1045.4C1194.8,1042 1205.1,1038 1215.4,1036.1C1225.7,1034.2 1235.9,1032.6 1246.2,1032C1254.4,1031.5 1262.7,1031.6 1270.9,1031C1278.4,1030.4 1286,1022.8 1293.5,1021.7C1298.3,1021 1303.2,1020.3 1308,1020.3C1313.5,1020.3 1318.9,1021.1 1324.4,1021.7C1336.3,1023 1348.1,1025.1 1360,1027.4C1373.7,1030 1387.4,1033.4 1401.1,1037.1C1414.8,1040.9 1428.6,1046.2 1442.3,1050.5C1449.1,1052.6 1456,1054.1 1462.8,1056.7C1468.3,1058.8 1473.8,1064.9 1479.3,1064.9C1486.2,1064.9 1493,1060.3 1499.9,1059.8C1508.1,1059.2 1516.3,1059.4 1524.5,1058.7C1531.4,1058.2 1538.2,1052.6 1545.1,1052.6C1548.5,1052.6 1552,1053.9 1555.4,1055.6C1558.8,1057.3 1562.3,1067 1565.7,1075.2C1567.7,1080 1569.8,1092.5 1571.8,1093.7C1573.9,1094.9 1575.9,1095.7 1578,1095.7C1580.7,1095.7 1583.5,1081.3 1586.2,1077.2C1593.1,1066.8 1599.9,1059.1 1606.8,1055.6C1615,1051.4 1623.3,1050.8 1631.5,1047.4C1638.4,1044.6 1645.2,1036.5 1652.1,1036.5C1653.5,1036.5 1654.8,1037.7 1656.2,1039.2C1658.2,1041.4 1660.3,1056.1 1662.3,1062.8C1664.7,1070.7 1667.1,1083.4 1669.5,1083.4C1671.2,1083.4 1673,1077.1 1674.7,1071.1C1676.8,1063.9 1678.8,1031.3 1680.9,1027.9C1681.9,1026.2 1682.9,1024.8 1683.9,1024.8C1685.3,1024.8 1686.7,1032 1688.1,1032C1690.5,1032 1692.9,1026.5 1695.3,1023.8" fill="none" stroke="#1a6fdf" stroke-width="2.2" stroke-linejoin="round" stroke-linecap="round"/>
<rect x="1023" y="968.8" width="672.4" height="541" fill="none" stroke="#000" stroke-width="2.7"/>
<line x1="1210.2" y1="1411.4" x2="1275" y2="1411.4" stroke="#4a4a4a" stroke-width="2.4"/>
<line x1="1210.2" y1="1446.4" x2="1275" y2="1446.4" stroke="#f14040" stroke-width="2.4"/>
<line x1="1210.2" y1="1481.3" x2="1275" y2="1481.3" stroke="#1a6fdf" stroke-width="2.4"/>
<text x="1282.5" y="1421.3" font-size="29" font-weight="bold" fill="#000" text-anchor="start" font-family="'Liberation Serif','Times New Roman',serif">CAT@MnS</text>
<text x="1282.5" y="1456.2" font-size="29" font-weight="bold" fill="#000" text-anchor="start" font-family="'Liberation Serif','Times New Roman',serif">CAT</text>
<text x="1282.5" y="1491.2" font-size="29" font-weight="bold" fill="#000" text-anchor="start" font-family="'Liberation Serif','Times New Roman',serif">MnS</text>
<line x1="148.3" y1="2201.2" x2="154.3" y2="2201.2" stroke="#000" stroke-width="3"/>
<line x1="143.8" y1="2159.1" x2="154.3" y2="2159.1" stroke="#000" stroke-width="3"/>
<text x="136.3" y="2170.3" font-size="34" font-weight="bold" fill="#000" text-anchor="end" font-family="'Liberation Serif','Times New Roman',serif">-10</text>
<line x1="148.3" y1="2117.1" x2="154.3" y2="2117.1" stroke="#000" stroke-width="3"/>
<line x1="143.8" y1="2075" x2="154.3" y2="2075" stroke="#000" stroke-width="3"/>
<text x="136.3" y="2086.2" font-size="34" font-weight="bold" fill="#000" text-anchor="end" font-family="'Liberation Serif','Times New Roman',serif">-5</text>
<line x1="148.3" y1="2033" x2="154.3" y2="2033" stroke="#000" stroke-width="3"/>
<line x1="143.8" y1="1990.9" x2="154.3" y2="1990.9" stroke="#000" stroke-width="3"/>
<text x="136.3" y="2002.1" font-size="34" font-weight="bold" fill="#000" text-anchor="end" font-family="'Liberation Serif','Times New Roman',serif">0</text>
<line x1="148.3" y1="1948.9" x2="154.3" y2="1948.9" stroke="#000" stroke-width="3"/>
<line x1="143.8" y1="1906.8" x2="154.3" y2="1906.8" stroke="#000" stroke-width="3"/>
<text x="136.3" y="1918" font-size="34" font-weight="bold" fill="#000" text-anchor="end" font-family="'Liberation Serif','Times New Roman',serif">5</text>
<line x1="148.3" y1="1864.8" x2="154.3" y2="1864.8" stroke="#000" stroke-width="3"/>
<line x1="143.8" y1="1822.7" x2="154.3" y2="1822.7" stroke="#000" stroke-width="3"/>
<text x="136.3" y="1833.9" font-size="34" font-weight="bold" fill="#000" text-anchor="end" font-family="'Liberation Serif','Times New Roman',serif">10</text>
<line x1="148.3" y1="1780.7" x2="154.3" y2="1780.7" stroke="#000" stroke-width="3"/>
<line x1="143.8" y1="1738.6" x2="154.3" y2="1738.6" stroke="#000" stroke-width="3"/>
<text x="136.3" y="1749.8" font-size="34" font-weight="bold" fill="#000" text-anchor="end" font-family="'Liberation Serif','Times New Roman',serif">15</text>
<line x1="148.3" y1="1696.6" x2="154.3" y2="1696.6" stroke="#000" stroke-width="3"/>
<line x1="143.8" y1="1654.5" x2="154.3" y2="1654.5" stroke="#000" stroke-width="3"/>
<text x="136.3" y="1665.7" font-size="34" font-weight="bold" fill="#000" text-anchor="end" font-family="'Liberation Serif','Times New Roman',serif">20</text>
<line x1="198.8" y1="2202" x2="198.8" y2="2211" stroke="#000" stroke-width="3"/>
<text x="198.8" y="2245.8" font-size="34.5" font-weight="bold" fill="#000" text-anchor="middle" font-family="'Liberation Serif','Times New Roman',serif">200</text>
<line x1="311.7" y1="2202" x2="311.7" y2="2207" stroke="#000" stroke-width="3"/>
<line x1="424.6" y1="2202" x2="424.6" y2="2211" stroke="#000" stroke-width="3"/>
<text x="424.6" y="2245.8" font-size="34.5" font-weight="bold" fill="#000" text-anchor="middle" font-family="'Liberation Serif','Times New Roman',serif">250</text>
<line x1="537.5" y1="2202" x2="537.5" y2="2207" stroke="#000" stroke-width="3"/>
<line x1="650.4" y1="2202" x2="650.4" y2="2211" stroke="#000" stroke-width="3"/>
<text x="650.4" y="2245.8" font-size="34.5" font-weight="bold" fill="#000" text-anchor="middle" font-family="'Liberation Serif','Times New Roman',serif">300</text>
<line x1="763.2" y1="2202" x2="763.2" y2="2207" stroke="#000" stroke-width="3"/>
<line x1="876.1" y1="2202" x2="876.1" y2="2211" stroke="#000" stroke-width="3"/>
<text x="876.1" y="2245.8" font-size="34.5" font-weight="bold" fill="#000" text-anchor="middle" font-family="'Liberation Serif','Times New Roman',serif">350</text>
<text x="516.7" y="2286.7" font-size="39" font-weight="bold" fill="#000" text-anchor="middle" font-family="'Liberation Serif','Times New Roman',serif">Wavelength (nm)</text>
<text x="0" y="0" font-size="39.7" font-weight="bold" font-family="'Liberation Serif','Times New Roman',serif" text-anchor="middle" transform="translate(67,1933.8) rotate(-90)">g-factor</text>
<path d="M154.9,1683.2C158.1,1691.7 161.4,1701 164.6,1708.8C167.9,1716.7 171.1,1723.5 174.4,1730.8C178.5,1739.8 182.5,1749.1 186.6,1757.6C190.7,1766.1 194.7,1774.2 198.8,1782C202.1,1788.3 205.3,1792.9 208.6,1800.3C211,1805.8 213.5,1815.3 215.9,1821.1C219.2,1828.8 222.4,1836.2 225.7,1840.6C228.9,1844.9 232.2,1848.8 235.4,1850.4C239.1,1852.2 242.7,1854 246.4,1854C250.1,1854 253.7,1852 257.4,1850.4C263.9,1847.5 270.4,1839.9 276.9,1834.5C285,1827.7 293.2,1821 301.3,1813.8C306.2,1809.5 311.1,1804.7 316,1800.3C323.3,1793.7 330.6,1787.1 337.9,1780.8C346,1773.7 354.2,1765 362.3,1760.1C366.4,1757.6 370.5,1755.6 374.6,1754C381.1,1751.5 387.6,1749.9 394.1,1747.9C402.2,1745.4 410.4,1741.7 418.5,1740.5C425.7,1739.5 432.8,1739.2 440,1738.4C447.1,1737.6 454.2,1735.9 461.3,1735.9C471.9,1735.9 482.6,1737.3 493.2,1737.3C506.5,1737.3 519.9,1735.4 533.2,1735.4C545.6,1735.4 558,1739.4 570.4,1739.4C580.2,1739.4 589.9,1735.8 599.7,1734.6C611.2,1733.2 622.8,1731.4 634.3,1731.4C647.6,1731.4 660.9,1733.8 674.2,1734.1C684.9,1734.4 695.5,1734.6 706.2,1734.6C723,1734.6 739.9,1734 756.7,1733.3C766.5,1732.9 776.2,1730.8 786,1730.1C795.8,1729.4 805.5,1728.5 815.3,1728.5C823.3,1728.5 831.3,1729.6 839.3,1730.6C846.4,1731.5 853.4,1734.6 860.5,1734.6C865.8,1734.6 871.2,1734.6 876.5,1734.6" fill="none" stroke="#ff0000" stroke-width="3" stroke-linejoin="round" stroke-linecap="round"/>
<path d="M154.9,1884.6C158.1,1894.3 161.4,1903.7 164.6,1913.8C167.9,1924 171.1,1935.4 174.4,1945.6C178.5,1958.3 182.5,1970 186.6,1982.2C190.7,1994.4 194.7,2005.2 198.8,2018.8C202.1,2029.7 205.3,2042.7 208.6,2055.4C211,2064.8 213.5,2074.5 215.9,2084.7C218.3,2094.9 220.8,2108.7 223.2,2116.4C227.3,2129.3 231.3,2137.6 235.4,2145.7C238.3,2151.4 241.1,2157.2 244,2160.5C246.8,2163.7 249.7,2167.7 252.5,2167.7C256.6,2167.7 260.6,2165.2 264.7,2162.8C271.2,2159 277.7,2147.5 284.2,2138.4C289.9,2130.4 295.6,2120.6 301.3,2111.5C307.8,2101.1 314.4,2089.5 320.9,2079.8C327.4,2070.1 333.9,2061.1 340.4,2053C346.9,2044.9 353.4,2037.9 359.9,2031C366.4,2024.1 372.9,2015.8 379.4,2011.5C384.3,2008.3 389.2,2005.6 394.1,2004.1C399.8,2002.4 405.5,2000.9 411.2,2000.5C416.1,2000.1 420.9,1999.8 425.8,1999.8C430.5,1999.8 435.3,2001.2 440,2001.2C455.1,2001.2 470.1,2000.3 485.2,1999.4C501.2,1998.4 517.2,1993.6 533.2,1993.6C546.5,1993.6 559.8,1997.6 573.1,1997.6C597.1,1997.6 621,1992.8 645,1992.8C656.5,1992.8 668,1995.3 679.5,1995.5C703.5,1995.8 727.4,1996 751.4,1996C771.8,1996 792.2,1992.8 812.6,1992.8C823.3,1992.8 833.9,1994.4 844.6,1994.4C855.2,1994.4 865.9,1993.3 876.5,1992.8" fill="none" stroke="#000" stroke-width="3" stroke-linejoin="round" stroke-linecap="round"/>
<rect x="154.3" y="1655.5" width="722.3" height="546.5" fill="none" stroke="#000" stroke-width="3.9"/>
<line x1="526.1" y1="2113" x2="582.8" y2="2113" stroke="#ff0000" stroke-width="3"/>
<line x1="526.1" y1="2154.5" x2="582.8" y2="2154.5" stroke="#000" stroke-width="3"/>
<text x="590.5" y="2122.3" font-size="34.3" font-weight="bold" fill="#ff0000" text-anchor="start" font-family="'Liberation Serif','Times New Roman',serif">CAT@MnS</text>
<text x="590.5" y="2163.8" font-size="34.3" font-weight="bold" fill="#000" text-anchor="start" font-family="'Liberation Serif','Times New Roman',serif">CAT</text>
<line x1="995.6" y1="2207.5" x2="1007.6" y2="2207.5" stroke="#000" stroke-width="2.6"/>
<text x="989.5" y="2216.8" font-size="30" font-weight="bold" fill="#000" text-anchor="end" font-family="'Liberation Serif','Times New Roman',serif">0</text>
<line x1="1001.1" y1="2157" x2="1007.6" y2="2157" stroke="#000" stroke-width="2.6"/>
<line x1="995.6" y1="2106.5" x2="1007.6" y2="2106.5" stroke="#000" stroke-width="2.6"/>
<text x="989.5" y="2115.8" font-size="30" font-weight="bold" fill="#000" text-anchor="end" font-family="'Liberation Serif','Times New Roman',serif">1</text>
<line x1="1001.1" y1="2056" x2="1007.6" y2="2056" stroke="#000" stroke-width="2.6"/>
<line x1="995.6" y1="2005.5" x2="1007.6" y2="2005.5" stroke="#000" stroke-width="2.6"/>
<text x="989.5" y="2014.8" font-size="30" font-weight="bold" fill="#000" text-anchor="end" font-family="'Liberation Serif','Times New Roman',serif">2</text>
<line x1="1001.1" y1="1955" x2="1007.6" y2="1955" stroke="#000" stroke-width="2.6"/>
<line x1="995.6" y1="1904.5" x2="1007.6" y2="1904.5" stroke="#000" stroke-width="2.6"/>
<text x="989.5" y="1913.8" font-size="30" font-weight="bold" fill="#000" text-anchor="end" font-family="'Liberation Serif','Times New Roman',serif">3</text>
<line x1="1001.1" y1="1854" x2="1007.6" y2="1854" stroke="#000" stroke-width="2.6"/>
<line x1="995.6" y1="1803.5" x2="1007.6" y2="1803.5" stroke="#000" stroke-width="2.6"/>
<text x="989.5" y="1812.8" font-size="30" font-weight="bold" fill="#000" text-anchor="end" font-family="'Liberation Serif','Times New Roman',serif">4</text>
<line x1="1001.1" y1="1753" x2="1007.6" y2="1753" stroke="#000" stroke-width="2.6"/>
<line x1="995.6" y1="1702.5" x2="1007.6" y2="1702.5" stroke="#000" stroke-width="2.6"/>
<text x="989.5" y="1711.8" font-size="30" font-weight="bold" fill="#000" text-anchor="end" font-family="'Liberation Serif','Times New Roman',serif">5</text>
<line x1="1031.1" y1="2208" x2="1031.1" y2="2213" stroke="#000" stroke-width="2.6"/>
<line x1="1091.6" y1="2208" x2="1091.6" y2="2218" stroke="#000" stroke-width="2.6"/>
<text x="1091.6" y="2251.4" font-size="32.5" font-weight="bold" fill="#000" text-anchor="middle" font-family="'Liberation Serif','Times New Roman',serif">300</text>
<line x1="1152.1" y1="2208" x2="1152.1" y2="2213" stroke="#000" stroke-width="2.6"/>
<line x1="1212.7" y1="2208" x2="1212.7" y2="2218" stroke="#000" stroke-width="2.6"/>
<text x="1212.7" y="2251.4" font-size="32.5" font-weight="bold" fill="#000" text-anchor="middle" font-family="'Liberation Serif','Times New Roman',serif">400</text>
<line x1="1273.2" y1="2208" x2="1273.2" y2="2213" stroke="#000" stroke-width="2.6"/>
<line x1="1333.7" y1="2208" x2="1333.7" y2="2218" stroke="#000" stroke-width="2.6"/>
<text x="1333.7" y="2251.4" font-size="32.5" font-weight="bold" fill="#000" text-anchor="middle" font-family="'Liberation Serif','Times New Roman',serif">500</text>
<line x1="1394.2" y1="2208" x2="1394.2" y2="2213" stroke="#000" stroke-width="2.6"/>
<line x1="1454.8" y1="2208" x2="1454.8" y2="2218" stroke="#000" stroke-width="2.6"/>
<text x="1454.8" y="2251.4" font-size="32.5" font-weight="bold" fill="#000" text-anchor="middle" font-family="'Liberation Serif','Times New Roman',serif">600</text>
<line x1="1515.3" y1="2208" x2="1515.3" y2="2213" stroke="#000" stroke-width="2.6"/>
<line x1="1575.8" y1="2208" x2="1575.8" y2="2218" stroke="#000" stroke-width="2.6"/>
<text x="1575.8" y="2251.4" font-size="32.5" font-weight="bold" fill="#000" text-anchor="middle" font-family="'Liberation Serif','Times New Roman',serif">700</text>
<line x1="1636.4" y1="2208" x2="1636.4" y2="2213" stroke="#000" stroke-width="2.6"/>
<line x1="1696.9" y1="2208" x2="1696.9" y2="2218" stroke="#000" stroke-width="2.6"/>
<text x="1696.9" y="2251.4" font-size="32.5" font-weight="bold" fill="#000" text-anchor="middle" font-family="'Liberation Serif','Times New Roman',serif">800</text>
<text x="1353.2" y="2308.5" font-size="36.5" font-weight="bold" fill="#000" text-anchor="middle" font-family="'Liberation Serif','Times New Roman',serif">Wavelength (nm)</text>
<text x="0" y="0" font-size="36.5" font-weight="bold" font-family="'Liberation Serif','Times New Roman',serif" text-anchor="middle" transform="translate(945,1916.5) rotate(-90)">Absorbance (a.u.)</text>
<path d="M1008,1751C1012.2,1751.8 1016.5,1751.8 1020.7,1753.3C1021.6,1753.6 1022.5,1755.5 1023.4,1756.1C1025.2,1757.4 1027,1758.8 1028.8,1758.8C1029.3,1758.8 1029.8,1734.3 1030.3,1734.3C1040.1,1734.3 1049.9,1748.4 1059.7,1754.2C1060.8,1754.8 1061.9,1756 1063,1756C1064.9,1756 1066.8,1734.3 1068.7,1734.3C1073.6,1734.3 1078.4,1734.6 1083.3,1737.9C1083.6,1738.1 1083.9,1744.9 1084.2,1753.3C1084.4,1759.8 1084.7,1792.1 1084.9,1800C1085.6,1824.7 1086.4,1829.8 1087.1,1843.6C1087.8,1857.4 1088.6,1878.6 1089.3,1882.8C1090.5,1889.7 1091.7,1889.9 1092.9,1894.4C1095.3,1903.4 1097.8,1921.6 1100.2,1927.8C1103.6,1936.4 1106.9,1938.8 1110.3,1945.2C1114.2,1952.6 1118.1,1962.5 1122,1969.9C1127.3,1979.9 1132.6,1996.7 1137.9,1996.7C1138.9,1996.7 1139.8,1979.3 1140.8,1979.3C1142.7,1979.3 1144.7,1995.7 1146.6,2000.4C1149,2006.3 1151.5,2010.5 1153.9,2013.4C1154.9,2014.6 1156,2015.2 1157,2016.3C1163.3,2022.9 1169.5,2032.7 1175.8,2041C1181.6,2048.7 1187.5,2057.8 1193.3,2064.2C1199.6,2071 1205.8,2076.8 1212.1,2081.6C1214.7,2083.6 1217.4,2085.2 1220,2087C1230.1,2094 1240.1,2102 1250.2,2108.2C1260.3,2114.4 1270.4,2121.9 1280.5,2124.9C1288.6,2127.3 1296.6,2130 1304.7,2130C1313.8,2130 1322.8,2127.3 1331.9,2127.3C1338,2127.3 1344,2130 1350.1,2131.8C1362.2,2135.4 1374.3,2141.4 1386.4,2146C1396.5,2149.8 1406.5,2154.9 1416.6,2157.2C1426.7,2159.5 1436.8,2160.8 1446.9,2162.1C1472.1,2165.3 1497.3,2167.5 1522.5,2169.6C1552.7,2172.2 1583,2174.2 1613.2,2176.3C1641.2,2178.2 1669.3,2179.9 1697.3,2181.7" fill="none" stroke="#f14040" stroke-width="2.2" stroke-linejoin="round" stroke-linecap="round"/>
<path d="M1008,1750.6C1009.5,1750 1011,1748.8 1012.5,1748.8C1014,1748.8 1015.5,1749.1 1017,1749.5C1018.2,1749.8 1019.5,1750.6 1020.7,1753.3C1021.2,1754.4 1021.7,1756.9 1022.2,1771.5C1022.3,1774.4 1022.4,1853.8 1022.5,1858.1C1023.5,1900.1 1024.4,1902.3 1025.4,1908.9C1027.3,1922.1 1029.3,1930.1 1031.2,1931.4C1033.1,1932.7 1035.1,1933.6 1037,1933.6C1039.2,1933.6 1041.4,1928.1 1043.6,1923.4C1045.8,1918.8 1047.9,1910.8 1050.1,1901.6C1051.8,1894.4 1053.5,1887.2 1055.2,1872.6C1056.2,1864.3 1057.1,1839.4 1058.1,1829C1058.6,1823.2 1059.2,1823.9 1059.7,1815C1060,1810 1060.3,1754.2 1060.6,1754.2C1061.8,1754.2 1063,1776.9 1064.2,1776.9C1065.7,1776.9 1067.2,1733.4 1068.7,1733.4C1069.6,1733.4 1070.6,1747.4 1071.5,1771.5C1071.9,1781 1072.2,1848.6 1072.6,1858.1C1074.5,1908.1 1076.5,1914.6 1078.4,1930.7C1080.3,1946.8 1082.3,1956.3 1084.2,1967C1086.1,1977.7 1088.1,1990.6 1090,1996C1092.9,2004 1095.8,2009 1098.7,2012C1103.5,2017.1 1108.4,2019.6 1113.2,2022.1C1121.4,2026.4 1129.7,2032 1137.9,2032C1138.9,2032 1139.8,2015.6 1140.8,2015.6C1144.2,2015.6 1147.6,2028.1 1151,2030.9C1155.4,2034.5 1159.8,2036.6 1164.2,2038.1C1168.1,2039.4 1171.9,2039 1175.8,2041C1176.8,2041.5 1177.7,2045.6 1178.7,2046.1C1183.6,2048.6 1188.4,2049.7 1193.3,2049.7C1199.6,2049.7 1205.8,2049.7 1212.1,2049.7C1215.5,2049.7 1218.9,2051.6 1222.3,2052.6C1226.6,2053.9 1230.8,2055 1235.1,2056.8C1242.2,2059.8 1249.2,2068.1 1256.3,2070.4C1269.4,2074.7 1282.5,2076.6 1295.6,2078.6C1310.7,2080.9 1325.9,2082.6 1341,2084C1361.2,2085.9 1381.3,2087.5 1401.5,2088.6C1431.7,2090.2 1462,2090.8 1492.2,2092.2C1532.5,2094 1572.9,2096.6 1613.2,2098.5C1641.2,2099.8 1669.3,2101 1697.3,2102.2" fill="none" stroke="#37ad6b" stroke-width="2.2" stroke-linejoin="round" stroke-linecap="round"/>
<path d="M1008.2,1752C1008.5,1784.7 1008.7,1827.6 1009,1850C1009.4,1886.5 1009.9,1911.1 1010.3,1930C1010.8,1951.8 1011.3,1963.9 1011.8,1980C1012.3,1995 1012.7,2015.1 1013.2,2023.6C1014.4,2046.2 1015.7,2053.6 1016.9,2067.1C1018.3,2082.7 1019.8,2101.6 1021.2,2110.7C1022.9,2121.5 1024.6,2131.4 1026.3,2133.9C1028.2,2136.8 1030.2,2139 1032.1,2139C1034.5,2139 1037,2136 1039.4,2133.9C1043.3,2130.6 1047.1,2124.3 1051,2120.8C1054.9,2117.3 1058.7,2112.1 1062.6,2112.1C1065.5,2112.1 1068.4,2114.7 1071.3,2117.9C1073.2,2120 1075.2,2127.2 1077.1,2132.4C1080,2140.3 1082.9,2152.8 1085.8,2158.6C1088.7,2164.4 1091.6,2169.7 1094.5,2171.7C1098.4,2174.4 1102.3,2175.8 1106.2,2176.7C1115.9,2179 1125.5,2180.3 1135.2,2181.1C1148.7,2182.2 1162.3,2183.3 1175.8,2183.3C1181.6,2183.3 1187.5,2181.8 1193.3,2181.1C1201,2180.1 1208.8,2178.2 1216.5,2178.2C1222.7,2178.2 1228.9,2180.6 1235.1,2182.3C1242.2,2184.2 1249.2,2189 1256.3,2189.9C1274.4,2192.2 1292.6,2193.2 1310.7,2193.5C1361.1,2194.3 1411.6,2194.1 1462,2194.7C1540.4,2195.6 1618.9,2198.2 1697.3,2199.9" fill="none" stroke="#4a4a4a" stroke-width="2.2" stroke-linejoin="round" stroke-linecap="round"/>
<path d="M1007.6,1996C1008,2010 1008.5,2029.2 1008.9,2038.1C1010.3,2067.6 1011.8,2080.8 1013.2,2096.2C1015.1,2117 1017.1,2138.9 1019,2147C1020.9,2155.1 1022.9,2161.6 1024.8,2162.9C1026.8,2164.2 1028.7,2165.1 1030.7,2165.1C1034.1,2165.1 1037.4,2160.2 1040.8,2157.1C1044.7,2153.5 1048.5,2146.8 1052.4,2144.1C1056.3,2141.4 1060.1,2138.3 1064,2138.3C1066.9,2138.3 1069.9,2141.3 1072.8,2144.1C1076.7,2147.8 1080.5,2159.9 1084.4,2165.8C1087.8,2170.9 1091.1,2176.5 1094.5,2178.9C1098.4,2181.7 1102.3,2183.5 1106.2,2184.7C1115.9,2187.6 1125.5,2189.5 1135.2,2190.5C1149.7,2192 1164.2,2193.4 1178.7,2193.4C1191.3,2193.4 1203.9,2190.5 1216.5,2190.5C1229.8,2190.5 1243,2196.2 1256.3,2196.5C1304.7,2197.6 1353.1,2198 1401.5,2198C1426.7,2198 1451.9,2196.5 1477.1,2196.5C1550.5,2196.5 1623.9,2199.8 1697.3,2201.4" fill="none" stroke="#1a6fdf" stroke-width="2.2" stroke-linejoin="round" stroke-linecap="round"/>
<rect x="1007.6" y="1652.3" width="689.9" height="555.7" fill="none" stroke="#000" stroke-width="2.7"/>
<line x1="1435.4" y1="1699" x2="1502.6" y2="1699" stroke="#4a4a4a" stroke-width="2.4"/>
<line x1="1435.4" y1="1735.3" x2="1502.6" y2="1735.3" stroke="#f14040" stroke-width="2.4"/>
<line x1="1435.4" y1="1774.9" x2="1502.6" y2="1774.9" stroke="#1a6fdf" stroke-width="2.4"/>
<line x1="1435.4" y1="1811.2" x2="1502.6" y2="1811.2" stroke="#37ad6b" stroke-width="2.4"/>
<text x="1509.5" y="1709" font-size="29" font-weight="bold" fill="#000" text-anchor="start" font-family="'Liberation Serif','Times New Roman',serif">CAT</text>
<text x="1509.5" y="1744.8" font-size="29" font-weight="bold" fill="#000" text-anchor="start" font-family="'Liberation Serif','Times New Roman',serif">BSA@MnS</text>
<text x="1509.5" y="1784.3" font-size="29" font-weight="bold" font-family="'Liberation Serif','Times New Roman',serif">CAT-Mn<tspan font-size="18.5" dy="-11.5">2+</tspan></text>
<text x="1509.5" y="1820.6" font-size="29" font-weight="bold" fill="#000" text-anchor="start" font-family="'Liberation Serif','Times New Roman',serif">CAT@MnS</text></svg></body></html>
